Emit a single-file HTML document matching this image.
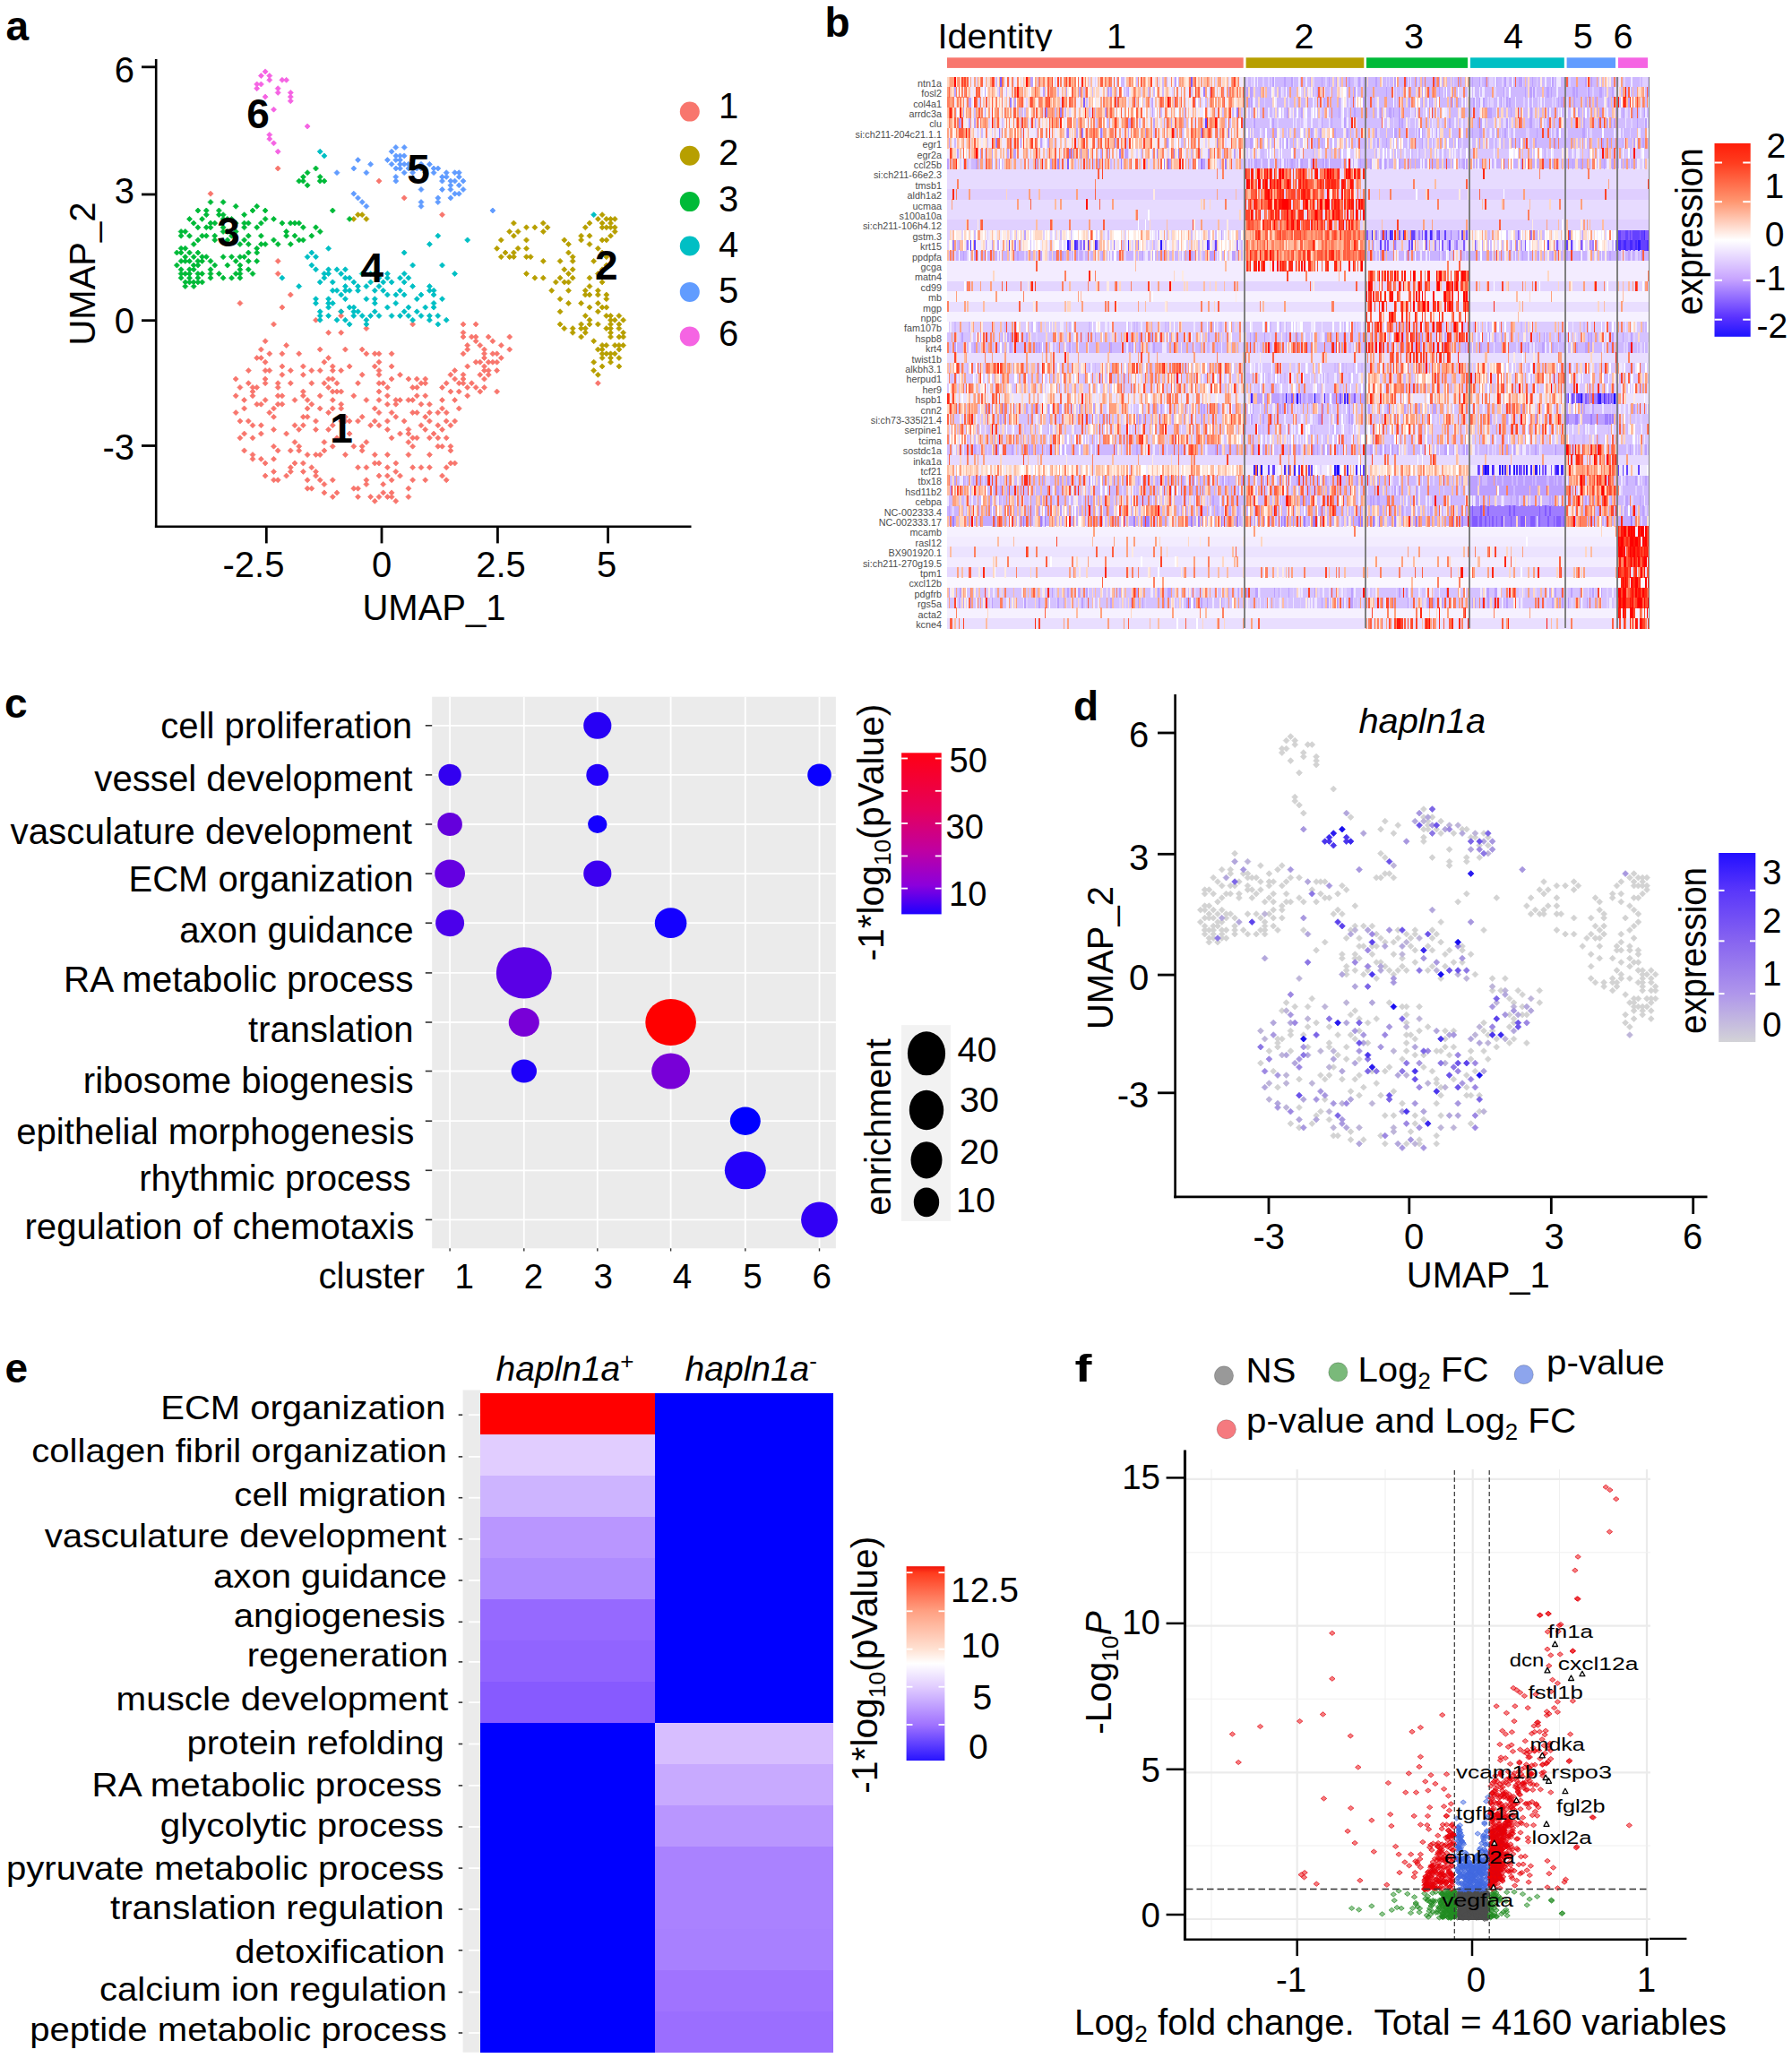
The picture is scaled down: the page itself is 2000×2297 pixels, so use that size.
<!DOCTYPE html>
<html lang="en"><head><meta charset="utf-8"><title>Figure</title>
<style>html,body{margin:0;padding:0;background:#fff}svg{display:block}</style></head>
<body>
<svg width="2000" height="2297" viewBox="0 0 2000 2297" font-family='"Liberation Sans", sans-serif' fill="#000">
<text x="6.5" y="44.6" font-size="46" font-weight="bold">a</text>
<text x="920.5" y="40.5" font-size="46" font-weight="bold">b</text>
<text x="5.0" y="801.3" font-size="46" font-weight="bold">c</text>
<text x="1198.0" y="804.0" font-size="46" font-weight="bold">d</text>
<text x="5.5" y="1542.5" font-size="46" font-weight="bold">e</text>
<text x="1199.5" y="1542.2" font-size="42" font-weight="bold" textLength="19.0" lengthAdjust="spacingAndGlyphs">f</text>
<line x1="174.2" y1="66.0" x2="174.2" y2="589.0" stroke="#000" stroke-width="2.6"/>
<line x1="172.9" y1="587.7" x2="771.5" y2="587.7" stroke="#000" stroke-width="2.6"/>
<line x1="158.0" y1="74.8" x2="174.0" y2="74.8" stroke="#000" stroke-width="2.8"/>
<line x1="158.0" y1="217.0" x2="174.0" y2="217.0" stroke="#000" stroke-width="2.8"/>
<line x1="158.0" y1="357.7" x2="174.0" y2="357.7" stroke="#000" stroke-width="2.8"/>
<line x1="158.0" y1="497.5" x2="174.0" y2="497.5" stroke="#000" stroke-width="2.8"/>
<line x1="297.3" y1="587.7" x2="297.3" y2="606.4" stroke="#000" stroke-width="2.8"/>
<line x1="426.0" y1="587.7" x2="426.0" y2="606.4" stroke="#000" stroke-width="2.8"/>
<line x1="555.4" y1="587.7" x2="555.4" y2="606.4" stroke="#000" stroke-width="2.8"/>
<line x1="678.6" y1="587.7" x2="678.6" y2="606.4" stroke="#000" stroke-width="2.8"/>
<text x="150.0" y="91.5" font-size="40" text-anchor="end">6</text>
<text x="150.0" y="227.2" font-size="40" text-anchor="end">3</text>
<text x="150.0" y="372.2" font-size="40" text-anchor="end">0</text>
<text x="150.0" y="513.0" font-size="40" text-anchor="end">-3</text>
<text x="283.0" y="643.9" font-size="40" text-anchor="middle">-2.5</text>
<text x="426.0" y="643.9" font-size="40" text-anchor="middle">0</text>
<text x="559.0" y="643.9" font-size="40" text-anchor="middle">2.5</text>
<text x="677.0" y="643.9" font-size="40" text-anchor="middle">5</text>
<text x="484.5" y="692.0" font-size="40" text-anchor="middle">UMAP_1</text>
<text x="106.0" y="305.5" font-size="40" text-anchor="middle" transform="rotate(-90 106.0 305.5)">UMAP_2</text>
<path d="M307.2,188.0l3.0,-3.0 3.0,3.0 -3.0,3.0zM232.0,216.2l3.0,-3.0 3.0,3.0 -3.0,3.0zM420.0,202.1l3.0,-3.0 3.0,3.0 -3.0,3.0zM448.2,220.9l3.0,-3.0 3.0,3.0 -3.0,3.0zM307.2,291.4l3.0,-3.0 3.0,3.0 -3.0,3.0zM307.2,305.5l3.0,-3.0 3.0,3.0 -3.0,3.0zM321.3,329.0l3.0,-3.0 3.0,3.0 -3.0,3.0zM264.9,338.4l3.0,-3.0 3.0,3.0 -3.0,3.0zM311.9,343.1l3.0,-3.0 3.0,3.0 -3.0,3.0zM377.7,352.5l3.0,-3.0 3.0,3.0 -3.0,3.0zM490.5,239.7l3.0,-3.0 3.0,3.0 -3.0,3.0zM457.6,361.9l3.0,-3.0 3.0,3.0 -3.0,3.0zM565.7,376.0l3.0,-3.0 3.0,3.0 -3.0,3.0zM565.7,390.1l3.0,-3.0 3.0,3.0 -3.0,3.0zM664.4,427.7l3.0,-3.0 3.0,3.0 -3.0,3.0zM302.5,361.9l3.0,-3.0 3.0,3.0 -3.0,3.0zM349.5,357.2l3.0,-3.0 3.0,3.0 -3.0,3.0zM363.6,371.3l3.0,-3.0 3.0,3.0 -3.0,3.0zM377.7,371.3l3.0,-3.0 3.0,3.0 -3.0,3.0zM405.9,366.6l3.0,-3.0 3.0,3.0 -3.0,3.0zM377.7,347.8l3.0,-3.0 3.0,3.0 -3.0,3.0zM321.3,526.4l3.0,-3.0 3.0,3.0 -3.0,3.0zM424.7,427.7l3.0,-3.0 3.0,3.0 -3.0,3.0zM335.4,418.3l3.0,-3.0 3.0,3.0 -3.0,3.0zM344.8,427.7l3.0,-3.0 3.0,3.0 -3.0,3.0zM499.9,517.0l3.0,-3.0 3.0,3.0 -3.0,3.0zM471.7,535.8l3.0,-3.0 3.0,3.0 -3.0,3.0zM335.4,465.3l3.0,-3.0 3.0,3.0 -3.0,3.0zM387.1,408.9l3.0,-3.0 3.0,3.0 -3.0,3.0zM518.7,385.4l3.0,-3.0 3.0,3.0 -3.0,3.0zM457.6,432.4l3.0,-3.0 3.0,3.0 -3.0,3.0zM532.8,418.3l3.0,-3.0 3.0,3.0 -3.0,3.0zM288.4,399.5l3.0,-3.0 3.0,3.0 -3.0,3.0zM457.6,498.2l3.0,-3.0 3.0,3.0 -3.0,3.0zM344.8,413.6l3.0,-3.0 3.0,3.0 -3.0,3.0zM269.6,484.1l3.0,-3.0 3.0,3.0 -3.0,3.0zM363.6,399.5l3.0,-3.0 3.0,3.0 -3.0,3.0zM391.8,545.2l3.0,-3.0 3.0,3.0 -3.0,3.0zM330.7,394.8l3.0,-3.0 3.0,3.0 -3.0,3.0zM452.9,493.5l3.0,-3.0 3.0,3.0 -3.0,3.0zM415.3,394.8l3.0,-3.0 3.0,3.0 -3.0,3.0zM528.1,380.7l3.0,-3.0 3.0,3.0 -3.0,3.0zM311.9,408.9l3.0,-3.0 3.0,3.0 -3.0,3.0zM415.3,455.9l3.0,-3.0 3.0,3.0 -3.0,3.0zM429.4,507.6l3.0,-3.0 3.0,3.0 -3.0,3.0zM260.2,423.0l3.0,-3.0 3.0,3.0 -3.0,3.0zM302.5,479.4l3.0,-3.0 3.0,3.0 -3.0,3.0zM349.5,531.1l3.0,-3.0 3.0,3.0 -3.0,3.0zM467.0,521.7l3.0,-3.0 3.0,3.0 -3.0,3.0zM382.4,390.1l3.0,-3.0 3.0,3.0 -3.0,3.0zM462.3,423.0l3.0,-3.0 3.0,3.0 -3.0,3.0zM297.8,394.8l3.0,-3.0 3.0,3.0 -3.0,3.0zM377.7,470.0l3.0,-3.0 3.0,3.0 -3.0,3.0zM429.4,441.8l3.0,-3.0 3.0,3.0 -3.0,3.0zM358.9,549.9l3.0,-3.0 3.0,3.0 -3.0,3.0zM495.2,470.0l3.0,-3.0 3.0,3.0 -3.0,3.0zM499.9,474.7l3.0,-3.0 3.0,3.0 -3.0,3.0zM293.1,413.6l3.0,-3.0 3.0,3.0 -3.0,3.0zM354.2,441.8l3.0,-3.0 3.0,3.0 -3.0,3.0zM476.4,521.7l3.0,-3.0 3.0,3.0 -3.0,3.0zM354.2,390.1l3.0,-3.0 3.0,3.0 -3.0,3.0zM490.5,498.2l3.0,-3.0 3.0,3.0 -3.0,3.0zM373.0,427.7l3.0,-3.0 3.0,3.0 -3.0,3.0zM302.5,526.4l3.0,-3.0 3.0,3.0 -3.0,3.0zM396.5,521.7l3.0,-3.0 3.0,3.0 -3.0,3.0zM363.6,423.0l3.0,-3.0 3.0,3.0 -3.0,3.0zM415.3,507.6l3.0,-3.0 3.0,3.0 -3.0,3.0zM528.1,432.4l3.0,-3.0 3.0,3.0 -3.0,3.0zM471.7,441.8l3.0,-3.0 3.0,3.0 -3.0,3.0zM429.4,432.4l3.0,-3.0 3.0,3.0 -3.0,3.0zM340.1,535.8l3.0,-3.0 3.0,3.0 -3.0,3.0zM504.6,423.0l3.0,-3.0 3.0,3.0 -3.0,3.0zM283.7,399.5l3.0,-3.0 3.0,3.0 -3.0,3.0zM429.4,470.0l3.0,-3.0 3.0,3.0 -3.0,3.0zM382.4,470.0l3.0,-3.0 3.0,3.0 -3.0,3.0zM288.4,390.1l3.0,-3.0 3.0,3.0 -3.0,3.0zM462.3,488.8l3.0,-3.0 3.0,3.0 -3.0,3.0zM420.0,517.0l3.0,-3.0 3.0,3.0 -3.0,3.0zM302.5,465.3l3.0,-3.0 3.0,3.0 -3.0,3.0zM377.7,455.9l3.0,-3.0 3.0,3.0 -3.0,3.0zM499.9,498.2l3.0,-3.0 3.0,3.0 -3.0,3.0zM349.5,507.6l3.0,-3.0 3.0,3.0 -3.0,3.0zM405.9,521.7l3.0,-3.0 3.0,3.0 -3.0,3.0zM368.3,535.8l3.0,-3.0 3.0,3.0 -3.0,3.0zM467.0,451.2l3.0,-3.0 3.0,3.0 -3.0,3.0zM429.4,521.7l3.0,-3.0 3.0,3.0 -3.0,3.0zM420.0,554.6l3.0,-3.0 3.0,3.0 -3.0,3.0zM476.4,460.6l3.0,-3.0 3.0,3.0 -3.0,3.0zM518.7,390.1l3.0,-3.0 3.0,3.0 -3.0,3.0zM358.9,502.9l3.0,-3.0 3.0,3.0 -3.0,3.0zM509.3,437.1l3.0,-3.0 3.0,3.0 -3.0,3.0zM279.0,474.7l3.0,-3.0 3.0,3.0 -3.0,3.0zM354.2,413.6l3.0,-3.0 3.0,3.0 -3.0,3.0zM429.4,451.2l3.0,-3.0 3.0,3.0 -3.0,3.0zM349.5,479.4l3.0,-3.0 3.0,3.0 -3.0,3.0zM293.1,427.7l3.0,-3.0 3.0,3.0 -3.0,3.0zM293.1,446.5l3.0,-3.0 3.0,3.0 -3.0,3.0zM551.6,404.2l3.0,-3.0 3.0,3.0 -3.0,3.0zM420.0,418.3l3.0,-3.0 3.0,3.0 -3.0,3.0zM467.0,474.7l3.0,-3.0 3.0,3.0 -3.0,3.0zM443.5,418.3l3.0,-3.0 3.0,3.0 -3.0,3.0zM485.8,498.2l3.0,-3.0 3.0,3.0 -3.0,3.0zM401.2,418.3l3.0,-3.0 3.0,3.0 -3.0,3.0zM269.6,455.9l3.0,-3.0 3.0,3.0 -3.0,3.0zM405.9,394.8l3.0,-3.0 3.0,3.0 -3.0,3.0zM340.1,507.6l3.0,-3.0 3.0,3.0 -3.0,3.0zM363.6,479.4l3.0,-3.0 3.0,3.0 -3.0,3.0zM293.1,531.1l3.0,-3.0 3.0,3.0 -3.0,3.0zM358.9,540.5l3.0,-3.0 3.0,3.0 -3.0,3.0zM438.8,526.4l3.0,-3.0 3.0,3.0 -3.0,3.0zM274.3,470.0l3.0,-3.0 3.0,3.0 -3.0,3.0zM546.9,380.7l3.0,-3.0 3.0,3.0 -3.0,3.0zM551.6,413.6l3.0,-3.0 3.0,3.0 -3.0,3.0zM434.1,549.9l3.0,-3.0 3.0,3.0 -3.0,3.0zM335.4,526.4l3.0,-3.0 3.0,3.0 -3.0,3.0zM260.2,441.8l3.0,-3.0 3.0,3.0 -3.0,3.0zM368.3,474.7l3.0,-3.0 3.0,3.0 -3.0,3.0zM330.7,502.9l3.0,-3.0 3.0,3.0 -3.0,3.0zM542.2,376.0l3.0,-3.0 3.0,3.0 -3.0,3.0zM471.7,427.7l3.0,-3.0 3.0,3.0 -3.0,3.0zM420.0,413.6l3.0,-3.0 3.0,3.0 -3.0,3.0zM415.3,559.3l3.0,-3.0 3.0,3.0 -3.0,3.0zM518.7,441.8l3.0,-3.0 3.0,3.0 -3.0,3.0zM429.4,531.1l3.0,-3.0 3.0,3.0 -3.0,3.0zM316.6,531.1l3.0,-3.0 3.0,3.0 -3.0,3.0zM264.9,470.0l3.0,-3.0 3.0,3.0 -3.0,3.0zM311.9,441.8l3.0,-3.0 3.0,3.0 -3.0,3.0zM438.8,446.5l3.0,-3.0 3.0,3.0 -3.0,3.0zM490.5,479.4l3.0,-3.0 3.0,3.0 -3.0,3.0zM438.8,559.3l3.0,-3.0 3.0,3.0 -3.0,3.0zM326.0,446.5l3.0,-3.0 3.0,3.0 -3.0,3.0zM354.2,455.9l3.0,-3.0 3.0,3.0 -3.0,3.0zM307.2,441.8l3.0,-3.0 3.0,3.0 -3.0,3.0zM471.7,423.0l3.0,-3.0 3.0,3.0 -3.0,3.0zM288.4,484.1l3.0,-3.0 3.0,3.0 -3.0,3.0zM396.5,545.2l3.0,-3.0 3.0,3.0 -3.0,3.0zM288.4,512.3l3.0,-3.0 3.0,3.0 -3.0,3.0zM462.3,432.4l3.0,-3.0 3.0,3.0 -3.0,3.0zM490.5,455.9l3.0,-3.0 3.0,3.0 -3.0,3.0zM401.2,498.2l3.0,-3.0 3.0,3.0 -3.0,3.0zM443.5,446.5l3.0,-3.0 3.0,3.0 -3.0,3.0zM311.9,451.2l3.0,-3.0 3.0,3.0 -3.0,3.0zM424.7,540.5l3.0,-3.0 3.0,3.0 -3.0,3.0zM358.9,404.2l3.0,-3.0 3.0,3.0 -3.0,3.0zM452.9,507.6l3.0,-3.0 3.0,3.0 -3.0,3.0zM330.7,498.2l3.0,-3.0 3.0,3.0 -3.0,3.0zM457.6,535.8l3.0,-3.0 3.0,3.0 -3.0,3.0zM321.3,427.7l3.0,-3.0 3.0,3.0 -3.0,3.0zM485.8,488.8l3.0,-3.0 3.0,3.0 -3.0,3.0zM269.6,446.5l3.0,-3.0 3.0,3.0 -3.0,3.0zM448.2,470.0l3.0,-3.0 3.0,3.0 -3.0,3.0zM335.4,517.0l3.0,-3.0 3.0,3.0 -3.0,3.0zM354.2,535.8l3.0,-3.0 3.0,3.0 -3.0,3.0zM499.9,437.1l3.0,-3.0 3.0,3.0 -3.0,3.0zM420.0,446.5l3.0,-3.0 3.0,3.0 -3.0,3.0zM452.9,423.0l3.0,-3.0 3.0,3.0 -3.0,3.0zM340.1,545.2l3.0,-3.0 3.0,3.0 -3.0,3.0zM363.6,432.4l3.0,-3.0 3.0,3.0 -3.0,3.0zM504.6,517.0l3.0,-3.0 3.0,3.0 -3.0,3.0zM415.3,408.9l3.0,-3.0 3.0,3.0 -3.0,3.0zM495.2,521.7l3.0,-3.0 3.0,3.0 -3.0,3.0zM358.9,427.7l3.0,-3.0 3.0,3.0 -3.0,3.0zM471.7,465.3l3.0,-3.0 3.0,3.0 -3.0,3.0zM495.2,427.7l3.0,-3.0 3.0,3.0 -3.0,3.0zM382.4,507.6l3.0,-3.0 3.0,3.0 -3.0,3.0zM485.8,474.7l3.0,-3.0 3.0,3.0 -3.0,3.0zM269.6,502.9l3.0,-3.0 3.0,3.0 -3.0,3.0zM481.1,484.1l3.0,-3.0 3.0,3.0 -3.0,3.0zM321.3,502.9l3.0,-3.0 3.0,3.0 -3.0,3.0zM326.0,474.7l3.0,-3.0 3.0,3.0 -3.0,3.0zM377.7,413.6l3.0,-3.0 3.0,3.0 -3.0,3.0zM302.5,535.8l3.0,-3.0 3.0,3.0 -3.0,3.0zM452.9,545.2l3.0,-3.0 3.0,3.0 -3.0,3.0zM349.5,470.0l3.0,-3.0 3.0,3.0 -3.0,3.0zM405.9,540.5l3.0,-3.0 3.0,3.0 -3.0,3.0zM434.1,488.8l3.0,-3.0 3.0,3.0 -3.0,3.0zM438.8,517.0l3.0,-3.0 3.0,3.0 -3.0,3.0zM293.1,380.7l3.0,-3.0 3.0,3.0 -3.0,3.0zM326.0,493.5l3.0,-3.0 3.0,3.0 -3.0,3.0zM335.4,437.1l3.0,-3.0 3.0,3.0 -3.0,3.0zM335.4,408.9l3.0,-3.0 3.0,3.0 -3.0,3.0zM368.3,423.0l3.0,-3.0 3.0,3.0 -3.0,3.0zM485.8,460.6l3.0,-3.0 3.0,3.0 -3.0,3.0zM532.8,385.4l3.0,-3.0 3.0,3.0 -3.0,3.0zM410.6,474.7l3.0,-3.0 3.0,3.0 -3.0,3.0zM293.1,423.0l3.0,-3.0 3.0,3.0 -3.0,3.0zM452.9,484.1l3.0,-3.0 3.0,3.0 -3.0,3.0zM279.0,512.3l3.0,-3.0 3.0,3.0 -3.0,3.0zM307.2,427.7l3.0,-3.0 3.0,3.0 -3.0,3.0zM373.0,549.9l3.0,-3.0 3.0,3.0 -3.0,3.0zM335.4,474.7l3.0,-3.0 3.0,3.0 -3.0,3.0zM297.8,413.6l3.0,-3.0 3.0,3.0 -3.0,3.0zM420.0,531.1l3.0,-3.0 3.0,3.0 -3.0,3.0zM420.0,394.8l3.0,-3.0 3.0,3.0 -3.0,3.0zM279.0,432.4l3.0,-3.0 3.0,3.0 -3.0,3.0zM438.8,465.3l3.0,-3.0 3.0,3.0 -3.0,3.0zM429.4,479.4l3.0,-3.0 3.0,3.0 -3.0,3.0zM330.7,479.4l3.0,-3.0 3.0,3.0 -3.0,3.0zM420.0,427.7l3.0,-3.0 3.0,3.0 -3.0,3.0zM387.1,470.0l3.0,-3.0 3.0,3.0 -3.0,3.0zM476.4,488.8l3.0,-3.0 3.0,3.0 -3.0,3.0zM326.0,517.0l3.0,-3.0 3.0,3.0 -3.0,3.0zM405.9,446.5l3.0,-3.0 3.0,3.0 -3.0,3.0zM476.4,507.6l3.0,-3.0 3.0,3.0 -3.0,3.0zM504.6,413.6l3.0,-3.0 3.0,3.0 -3.0,3.0zM462.3,460.6l3.0,-3.0 3.0,3.0 -3.0,3.0zM401.2,465.3l3.0,-3.0 3.0,3.0 -3.0,3.0zM307.2,451.2l3.0,-3.0 3.0,3.0 -3.0,3.0zM363.6,460.6l3.0,-3.0 3.0,3.0 -3.0,3.0zM420.0,437.1l3.0,-3.0 3.0,3.0 -3.0,3.0zM429.4,554.6l3.0,-3.0 3.0,3.0 -3.0,3.0zM354.2,507.6l3.0,-3.0 3.0,3.0 -3.0,3.0zM377.7,437.1l3.0,-3.0 3.0,3.0 -3.0,3.0zM434.1,554.6l3.0,-3.0 3.0,3.0 -3.0,3.0zM452.9,479.4l3.0,-3.0 3.0,3.0 -3.0,3.0zM514.0,427.7l3.0,-3.0 3.0,3.0 -3.0,3.0zM420.0,474.7l3.0,-3.0 3.0,3.0 -3.0,3.0zM279.0,507.6l3.0,-3.0 3.0,3.0 -3.0,3.0zM373.0,488.8l3.0,-3.0 3.0,3.0 -3.0,3.0zM344.8,545.2l3.0,-3.0 3.0,3.0 -3.0,3.0zM368.3,413.6l3.0,-3.0 3.0,3.0 -3.0,3.0zM532.8,404.2l3.0,-3.0 3.0,3.0 -3.0,3.0zM340.1,455.9l3.0,-3.0 3.0,3.0 -3.0,3.0zM321.3,521.7l3.0,-3.0 3.0,3.0 -3.0,3.0zM279.0,441.8l3.0,-3.0 3.0,3.0 -3.0,3.0zM499.9,502.9l3.0,-3.0 3.0,3.0 -3.0,3.0zM509.3,455.9l3.0,-3.0 3.0,3.0 -3.0,3.0zM307.2,535.8l3.0,-3.0 3.0,3.0 -3.0,3.0zM434.1,535.8l3.0,-3.0 3.0,3.0 -3.0,3.0zM302.5,455.9l3.0,-3.0 3.0,3.0 -3.0,3.0zM443.5,531.1l3.0,-3.0 3.0,3.0 -3.0,3.0zM297.8,460.6l3.0,-3.0 3.0,3.0 -3.0,3.0zM438.8,451.2l3.0,-3.0 3.0,3.0 -3.0,3.0zM401.2,390.1l3.0,-3.0 3.0,3.0 -3.0,3.0zM476.4,470.0l3.0,-3.0 3.0,3.0 -3.0,3.0zM349.5,526.4l3.0,-3.0 3.0,3.0 -3.0,3.0zM377.7,451.2l3.0,-3.0 3.0,3.0 -3.0,3.0zM537.5,390.1l3.0,-3.0 3.0,3.0 -3.0,3.0zM288.4,451.2l3.0,-3.0 3.0,3.0 -3.0,3.0zM415.3,517.0l3.0,-3.0 3.0,3.0 -3.0,3.0zM311.9,418.3l3.0,-3.0 3.0,3.0 -3.0,3.0zM490.5,446.5l3.0,-3.0 3.0,3.0 -3.0,3.0zM542.2,404.2l3.0,-3.0 3.0,3.0 -3.0,3.0zM528.1,404.2l3.0,-3.0 3.0,3.0 -3.0,3.0zM279.0,437.1l3.0,-3.0 3.0,3.0 -3.0,3.0zM415.3,470.0l3.0,-3.0 3.0,3.0 -3.0,3.0zM288.4,474.7l3.0,-3.0 3.0,3.0 -3.0,3.0zM396.5,427.7l3.0,-3.0 3.0,3.0 -3.0,3.0zM274.3,413.6l3.0,-3.0 3.0,3.0 -3.0,3.0zM452.9,554.6l3.0,-3.0 3.0,3.0 -3.0,3.0zM293.1,517.0l3.0,-3.0 3.0,3.0 -3.0,3.0zM293.1,404.2l3.0,-3.0 3.0,3.0 -3.0,3.0zM443.5,484.1l3.0,-3.0 3.0,3.0 -3.0,3.0zM504.6,470.0l3.0,-3.0 3.0,3.0 -3.0,3.0zM368.3,554.6l3.0,-3.0 3.0,3.0 -3.0,3.0zM434.1,408.9l3.0,-3.0 3.0,3.0 -3.0,3.0zM368.3,446.5l3.0,-3.0 3.0,3.0 -3.0,3.0zM434.1,423.0l3.0,-3.0 3.0,3.0 -3.0,3.0zM401.2,502.9l3.0,-3.0 3.0,3.0 -3.0,3.0zM260.2,460.6l3.0,-3.0 3.0,3.0 -3.0,3.0zM420.0,404.2l3.0,-3.0 3.0,3.0 -3.0,3.0zM495.2,460.6l3.0,-3.0 3.0,3.0 -3.0,3.0zM368.3,408.9l3.0,-3.0 3.0,3.0 -3.0,3.0zM279.0,488.8l3.0,-3.0 3.0,3.0 -3.0,3.0zM467.0,427.7l3.0,-3.0 3.0,3.0 -3.0,3.0zM391.8,498.2l3.0,-3.0 3.0,3.0 -3.0,3.0zM307.2,432.4l3.0,-3.0 3.0,3.0 -3.0,3.0zM321.3,413.6l3.0,-3.0 3.0,3.0 -3.0,3.0zM264.9,488.8l3.0,-3.0 3.0,3.0 -3.0,3.0zM344.8,451.2l3.0,-3.0 3.0,3.0 -3.0,3.0zM316.6,484.1l3.0,-3.0 3.0,3.0 -3.0,3.0zM471.7,479.4l3.0,-3.0 3.0,3.0 -3.0,3.0zM457.6,460.6l3.0,-3.0 3.0,3.0 -3.0,3.0zM307.2,502.9l3.0,-3.0 3.0,3.0 -3.0,3.0zM457.6,521.7l3.0,-3.0 3.0,3.0 -3.0,3.0zM283.7,451.2l3.0,-3.0 3.0,3.0 -3.0,3.0zM509.3,427.7l3.0,-3.0 3.0,3.0 -3.0,3.0zM434.1,394.8l3.0,-3.0 3.0,3.0 -3.0,3.0zM457.6,488.8l3.0,-3.0 3.0,3.0 -3.0,3.0zM424.7,549.9l3.0,-3.0 3.0,3.0 -3.0,3.0zM358.9,493.5l3.0,-3.0 3.0,3.0 -3.0,3.0zM476.4,451.2l3.0,-3.0 3.0,3.0 -3.0,3.0zM340.1,446.5l3.0,-3.0 3.0,3.0 -3.0,3.0zM405.9,535.8l3.0,-3.0 3.0,3.0 -3.0,3.0zM405.9,493.5l3.0,-3.0 3.0,3.0 -3.0,3.0zM434.1,460.6l3.0,-3.0 3.0,3.0 -3.0,3.0zM264.9,432.4l3.0,-3.0 3.0,3.0 -3.0,3.0zM344.8,521.7l3.0,-3.0 3.0,3.0 -3.0,3.0zM490.5,531.1l3.0,-3.0 3.0,3.0 -3.0,3.0zM335.4,441.8l3.0,-3.0 3.0,3.0 -3.0,3.0zM528.1,376.0l3.0,-3.0 3.0,3.0 -3.0,3.0zM368.3,498.2l3.0,-3.0 3.0,3.0 -3.0,3.0zM420.0,460.6l3.0,-3.0 3.0,3.0 -3.0,3.0zM410.6,554.6l3.0,-3.0 3.0,3.0 -3.0,3.0zM490.5,432.4l3.0,-3.0 3.0,3.0 -3.0,3.0zM523.4,376.0l3.0,-3.0 3.0,3.0 -3.0,3.0zM495.2,488.8l3.0,-3.0 3.0,3.0 -3.0,3.0zM368.3,455.9l3.0,-3.0 3.0,3.0 -3.0,3.0zM556.3,399.5l3.0,-3.0 3.0,3.0 -3.0,3.0zM302.5,512.3l3.0,-3.0 3.0,3.0 -3.0,3.0zM499.9,418.3l3.0,-3.0 3.0,3.0 -3.0,3.0zM274.3,427.7l3.0,-3.0 3.0,3.0 -3.0,3.0zM368.3,437.1l3.0,-3.0 3.0,3.0 -3.0,3.0zM452.9,446.5l3.0,-3.0 3.0,3.0 -3.0,3.0zM396.5,554.6l3.0,-3.0 3.0,3.0 -3.0,3.0zM340.1,465.3l3.0,-3.0 3.0,3.0 -3.0,3.0zM504.6,446.5l3.0,-3.0 3.0,3.0 -3.0,3.0zM391.8,441.8l3.0,-3.0 3.0,3.0 -3.0,3.0zM382.4,465.3l3.0,-3.0 3.0,3.0 -3.0,3.0zM316.6,385.4l3.0,-3.0 3.0,3.0 -3.0,3.0zM542.2,418.3l3.0,-3.0 3.0,3.0 -3.0,3.0zM462.3,441.8l3.0,-3.0 3.0,3.0 -3.0,3.0zM396.5,470.0l3.0,-3.0 3.0,3.0 -3.0,3.0zM311.9,394.8l3.0,-3.0 3.0,3.0 -3.0,3.0zM302.5,498.2l3.0,-3.0 3.0,3.0 -3.0,3.0zM387.1,484.1l3.0,-3.0 3.0,3.0 -3.0,3.0zM457.6,446.5l3.0,-3.0 3.0,3.0 -3.0,3.0zM283.7,432.4l3.0,-3.0 3.0,3.0 -3.0,3.0zM551.6,437.1l3.0,-3.0 3.0,3.0 -3.0,3.0zM495.2,535.8l3.0,-3.0 3.0,3.0 -3.0,3.0zM373.0,437.1l3.0,-3.0 3.0,3.0 -3.0,3.0zM514.0,371.3l3.0,-3.0 3.0,3.0 -3.0,3.0zM537.5,399.5l3.0,-3.0 3.0,3.0 -3.0,3.0zM532.8,437.1l3.0,-3.0 3.0,3.0 -3.0,3.0zM518.7,408.9l3.0,-3.0 3.0,3.0 -3.0,3.0zM518.7,432.4l3.0,-3.0 3.0,3.0 -3.0,3.0zM514.0,418.3l3.0,-3.0 3.0,3.0 -3.0,3.0zM514.0,376.0l3.0,-3.0 3.0,3.0 -3.0,3.0zM551.6,394.8l3.0,-3.0 3.0,3.0 -3.0,3.0zM528.1,361.9l3.0,-3.0 3.0,3.0 -3.0,3.0zM546.9,394.8l3.0,-3.0 3.0,3.0 -3.0,3.0zM514.0,361.9l3.0,-3.0 3.0,3.0 -3.0,3.0zM537.5,413.6l3.0,-3.0 3.0,3.0 -3.0,3.0zM546.9,404.2l3.0,-3.0 3.0,3.0 -3.0,3.0zM514.0,394.8l3.0,-3.0 3.0,3.0 -3.0,3.0zM514.0,423.0l3.0,-3.0 3.0,3.0 -3.0,3.0zM537.5,423.0l3.0,-3.0 3.0,3.0 -3.0,3.0zM556.3,385.4l3.0,-3.0 3.0,3.0 -3.0,3.0zM537.5,394.8l3.0,-3.0 3.0,3.0 -3.0,3.0zM542.2,413.6l3.0,-3.0 3.0,3.0 -3.0,3.0zM537.5,432.4l3.0,-3.0 3.0,3.0 -3.0,3.0zM523.4,427.7l3.0,-3.0 3.0,3.0 -3.0,3.0zM537.5,408.9l3.0,-3.0 3.0,3.0 -3.0,3.0z" fill="#F8766D" stroke="#F8766D" stroke-width="0.8" stroke-linejoin="round"/>
<path d="M396.5,239.7l3.0,-3.0 3.0,3.0 -3.0,3.0zM391.8,244.4l3.0,-3.0 3.0,3.0 -3.0,3.0zM405.9,244.4l3.0,-3.0 3.0,3.0 -3.0,3.0zM401.2,239.7l3.0,-3.0 3.0,3.0 -3.0,3.0zM664.4,305.5l3.0,-3.0 3.0,3.0 -3.0,3.0zM692.6,371.3l3.0,-3.0 3.0,3.0 -3.0,3.0zM593.9,253.8l3.0,-3.0 3.0,3.0 -3.0,3.0zM655.0,310.2l3.0,-3.0 3.0,3.0 -3.0,3.0zM678.5,376.0l3.0,-3.0 3.0,3.0 -3.0,3.0zM612.7,324.3l3.0,-3.0 3.0,3.0 -3.0,3.0zM669.1,314.9l3.0,-3.0 3.0,3.0 -3.0,3.0zM645.6,376.0l3.0,-3.0 3.0,3.0 -3.0,3.0zM603.3,249.1l3.0,-3.0 3.0,3.0 -3.0,3.0zM645.6,338.4l3.0,-3.0 3.0,3.0 -3.0,3.0zM659.7,380.7l3.0,-3.0 3.0,3.0 -3.0,3.0zM561.0,282.0l3.0,-3.0 3.0,3.0 -3.0,3.0zM655.0,343.1l3.0,-3.0 3.0,3.0 -3.0,3.0zM650.3,329.0l3.0,-3.0 3.0,3.0 -3.0,3.0zM673.8,267.9l3.0,-3.0 3.0,3.0 -3.0,3.0zM584.5,286.7l3.0,-3.0 3.0,3.0 -3.0,3.0zM589.2,286.7l3.0,-3.0 3.0,3.0 -3.0,3.0zM673.8,343.1l3.0,-3.0 3.0,3.0 -3.0,3.0zM617.4,314.9l3.0,-3.0 3.0,3.0 -3.0,3.0zM673.8,385.4l3.0,-3.0 3.0,3.0 -3.0,3.0zM673.8,286.7l3.0,-3.0 3.0,3.0 -3.0,3.0zM570.4,249.1l3.0,-3.0 3.0,3.0 -3.0,3.0zM622.1,310.2l3.0,-3.0 3.0,3.0 -3.0,3.0zM631.5,305.5l3.0,-3.0 3.0,3.0 -3.0,3.0zM664.4,277.3l3.0,-3.0 3.0,3.0 -3.0,3.0zM626.8,300.8l3.0,-3.0 3.0,3.0 -3.0,3.0zM664.4,347.8l3.0,-3.0 3.0,3.0 -3.0,3.0zM673.8,253.8l3.0,-3.0 3.0,3.0 -3.0,3.0zM631.5,272.6l3.0,-3.0 3.0,3.0 -3.0,3.0zM664.4,329.0l3.0,-3.0 3.0,3.0 -3.0,3.0zM645.6,361.9l3.0,-3.0 3.0,3.0 -3.0,3.0zM584.5,277.3l3.0,-3.0 3.0,3.0 -3.0,3.0zM669.1,267.9l3.0,-3.0 3.0,3.0 -3.0,3.0zM659.7,413.6l3.0,-3.0 3.0,3.0 -3.0,3.0zM645.6,267.9l3.0,-3.0 3.0,3.0 -3.0,3.0zM626.8,267.9l3.0,-3.0 3.0,3.0 -3.0,3.0zM664.4,418.3l3.0,-3.0 3.0,3.0 -3.0,3.0zM655.0,319.6l3.0,-3.0 3.0,3.0 -3.0,3.0zM645.6,263.2l3.0,-3.0 3.0,3.0 -3.0,3.0zM584.5,305.5l3.0,-3.0 3.0,3.0 -3.0,3.0zM655.0,329.0l3.0,-3.0 3.0,3.0 -3.0,3.0zM683.2,258.5l3.0,-3.0 3.0,3.0 -3.0,3.0zM631.5,338.4l3.0,-3.0 3.0,3.0 -3.0,3.0zM556.3,267.9l3.0,-3.0 3.0,3.0 -3.0,3.0zM669.1,282.0l3.0,-3.0 3.0,3.0 -3.0,3.0zM683.2,244.4l3.0,-3.0 3.0,3.0 -3.0,3.0zM631.5,324.3l3.0,-3.0 3.0,3.0 -3.0,3.0zM593.9,310.2l3.0,-3.0 3.0,3.0 -3.0,3.0zM673.8,329.0l3.0,-3.0 3.0,3.0 -3.0,3.0zM565.7,258.5l3.0,-3.0 3.0,3.0 -3.0,3.0zM678.5,263.2l3.0,-3.0 3.0,3.0 -3.0,3.0zM570.4,263.2l3.0,-3.0 3.0,3.0 -3.0,3.0zM626.8,366.6l3.0,-3.0 3.0,3.0 -3.0,3.0zM565.7,286.7l3.0,-3.0 3.0,3.0 -3.0,3.0zM622.1,291.4l3.0,-3.0 3.0,3.0 -3.0,3.0zM631.5,282.0l3.0,-3.0 3.0,3.0 -3.0,3.0zM650.3,253.8l3.0,-3.0 3.0,3.0 -3.0,3.0zM636.2,366.6l3.0,-3.0 3.0,3.0 -3.0,3.0zM664.4,324.3l3.0,-3.0 3.0,3.0 -3.0,3.0zM603.3,258.5l3.0,-3.0 3.0,3.0 -3.0,3.0zM570.4,282.0l3.0,-3.0 3.0,3.0 -3.0,3.0zM692.6,385.4l3.0,-3.0 3.0,3.0 -3.0,3.0zM659.7,404.2l3.0,-3.0 3.0,3.0 -3.0,3.0zM655.0,357.2l3.0,-3.0 3.0,3.0 -3.0,3.0zM687.9,361.9l3.0,-3.0 3.0,3.0 -3.0,3.0zM655.0,263.2l3.0,-3.0 3.0,3.0 -3.0,3.0zM669.1,408.9l3.0,-3.0 3.0,3.0 -3.0,3.0zM669.1,385.4l3.0,-3.0 3.0,3.0 -3.0,3.0zM673.8,296.1l3.0,-3.0 3.0,3.0 -3.0,3.0zM575.1,277.3l3.0,-3.0 3.0,3.0 -3.0,3.0zM645.6,366.6l3.0,-3.0 3.0,3.0 -3.0,3.0zM664.4,361.9l3.0,-3.0 3.0,3.0 -3.0,3.0zM687.9,390.1l3.0,-3.0 3.0,3.0 -3.0,3.0zM636.2,291.4l3.0,-3.0 3.0,3.0 -3.0,3.0zM673.8,333.7l3.0,-3.0 3.0,3.0 -3.0,3.0zM678.5,361.9l3.0,-3.0 3.0,3.0 -3.0,3.0zM636.2,310.2l3.0,-3.0 3.0,3.0 -3.0,3.0zM622.1,361.9l3.0,-3.0 3.0,3.0 -3.0,3.0zM678.5,371.3l3.0,-3.0 3.0,3.0 -3.0,3.0zM655.0,249.1l3.0,-3.0 3.0,3.0 -3.0,3.0zM687.9,399.5l3.0,-3.0 3.0,3.0 -3.0,3.0zM659.7,291.4l3.0,-3.0 3.0,3.0 -3.0,3.0zM626.8,314.9l3.0,-3.0 3.0,3.0 -3.0,3.0zM650.3,366.6l3.0,-3.0 3.0,3.0 -3.0,3.0zM584.5,267.9l3.0,-3.0 3.0,3.0 -3.0,3.0zM655.0,272.6l3.0,-3.0 3.0,3.0 -3.0,3.0zM556.3,286.7l3.0,-3.0 3.0,3.0 -3.0,3.0zM603.3,310.2l3.0,-3.0 3.0,3.0 -3.0,3.0zM636.2,286.7l3.0,-3.0 3.0,3.0 -3.0,3.0zM669.1,343.1l3.0,-3.0 3.0,3.0 -3.0,3.0zM655.0,361.9l3.0,-3.0 3.0,3.0 -3.0,3.0zM687.9,376.0l3.0,-3.0 3.0,3.0 -3.0,3.0zM622.1,333.7l3.0,-3.0 3.0,3.0 -3.0,3.0zM664.4,390.1l3.0,-3.0 3.0,3.0 -3.0,3.0zM678.5,404.2l3.0,-3.0 3.0,3.0 -3.0,3.0zM650.3,352.5l3.0,-3.0 3.0,3.0 -3.0,3.0zM584.5,253.8l3.0,-3.0 3.0,3.0 -3.0,3.0zM575.1,258.5l3.0,-3.0 3.0,3.0 -3.0,3.0zM669.1,300.8l3.0,-3.0 3.0,3.0 -3.0,3.0zM636.2,300.8l3.0,-3.0 3.0,3.0 -3.0,3.0zM664.4,338.4l3.0,-3.0 3.0,3.0 -3.0,3.0zM608.0,253.8l3.0,-3.0 3.0,3.0 -3.0,3.0zM636.2,371.3l3.0,-3.0 3.0,3.0 -3.0,3.0zM631.5,314.9l3.0,-3.0 3.0,3.0 -3.0,3.0zM622.1,347.8l3.0,-3.0 3.0,3.0 -3.0,3.0zM650.3,324.3l3.0,-3.0 3.0,3.0 -3.0,3.0zM603.3,291.4l3.0,-3.0 3.0,3.0 -3.0,3.0zM570.4,286.7l3.0,-3.0 3.0,3.0 -3.0,3.0zM692.6,376.0l3.0,-3.0 3.0,3.0 -3.0,3.0zM687.9,408.9l3.0,-3.0 3.0,3.0 -3.0,3.0zM650.3,371.3l3.0,-3.0 3.0,3.0 -3.0,3.0zM551.6,277.3l3.0,-3.0 3.0,3.0 -3.0,3.0zM673.8,366.6l3.0,-3.0 3.0,3.0 -3.0,3.0zM692.6,357.2l3.0,-3.0 3.0,3.0 -3.0,3.0zM673.8,352.5l3.0,-3.0 3.0,3.0 -3.0,3.0zM678.5,366.6l3.0,-3.0 3.0,3.0 -3.0,3.0zM683.2,357.2l3.0,-3.0 3.0,3.0 -3.0,3.0zM678.5,352.5l3.0,-3.0 3.0,3.0 -3.0,3.0zM687.9,366.6l3.0,-3.0 3.0,3.0 -3.0,3.0zM687.9,352.5l3.0,-3.0 3.0,3.0 -3.0,3.0zM678.5,357.2l3.0,-3.0 3.0,3.0 -3.0,3.0zM683.2,385.4l3.0,-3.0 3.0,3.0 -3.0,3.0zM678.5,394.8l3.0,-3.0 3.0,3.0 -3.0,3.0zM673.8,394.8l3.0,-3.0 3.0,3.0 -3.0,3.0zM678.5,399.5l3.0,-3.0 3.0,3.0 -3.0,3.0zM683.2,394.8l3.0,-3.0 3.0,3.0 -3.0,3.0zM669.1,399.5l3.0,-3.0 3.0,3.0 -3.0,3.0zM669.1,390.1l3.0,-3.0 3.0,3.0 -3.0,3.0zM687.9,385.4l3.0,-3.0 3.0,3.0 -3.0,3.0zM669.1,394.8l3.0,-3.0 3.0,3.0 -3.0,3.0zM669.1,249.1l3.0,-3.0 3.0,3.0 -3.0,3.0zM669.1,239.7l3.0,-3.0 3.0,3.0 -3.0,3.0zM669.1,253.8l3.0,-3.0 3.0,3.0 -3.0,3.0zM683.2,253.8l3.0,-3.0 3.0,3.0 -3.0,3.0zM673.8,244.4l3.0,-3.0 3.0,3.0 -3.0,3.0zM678.5,249.1l3.0,-3.0 3.0,3.0 -3.0,3.0zM678.5,244.4l3.0,-3.0 3.0,3.0 -3.0,3.0zM678.5,253.8l3.0,-3.0 3.0,3.0 -3.0,3.0zM664.4,244.4l3.0,-3.0 3.0,3.0 -3.0,3.0z" fill="#B79F00" stroke="#B79F00" stroke-width="0.8" stroke-linejoin="round"/>
<path d="M349.5,188.0l3.0,-3.0 3.0,3.0 -3.0,3.0zM340.1,192.7l3.0,-3.0 3.0,3.0 -3.0,3.0zM335.4,197.4l3.0,-3.0 3.0,3.0 -3.0,3.0zM330.7,202.1l3.0,-3.0 3.0,3.0 -3.0,3.0zM335.4,202.1l3.0,-3.0 3.0,3.0 -3.0,3.0zM354.2,197.4l3.0,-3.0 3.0,3.0 -3.0,3.0zM358.9,202.1l3.0,-3.0 3.0,3.0 -3.0,3.0zM340.1,206.8l3.0,-3.0 3.0,3.0 -3.0,3.0zM354.2,202.1l3.0,-3.0 3.0,3.0 -3.0,3.0zM368.3,235.0l3.0,-3.0 3.0,3.0 -3.0,3.0zM387.1,244.4l3.0,-3.0 3.0,3.0 -3.0,3.0zM194.4,282.0l3.0,-3.0 3.0,3.0 -3.0,3.0zM246.1,244.4l3.0,-3.0 3.0,3.0 -3.0,3.0zM274.3,300.8l3.0,-3.0 3.0,3.0 -3.0,3.0zM241.4,239.7l3.0,-3.0 3.0,3.0 -3.0,3.0zM241.4,235.0l3.0,-3.0 3.0,3.0 -3.0,3.0zM208.5,263.2l3.0,-3.0 3.0,3.0 -3.0,3.0zM246.1,225.6l3.0,-3.0 3.0,3.0 -3.0,3.0zM260.2,230.3l3.0,-3.0 3.0,3.0 -3.0,3.0zM246.1,258.5l3.0,-3.0 3.0,3.0 -3.0,3.0zM293.1,235.0l3.0,-3.0 3.0,3.0 -3.0,3.0zM213.2,319.6l3.0,-3.0 3.0,3.0 -3.0,3.0zM199.1,258.5l3.0,-3.0 3.0,3.0 -3.0,3.0zM269.6,239.7l3.0,-3.0 3.0,3.0 -3.0,3.0zM288.4,249.1l3.0,-3.0 3.0,3.0 -3.0,3.0zM279.0,235.0l3.0,-3.0 3.0,3.0 -3.0,3.0zM213.2,249.1l3.0,-3.0 3.0,3.0 -3.0,3.0zM246.1,253.8l3.0,-3.0 3.0,3.0 -3.0,3.0zM208.5,314.9l3.0,-3.0 3.0,3.0 -3.0,3.0zM264.9,310.2l3.0,-3.0 3.0,3.0 -3.0,3.0zM213.2,300.8l3.0,-3.0 3.0,3.0 -3.0,3.0zM203.8,277.3l3.0,-3.0 3.0,3.0 -3.0,3.0zM260.2,258.5l3.0,-3.0 3.0,3.0 -3.0,3.0zM283.7,277.3l3.0,-3.0 3.0,3.0 -3.0,3.0zM255.5,310.2l3.0,-3.0 3.0,3.0 -3.0,3.0zM274.3,249.1l3.0,-3.0 3.0,3.0 -3.0,3.0zM232.0,300.8l3.0,-3.0 3.0,3.0 -3.0,3.0zM255.5,286.7l3.0,-3.0 3.0,3.0 -3.0,3.0zM255.5,263.2l3.0,-3.0 3.0,3.0 -3.0,3.0zM246.1,310.2l3.0,-3.0 3.0,3.0 -3.0,3.0zM208.5,244.4l3.0,-3.0 3.0,3.0 -3.0,3.0zM217.9,282.0l3.0,-3.0 3.0,3.0 -3.0,3.0zM255.5,244.4l3.0,-3.0 3.0,3.0 -3.0,3.0zM217.9,235.0l3.0,-3.0 3.0,3.0 -3.0,3.0zM203.8,286.7l3.0,-3.0 3.0,3.0 -3.0,3.0zM236.7,249.1l3.0,-3.0 3.0,3.0 -3.0,3.0zM250.8,258.5l3.0,-3.0 3.0,3.0 -3.0,3.0zM217.9,310.2l3.0,-3.0 3.0,3.0 -3.0,3.0zM199.1,277.3l3.0,-3.0 3.0,3.0 -3.0,3.0zM199.1,300.8l3.0,-3.0 3.0,3.0 -3.0,3.0zM246.1,286.7l3.0,-3.0 3.0,3.0 -3.0,3.0zM227.3,253.8l3.0,-3.0 3.0,3.0 -3.0,3.0zM199.1,310.2l3.0,-3.0 3.0,3.0 -3.0,3.0zM274.3,291.4l3.0,-3.0 3.0,3.0 -3.0,3.0zM269.6,267.9l3.0,-3.0 3.0,3.0 -3.0,3.0zM264.9,305.5l3.0,-3.0 3.0,3.0 -3.0,3.0zM269.6,249.1l3.0,-3.0 3.0,3.0 -3.0,3.0zM250.8,267.9l3.0,-3.0 3.0,3.0 -3.0,3.0zM274.3,272.6l3.0,-3.0 3.0,3.0 -3.0,3.0zM222.6,286.7l3.0,-3.0 3.0,3.0 -3.0,3.0zM293.1,244.4l3.0,-3.0 3.0,3.0 -3.0,3.0zM222.6,244.4l3.0,-3.0 3.0,3.0 -3.0,3.0zM269.6,253.8l3.0,-3.0 3.0,3.0 -3.0,3.0zM283.7,253.8l3.0,-3.0 3.0,3.0 -3.0,3.0zM260.2,291.4l3.0,-3.0 3.0,3.0 -3.0,3.0zM241.4,305.5l3.0,-3.0 3.0,3.0 -3.0,3.0zM236.7,296.1l3.0,-3.0 3.0,3.0 -3.0,3.0zM203.8,314.9l3.0,-3.0 3.0,3.0 -3.0,3.0zM227.3,235.0l3.0,-3.0 3.0,3.0 -3.0,3.0zM264.9,286.7l3.0,-3.0 3.0,3.0 -3.0,3.0zM264.9,296.1l3.0,-3.0 3.0,3.0 -3.0,3.0zM199.1,282.0l3.0,-3.0 3.0,3.0 -3.0,3.0zM232.0,305.5l3.0,-3.0 3.0,3.0 -3.0,3.0zM279.0,305.5l3.0,-3.0 3.0,3.0 -3.0,3.0zM260.2,305.5l3.0,-3.0 3.0,3.0 -3.0,3.0zM260.2,249.1l3.0,-3.0 3.0,3.0 -3.0,3.0zM227.3,263.2l3.0,-3.0 3.0,3.0 -3.0,3.0zM222.6,291.4l3.0,-3.0 3.0,3.0 -3.0,3.0zM232.0,253.8l3.0,-3.0 3.0,3.0 -3.0,3.0zM293.1,272.6l3.0,-3.0 3.0,3.0 -3.0,3.0zM283.7,282.0l3.0,-3.0 3.0,3.0 -3.0,3.0zM199.1,263.2l3.0,-3.0 3.0,3.0 -3.0,3.0zM232.0,291.4l3.0,-3.0 3.0,3.0 -3.0,3.0zM250.8,244.4l3.0,-3.0 3.0,3.0 -3.0,3.0zM283.7,230.3l3.0,-3.0 3.0,3.0 -3.0,3.0zM213.2,272.6l3.0,-3.0 3.0,3.0 -3.0,3.0zM264.9,272.6l3.0,-3.0 3.0,3.0 -3.0,3.0zM264.9,300.8l3.0,-3.0 3.0,3.0 -3.0,3.0zM236.7,263.2l3.0,-3.0 3.0,3.0 -3.0,3.0zM288.4,272.6l3.0,-3.0 3.0,3.0 -3.0,3.0zM232.0,310.2l3.0,-3.0 3.0,3.0 -3.0,3.0zM217.9,267.9l3.0,-3.0 3.0,3.0 -3.0,3.0zM250.8,296.1l3.0,-3.0 3.0,3.0 -3.0,3.0zM269.6,286.7l3.0,-3.0 3.0,3.0 -3.0,3.0zM208.5,305.5l3.0,-3.0 3.0,3.0 -3.0,3.0zM274.3,282.0l3.0,-3.0 3.0,3.0 -3.0,3.0zM217.9,253.8l3.0,-3.0 3.0,3.0 -3.0,3.0zM246.1,239.7l3.0,-3.0 3.0,3.0 -3.0,3.0zM227.3,239.7l3.0,-3.0 3.0,3.0 -3.0,3.0zM203.8,258.5l3.0,-3.0 3.0,3.0 -3.0,3.0zM213.2,286.7l3.0,-3.0 3.0,3.0 -3.0,3.0zM232.0,225.6l3.0,-3.0 3.0,3.0 -3.0,3.0zM208.5,282.0l3.0,-3.0 3.0,3.0 -3.0,3.0zM288.4,263.2l3.0,-3.0 3.0,3.0 -3.0,3.0zM283.7,291.4l3.0,-3.0 3.0,3.0 -3.0,3.0zM227.3,286.7l3.0,-3.0 3.0,3.0 -3.0,3.0zM236.7,267.9l3.0,-3.0 3.0,3.0 -3.0,3.0zM274.3,263.2l3.0,-3.0 3.0,3.0 -3.0,3.0zM222.6,263.2l3.0,-3.0 3.0,3.0 -3.0,3.0zM232.0,249.1l3.0,-3.0 3.0,3.0 -3.0,3.0zM217.9,296.1l3.0,-3.0 3.0,3.0 -3.0,3.0zM354.2,258.5l3.0,-3.0 3.0,3.0 -3.0,3.0zM307.2,272.6l3.0,-3.0 3.0,3.0 -3.0,3.0zM321.3,249.1l3.0,-3.0 3.0,3.0 -3.0,3.0zM302.5,267.9l3.0,-3.0 3.0,3.0 -3.0,3.0zM344.8,263.2l3.0,-3.0 3.0,3.0 -3.0,3.0zM326.0,263.2l3.0,-3.0 3.0,3.0 -3.0,3.0zM316.6,263.2l3.0,-3.0 3.0,3.0 -3.0,3.0zM326.0,249.1l3.0,-3.0 3.0,3.0 -3.0,3.0zM349.5,253.8l3.0,-3.0 3.0,3.0 -3.0,3.0zM311.9,249.1l3.0,-3.0 3.0,3.0 -3.0,3.0zM316.6,258.5l3.0,-3.0 3.0,3.0 -3.0,3.0zM335.4,253.8l3.0,-3.0 3.0,3.0 -3.0,3.0zM302.5,244.4l3.0,-3.0 3.0,3.0 -3.0,3.0zM335.4,267.9l3.0,-3.0 3.0,3.0 -3.0,3.0zM330.7,267.9l3.0,-3.0 3.0,3.0 -3.0,3.0zM321.3,272.6l3.0,-3.0 3.0,3.0 -3.0,3.0zM330.7,249.1l3.0,-3.0 3.0,3.0 -3.0,3.0zM208.5,291.4l3.0,-3.0 3.0,3.0 -3.0,3.0zM208.5,300.8l3.0,-3.0 3.0,3.0 -3.0,3.0zM217.9,305.5l3.0,-3.0 3.0,3.0 -3.0,3.0zM213.2,314.9l3.0,-3.0 3.0,3.0 -3.0,3.0zM203.8,305.5l3.0,-3.0 3.0,3.0 -3.0,3.0zM222.6,305.5l3.0,-3.0 3.0,3.0 -3.0,3.0zM194.4,296.1l3.0,-3.0 3.0,3.0 -3.0,3.0zM217.9,314.9l3.0,-3.0 3.0,3.0 -3.0,3.0zM213.2,296.1l3.0,-3.0 3.0,3.0 -3.0,3.0zM222.6,314.9l3.0,-3.0 3.0,3.0 -3.0,3.0zM199.1,291.4l3.0,-3.0 3.0,3.0 -3.0,3.0zM217.9,291.4l3.0,-3.0 3.0,3.0 -3.0,3.0zM203.8,319.6l3.0,-3.0 3.0,3.0 -3.0,3.0zM208.5,310.2l3.0,-3.0 3.0,3.0 -3.0,3.0zM203.8,291.4l3.0,-3.0 3.0,3.0 -3.0,3.0zM199.1,305.5l3.0,-3.0 3.0,3.0 -3.0,3.0z" fill="#00BA38" stroke="#00BA38" stroke-width="0.8" stroke-linejoin="round"/>
<path d="M354.2,169.2l3.0,-3.0 3.0,3.0 -3.0,3.0zM358.9,173.9l3.0,-3.0 3.0,3.0 -3.0,3.0zM485.8,263.2l3.0,-3.0 3.0,3.0 -3.0,3.0zM476.4,272.6l3.0,-3.0 3.0,3.0 -3.0,3.0zM518.7,267.9l3.0,-3.0 3.0,3.0 -3.0,3.0zM448.2,282.0l3.0,-3.0 3.0,3.0 -3.0,3.0zM457.6,296.1l3.0,-3.0 3.0,3.0 -3.0,3.0zM490.5,296.1l3.0,-3.0 3.0,3.0 -3.0,3.0zM504.6,305.5l3.0,-3.0 3.0,3.0 -3.0,3.0zM476.4,319.6l3.0,-3.0 3.0,3.0 -3.0,3.0zM490.5,333.7l3.0,-3.0 3.0,3.0 -3.0,3.0zM659.7,239.7l3.0,-3.0 3.0,3.0 -3.0,3.0zM311.9,310.2l3.0,-3.0 3.0,3.0 -3.0,3.0zM330.7,319.6l3.0,-3.0 3.0,3.0 -3.0,3.0zM391.8,347.8l3.0,-3.0 3.0,3.0 -3.0,3.0zM429.4,343.1l3.0,-3.0 3.0,3.0 -3.0,3.0zM363.6,333.7l3.0,-3.0 3.0,3.0 -3.0,3.0zM434.1,314.9l3.0,-3.0 3.0,3.0 -3.0,3.0zM462.3,347.8l3.0,-3.0 3.0,3.0 -3.0,3.0zM344.8,296.1l3.0,-3.0 3.0,3.0 -3.0,3.0zM368.3,338.4l3.0,-3.0 3.0,3.0 -3.0,3.0zM391.8,314.9l3.0,-3.0 3.0,3.0 -3.0,3.0zM349.5,338.4l3.0,-3.0 3.0,3.0 -3.0,3.0zM354.2,314.9l3.0,-3.0 3.0,3.0 -3.0,3.0zM476.4,357.2l3.0,-3.0 3.0,3.0 -3.0,3.0zM363.6,343.1l3.0,-3.0 3.0,3.0 -3.0,3.0zM471.7,343.1l3.0,-3.0 3.0,3.0 -3.0,3.0zM396.5,324.3l3.0,-3.0 3.0,3.0 -3.0,3.0zM396.5,347.8l3.0,-3.0 3.0,3.0 -3.0,3.0zM429.4,329.0l3.0,-3.0 3.0,3.0 -3.0,3.0zM485.8,361.9l3.0,-3.0 3.0,3.0 -3.0,3.0zM420.0,319.6l3.0,-3.0 3.0,3.0 -3.0,3.0zM363.6,300.8l3.0,-3.0 3.0,3.0 -3.0,3.0zM476.4,352.5l3.0,-3.0 3.0,3.0 -3.0,3.0zM382.4,333.7l3.0,-3.0 3.0,3.0 -3.0,3.0zM420.0,310.2l3.0,-3.0 3.0,3.0 -3.0,3.0zM448.2,347.8l3.0,-3.0 3.0,3.0 -3.0,3.0zM387.1,310.2l3.0,-3.0 3.0,3.0 -3.0,3.0zM429.4,305.5l3.0,-3.0 3.0,3.0 -3.0,3.0zM495.2,357.2l3.0,-3.0 3.0,3.0 -3.0,3.0zM448.2,329.0l3.0,-3.0 3.0,3.0 -3.0,3.0zM387.1,324.3l3.0,-3.0 3.0,3.0 -3.0,3.0zM391.8,352.5l3.0,-3.0 3.0,3.0 -3.0,3.0zM340.1,286.7l3.0,-3.0 3.0,3.0 -3.0,3.0zM448.2,314.9l3.0,-3.0 3.0,3.0 -3.0,3.0zM349.5,333.7l3.0,-3.0 3.0,3.0 -3.0,3.0zM405.9,319.6l3.0,-3.0 3.0,3.0 -3.0,3.0zM354.2,352.5l3.0,-3.0 3.0,3.0 -3.0,3.0zM415.3,324.3l3.0,-3.0 3.0,3.0 -3.0,3.0zM373.0,324.3l3.0,-3.0 3.0,3.0 -3.0,3.0zM410.6,352.5l3.0,-3.0 3.0,3.0 -3.0,3.0zM377.7,305.5l3.0,-3.0 3.0,3.0 -3.0,3.0zM373.0,300.8l3.0,-3.0 3.0,3.0 -3.0,3.0zM452.9,310.2l3.0,-3.0 3.0,3.0 -3.0,3.0zM481.1,329.0l3.0,-3.0 3.0,3.0 -3.0,3.0zM481.1,324.3l3.0,-3.0 3.0,3.0 -3.0,3.0zM485.8,352.5l3.0,-3.0 3.0,3.0 -3.0,3.0zM391.8,343.1l3.0,-3.0 3.0,3.0 -3.0,3.0zM358.9,305.5l3.0,-3.0 3.0,3.0 -3.0,3.0zM354.2,357.2l3.0,-3.0 3.0,3.0 -3.0,3.0zM368.3,314.9l3.0,-3.0 3.0,3.0 -3.0,3.0zM476.4,324.3l3.0,-3.0 3.0,3.0 -3.0,3.0zM354.2,347.8l3.0,-3.0 3.0,3.0 -3.0,3.0zM368.3,324.3l3.0,-3.0 3.0,3.0 -3.0,3.0zM420.0,352.5l3.0,-3.0 3.0,3.0 -3.0,3.0zM448.2,305.5l3.0,-3.0 3.0,3.0 -3.0,3.0zM349.5,300.8l3.0,-3.0 3.0,3.0 -3.0,3.0zM373.0,357.2l3.0,-3.0 3.0,3.0 -3.0,3.0zM363.6,305.5l3.0,-3.0 3.0,3.0 -3.0,3.0zM401.2,305.5l3.0,-3.0 3.0,3.0 -3.0,3.0zM344.8,282.0l3.0,-3.0 3.0,3.0 -3.0,3.0zM382.4,319.6l3.0,-3.0 3.0,3.0 -3.0,3.0zM382.4,324.3l3.0,-3.0 3.0,3.0 -3.0,3.0zM481.1,343.1l3.0,-3.0 3.0,3.0 -3.0,3.0zM438.8,329.0l3.0,-3.0 3.0,3.0 -3.0,3.0zM467.0,352.5l3.0,-3.0 3.0,3.0 -3.0,3.0zM387.1,343.1l3.0,-3.0 3.0,3.0 -3.0,3.0zM457.6,319.6l3.0,-3.0 3.0,3.0 -3.0,3.0zM429.4,310.2l3.0,-3.0 3.0,3.0 -3.0,3.0zM415.3,305.5l3.0,-3.0 3.0,3.0 -3.0,3.0zM410.6,314.9l3.0,-3.0 3.0,3.0 -3.0,3.0zM363.6,277.3l3.0,-3.0 3.0,3.0 -3.0,3.0zM349.5,286.7l3.0,-3.0 3.0,3.0 -3.0,3.0zM434.1,352.5l3.0,-3.0 3.0,3.0 -3.0,3.0zM443.5,310.2l3.0,-3.0 3.0,3.0 -3.0,3.0zM438.8,338.4l3.0,-3.0 3.0,3.0 -3.0,3.0zM424.7,324.3l3.0,-3.0 3.0,3.0 -3.0,3.0zM452.9,343.1l3.0,-3.0 3.0,3.0 -3.0,3.0zM415.3,333.7l3.0,-3.0 3.0,3.0 -3.0,3.0zM457.6,357.2l3.0,-3.0 3.0,3.0 -3.0,3.0zM401.2,352.5l3.0,-3.0 3.0,3.0 -3.0,3.0zM405.9,357.2l3.0,-3.0 3.0,3.0 -3.0,3.0zM382.4,310.2l3.0,-3.0 3.0,3.0 -3.0,3.0zM462.3,333.7l3.0,-3.0 3.0,3.0 -3.0,3.0zM363.6,352.5l3.0,-3.0 3.0,3.0 -3.0,3.0zM382.4,300.8l3.0,-3.0 3.0,3.0 -3.0,3.0zM363.6,338.4l3.0,-3.0 3.0,3.0 -3.0,3.0zM452.9,352.5l3.0,-3.0 3.0,3.0 -3.0,3.0zM377.7,347.8l3.0,-3.0 3.0,3.0 -3.0,3.0zM358.9,310.2l3.0,-3.0 3.0,3.0 -3.0,3.0zM396.5,319.6l3.0,-3.0 3.0,3.0 -3.0,3.0zM481.1,338.4l3.0,-3.0 3.0,3.0 -3.0,3.0zM405.9,361.9l3.0,-3.0 3.0,3.0 -3.0,3.0zM443.5,324.3l3.0,-3.0 3.0,3.0 -3.0,3.0zM387.1,361.9l3.0,-3.0 3.0,3.0 -3.0,3.0zM377.7,329.0l3.0,-3.0 3.0,3.0 -3.0,3.0zM382.4,357.2l3.0,-3.0 3.0,3.0 -3.0,3.0zM415.3,338.4l3.0,-3.0 3.0,3.0 -3.0,3.0zM424.7,314.9l3.0,-3.0 3.0,3.0 -3.0,3.0zM415.3,347.8l3.0,-3.0 3.0,3.0 -3.0,3.0zM443.5,352.5l3.0,-3.0 3.0,3.0 -3.0,3.0zM467.0,329.0l3.0,-3.0 3.0,3.0 -3.0,3.0zM410.6,305.5l3.0,-3.0 3.0,3.0 -3.0,3.0zM405.9,333.7l3.0,-3.0 3.0,3.0 -3.0,3.0z" fill="#00BFC4" stroke="#00BFC4" stroke-width="0.8" stroke-linejoin="round"/>
<path d="M396.5,178.6l3.0,-3.0 3.0,3.0 -3.0,3.0zM410.6,183.3l3.0,-3.0 3.0,3.0 -3.0,3.0zM391.8,188.0l3.0,-3.0 3.0,3.0 -3.0,3.0zM405.9,192.7l3.0,-3.0 3.0,3.0 -3.0,3.0zM373.0,192.7l3.0,-3.0 3.0,3.0 -3.0,3.0zM438.8,202.1l3.0,-3.0 3.0,3.0 -3.0,3.0zM467.0,211.5l3.0,-3.0 3.0,3.0 -3.0,3.0zM391.8,216.2l3.0,-3.0 3.0,3.0 -3.0,3.0zM396.5,220.9l3.0,-3.0 3.0,3.0 -3.0,3.0zM401.2,225.6l3.0,-3.0 3.0,3.0 -3.0,3.0zM405.9,230.3l3.0,-3.0 3.0,3.0 -3.0,3.0zM467.0,230.3l3.0,-3.0 3.0,3.0 -3.0,3.0zM438.8,197.4l3.0,-3.0 3.0,3.0 -3.0,3.0zM467.0,225.6l3.0,-3.0 3.0,3.0 -3.0,3.0zM485.8,225.6l3.0,-3.0 3.0,3.0 -3.0,3.0zM485.8,220.9l3.0,-3.0 3.0,3.0 -3.0,3.0zM546.9,235.0l3.0,-3.0 3.0,3.0 -3.0,3.0zM476.4,183.3l3.0,-3.0 3.0,3.0 -3.0,3.0zM434.1,169.2l3.0,-3.0 3.0,3.0 -3.0,3.0zM438.8,178.6l3.0,-3.0 3.0,3.0 -3.0,3.0zM438.8,173.9l3.0,-3.0 3.0,3.0 -3.0,3.0zM485.8,188.0l3.0,-3.0 3.0,3.0 -3.0,3.0zM429.4,178.6l3.0,-3.0 3.0,3.0 -3.0,3.0zM467.0,183.3l3.0,-3.0 3.0,3.0 -3.0,3.0zM499.9,202.1l3.0,-3.0 3.0,3.0 -3.0,3.0zM495.2,197.4l3.0,-3.0 3.0,3.0 -3.0,3.0zM490.5,197.4l3.0,-3.0 3.0,3.0 -3.0,3.0zM481.1,188.0l3.0,-3.0 3.0,3.0 -3.0,3.0zM504.6,216.2l3.0,-3.0 3.0,3.0 -3.0,3.0zM499.9,211.5l3.0,-3.0 3.0,3.0 -3.0,3.0zM452.9,188.0l3.0,-3.0 3.0,3.0 -3.0,3.0zM443.5,178.6l3.0,-3.0 3.0,3.0 -3.0,3.0zM448.2,192.7l3.0,-3.0 3.0,3.0 -3.0,3.0zM514.0,202.1l3.0,-3.0 3.0,3.0 -3.0,3.0zM509.3,206.8l3.0,-3.0 3.0,3.0 -3.0,3.0zM462.3,188.0l3.0,-3.0 3.0,3.0 -3.0,3.0zM443.5,173.9l3.0,-3.0 3.0,3.0 -3.0,3.0zM434.1,183.3l3.0,-3.0 3.0,3.0 -3.0,3.0zM457.6,178.6l3.0,-3.0 3.0,3.0 -3.0,3.0zM504.6,202.1l3.0,-3.0 3.0,3.0 -3.0,3.0zM504.6,192.7l3.0,-3.0 3.0,3.0 -3.0,3.0zM495.2,192.7l3.0,-3.0 3.0,3.0 -3.0,3.0zM438.8,164.5l3.0,-3.0 3.0,3.0 -3.0,3.0zM448.2,183.3l3.0,-3.0 3.0,3.0 -3.0,3.0zM457.6,192.7l3.0,-3.0 3.0,3.0 -3.0,3.0zM438.8,188.0l3.0,-3.0 3.0,3.0 -3.0,3.0zM443.5,183.3l3.0,-3.0 3.0,3.0 -3.0,3.0zM481.1,192.7l3.0,-3.0 3.0,3.0 -3.0,3.0zM499.9,220.9l3.0,-3.0 3.0,3.0 -3.0,3.0zM448.2,173.9l3.0,-3.0 3.0,3.0 -3.0,3.0zM448.2,164.5l3.0,-3.0 3.0,3.0 -3.0,3.0zM490.5,211.5l3.0,-3.0 3.0,3.0 -3.0,3.0zM490.5,202.1l3.0,-3.0 3.0,3.0 -3.0,3.0zM471.7,192.7l3.0,-3.0 3.0,3.0 -3.0,3.0zM514.0,211.5l3.0,-3.0 3.0,3.0 -3.0,3.0zM509.3,192.7l3.0,-3.0 3.0,3.0 -3.0,3.0zM509.3,216.2l3.0,-3.0 3.0,3.0 -3.0,3.0zM499.9,206.8l3.0,-3.0 3.0,3.0 -3.0,3.0zM452.9,183.3l3.0,-3.0 3.0,3.0 -3.0,3.0zM509.3,197.4l3.0,-3.0 3.0,3.0 -3.0,3.0zM443.5,188.0l3.0,-3.0 3.0,3.0 -3.0,3.0zM467.0,188.0l3.0,-3.0 3.0,3.0 -3.0,3.0z" fill="#619CFF" stroke="#619CFF" stroke-width="0.8" stroke-linejoin="round"/>
<path d="M293.1,79.9l3.0,-3.0 3.0,3.0 -3.0,3.0zM288.4,84.6l3.0,-3.0 3.0,3.0 -3.0,3.0zM297.8,84.6l3.0,-3.0 3.0,3.0 -3.0,3.0zM297.8,89.3l3.0,-3.0 3.0,3.0 -3.0,3.0zM283.7,94.0l3.0,-3.0 3.0,3.0 -3.0,3.0zM288.4,94.0l3.0,-3.0 3.0,3.0 -3.0,3.0zM283.7,98.7l3.0,-3.0 3.0,3.0 -3.0,3.0zM311.9,89.3l3.0,-3.0 3.0,3.0 -3.0,3.0zM316.6,89.3l3.0,-3.0 3.0,3.0 -3.0,3.0zM307.2,98.7l3.0,-3.0 3.0,3.0 -3.0,3.0zM307.2,103.4l3.0,-3.0 3.0,3.0 -3.0,3.0zM321.3,103.4l3.0,-3.0 3.0,3.0 -3.0,3.0zM321.3,108.1l3.0,-3.0 3.0,3.0 -3.0,3.0zM293.1,108.1l3.0,-3.0 3.0,3.0 -3.0,3.0zM321.3,112.8l3.0,-3.0 3.0,3.0 -3.0,3.0zM302.5,122.2l3.0,-3.0 3.0,3.0 -3.0,3.0zM340.1,141.0l3.0,-3.0 3.0,3.0 -3.0,3.0zM297.8,150.4l3.0,-3.0 3.0,3.0 -3.0,3.0zM297.8,155.1l3.0,-3.0 3.0,3.0 -3.0,3.0zM302.5,159.8l3.0,-3.0 3.0,3.0 -3.0,3.0zM307.2,169.2l3.0,-3.0 3.0,3.0 -3.0,3.0z" fill="#F564E3" stroke="#F564E3" stroke-width="0.8" stroke-linejoin="round"/>
<text x="288.0" y="143.0" font-size="46" text-anchor="middle" font-weight="bold">6</text>
<text x="467.0" y="204.7" font-size="46" text-anchor="middle" font-weight="bold">5</text>
<text x="255.0" y="275.0" font-size="46" text-anchor="middle" font-weight="bold">3</text>
<text x="415.3" y="314.8" font-size="46" text-anchor="middle" font-weight="bold">4</text>
<text x="676.8" y="311.5" font-size="46" text-anchor="middle" font-weight="bold">2</text>
<text x="381.0" y="494.0" font-size="46" text-anchor="middle" font-weight="bold">1</text>
<circle cx="769.8" cy="124.6" r="11" fill="#F8766D"/>
<text x="802.0" y="132.4" font-size="40">1</text>
<circle cx="769.8" cy="173.8" r="11" fill="#B79F00"/>
<text x="802.0" y="184.2" font-size="40">2</text>
<circle cx="769.8" cy="225.1" r="11" fill="#00BA38"/>
<text x="802.0" y="236.4" font-size="40">3</text>
<circle cx="769.8" cy="274.5" r="11" fill="#00BFC4"/>
<text x="802.0" y="286.9" font-size="40">4</text>
<circle cx="769.8" cy="325.9" r="11" fill="#619CFF"/>
<text x="802.0" y="338.2" font-size="40">5</text>
<circle cx="769.8" cy="375.4" r="11" fill="#F564E3"/>
<text x="802.0" y="386.3" font-size="40">6</text>
<text x="1046.5" y="53.8" font-size="39" textLength="128.0" lengthAdjust="spacingAndGlyphs">Identity</text>
<text x="1246.0" y="54.2" font-size="39.5" text-anchor="middle">1</text>
<text x="1455.6" y="54.2" font-size="39.5" text-anchor="middle">2</text>
<text x="1578.0" y="54.2" font-size="39.5" text-anchor="middle">3</text>
<text x="1689.0" y="54.2" font-size="39.5" text-anchor="middle">4</text>
<text x="1766.8" y="54.2" font-size="39.5" text-anchor="middle">5</text>
<text x="1811.6" y="54.2" font-size="39.5" text-anchor="middle">6</text>
<rect x="1040.0" y="57.2" width="140.0" height="6.5" fill="#fff"/>
<rect x="1057.0" y="64.3" width="330.7" height="11.6" fill="#F8766D"/>
<rect x="1390.6" y="64.3" width="131.7" height="11.6" fill="#B79F00"/>
<rect x="1525.0" y="64.3" width="113.0" height="11.6" fill="#00BA38"/>
<rect x="1641.0" y="64.3" width="104.8" height="11.6" fill="#00BFC4"/>
<rect x="1748.6" y="64.3" width="54.4" height="11.6" fill="#619CFF"/>
<rect x="1806.0" y="64.3" width="33.0" height="11.6" fill="#F564E3"/>
<g font-size="10.8" text-anchor="end" fill="#4d4d4d"><text x="1051" y="96.8">ntn1a</text><text x="1051" y="108.2">fosl2</text><text x="1051" y="119.6">col4a1</text><text x="1051" y="131.0">arrdc3a</text><text x="1051" y="142.4">clu</text><text x="1051" y="153.8">si:ch211-204c21.1.1</text><text x="1051" y="165.2">egr1</text><text x="1051" y="176.6">egr2a</text><text x="1051" y="188.0">ccl25b</text><text x="1051" y="199.4">si:ch211-66e2.3</text><text x="1051" y="210.8">tmsb1</text><text x="1051" y="222.2">aldh1a2</text><text x="1051" y="233.6">ucmaa</text><text x="1051" y="245.0">s100a10a</text><text x="1051" y="256.4">si:ch211-106h4.12</text><text x="1051" y="267.8">gstm.3</text><text x="1051" y="279.2">krt15</text><text x="1051" y="290.6">ppdpfa</text><text x="1051" y="302.0">gcga</text><text x="1051" y="313.4">matn4</text><text x="1051" y="324.8">cd99</text><text x="1051" y="336.2">mb</text><text x="1051" y="347.6">mgp</text><text x="1051" y="359.0">nppc</text><text x="1051" y="370.4">fam107b</text><text x="1051" y="381.8">hspb8</text><text x="1051" y="393.2">krt4</text><text x="1051" y="404.6">twist1b</text><text x="1051" y="416.0">alkbh3.1</text><text x="1051" y="427.4">herpud1</text><text x="1051" y="438.8">her9</text><text x="1051" y="450.2">hspb1</text><text x="1051" y="461.6">cnn2</text><text x="1051" y="473.0">si:ch73-335l21.4</text><text x="1051" y="484.4">serpine1</text><text x="1051" y="495.8">tcima</text><text x="1051" y="507.2">sostdc1a</text><text x="1051" y="518.6">inka1a</text><text x="1051" y="530.0">tcf21</text><text x="1051" y="541.4">tbx18</text><text x="1051" y="552.8">hsd11b2</text><text x="1051" y="564.2">cebpa</text><text x="1051" y="575.6">NC-002333.4</text><text x="1051" y="587.0">NC-002333.17</text><text x="1051" y="598.4">mcamb</text><text x="1051" y="609.8">rasl12</text><text x="1051" y="621.2">BX901920.1</text><text x="1051" y="632.6">si:ch211-270g19.5</text><text x="1051" y="644.0">tpm1</text><text x="1051" y="655.4">cxcl12b</text><text x="1051" y="666.8">pdgfrb</text><text x="1051" y="678.2">rgs5a</text><text x="1051" y="689.6">acta2</text><text x="1051" y="701.0">kcne4</text></g>
<g shape-rendering="crispEdges">
<rect x="1057.0" y="85.8" width="783.4" height="11.7" fill="#ceb8ff"/><rect x="1057.0" y="97.2" width="783.4" height="11.7" fill="#ceb8ff"/><rect x="1057.0" y="108.6" width="783.4" height="11.7" fill="#ceb8ff"/><rect x="1057.0" y="120.0" width="783.4" height="11.7" fill="#ceb8ff"/><rect x="1057.0" y="131.4" width="783.4" height="11.7" fill="#d2bdff"/><rect x="1057.0" y="142.8" width="783.4" height="11.7" fill="#ceb8ff"/><rect x="1057.0" y="154.2" width="783.4" height="11.7" fill="#ceb8ff"/><rect x="1057.0" y="165.6" width="783.4" height="11.7" fill="#d9c6ff"/><rect x="1057.0" y="177.0" width="783.4" height="11.7" fill="#c7aeff"/><rect x="1057.0" y="188.4" width="783.4" height="11.7" fill="#e7dbff"/><rect x="1057.0" y="199.8" width="783.4" height="11.7" fill="#e7dbff"/><rect x="1057.0" y="211.2" width="783.4" height="11.7" fill="#dfceff"/><rect x="1057.0" y="222.6" width="783.4" height="11.7" fill="#e7dbff"/><rect x="1057.0" y="234.0" width="783.4" height="11.7" fill="#e7dbff"/><rect x="1057.0" y="245.4" width="783.4" height="11.7" fill="#e0d0ff"/><rect x="1057.0" y="256.8" width="783.4" height="11.7" fill="#ece3ff"/><rect x="1057.0" y="268.2" width="783.4" height="11.7" fill="#ece3ff"/><rect x="1057.0" y="279.6" width="783.4" height="11.7" fill="#cab3ff"/><rect x="1057.0" y="291.0" width="783.4" height="11.7" fill="#f3ecff"/><rect x="1057.0" y="302.4" width="783.4" height="11.7" fill="#f3ecff"/><rect x="1057.0" y="313.8" width="783.4" height="11.7" fill="#e3d5ff"/><rect x="1057.0" y="325.2" width="783.4" height="11.7" fill="#f6f1ff"/><rect x="1057.0" y="336.6" width="783.4" height="11.7" fill="#e9deff"/><rect x="1057.0" y="348.0" width="783.4" height="11.7" fill="#f6f1ff"/><rect x="1057.0" y="359.4" width="783.4" height="11.7" fill="#dccbff"/><rect x="1057.0" y="370.8" width="783.4" height="11.7" fill="#d5c2ff"/><rect x="1057.0" y="382.2" width="783.4" height="11.7" fill="#ceb8ff"/><rect x="1057.0" y="393.6" width="783.4" height="11.7" fill="#e9deff"/><rect x="1057.0" y="405.0" width="783.4" height="11.7" fill="#d9c6ff"/><rect x="1057.0" y="416.4" width="783.4" height="11.7" fill="#d9c6ff"/><rect x="1057.0" y="427.8" width="783.4" height="11.7" fill="#d9c6ff"/><rect x="1057.0" y="439.2" width="783.4" height="11.7" fill="#ece3ff"/><rect x="1057.0" y="450.6" width="783.4" height="11.7" fill="#d5c2ff"/><rect x="1057.0" y="462.0" width="783.4" height="11.7" fill="#d5c2ff"/><rect x="1057.0" y="473.4" width="783.4" height="11.7" fill="#d9c6ff"/><rect x="1057.0" y="484.8" width="783.4" height="11.7" fill="#d9c6ff"/><rect x="1057.0" y="496.2" width="783.4" height="11.7" fill="#ceb8ff"/><rect x="1057.0" y="507.6" width="783.4" height="11.7" fill="#e6d9ff"/><rect x="1057.0" y="519.0" width="783.4" height="11.7" fill="#f3ecff"/><rect x="1057.0" y="530.4" width="783.4" height="11.7" fill="#ceb8ff"/><rect x="1057.0" y="541.8" width="783.4" height="11.7" fill="#ceb8ff"/><rect x="1057.0" y="553.2" width="783.4" height="11.7" fill="#ceb8ff"/><rect x="1057.0" y="564.6" width="783.4" height="11.7" fill="#cab3ff"/><rect x="1057.0" y="576.0" width="783.4" height="11.7" fill="#c3aaff"/><rect x="1057.0" y="587.4" width="783.4" height="11.7" fill="#f6f1ff"/><rect x="1057.0" y="598.8" width="783.4" height="11.7" fill="#f3ecff"/><rect x="1057.0" y="610.2" width="783.4" height="11.7" fill="#ece3ff"/><rect x="1057.0" y="621.6" width="783.4" height="11.7" fill="#f3ecff"/><rect x="1057.0" y="633.0" width="783.4" height="11.7" fill="#e6d9ff"/><rect x="1057.0" y="644.4" width="783.4" height="11.7" fill="#faf7ff"/><rect x="1057.0" y="655.8" width="783.4" height="11.7" fill="#d5c2ff"/><rect x="1057.0" y="667.2" width="783.4" height="11.7" fill="#d5c2ff"/><rect x="1057.0" y="678.6" width="783.4" height="11.7" fill="#f6f1ff"/><rect x="1057.0" y="690.0" width="783.4" height="11.7" fill="#e9deff"/>
<path d="M1466.6,444.9h1.6M1801,444.9h1.6M1407.4,524.7h1.6M1437.8,524.7h1.6M1492.2,524.7h1.6M1657,524.7h1.6M1717.8,524.7h1.6" stroke="#140aff" stroke-width="11.7" fill="none"/>
<path d="M1530.6,262.5h1.6M1191.4,273.9h1.6M1295.4,273.9h1.6M1828.2,273.9h3.2M1434.6,444.9h1.6M1447.4,444.9h1.6M1764.2,444.9h1.6M1785,444.9h1.6M1402.6,524.7h1.6M1489,524.7h1.6M1493.8,524.7h1.6M1660.2,524.7h1.6M1673,524.7h1.6M1676.2,524.7h1.6M1689,524.7h1.6M1703.4,524.7h1.6M1713,524.7h3.2M1737,524.7h1.6" stroke="#2d19ff" stroke-width="11.7" fill="none"/>
<path d="M1551.4,262.5h1.6M1565.8,262.5h1.6M1596.2,262.5h1.6M1834.6,262.5h1.6M1082.6,273.9h1.6M1199.4,273.9h1.6M1213.8,273.9h1.6M1221.8,273.9h1.6M1258.6,273.9h1.6M1346.6,273.9h1.6M1804.2,273.9h4.8M1812.2,273.9h3.2M1818.6,273.9h3.2M1825,273.9h1.6M1837.8,273.9h1.6M1396.2,444.9h1.6M1477.8,444.9h1.6M1500.2,444.9h1.6M1503.4,444.9h1.6M1522.6,444.9h1.6M1754.6,444.9h1.6M1783.4,444.9h1.6M1789.8,444.9h1.6M1399.4,524.7h1.6M1433,524.7h1.6M1444.2,524.7h1.6M1503.4,524.7h1.6M1513,524.7h1.6M1658.6,524.7h1.6M1665,524.7h1.6M1679.4,524.7h1.6M1684.2,524.7h1.6M1692.2,524.7h1.6M1708.2,524.7h1.6M1738.6,524.7h1.6M1741.8,524.7h3.2" stroke="#4628ff" stroke-width="11.7" fill="none"/>
<path d="M1345,137.1h1.6M1546.6,262.5h1.6M1553,262.5h1.6M1575.4,262.5h3.2M1589.8,262.5h3.2M1605.8,262.5h1.6M1612.2,262.5h1.6M1631.4,262.5h1.6M1805.8,262.5h3.2M1813.8,262.5h3.2M1818.6,262.5h1.6M1821.8,262.5h8M1831.4,262.5h3.2M1087.4,273.9h1.6M1125.8,273.9h1.6M1201,273.9h1.6M1205.8,273.9h1.6M1223.4,273.9h1.6M1348.2,273.9h1.6M1356.2,273.9h1.6M1540.2,273.9h1.6M1575.4,273.9h1.6M1617,273.9h1.6M1727.4,273.9h1.6M1748.2,273.9h1.6M1753,273.9h1.6M1802.6,273.9h1.6M1809,273.9h3.2M1815.4,273.9h3.2M1821.8,273.9h3.2M1826.6,273.9h1.6M1831.4,273.9h6.4M1839.4,273.9h1.6M1749.8,444.9h1.6M1761,444.9h1.6M1794.6,444.9h1.6M1415.4,524.7h1.6M1420.2,524.7h3.2M1449,524.7h1.6M1460.2,524.7h1.6M1463.4,524.7h1.6M1517.8,524.7h1.6M1521,524.7h1.6M1649,524.7h1.6M1655.4,524.7h1.6M1695.4,524.7h1.6M1700.2,524.7h1.6M1724.2,524.7h1.6M1735.4,524.7h1.6M1805.8,524.7h1.6M1810.6,524.7h1.6M1815.4,524.7h1.6M1828.2,524.7h1.6" stroke="#6441ff" stroke-width="11.7" fill="none"/>
<path d="M1116.2,91.5h1.6M1329,91.5h1.6M1209,114.3h1.6M1370.6,148.5h1.6M1191.4,182.7h1.6M1524.2,262.5h3.2M1541.8,262.5h1.6M1561,262.5h1.6M1586.6,262.5h1.6M1597.8,262.5h1.6M1604.2,262.5h1.6M1636.2,262.5h1.6M1693.8,262.5h1.6M1751.4,262.5h1.6M1804.2,262.5h1.6M1809,262.5h4.8M1817,262.5h1.6M1820.2,262.5h1.6M1829.8,262.5h1.6M1836.2,262.5h4.8M1193,273.9h1.6M1209,273.9h1.6M1545,273.9h1.6M1548.2,273.9h1.6M1572.2,273.9h1.6M1591.4,273.9h1.6M1609,273.9h1.6M1633,273.9h1.6M1645.8,273.9h1.6M1701.8,273.9h1.6M1737,273.9h1.6M1764.2,273.9h1.6M1441,444.9h1.6M1450.6,444.9h1.6M1495.4,444.9h1.6M1511.4,444.9h1.6M1759.4,444.9h1.6M1762.6,444.9h1.6M1769,444.9h1.6M1791.4,444.9h1.6M1797.8,444.9h1.6M1490.6,524.7h1.6M1522.6,524.7h1.6M1650.6,524.7h1.6M1666.6,524.7h1.6M1697,524.7h1.6M1721,524.7h1.6M1730.6,524.7h1.6M1642.6,570.3h1.6M1652.2,570.3h1.6M1660.2,570.3h1.6M1684.2,570.3h1.6M1689,570.3h1.6M1717.8,570.3h1.6M1724.2,570.3h1.6M1729,570.3h1.6M1639.4,581.7h1.6M1642.6,581.7h6.4M1650.6,581.7h3.2M1657,581.7h1.6M1661.8,581.7h1.6M1665,581.7h1.6M1669.8,581.7h1.6M1674.6,581.7h3.2M1685.8,581.7h1.6M1697,581.7h4.8M1708.2,581.7h4.8M1717.8,581.7h1.6M1727.4,581.7h1.6M1733.8,581.7h1.6M1737,581.7h4.8M1745,581.7h1.6" stroke="#825aff" stroke-width="11.7" fill="none"/>
<path d="M1343.4,102.9h1.6M1127.4,114.3h1.6M1167.4,125.7h1.6M1183.4,125.7h1.6M1380.2,125.7h1.6M1069.8,137.1h1.6M1114.6,148.5h1.6M1191.4,148.5h1.6M1207.4,148.5h1.6M1228.2,148.5h1.6M1340.2,148.5h1.6M1111.4,159.9h1.6M1138.6,159.9h1.6M1301.8,159.9h1.6M1357.8,159.9h1.6M1193,171.3h1.6M1205.8,171.3h1.6M1213.8,171.3h1.6M1249,171.3h1.6M1290.6,171.3h1.6M1309.8,171.3h1.6M1314.6,171.3h1.6M1180.2,182.7h1.6M1250.6,182.7h1.6M1298.6,182.7h1.6M1303.4,182.7h1.6M1340.2,182.7h1.6M1367.4,182.7h1.6M1535.4,262.5h1.6M1545,262.5h1.6M1578.6,262.5h1.6M1583.4,262.5h1.6M1602.6,262.5h1.6M1618.6,262.5h1.6M1626.6,262.5h1.6M1708.2,262.5h1.6M1063.4,273.9h1.6M1079.4,273.9h1.6M1132.2,273.9h1.6M1242.6,273.9h1.6M1269.8,273.9h1.6M1380.2,273.9h1.6M1556.2,273.9h1.6M1601,273.9h1.6M1605.8,273.9h1.6M1625,273.9h1.6M1685.8,273.9h1.6M1692.2,273.9h1.6M1773.8,273.9h1.6M1777,273.9h1.6M1746.6,444.9h3.2M1753,444.9h1.6M1756.2,444.9h1.6M1765.8,444.9h1.6M1770.6,444.9h3.2M1775.4,444.9h1.6M1778.6,444.9h4.8M1786.6,444.9h3.2M1793,444.9h1.6M1796.2,444.9h1.6M1799.4,444.9h1.6M1802.6,444.9h1.6M1748.2,467.7h3.2M1757.8,467.7h3.2M1775.4,467.7h1.6M1791.4,467.7h3.2M1796.2,467.7h1.6M1799.4,467.7h1.6M1639.4,570.3h3.2M1644.2,570.3h8M1653.8,570.3h1.6M1657,570.3h3.2M1661.8,570.3h22.4M1685.8,570.3h3.2M1690.6,570.3h27.2M1719.4,570.3h4.8M1725.8,570.3h3.2M1730.6,570.3h16M1063.4,581.7h1.6M1109.8,581.7h1.6M1141.8,581.7h1.6M1161,581.7h1.6M1165.8,581.7h1.6M1265,581.7h1.6M1276.2,581.7h1.6M1279.4,581.7h3.2M1329,581.7h1.6M1337,581.7h1.6M1362.6,581.7h1.6M1380.2,581.7h1.6M1429.8,581.7h1.6M1433,581.7h1.6M1455.4,581.7h1.6M1465,581.7h3.2M1516.2,581.7h1.6M1519.4,581.7h1.6M1532.2,581.7h1.6M1538.6,581.7h1.6M1556.2,581.7h1.6M1580.2,581.7h1.6M1621.8,581.7h1.6M1631.4,581.7h1.6M1641,581.7h1.6M1649,581.7h1.6M1653.8,581.7h3.2M1658.6,581.7h3.2M1663.4,581.7h1.6M1666.6,581.7h3.2M1671.4,581.7h3.2M1679.4,581.7h6.4M1687.4,581.7h4.8M1693.8,581.7h3.2M1703.4,581.7h4.8M1713,581.7h1.6M1716.2,581.7h1.6M1719.4,581.7h8M1729,581.7h4.8M1735.4,581.7h1.6M1741.8,581.7h3.2M1820.2,581.7h1.6" stroke="#9f7dff" stroke-width="11.7" fill="none"/>
<path d="M1149.8,91.5h3.2M1311.4,91.5h1.6M1420.2,91.5h1.6M1433,91.5h1.6M1441,91.5h1.6M1461.8,91.5h1.6M1474.6,91.5h1.6M1482.6,91.5h1.6M1490.6,91.5h1.6M1505,91.5h1.6M1516.2,91.5h1.6M1535.4,91.5h1.6M1556.2,91.5h1.6M1569,91.5h1.6M1580.2,91.5h1.6M1586.6,91.5h1.6M1601,91.5h1.6M1605.8,91.5h1.6M1628.2,91.5h1.6M1642.6,91.5h1.6M1650.6,91.5h1.6M1657,91.5h1.6M1669.8,91.5h1.6M1679.4,91.5h1.6M1685.8,91.5h1.6M1695.4,91.5h3.2M1709.8,91.5h1.6M1732.2,91.5h1.6M1746.6,91.5h1.6M1769,91.5h1.6M1775.4,91.5h1.6M1065,102.9h1.6M1098.6,102.9h1.6M1114.6,102.9h1.6M1164.2,102.9h1.6M1189.8,102.9h1.6M1204.2,102.9h1.6M1236.2,102.9h1.6M1239.4,102.9h1.6M1258.6,102.9h1.6M1349.8,102.9h1.6M1370.6,102.9h1.6M1391.4,102.9h1.6M1394.6,102.9h3.2M1405.8,102.9h1.6M1426.6,102.9h1.6M1469.8,102.9h1.6M1511.4,102.9h1.6M1546.6,102.9h1.6M1586.6,102.9h1.6M1594.6,102.9h1.6M1605.8,102.9h1.6M1621.8,102.9h1.6M1677.8,102.9h1.6M1701.8,102.9h1.6M1706.6,102.9h3.2M1711.4,102.9h1.6M1725.8,102.9h3.2M1730.6,102.9h1.6M1754.6,102.9h3.2M1759.4,102.9h1.6M1772.2,102.9h1.6M1785,102.9h3.2M1799.4,102.9h1.6M1839.4,102.9h1.6M1081,114.3h3.2M1132.2,114.3h1.6M1285.8,114.3h1.6M1393,114.3h1.6M1396.2,114.3h1.6M1477.8,114.3h1.6M1493.8,114.3h1.6M1521,114.3h1.6M1572.2,114.3h1.6M1586.6,114.3h1.6M1594.6,114.3h1.6M1597.8,114.3h1.6M1620.2,114.3h1.6M1626.6,114.3h1.6M1639.4,114.3h1.6M1644.2,114.3h1.6M1650.6,114.3h1.6M1655.4,114.3h1.6M1674.6,114.3h1.6M1681,114.3h1.6M1684.2,114.3h1.6M1706.6,114.3h1.6M1738.6,114.3h1.6M1741.8,114.3h3.2M1756.2,114.3h1.6M1769,114.3h1.6M1780.2,114.3h1.6M1794.6,114.3h1.6M1817,114.3h1.6M1074.6,125.7h1.6M1098.6,125.7h1.6M1233,125.7h1.6M1285.8,125.7h1.6M1436.2,125.7h1.6M1452.2,125.7h1.6M1493.8,125.7h1.6M1511.4,125.7h1.6M1533.8,125.7h1.6M1540.2,125.7h1.6M1549.8,125.7h3.2M1554.6,125.7h1.6M1561,125.7h1.6M1578.6,125.7h1.6M1639.4,125.7h1.6M1660.2,125.7h4.8M1685.8,125.7h1.6M1708.2,125.7h1.6M1727.4,125.7h1.6M1761,125.7h1.6M1781.8,125.7h1.6M1785,125.7h3.2M1802.6,125.7h1.6M1810.6,125.7h1.6M1821.8,125.7h1.6M1834.6,125.7h1.6M1071.4,137.1h1.6M1081,137.1h1.6M1087.4,137.1h1.6M1154.6,137.1h1.6M1258.6,137.1h3.2M1287.4,137.1h1.6M1306.6,137.1h1.6M1386.6,137.1h1.6M1399.4,137.1h1.6M1420.2,137.1h1.6M1474.6,137.1h1.6M1485.8,137.1h1.6M1500.2,137.1h1.6M1561,137.1h1.6M1564.2,137.1h1.6M1617,137.1h1.6M1649,137.1h1.6M1652.2,137.1h1.6M1681,137.1h1.6M1706.6,137.1h3.2M1717.8,137.1h1.6M1727.4,137.1h1.6M1738.6,137.1h1.6M1767.4,137.1h1.6M1783.4,137.1h1.6M1793,137.1h1.6M1797.8,137.1h1.6M1801,137.1h1.6M1826.6,137.1h1.6M1836.2,137.1h1.6M1189.8,148.5h1.6M1201,148.5h1.6M1258.6,148.5h1.6M1277.8,148.5h1.6M1421.8,148.5h3.2M1437.8,148.5h1.6M1463.4,148.5h1.6M1473,148.5h1.6M1489,148.5h1.6M1503.4,148.5h1.6M1535.4,148.5h1.6M1556.2,148.5h3.2M1583.4,148.5h1.6M1586.6,148.5h1.6M1602.6,148.5h1.6M1637.8,148.5h1.6M1642.6,148.5h1.6M1650.6,148.5h3.2M1669.8,148.5h1.6M1679.4,148.5h1.6M1714.6,148.5h1.6M1737,148.5h1.6M1765.8,148.5h3.2M1058.6,159.9h1.6M1161,159.9h1.6M1169,159.9h1.6M1244.2,159.9h1.6M1389.8,159.9h1.6M1394.6,159.9h3.2M1436.2,159.9h1.6M1466.6,159.9h1.6M1469.8,159.9h1.6M1474.6,159.9h1.6M1537,159.9h1.6M1546.6,159.9h1.6M1586.6,159.9h1.6M1626.6,159.9h1.6M1639.4,159.9h1.6M1687.4,159.9h1.6M1695.4,159.9h1.6M1701.8,159.9h1.6M1713,159.9h1.6M1735.4,159.9h1.6M1754.6,159.9h1.6M1788.2,159.9h1.6M1796.2,159.9h1.6M1810.6,159.9h1.6M1823.4,159.9h1.6M1833,159.9h1.6M1068.2,171.3h1.6M1093.8,171.3h1.6M1106.6,171.3h1.6M1124.2,171.3h1.6M1130.6,171.3h3.2M1196.2,171.3h1.6M1228.2,171.3h1.6M1255.4,171.3h3.2M1338.6,171.3h1.6M1348.2,171.3h1.6M1377,171.3h1.6M1057,182.7h1.6M1089,182.7h1.6M1106.6,182.7h1.6M1114.6,182.7h1.6M1156.2,182.7h1.6M1172.2,182.7h1.6M1225,182.7h1.6M1305,182.7h1.6M1341.8,182.7h3.2M1401,182.7h1.6M1441,182.7h1.6M1452.2,182.7h1.6M1463.4,182.7h1.6M1476.2,182.7h1.6M1479.4,182.7h1.6M1501.8,182.7h1.6M1517.8,182.7h1.6M1529,182.7h1.6M1540.2,182.7h1.6M1545,182.7h1.6M1561,182.7h1.6M1633,182.7h1.6M1636.2,182.7h1.6M1697,182.7h1.6M1754.6,182.7h1.6M1764.2,182.7h1.6M1773.8,182.7h1.6M1789.8,182.7h1.6M1799.4,182.7h1.6M1143.4,262.5h1.6M1301.8,262.5h1.6M1362.6,262.5h1.6M1695.4,262.5h1.6M1714.6,262.5h1.6M1765.8,262.5h1.6M1069.8,273.9h1.6M1106.6,273.9h1.6M1113,273.9h1.6M1266.6,273.9h1.6M1524.2,273.9h1.6M1532.2,273.9h1.6M1615.4,273.9h1.6M1623.4,273.9h1.6M1653.8,273.9h1.6M1697,273.9h1.6M1765.8,273.9h1.6M1775.4,273.9h1.6M1781.8,273.9h1.6M1074.6,285.3h1.6M1087.4,285.3h1.6M1135.4,285.3h1.6M1161,285.3h1.6M1185,285.3h1.6M1201,285.3h1.6M1205.8,285.3h1.6M1229.8,285.3h1.6M1274.6,285.3h1.6M1285.8,285.3h1.6M1329,285.3h1.6M1349.8,285.3h4.8M1375.4,285.3h3.2M1525.8,285.3h1.6M1540.2,285.3h1.6M1581.8,285.3h1.6M1605.8,285.3h1.6M1610.6,285.3h1.6M1663.4,285.3h1.6M1698.6,285.3h1.6M1706.6,285.3h1.6M1716.2,285.3h1.6M1732.2,285.3h1.6M1748.2,285.3h1.6M1762.6,285.3h1.6M1796.2,285.3h1.6M1805.8,285.3h1.6M1817,285.3h1.6M1821.8,285.3h1.6M1831.4,285.3h1.6M1073,376.5h1.6M1093.8,376.5h1.6M1117.8,376.5h1.6M1124.2,376.5h1.6M1127.4,376.5h1.6M1145,376.5h1.6M1221.8,376.5h1.6M1271.4,376.5h1.6M1284.2,376.5h1.6M1293.8,376.5h1.6M1305,376.5h1.6M1348.2,376.5h1.6M1394.6,376.5h1.6M1399.4,376.5h1.6M1410.6,376.5h1.6M1434.6,376.5h1.6M1447.4,376.5h1.6M1479.4,376.5h1.6M1485.8,376.5h1.6M1498.6,376.5h1.6M1517.8,376.5h1.6M1565.8,376.5h1.6M1581.8,376.5h1.6M1585,376.5h1.6M1612.2,376.5h1.6M1661.8,376.5h1.6M1668.2,376.5h1.6M1676.2,376.5h1.6M1714.6,376.5h1.6M1722.6,376.5h1.6M1725.8,376.5h1.6M1740.2,376.5h1.6M1772.2,376.5h1.6M1775.4,376.5h1.6M1781.8,376.5h1.6M1799.4,376.5h1.6M1810.6,376.5h1.6M1820.2,376.5h1.6M1065,387.9h1.6M1087.4,387.9h1.6M1127.4,387.9h1.6M1156.2,387.9h1.6M1159.4,387.9h1.6M1193,387.9h1.6M1239.4,387.9h1.6M1260.2,387.9h1.6M1263.4,387.9h1.6M1271.4,387.9h1.6M1287.4,387.9h1.6M1338.6,387.9h1.6M1357.8,387.9h1.6M1417,387.9h1.6M1434.6,387.9h1.6M1458.6,387.9h1.6M1461.8,387.9h1.6M1489,387.9h1.6M1498.6,387.9h1.6M1585,387.9h1.6M1610.6,387.9h1.6M1626.6,387.9h1.6M1634.6,387.9h1.6M1652.2,387.9h1.6M1701.8,387.9h1.6M1705,387.9h1.6M1721,387.9h3.2M1732.2,387.9h1.6M1745,387.9h1.6M1759.4,387.9h1.6M1769,387.9h3.2M1775.4,387.9h1.6M1797.8,387.9h1.6M1817,387.9h3.2M1397.8,444.9h1.6M1402.6,444.9h6.4M1410.6,444.9h3.2M1418.6,444.9h9.6M1431.4,444.9h1.6M1436.2,444.9h4.8M1445.8,444.9h1.6M1449,444.9h1.6M1453.8,444.9h3.2M1460.2,444.9h4.8M1468.2,444.9h4.8M1481,444.9h1.6M1487.4,444.9h3.2M1492.2,444.9h3.2M1497,444.9h1.6M1508.2,444.9h3.2M1519.4,444.9h3.2M1767.4,444.9h1.6M1098.6,456.3h1.6M1101.8,456.3h1.6M1114.6,456.3h1.6M1119.4,456.3h1.6M1145,456.3h1.6M1153,456.3h1.6M1157.8,456.3h1.6M1169,456.3h1.6M1181.8,456.3h3.2M1204.2,456.3h1.6M1220.2,456.3h1.6M1285.8,456.3h1.6M1290.6,456.3h1.6M1295.4,456.3h1.6M1340.2,456.3h1.6M1343.4,456.3h1.6M1359.4,456.3h1.6M1397.8,456.3h1.6M1412.2,456.3h1.6M1426.6,456.3h3.2M1431.4,456.3h1.6M1436.2,456.3h1.6M1476.2,456.3h1.6M1505,456.3h1.6M1527.4,456.3h1.6M1548.2,456.3h1.6M1567.4,456.3h1.6M1583.4,456.3h1.6M1599.4,456.3h3.2M1697,456.3h1.6M1748.2,456.3h1.6M1764.2,456.3h1.6M1767.4,456.3h1.6M1777,456.3h1.6M1823.4,456.3h1.6M1116.2,467.7h1.6M1119.4,467.7h1.6M1149.8,467.7h1.6M1170.6,467.7h1.6M1181.8,467.7h1.6M1210.6,467.7h1.6M1215.4,467.7h1.6M1226.6,467.7h1.6M1229.8,467.7h1.6M1268.2,467.7h1.6M1271.4,467.7h1.6M1276.2,467.7h1.6M1285.8,467.7h1.6M1308.2,467.7h1.6M1340.2,467.7h1.6M1396.2,467.7h1.6M1409,467.7h1.6M1418.6,467.7h1.6M1471.4,467.7h3.2M1490.6,467.7h1.6M1505,467.7h1.6M1508.2,467.7h1.6M1663.4,467.7h1.6M1681,467.7h1.6M1713,467.7h1.6M1746.6,467.7h1.6M1751.4,467.7h6.4M1761,467.7h1.6M1765.8,467.7h9.6M1777,467.7h4.8M1783.4,467.7h8M1794.6,467.7h1.6M1797.8,467.7h1.6M1802.6,467.7h1.6M1087.4,501.9h1.6M1109.8,501.9h1.6M1113,501.9h1.6M1129,501.9h1.6M1141.8,501.9h1.6M1148.2,501.9h1.6M1151.4,501.9h1.6M1157.8,501.9h1.6M1170.6,501.9h1.6M1181.8,501.9h1.6M1186.6,501.9h1.6M1205.8,501.9h1.6M1245.8,501.9h1.6M1268.2,501.9h1.6M1317.8,501.9h1.6M1356.2,501.9h1.6M1361,501.9h1.6M1370.6,501.9h1.6M1378.6,501.9h1.6M1399.4,501.9h1.6M1409,501.9h1.6M1439.4,501.9h1.6M1445.8,501.9h1.6M1449,501.9h1.6M1465,501.9h1.6M1469.8,501.9h1.6M1476.2,501.9h1.6M1481,501.9h1.6M1492.2,501.9h1.6M1529,501.9h3.2M1540.2,501.9h1.6M1545,501.9h1.6M1549.8,501.9h1.6M1553,501.9h1.6M1559.4,501.9h1.6M1612.2,501.9h3.2M1621.8,501.9h1.6M1633,501.9h1.6M1636.2,501.9h1.6M1658.6,501.9h1.6M1679.4,501.9h1.6M1682.6,501.9h1.6M1689,501.9h1.6M1713,501.9h1.6M1735.4,501.9h1.6M1818.6,501.9h1.6M1836.2,501.9h1.6M1065,536.1h1.6M1074.6,536.1h1.6M1085.8,536.1h1.6M1092.2,536.1h1.6M1164.2,536.1h1.6M1183.4,536.1h1.6M1191.4,536.1h1.6M1215.4,536.1h1.6M1231.4,536.1h1.6M1269.8,536.1h1.6M1290.6,536.1h1.6M1300.2,536.1h1.6M1319.4,536.1h1.6M1338.6,536.1h1.6M1364.2,536.1h1.6M1370.6,536.1h1.6M1385,536.1h1.6M1409,536.1h1.6M1429.8,536.1h1.6M1447.4,536.1h1.6M1471.4,536.1h1.6M1479.4,536.1h1.6M1513,536.1h3.2M1537,536.1h1.6M1631.4,536.1h1.6M1637.8,536.1h1.6M1641,536.1h8M1652.2,536.1h1.6M1660.2,536.1h6.4M1668.2,536.1h1.6M1671.4,536.1h4.8M1677.8,536.1h9.6M1689,536.1h3.2M1693.8,536.1h6.4M1701.8,536.1h8M1711.4,536.1h1.6M1714.6,536.1h11.2M1729,536.1h4.8M1735.4,536.1h1.6M1738.6,536.1h4.8M1745,536.1h1.6M1815.4,536.1h1.6M1825,536.1h1.6M1836.2,536.1h1.6M1060.2,547.5h1.6M1082.6,547.5h1.6M1109.8,547.5h1.6M1116.2,547.5h1.6M1124.2,547.5h1.6M1178.6,547.5h3.2M1330.6,547.5h1.6M1333.8,547.5h1.6M1381.8,547.5h1.6M1460.2,547.5h1.6M1474.6,547.5h1.6M1481,547.5h1.6M1556.2,547.5h1.6M1561,547.5h1.6M1580.2,547.5h1.6M1639.4,547.5h9.6M1650.6,547.5h19.2M1673,547.5h8M1682.6,547.5h6.4M1690.6,547.5h16M1708.2,547.5h8M1719.4,547.5h6.4M1729,547.5h17.6M1804.2,547.5h1.6M1105,558.9h1.6M1114.6,558.9h1.6M1161,558.9h1.6M1217,558.9h1.6M1226.6,558.9h1.6M1261.8,558.9h1.6M1322.6,558.9h1.6M1353,558.9h1.6M1450.6,558.9h3.2M1457,558.9h1.6M1460.2,558.9h1.6M1529,558.9h1.6M1532.2,558.9h1.6M1537,558.9h3.2M1546.6,558.9h1.6M1580.2,558.9h1.6M1618.6,558.9h1.6M1647.4,558.9h3.2M1660.2,558.9h1.6M1685.8,558.9h1.6M1692.2,558.9h3.2M1717.8,558.9h1.6M1729,558.9h1.6M1732.2,558.9h1.6M1769,558.9h1.6M1778.6,558.9h1.6M1797.8,558.9h1.6M1813.8,558.9h3.2M1829.8,558.9h1.6M1058.6,570.3h1.6M1125.8,570.3h1.6M1159.4,570.3h1.6M1165.8,570.3h1.6M1183.4,570.3h1.6M1205.8,570.3h1.6M1226.6,570.3h1.6M1317.8,570.3h1.6M1357.8,570.3h1.6M1372.2,570.3h1.6M1380.2,570.3h3.2M1405.8,570.3h1.6M1473,570.3h1.6M1490.6,570.3h1.6M1524.2,570.3h1.6M1540.2,570.3h1.6M1564.2,570.3h1.6M1596.2,570.3h3.2M1629.8,570.3h1.6M1636.2,570.3h1.6M1783.4,570.3h1.6M1813.8,570.3h1.6M1818.6,570.3h1.6M1833,570.3h1.6M1058.6,661.5h1.6M1071.4,661.5h1.6M1173.8,661.5h1.6M1191.4,661.5h1.6M1202.6,661.5h3.2M1212.2,661.5h1.6M1249,661.5h1.6M1268.2,661.5h1.6M1292.2,661.5h1.6M1303.4,661.5h3.2M1370.6,661.5h1.6M1381.8,661.5h1.6M1391.4,661.5h1.6M1401,661.5h3.2M1421.8,661.5h1.6M1426.6,661.5h1.6M1437.8,661.5h1.6M1466.6,661.5h1.6M1508.2,661.5h1.6M1561,661.5h1.6M1569,661.5h1.6M1613.8,661.5h1.6M1658.6,661.5h3.2M1668.2,661.5h3.2M1729,661.5h1.6M1735.4,661.5h1.6M1741.8,661.5h1.6M1753,661.5h1.6M1762.6,661.5h1.6M1773.8,661.5h1.6M1777,661.5h1.6M1786.6,661.5h1.6M1069.8,672.9h1.6M1074.6,672.9h1.6M1082.6,672.9h1.6M1106.6,672.9h1.6M1143.4,672.9h1.6M1159.4,672.9h1.6M1180.2,672.9h1.6M1186.6,672.9h1.6M1207.4,672.9h1.6M1239.4,672.9h1.6M1261.8,672.9h1.6M1269.8,672.9h1.6M1274.6,672.9h1.6M1298.6,672.9h1.6M1324.2,672.9h1.6M1327.4,672.9h1.6M1332.2,672.9h1.6M1340.2,672.9h1.6M1346.6,672.9h1.6M1362.6,672.9h1.6M1474.6,672.9h1.6M1481,672.9h1.6M1492.2,672.9h1.6M1498.6,672.9h1.6M1506.6,672.9h3.2M1554.6,672.9h1.6M1570.6,672.9h1.6M1593,672.9h1.6M1599.4,672.9h1.6M1609,672.9h1.6M1642.6,672.9h1.6M1645.8,672.9h1.6M1653.8,672.9h1.6M1660.2,672.9h1.6M1666.6,672.9h1.6M1677.8,672.9h1.6M1681,672.9h1.6M1732.2,672.9h1.6M1738.6,672.9h1.6M1743.4,672.9h1.6M1749.8,672.9h1.6M1762.6,672.9h1.6M1770.6,672.9h1.6M1781.8,672.9h1.6" stroke="#bca0ff" stroke-width="11.7" fill="none"/>
<path d="M1111.4,91.5h1.6M1157.8,91.5h1.6M1245.8,91.5h1.6M1250.6,91.5h4.8M1268.2,91.5h1.6M1297,91.5h1.6M1301.8,91.5h1.6M1314.6,91.5h1.6M1122.6,102.9h1.6M1180.2,102.9h1.6M1209,102.9h1.6M1218.6,102.9h1.6M1245.8,102.9h1.6M1253.8,102.9h1.6M1257,102.9h1.6M1281,102.9h1.6M1287.4,102.9h1.6M1297,102.9h1.6M1329,102.9h1.6M1092.2,114.3h1.6M1212.2,114.3h1.6M1245.8,114.3h1.6M1266.6,114.3h1.6M1284.2,114.3h1.6M1309.8,114.3h1.6M1333.8,114.3h1.6M1345,114.3h1.6M1087.4,125.7h1.6M1137,125.7h1.6M1140.2,125.7h1.6M1143.4,125.7h1.6M1177,125.7h1.6M1188.2,125.7h1.6M1215.4,125.7h1.6M1221.8,125.7h1.6M1295.4,125.7h1.6M1321,125.7h1.6M1364.2,125.7h1.6M1375.4,125.7h1.6M1385,125.7h1.6M1109.8,137.1h1.6M1117.8,137.1h1.6M1138.6,137.1h1.6M1146.6,137.1h1.6M1149.8,137.1h1.6M1201,137.1h1.6M1223.4,137.1h1.6M1234.6,137.1h3.2M1271.4,137.1h1.6M1321,137.1h3.2M1367.4,137.1h1.6M1372.2,137.1h1.6M1090.6,148.5h1.6M1095.4,148.5h1.6M1229.8,148.5h1.6M1287.4,148.5h1.6M1311.4,148.5h1.6M1319.4,148.5h1.6M1065,159.9h1.6M1101.8,159.9h1.6M1257,159.9h1.6M1303.4,159.9h1.6M1317.8,159.9h3.2M1322.6,159.9h1.6M1098.6,171.3h1.6M1236.2,171.3h1.6M1273,171.3h1.6M1285.8,171.3h1.6M1329,171.3h1.6M1364.2,171.3h1.6M1407.4,171.3h3.2M1465,171.3h1.6M1484.2,171.3h1.6M1495.4,171.3h1.6M1517.8,171.3h1.6M1535.4,171.3h1.6M1556.2,171.3h1.6M1575.4,171.3h1.6M1583.4,171.3h1.6M1602.6,171.3h1.6M1607.4,171.3h1.6M1612.2,171.3h1.6M1626.6,171.3h1.6M1708.2,171.3h1.6M1722.6,171.3h3.2M1751.4,171.3h1.6M1757.8,171.3h1.6M1772.2,171.3h1.6M1789.8,171.3h1.6M1799.4,171.3h1.6M1804.2,171.3h1.6M1818.6,171.3h1.6M1074.6,182.7h1.6M1079.4,182.7h1.6M1084.2,182.7h4.8M1092.2,182.7h1.6M1117.8,182.7h1.6M1199.4,182.7h1.6M1213.8,182.7h1.6M1220.2,182.7h1.6M1239.4,182.7h1.6M1279.4,182.7h1.6M1327.4,182.7h1.6M1337,182.7h1.6M1361,182.7h1.6M1385,182.7h1.6M1087.4,262.5h1.6M1133.8,262.5h1.6M1183.4,262.5h1.6M1194.6,262.5h1.6M1236.2,262.5h1.6M1292.2,262.5h1.6M1329,262.5h1.6M1348.2,262.5h1.6M1356.2,262.5h1.6M1381.8,262.5h3.2M1527.4,262.5h3.2M1537,262.5h1.6M1540.2,262.5h1.6M1548.2,262.5h3.2M1557.8,262.5h1.6M1562.6,262.5h3.2M1570.6,262.5h3.2M1580.2,262.5h3.2M1585,262.5h1.6M1594.6,262.5h1.6M1599.4,262.5h1.6M1607.4,262.5h4.8M1613.8,262.5h4.8M1620.2,262.5h6.4M1628.2,262.5h1.6M1634.6,262.5h1.6M1660.2,262.5h3.2M1681,262.5h1.6M1690.6,262.5h3.2M1713,262.5h1.6M1717.8,262.5h1.6M1721,262.5h3.2M1068.2,273.9h1.6M1077.8,273.9h1.6M1100.2,273.9h1.6M1122.6,273.9h1.6M1138.6,273.9h1.6M1149.8,273.9h1.6M1202.6,273.9h3.2M1225,273.9h1.6M1252.2,273.9h1.6M1287.4,273.9h1.6M1300.2,273.9h1.6M1314.6,273.9h1.6M1337,273.9h1.6M1341.8,273.9h1.6M1354.6,273.9h1.6M1385,273.9h1.6M1557.8,273.9h1.6M1647.4,273.9h1.6M1660.2,273.9h1.6M1663.4,273.9h1.6M1676.2,273.9h1.6M1706.6,273.9h1.6M1738.6,273.9h1.6M1743.4,273.9h3.2M1754.6,273.9h1.6M1799.4,273.9h1.6M1065,365.1h1.6M1081,365.1h1.6M1121,365.1h1.6M1151.4,365.1h1.6M1157.8,365.1h3.2M1193,365.1h1.6M1215.4,365.1h1.6M1258.6,365.1h1.6M1265,365.1h1.6M1268.2,365.1h1.6M1285.8,365.1h1.6M1300.2,365.1h1.6M1303.4,365.1h1.6M1341.8,365.1h1.6M1348.2,365.1h1.6M1353,365.1h1.6M1361,365.1h3.2M1375.4,365.1h1.6M1417,365.1h1.6M1428.2,365.1h1.6M1434.6,365.1h1.6M1500.2,365.1h1.6M1511.4,365.1h1.6M1514.6,365.1h1.6M1559.4,365.1h1.6M1562.6,365.1h1.6M1567.4,365.1h1.6M1609,365.1h1.6M1620.2,365.1h1.6M1633,365.1h1.6M1644.2,365.1h1.6M1660.2,365.1h1.6M1697,365.1h1.6M1703.4,365.1h1.6M1767.4,365.1h1.6M1796.2,365.1h1.6M1833,365.1h1.6M1836.2,365.1h1.6M1058.6,410.7h1.6M1079.4,410.7h1.6M1146.6,410.7h1.6M1193,410.7h1.6M1215.4,410.7h1.6M1221.8,410.7h1.6M1239.4,410.7h1.6M1274.6,410.7h1.6M1281,410.7h1.6M1285.8,410.7h1.6M1321,410.7h1.6M1330.6,410.7h1.6M1354.6,410.7h1.6M1421.8,410.7h1.6M1468.2,410.7h1.6M1489,410.7h1.6M1492.2,410.7h1.6M1497,410.7h3.2M1501.8,410.7h1.6M1509.8,410.7h1.6M1514.6,410.7h1.6M1519.4,410.7h1.6M1522.6,410.7h1.6M1575.4,410.7h1.6M1589.8,410.7h1.6M1705,410.7h1.6M1749.8,410.7h1.6M1780.2,410.7h1.6M1818.6,410.7h1.6M1061.8,422.1h1.6M1066.6,422.1h1.6M1101.8,422.1h1.6M1146.6,422.1h1.6M1159.4,422.1h1.6M1172.2,422.1h1.6M1209,422.1h1.6M1228.2,422.1h1.6M1241,422.1h1.6M1244.2,422.1h1.6M1255.4,422.1h1.6M1281,422.1h1.6M1345,422.1h1.6M1391.4,422.1h3.2M1409,422.1h1.6M1415.4,422.1h1.6M1421.8,422.1h1.6M1428.2,422.1h1.6M1433,422.1h1.6M1476.2,422.1h1.6M1481,422.1h1.6M1492.2,422.1h1.6M1505,422.1h1.6M1565.8,422.1h3.2M1575.4,422.1h1.6M1618.6,422.1h1.6M1708.2,422.1h1.6M1789.8,422.1h4.8M1802.6,422.1h1.6M1807.4,422.1h1.6M1818.6,422.1h1.6M1132.2,433.5h1.6M1162.6,433.5h1.6M1194.6,433.5h1.6M1404.2,433.5h1.6M1417,433.5h1.6M1423.4,433.5h1.6M1452.2,433.5h3.2M1469.8,433.5h1.6M1473,433.5h1.6M1495.4,433.5h1.6M1521,433.5h3.2M1567.4,433.5h1.6M1575.4,433.5h1.6M1578.6,433.5h1.6M1617,433.5h1.6M1661.8,433.5h1.6M1665,433.5h1.6M1714.6,433.5h1.6M1753,433.5h1.6M1796.2,433.5h1.6M1804.2,433.5h1.6M1831.4,433.5h1.6M1388.2,444.9h3.2M1394.6,444.9h1.6M1428.2,444.9h3.2M1433,444.9h1.6M1444.2,444.9h1.6M1452.2,444.9h1.6M1457,444.9h3.2M1465,444.9h1.6M1473,444.9h1.6M1479.4,444.9h1.6M1482.6,444.9h1.6M1485.8,444.9h1.6M1501.8,444.9h1.6M1506.6,444.9h1.6M1513,444.9h4.8M1069.8,479.1h1.6M1101.8,479.1h3.2M1143.4,479.1h1.6M1169,479.1h1.6M1172.2,479.1h1.6M1199.4,479.1h1.6M1388.2,479.1h3.2M1404.2,479.1h3.2M1409,479.1h1.6M1413.8,479.1h1.6M1417,479.1h1.6M1429.8,479.1h1.6M1445.8,479.1h1.6M1463.4,479.1h1.6M1466.6,479.1h1.6M1487.4,479.1h1.6M1490.6,479.1h3.2M1505,479.1h1.6M1522.6,479.1h1.6M1529,479.1h1.6M1548.2,479.1h1.6M1586.6,479.1h1.6M1645.8,479.1h1.6M1665,479.1h1.6M1668.2,479.1h1.6M1729,479.1h1.6M1741.8,479.1h1.6M1767.4,479.1h1.6M1794.6,479.1h1.6M1804.2,479.1h1.6M1815.4,479.1h1.6M1829.8,479.1h1.6M1058.6,490.5h1.6M1079.4,490.5h1.6M1087.4,490.5h1.6M1108.2,490.5h1.6M1113,490.5h1.6M1173.8,490.5h1.6M1188.2,490.5h1.6M1217,490.5h1.6M1220.2,490.5h1.6M1281,490.5h1.6M1309.8,490.5h1.6M1345,490.5h1.6M1396.2,490.5h1.6M1410.6,490.5h1.6M1460.2,490.5h1.6M1468.2,490.5h1.6M1479.4,490.5h1.6M1490.6,490.5h1.6M1501.8,490.5h1.6M1530.6,490.5h1.6M1553,490.5h1.6M1572.2,490.5h3.2M1593,490.5h1.6M1602.6,490.5h1.6M1605.8,490.5h1.6M1652.2,490.5h1.6M1663.4,490.5h1.6M1717.8,490.5h1.6M1756.2,490.5h1.6M1765.8,490.5h3.2M1783.4,490.5h1.6M1789.8,490.5h1.6M1639.4,536.1h1.6M1649,536.1h1.6M1653.8,536.1h6.4M1669.8,536.1h1.6M1676.2,536.1h1.6M1687.4,536.1h1.6M1692.2,536.1h1.6M1700.2,536.1h1.6M1709.8,536.1h1.6M1713,536.1h1.6M1725.8,536.1h3.2M1733.8,536.1h1.6M1737,536.1h1.6M1743.4,536.1h1.6M1689,547.5h1.6M1069.8,581.7h1.6M1106.6,581.7h1.6M1111.4,581.7h1.6M1137,581.7h1.6M1233,581.7h1.6M1249,581.7h1.6M1289,581.7h1.6M1354.6,581.7h1.6M1367.4,581.7h1.6M1385,581.7h1.6M1449,581.7h1.6M1457,581.7h3.2M1469.8,581.7h1.6M1493.8,581.7h1.6M1497,581.7h1.6M1548.2,581.7h1.6M1780.2,581.7h1.6M1791.4,581.7h1.6" stroke="#ceb8ff" stroke-width="11.7" fill="none"/>
<path d="M1089,91.5h1.6M1125.8,91.5h1.6M1130.6,91.5h1.6M1177,91.5h1.6M1215.4,91.5h1.6M1221.8,91.5h1.6M1292.2,91.5h1.6M1309.8,91.5h1.6M1356.2,91.5h1.6M1370.6,91.5h1.6M1388.2,91.5h1.6M1391.4,91.5h1.6M1396.2,91.5h1.6M1409,91.5h1.6M1415.4,91.5h1.6M1418.6,91.5h1.6M1442.6,91.5h1.6M1465,91.5h1.6M1479.4,91.5h1.6M1511.4,91.5h3.2M1519.4,91.5h1.6M1546.6,91.5h1.6M1549.8,91.5h1.6M1621.8,91.5h1.6M1639.4,91.5h1.6M1652.2,91.5h1.6M1661.8,91.5h4.8M1676.2,91.5h1.6M1681,91.5h3.2M1698.6,91.5h1.6M1714.6,91.5h1.6M1733.8,91.5h1.6M1751.4,91.5h1.6M1789.8,91.5h1.6M1794.6,91.5h1.6M1805.8,91.5h1.6M1812.2,91.5h1.6M1829.8,91.5h1.6M1833,91.5h6.4M1113,102.9h1.6M1237.8,102.9h1.6M1255.4,102.9h1.6M1273,102.9h1.6M1308.2,102.9h1.6M1365.8,102.9h1.6M1410.6,102.9h1.6M1421.8,102.9h1.6M1431.4,102.9h1.6M1452.2,102.9h1.6M1461.8,102.9h1.6M1466.6,102.9h1.6M1474.6,102.9h1.6M1484.2,102.9h1.6M1557.8,102.9h1.6M1562.6,102.9h1.6M1570.6,102.9h1.6M1628.2,102.9h4.8M1666.6,102.9h3.2M1679.4,102.9h1.6M1709.8,102.9h1.6M1713,102.9h1.6M1770.6,102.9h1.6M1777,102.9h1.6M1789.8,102.9h1.6M1801,102.9h1.6M1145,114.3h1.6M1183.4,114.3h1.6M1258.6,114.3h1.6M1276.2,114.3h1.6M1322.6,114.3h1.6M1337,114.3h1.6M1340.2,114.3h1.6M1348.2,114.3h1.6M1410.6,114.3h1.6M1445.8,114.3h1.6M1468.2,114.3h1.6M1505,114.3h1.6M1524.2,114.3h1.6M1535.4,114.3h1.6M1557.8,114.3h1.6M1573.8,114.3h1.6M1578.6,114.3h1.6M1599.4,114.3h1.6M1636.2,114.3h1.6M1660.2,114.3h1.6M1663.4,114.3h3.2M1676.2,114.3h1.6M1679.4,114.3h1.6M1700.2,114.3h1.6M1716.2,114.3h1.6M1732.2,114.3h1.6M1735.4,114.3h1.6M1748.2,114.3h1.6M1765.8,114.3h1.6M1831.4,114.3h1.6M1066.6,125.7h1.6M1164.2,125.7h1.6M1193,125.7h1.6M1217,125.7h1.6M1284.2,125.7h1.6M1287.4,125.7h1.6M1356.2,125.7h1.6M1420.2,125.7h1.6M1441,125.7h1.6M1473,125.7h1.6M1503.4,125.7h1.6M1543.4,125.7h1.6M1575.4,125.7h3.2M1588.2,125.7h1.6M1605.8,125.7h1.6M1615.4,125.7h1.6M1629.8,125.7h1.6M1637.8,125.7h1.6M1642.6,125.7h1.6M1650.6,125.7h1.6M1711.4,125.7h1.6M1740.2,125.7h1.6M1791.4,125.7h1.6M1805.8,125.7h1.6M1815.4,125.7h1.6M1831.4,125.7h1.6M1103.4,137.1h1.6M1119.4,137.1h1.6M1156.2,137.1h1.6M1181.8,137.1h1.6M1221.8,137.1h1.6M1297,137.1h1.6M1300.2,137.1h1.6M1325.8,137.1h1.6M1332.2,137.1h1.6M1343.4,137.1h1.6M1397.8,137.1h1.6M1425,137.1h1.6M1450.6,137.1h1.6M1453.8,137.1h1.6M1471.4,137.1h3.2M1513,137.1h1.6M1554.6,137.1h1.6M1572.2,137.1h1.6M1581.8,137.1h1.6M1599.4,137.1h3.2M1607.4,137.1h1.6M1629.8,137.1h1.6M1634.6,137.1h3.2M1679.4,137.1h1.6M1685.8,137.1h1.6M1693.8,137.1h1.6M1713,137.1h1.6M1716.2,137.1h1.6M1724.2,137.1h1.6M1804.2,137.1h1.6M1820.2,137.1h1.6M1834.6,137.1h1.6M1106.6,148.5h1.6M1116.2,148.5h1.6M1140.2,148.5h1.6M1156.2,148.5h1.6M1252.2,148.5h1.6M1359.4,148.5h1.6M1389.8,148.5h1.6M1407.4,148.5h1.6M1428.2,148.5h3.2M1436.2,148.5h1.6M1441,148.5h1.6M1469.8,148.5h1.6M1511.4,148.5h1.6M1517.8,148.5h1.6M1522.6,148.5h1.6M1529,148.5h1.6M1537,148.5h3.2M1578.6,148.5h1.6M1591.4,148.5h1.6M1601,148.5h1.6M1639.4,148.5h1.6M1657,148.5h1.6M1661.8,148.5h1.6M1674.6,148.5h1.6M1684.2,148.5h1.6M1703.4,148.5h3.2M1733.8,148.5h3.2M1748.2,148.5h1.6M1773.8,148.5h3.2M1805.8,148.5h1.6M1818.6,148.5h1.6M1129,159.9h1.6M1162.6,159.9h1.6M1175.4,159.9h1.6M1178.6,159.9h1.6M1189.8,159.9h1.6M1201,159.9h1.6M1223.4,159.9h1.6M1345,159.9h1.6M1367.4,159.9h1.6M1449,159.9h1.6M1482.6,159.9h1.6M1513,159.9h1.6M1535.4,159.9h1.6M1540.2,159.9h1.6M1581.8,159.9h1.6M1588.2,159.9h3.2M1601,159.9h1.6M1631.4,159.9h1.6M1657,159.9h1.6M1671.4,159.9h1.6M1705,159.9h1.6M1709.8,159.9h1.6M1764.2,159.9h1.6M1781.8,159.9h1.6M1812.2,159.9h1.6M1146.6,171.3h1.6M1167.4,171.3h1.6M1225,171.3h1.6M1258.6,171.3h1.6M1268.2,171.3h1.6M1303.4,171.3h1.6M1322.6,171.3h1.6M1325.8,171.3h1.6M1380.2,171.3h1.6M1058.6,182.7h1.6M1061.8,182.7h1.6M1071.4,182.7h1.6M1081,182.7h3.2M1097,182.7h3.2M1109.8,182.7h1.6M1113,182.7h1.6M1119.4,182.7h1.6M1129,182.7h1.6M1133.8,182.7h4.8M1140.2,182.7h3.2M1148.2,182.7h4.8M1159.4,182.7h1.6M1164.2,182.7h1.6M1178.6,182.7h1.6M1183.4,182.7h1.6M1186.6,182.7h3.2M1201,182.7h1.6M1204.2,182.7h1.6M1207.4,182.7h1.6M1210.6,182.7h1.6M1217,182.7h1.6M1231.4,182.7h1.6M1241,182.7h1.6M1244.2,182.7h3.2M1249,182.7h1.6M1252.2,182.7h1.6M1258.6,182.7h1.6M1269.8,182.7h1.6M1273,182.7h1.6M1282.6,182.7h4.8M1290.6,182.7h1.6M1324.2,182.7h1.6M1329,182.7h1.6M1338.6,182.7h1.6M1345,182.7h3.2M1357.8,182.7h3.2M1375.4,182.7h3.2M1386.6,182.7h1.6M1391.4,182.7h1.6M1394.6,182.7h1.6M1407.4,182.7h1.6M1421.8,182.7h1.6M1426.6,182.7h1.6M1434.6,182.7h1.6M1437.8,182.7h1.6M1445.8,182.7h1.6M1461.8,182.7h1.6M1477.8,182.7h1.6M1497,182.7h1.6M1514.6,182.7h1.6M1548.2,182.7h1.6M1557.8,182.7h1.6M1569,182.7h1.6M1626.6,182.7h1.6M1629.8,182.7h1.6M1658.6,182.7h3.2M1666.6,182.7h1.6M1740.2,182.7h1.6M1775.4,182.7h1.6M1818.6,182.7h1.6M1829.8,182.7h3.2M1837.8,182.7h1.6M1057,262.5h3.2M1073,262.5h1.6M1101.8,262.5h1.6M1127.4,262.5h1.6M1149.8,262.5h1.6M1164.2,262.5h1.6M1172.2,262.5h1.6M1177,262.5h1.6M1213.8,262.5h1.6M1223.4,262.5h1.6M1226.6,262.5h1.6M1231.4,262.5h1.6M1255.4,262.5h1.6M1289,262.5h1.6M1306.6,262.5h1.6M1349.8,262.5h1.6M1364.2,262.5h1.6M1588.2,262.5h1.6M1593,262.5h1.6M1601,262.5h1.6M1637.8,262.5h1.6M1663.4,262.5h1.6M1666.6,262.5h1.6M1764.2,262.5h1.6M1791.4,262.5h1.6M1057,273.9h1.6M1066.6,273.9h1.6M1135.4,273.9h1.6M1170.6,273.9h1.6M1173.8,273.9h1.6M1181.8,273.9h3.2M1186.6,273.9h1.6M1207.4,273.9h1.6M1234.6,273.9h1.6M1239.4,273.9h1.6M1255.4,273.9h1.6M1263.4,273.9h1.6M1279.4,273.9h1.6M1282.6,273.9h3.2M1289,273.9h3.2M1297,273.9h1.6M1313,273.9h1.6M1324.2,273.9h1.6M1327.4,273.9h1.6M1353,273.9h1.6M1383.4,273.9h1.6M1525.8,273.9h1.6M1529,273.9h1.6M1535.4,273.9h4.8M1541.8,273.9h3.2M1546.6,273.9h1.6M1549.8,273.9h4.8M1559.4,273.9h4.8M1565.8,273.9h6.4M1573.8,273.9h1.6M1580.2,273.9h1.6M1583.4,273.9h4.8M1593,273.9h1.6M1596.2,273.9h3.2M1602.6,273.9h3.2M1610.6,273.9h4.8M1618.6,273.9h4.8M1626.6,273.9h6.4M1634.6,273.9h1.6M1671.4,273.9h1.6M1684.2,273.9h1.6M1700.2,273.9h1.6M1716.2,273.9h1.6M1725.8,273.9h1.6M1735.4,273.9h1.6M1740.2,273.9h1.6M1769,273.9h3.2M1794.6,273.9h1.6M1065,285.3h1.6M1079.4,285.3h1.6M1143.4,285.3h1.6M1169,285.3h1.6M1194.6,285.3h1.6M1202.6,285.3h1.6M1209,285.3h1.6M1215.4,285.3h1.6M1226.6,285.3h1.6M1253.8,285.3h3.2M1276.2,285.3h1.6M1316.2,285.3h1.6M1340.2,285.3h1.6M1359.4,285.3h1.6M1369,285.3h1.6M1535.4,285.3h1.6M1573.8,285.3h1.6M1607.4,285.3h1.6M1628.2,285.3h1.6M1634.6,285.3h1.6M1665,285.3h1.6M1687.4,285.3h1.6M1695.4,285.3h1.6M1711.4,285.3h1.6M1724.2,285.3h3.2M1770.6,285.3h1.6M1809,285.3h1.6M1812.2,285.3h1.6M1820.2,285.3h1.6M1825,285.3h3.2M1829.8,285.3h1.6M1068.2,376.5h3.2M1098.6,376.5h1.6M1111.4,376.5h3.2M1156.2,376.5h1.6M1186.6,376.5h1.6M1204.2,376.5h1.6M1209,376.5h1.6M1220.2,376.5h1.6M1239.4,376.5h1.6M1274.6,376.5h1.6M1332.2,376.5h1.6M1346.6,376.5h1.6M1365.8,376.5h1.6M1370.6,376.5h1.6M1417,376.5h1.6M1441,376.5h1.6M1473,376.5h1.6M1505,376.5h1.6M1562.6,376.5h1.6M1589.8,376.5h1.6M1620.2,376.5h1.6M1626.6,376.5h1.6M1673,376.5h1.6M1689,376.5h1.6M1705,376.5h1.6M1709.8,376.5h1.6M1724.2,376.5h1.6M1735.4,376.5h1.6M1756.2,376.5h1.6M1759.4,376.5h1.6M1791.4,376.5h1.6M1801,376.5h3.2M1817,376.5h1.6M1823.4,376.5h1.6M1839.4,376.5h1.6M1061.8,387.9h1.6M1093.8,387.9h1.6M1177,387.9h1.6M1194.6,387.9h1.6M1250.6,387.9h1.6M1277.8,387.9h1.6M1282.6,387.9h3.2M1332.2,387.9h1.6M1345,387.9h1.6M1349.8,387.9h3.2M1383.4,387.9h3.2M1401,387.9h1.6M1404.2,387.9h1.6M1420.2,387.9h1.6M1433,387.9h1.6M1503.4,387.9h1.6M1508.2,387.9h1.6M1545,387.9h1.6M1601,387.9h1.6M1692.2,387.9h1.6M1708.2,387.9h1.6M1714.6,387.9h1.6M1738.6,387.9h1.6M1791.4,387.9h1.6M1812.2,387.9h1.6M1815.4,387.9h1.6M1826.6,387.9h1.6M1829.8,387.9h3.2M1476.2,444.9h1.6M1138.6,456.3h1.6M1148.2,456.3h1.6M1249,456.3h1.6M1258.6,456.3h1.6M1266.6,456.3h1.6M1284.2,456.3h1.6M1298.6,456.3h1.6M1303.4,456.3h1.6M1362.6,456.3h1.6M1369,456.3h1.6M1415.4,456.3h1.6M1442.6,456.3h1.6M1449,456.3h1.6M1461.8,456.3h1.6M1477.8,456.3h1.6M1490.6,456.3h1.6M1497,456.3h1.6M1506.6,456.3h1.6M1517.8,456.3h1.6M1533.8,456.3h1.6M1572.2,456.3h1.6M1604.2,456.3h1.6M1620.2,456.3h1.6M1647.4,456.3h1.6M1653.8,456.3h1.6M1713,456.3h1.6M1722.6,456.3h1.6M1773.8,456.3h3.2M1797.8,456.3h1.6M1809,456.3h3.2M1813.8,456.3h1.6M1831.4,456.3h3.2M1077.8,467.7h1.6M1092.2,467.7h1.6M1109.8,467.7h1.6M1153,467.7h3.2M1175.4,467.7h1.6M1186.6,467.7h1.6M1209,467.7h1.6M1242.6,467.7h1.6M1252.2,467.7h1.6M1349.8,467.7h1.6M1357.8,467.7h1.6M1404.2,467.7h1.6M1420.2,467.7h1.6M1450.6,467.7h1.6M1453.8,467.7h1.6M1466.6,467.7h1.6M1500.2,467.7h1.6M1601,467.7h3.2M1609,467.7h1.6M1623.4,467.7h3.2M1665,467.7h1.6M1668.2,467.7h1.6M1732.2,467.7h1.6M1809,467.7h1.6M1817,467.7h1.6M1825,467.7h1.6M1829.8,467.7h3.2M1073,501.9h1.6M1090.6,501.9h1.6M1093.8,501.9h1.6M1101.8,501.9h1.6M1117.8,501.9h1.6M1132.2,501.9h1.6M1137,501.9h1.6M1165.8,501.9h1.6M1249,501.9h1.6M1252.2,501.9h1.6M1261.8,501.9h1.6M1285.8,501.9h1.6M1346.6,501.9h1.6M1393,501.9h1.6M1405.8,501.9h1.6M1426.6,501.9h1.6M1452.2,501.9h1.6M1473,501.9h1.6M1485.8,501.9h1.6M1493.8,501.9h1.6M1519.4,501.9h1.6M1565.8,501.9h1.6M1569,501.9h1.6M1597.8,501.9h1.6M1629.8,501.9h1.6M1649,501.9h1.6M1660.2,501.9h1.6M1665,501.9h1.6M1668.2,501.9h1.6M1677.8,501.9h1.6M1695.4,501.9h1.6M1719.4,501.9h1.6M1733.8,501.9h1.6M1764.2,501.9h1.6M1773.8,501.9h1.6M1789.8,501.9h1.6M1815.4,501.9h1.6M1826.6,501.9h1.6M1833,501.9h1.6M1837.8,501.9h1.6M1204.2,524.7h1.6M1220.2,524.7h1.6M1260.2,524.7h1.6M1436.2,524.7h1.6M1473,524.7h1.6M1527.4,524.7h1.6M1722.6,524.7h1.6M1061.8,536.1h1.6M1077.8,536.1h1.6M1097,536.1h1.6M1113,536.1h3.2M1117.8,536.1h1.6M1137,536.1h1.6M1157.8,536.1h1.6M1167.4,536.1h4.8M1201,536.1h1.6M1212.2,536.1h1.6M1298.6,536.1h1.6M1316.2,536.1h1.6M1322.6,536.1h1.6M1325.8,536.1h1.6M1359.4,536.1h1.6M1482.6,536.1h1.6M1553,536.1h1.6M1569,536.1h1.6M1580.2,536.1h1.6M1599.4,536.1h1.6M1609,536.1h1.6M1623.4,536.1h1.6M1812.2,536.1h1.6M1831.4,536.1h1.6M1090.6,547.5h1.6M1173.8,547.5h1.6M1186.6,547.5h1.6M1207.4,547.5h1.6M1212.2,547.5h1.6M1218.6,547.5h1.6M1229.8,547.5h1.6M1252.2,547.5h1.6M1266.6,547.5h1.6M1274.6,547.5h1.6M1316.2,547.5h1.6M1378.6,547.5h1.6M1413.8,547.5h1.6M1439.4,547.5h1.6M1455.4,547.5h1.6M1551.4,547.5h1.6M1554.6,547.5h1.6M1559.4,547.5h1.6M1575.4,547.5h3.2M1610.6,547.5h1.6M1628.2,547.5h1.6M1634.6,547.5h1.6M1756.2,547.5h1.6M1809,547.5h1.6M1825,547.5h1.6M1833,547.5h1.6M1076.2,558.9h1.6M1081,558.9h1.6M1089,558.9h1.6M1106.6,558.9h1.6M1111.4,558.9h1.6M1117.8,558.9h1.6M1148.2,558.9h1.6M1177,558.9h1.6M1207.4,558.9h1.6M1247.4,558.9h1.6M1255.4,558.9h1.6M1301.8,558.9h1.6M1319.4,558.9h1.6M1324.2,558.9h1.6M1329,558.9h1.6M1345,558.9h1.6M1348.2,558.9h1.6M1389.8,558.9h1.6M1429.8,558.9h1.6M1473,558.9h1.6M1482.6,558.9h1.6M1493.8,558.9h1.6M1596.2,558.9h1.6M1613.8,558.9h1.6M1645.8,558.9h1.6M1669.8,558.9h1.6M1674.6,558.9h1.6M1677.8,558.9h1.6M1695.4,558.9h1.6M1714.6,558.9h1.6M1745,558.9h1.6M1748.2,558.9h1.6M1770.6,558.9h1.6M1812.2,558.9h1.6M1820.2,558.9h3.2M1061.8,570.3h3.2M1076.2,570.3h1.6M1093.8,570.3h1.6M1117.8,570.3h1.6M1141.8,570.3h1.6M1225,570.3h1.6M1245.8,570.3h1.6M1269.8,570.3h1.6M1300.2,570.3h1.6M1316.2,570.3h1.6M1327.4,570.3h1.6M1351.4,570.3h1.6M1361,570.3h1.6M1373.8,570.3h1.6M1385,570.3h1.6M1452.2,570.3h1.6M1500.2,570.3h1.6M1506.6,570.3h1.6M1567.4,570.3h1.6M1591.4,570.3h1.6M1594.6,570.3h1.6M1599.4,570.3h1.6M1612.2,570.3h1.6M1623.4,570.3h1.6M1762.6,570.3h1.6M1786.6,570.3h1.6M1826.6,570.3h1.6M1836.2,570.3h1.6M1839.4,570.3h1.6M1090.6,581.7h1.6M1124.2,581.7h1.6M1153,581.7h1.6M1164.2,581.7h1.6M1186.6,581.7h1.6M1212.2,581.7h1.6M1234.6,581.7h1.6M1258.6,581.7h1.6M1271.4,581.7h1.6M1285.8,581.7h1.6M1303.4,581.7h1.6M1309.8,581.7h1.6M1313,581.7h1.6M1381.8,581.7h1.6M1425,581.7h1.6M1428.2,581.7h1.6M1495.4,581.7h1.6M1501.8,581.7h1.6M1537,581.7h1.6M1557.8,581.7h1.6M1581.8,581.7h1.6M1607.4,581.7h1.6M1629.8,581.7h1.6M1789.8,581.7h1.6M1821.8,581.7h1.6M1831.4,581.7h1.6M1090.6,661.5h1.6M1101.8,661.5h1.6M1109.8,661.5h1.6M1116.2,661.5h1.6M1161,661.5h1.6M1177,661.5h1.6M1197.8,661.5h1.6M1261.8,661.5h1.6M1314.6,661.5h1.6M1322.6,661.5h1.6M1332.2,661.5h3.2M1348.2,661.5h1.6M1351.4,661.5h3.2M1383.4,661.5h1.6M1405.8,661.5h1.6M1428.2,661.5h1.6M1442.6,661.5h1.6M1450.6,661.5h1.6M1471.4,661.5h1.6M1495.4,661.5h1.6M1500.2,661.5h3.2M1519.4,661.5h1.6M1530.6,661.5h3.2M1557.8,661.5h1.6M1585,661.5h1.6M1599.4,661.5h1.6M1682.6,661.5h1.6M1695.4,661.5h3.2M1700.2,661.5h1.6M1713,661.5h1.6M1748.2,661.5h1.6M1772.2,661.5h1.6M1778.6,661.5h1.6M1793,661.5h1.6M1057,672.9h1.6M1068.2,672.9h1.6M1077.8,672.9h1.6M1105,672.9h1.6M1145,672.9h1.6M1178.6,672.9h1.6M1189.8,672.9h1.6M1199.4,672.9h1.6M1204.2,672.9h1.6M1210.6,672.9h1.6M1249,672.9h1.6M1255.4,672.9h1.6M1277.8,672.9h1.6M1313,672.9h1.6M1367.4,672.9h1.6M1393,672.9h1.6M1402.6,672.9h1.6M1410.6,672.9h1.6M1421.8,672.9h1.6M1426.6,672.9h1.6M1429.8,672.9h1.6M1436.2,672.9h1.6M1450.6,672.9h1.6M1509.8,672.9h1.6M1514.6,672.9h1.6M1519.4,672.9h1.6M1522.6,672.9h1.6M1572.2,672.9h1.6M1578.6,672.9h1.6M1588.2,672.9h1.6M1615.4,672.9h1.6M1629.8,672.9h1.6M1633,672.9h1.6M1698.6,672.9h1.6M1724.2,672.9h1.6M1748.2,672.9h1.6M1753,672.9h3.2M1765.8,672.9h1.6M1786.6,672.9h1.6M1793,672.9h1.6M1801,672.9h3.2" stroke="#e0d0ff" stroke-width="11.7" fill="none"/>
<path d="M1081,91.5h1.6M1084.2,91.5h3.2M1097,91.5h3.2M1101.8,91.5h1.6M1109.8,91.5h1.6M1121,91.5h3.2M1132.2,91.5h3.2M1140.2,91.5h1.6M1181.8,91.5h1.6M1185,91.5h1.6M1204.2,91.5h3.2M1218.6,91.5h3.2M1223.4,91.5h1.6M1241,91.5h1.6M1244.2,91.5h1.6M1255.4,91.5h1.6M1287.4,91.5h1.6M1303.4,91.5h3.2M1338.6,91.5h1.6M1341.8,91.5h1.6M1349.8,91.5h1.6M1353,91.5h1.6M1362.6,91.5h1.6M1372.2,91.5h1.6M1383.4,91.5h3.2M1399.4,91.5h1.6M1402.6,91.5h1.6M1421.8,91.5h1.6M1449,91.5h1.6M1457,91.5h1.6M1493.8,91.5h1.6M1570.6,91.5h1.6M1573.8,91.5h1.6M1581.8,91.5h1.6M1668.2,91.5h1.6M1687.4,91.5h1.6M1724.2,91.5h1.6M1730.6,91.5h1.6M1737,91.5h4.8M1807.4,91.5h1.6M1820.2,91.5h1.6M1074.6,102.9h1.6M1082.6,102.9h3.2M1087.4,102.9h1.6M1095.4,102.9h1.6M1119.4,102.9h3.2M1125.8,102.9h3.2M1130.6,102.9h1.6M1141.8,102.9h1.6M1148.2,102.9h1.6M1161,102.9h3.2M1167.4,102.9h1.6M1178.6,102.9h1.6M1183.4,102.9h1.6M1186.6,102.9h1.6M1221.8,102.9h1.6M1226.6,102.9h3.2M1233,102.9h1.6M1247.4,102.9h1.6M1260.2,102.9h1.6M1284.2,102.9h1.6M1305,102.9h3.2M1311.4,102.9h1.6M1314.6,102.9h3.2M1319.4,102.9h1.6M1322.6,102.9h4.8M1332.2,102.9h1.6M1340.2,102.9h3.2M1346.6,102.9h3.2M1356.2,102.9h1.6M1359.4,102.9h1.6M1367.4,102.9h1.6M1429.8,102.9h1.6M1449,102.9h1.6M1460.2,102.9h1.6M1477.8,102.9h1.6M1495.4,102.9h1.6M1501.8,102.9h1.6M1513,102.9h1.6M1522.6,102.9h1.6M1554.6,102.9h1.6M1569,102.9h1.6M1610.6,102.9h1.6M1641,102.9h1.6M1644.2,102.9h1.6M1650.6,102.9h1.6M1653.8,102.9h3.2M1737,102.9h1.6M1746.6,102.9h1.6M1802.6,102.9h1.6M1805.8,102.9h1.6M1818.6,102.9h1.6M1834.6,102.9h1.6M1065,114.3h1.6M1076.2,114.3h1.6M1084.2,114.3h1.6M1090.6,114.3h1.6M1095.4,114.3h1.6M1098.6,114.3h1.6M1101.8,114.3h1.6M1119.4,114.3h1.6M1124.2,114.3h1.6M1129,114.3h1.6M1143.4,114.3h1.6M1157.8,114.3h1.6M1201,114.3h4.8M1213.8,114.3h1.6M1221.8,114.3h1.6M1226.6,114.3h1.6M1229.8,114.3h1.6M1257,114.3h1.6M1261.8,114.3h1.6M1271.4,114.3h1.6M1282.6,114.3h1.6M1287.4,114.3h1.6M1290.6,114.3h1.6M1298.6,114.3h1.6M1314.6,114.3h1.6M1319.4,114.3h1.6M1324.2,114.3h1.6M1327.4,114.3h1.6M1341.8,114.3h3.2M1357.8,114.3h1.6M1367.4,114.3h1.6M1378.6,114.3h1.6M1397.8,114.3h3.2M1423.4,114.3h1.6M1437.8,114.3h1.6M1465,114.3h1.6M1474.6,114.3h1.6M1497,114.3h1.6M1501.8,114.3h1.6M1593,114.3h1.6M1631.4,114.3h1.6M1645.8,114.3h1.6M1652.2,114.3h3.2M1671.4,114.3h1.6M1690.6,114.3h1.6M1705,114.3h1.6M1709.8,114.3h1.6M1719.4,114.3h1.6M1722.6,114.3h1.6M1789.8,114.3h1.6M1823.4,114.3h1.6M1839.4,114.3h1.6M1084.2,125.7h1.6M1097,125.7h1.6M1105,125.7h1.6M1114.6,125.7h1.6M1119.4,125.7h1.6M1129,125.7h1.6M1141.8,125.7h1.6M1149.8,125.7h1.6M1154.6,125.7h1.6M1186.6,125.7h1.6M1194.6,125.7h1.6M1201,125.7h1.6M1205.8,125.7h1.6M1244.2,125.7h1.6M1252.2,125.7h3.2M1276.2,125.7h1.6M1281,125.7h1.6M1292.2,125.7h1.6M1297,125.7h3.2M1305,125.7h1.6M1311.4,125.7h1.6M1314.6,125.7h1.6M1317.8,125.7h1.6M1324.2,125.7h1.6M1329,125.7h1.6M1335.4,125.7h1.6M1338.6,125.7h4.8M1348.2,125.7h3.2M1357.8,125.7h1.6M1377,125.7h3.2M1386.6,125.7h1.6M1391.4,125.7h1.6M1394.6,125.7h1.6M1404.2,125.7h1.6M1415.4,125.7h1.6M1431.4,125.7h1.6M1439.4,125.7h1.6M1455.4,125.7h1.6M1463.4,125.7h1.6M1481,125.7h1.6M1497,125.7h1.6M1522.6,125.7h1.6M1537,125.7h1.6M1562.6,125.7h1.6M1573.8,125.7h1.6M1596.2,125.7h1.6M1602.6,125.7h1.6M1609,125.7h1.6M1612.2,125.7h3.2M1628.2,125.7h1.6M1669.8,125.7h1.6M1729,125.7h1.6M1738.6,125.7h1.6M1748.2,125.7h1.6M1753,125.7h3.2M1773.8,125.7h1.6M1793,125.7h1.6M1804.2,125.7h1.6M1807.4,125.7h1.6M1813.8,125.7h1.6M1818.6,125.7h1.6M1829.8,125.7h1.6M1836.2,125.7h1.6M1074.6,137.1h1.6M1077.8,137.1h3.2M1084.2,137.1h1.6M1092.2,137.1h1.6M1105,137.1h1.6M1116.2,137.1h1.6M1127.4,137.1h1.6M1132.2,137.1h1.6M1161,137.1h1.6M1165.8,137.1h1.6M1169,137.1h1.6M1188.2,137.1h3.2M1212.2,137.1h1.6M1215.4,137.1h1.6M1239.4,137.1h1.6M1249,137.1h1.6M1266.6,137.1h1.6M1273,137.1h1.6M1277.8,137.1h1.6M1281,137.1h3.2M1285.8,137.1h1.6M1292.2,137.1h3.2M1309.8,137.1h1.6M1335.4,137.1h1.6M1359.4,137.1h1.6M1369,137.1h1.6M1373.8,137.1h1.6M1378.6,137.1h1.6M1381.8,137.1h1.6M1417,137.1h1.6M1442.6,137.1h1.6M1445.8,137.1h1.6M1455.4,137.1h3.2M1463.4,137.1h1.6M1482.6,137.1h1.6M1497,137.1h3.2M1503.4,137.1h1.6M1509.8,137.1h1.6M1543.4,137.1h1.6M1548.2,137.1h1.6M1578.6,137.1h1.6M1597.8,137.1h1.6M1613.8,137.1h1.6M1623.4,137.1h1.6M1631.4,137.1h1.6M1653.8,137.1h3.2M1666.6,137.1h1.6M1671.4,137.1h1.6M1677.8,137.1h1.6M1682.6,137.1h1.6M1721,137.1h1.6M1794.6,137.1h1.6M1813.8,137.1h1.6M1837.8,137.1h1.6M1058.6,148.5h1.6M1082.6,148.5h1.6M1087.4,148.5h3.2M1092.2,148.5h1.6M1097,148.5h3.2M1101.8,148.5h3.2M1108.2,148.5h1.6M1111.4,148.5h3.2M1119.4,148.5h1.6M1124.2,148.5h1.6M1143.4,148.5h1.6M1148.2,148.5h8M1164.2,148.5h3.2M1169,148.5h1.6M1172.2,148.5h1.6M1177,148.5h3.2M1188.2,148.5h1.6M1194.6,148.5h1.6M1197.8,148.5h1.6M1202.6,148.5h1.6M1209,148.5h1.6M1234.6,148.5h1.6M1242.6,148.5h1.6M1247.4,148.5h1.6M1250.6,148.5h1.6M1253.8,148.5h1.6M1260.2,148.5h1.6M1271.4,148.5h1.6M1285.8,148.5h1.6M1290.6,148.5h1.6M1295.4,148.5h1.6M1300.2,148.5h1.6M1314.6,148.5h1.6M1321,148.5h1.6M1353,148.5h3.2M1367.4,148.5h1.6M1372.2,148.5h1.6M1375.4,148.5h1.6M1378.6,148.5h1.6M1385,148.5h1.6M1405.8,148.5h1.6M1453.8,148.5h1.6M1479.4,148.5h1.6M1498.6,148.5h1.6M1524.2,148.5h1.6M1581.8,148.5h1.6M1596.2,148.5h1.6M1599.4,148.5h1.6M1604.2,148.5h1.6M1663.4,148.5h1.6M1668.2,148.5h1.6M1682.6,148.5h1.6M1689,148.5h1.6M1730.6,148.5h1.6M1770.6,148.5h1.6M1801,148.5h1.6M1804.2,148.5h1.6M1807.4,148.5h1.6M1810.6,148.5h1.6M1828.2,148.5h3.2M1837.8,148.5h3.2M1061.8,159.9h3.2M1066.6,159.9h1.6M1076.2,159.9h1.6M1082.6,159.9h1.6M1095.4,159.9h1.6M1103.4,159.9h3.2M1117.8,159.9h4.8M1137,159.9h1.6M1157.8,159.9h1.6M1164.2,159.9h1.6M1167.4,159.9h1.6M1180.2,159.9h3.2M1185,159.9h3.2M1193,159.9h3.2M1197.8,159.9h1.6M1210.6,159.9h1.6M1215.4,159.9h1.6M1221.8,159.9h1.6M1229.8,159.9h1.6M1249,159.9h1.6M1274.6,159.9h1.6M1289,159.9h1.6M1293.8,159.9h4.8M1309.8,159.9h3.2M1316.2,159.9h1.6M1327.4,159.9h1.6M1335.4,159.9h1.6M1338.6,159.9h4.8M1346.6,159.9h1.6M1349.8,159.9h6.4M1369,159.9h4.8M1380.2,159.9h1.6M1423.4,159.9h1.6M1426.6,159.9h1.6M1429.8,159.9h1.6M1457,159.9h1.6M1461.8,159.9h1.6M1493.8,159.9h1.6M1498.6,159.9h1.6M1503.4,159.9h1.6M1506.6,159.9h1.6M1530.6,159.9h1.6M1553,159.9h1.6M1597.8,159.9h1.6M1641,159.9h1.6M1660.2,159.9h1.6M1666.6,159.9h1.6M1057,171.3h3.2M1066.6,171.3h1.6M1069.8,171.3h1.6M1073,171.3h1.6M1079.4,171.3h1.6M1082.6,171.3h1.6M1092.2,171.3h1.6M1097,171.3h1.6M1101.8,171.3h1.6M1113,171.3h3.2M1117.8,171.3h1.6M1121,171.3h1.6M1125.8,171.3h1.6M1137,171.3h4.8M1148.2,171.3h1.6M1151.4,171.3h1.6M1157.8,171.3h1.6M1161,171.3h3.2M1165.8,171.3h1.6M1178.6,171.3h3.2M1185,171.3h1.6M1202.6,171.3h1.6M1220.2,171.3h1.6M1226.6,171.3h1.6M1231.4,171.3h1.6M1239.4,171.3h1.6M1242.6,171.3h3.2M1247.4,171.3h1.6M1260.2,171.3h1.6M1265,171.3h3.2M1271.4,171.3h1.6M1276.2,171.3h1.6M1284.2,171.3h1.6M1289,171.3h1.6M1298.6,171.3h3.2M1313,171.3h1.6M1321,171.3h1.6M1332.2,171.3h1.6M1341.8,171.3h6.4M1356.2,171.3h1.6M1362.6,171.3h1.6M1370.6,171.3h1.6M1375.4,171.3h1.6M1381.8,171.3h1.6M1389.8,171.3h1.6M1393,171.3h1.6M1404.2,171.3h1.6M1420.2,171.3h1.6M1450.6,171.3h3.2M1473,171.3h1.6M1511.4,171.3h1.6M1537,171.3h1.6M1567.4,171.3h1.6M1581.8,171.3h1.6M1604.2,171.3h1.6M1609,171.3h1.6M1620.2,171.3h1.6M1623.4,171.3h1.6M1689,171.3h1.6M1714.6,171.3h1.6M1725.8,171.3h1.6M1732.2,171.3h1.6M1746.6,171.3h1.6M1759.4,171.3h3.2M1783.4,171.3h1.6M1831.4,171.3h1.6M1073,182.7h1.6M1108.2,182.7h1.6M1145,182.7h1.6M1263.4,182.7h1.6M1293.8,182.7h1.6M1317.8,182.7h1.6M1321,182.7h1.6M1370.6,182.7h1.6M1388.2,182.7h1.6M1397.8,182.7h1.6M1415.4,182.7h1.6M1429.8,182.7h3.2M1449,182.7h1.6M1460.2,182.7h1.6M1482.6,182.7h1.6M1503.4,182.7h1.6M1508.2,182.7h1.6M1511.4,182.7h3.2M1532.2,182.7h3.2M1541.8,182.7h3.2M1585,182.7h1.6M1588.2,182.7h1.6M1621.8,182.7h1.6M1634.6,182.7h1.6M1642.6,182.7h1.6M1649,182.7h1.6M1663.4,182.7h1.6M1668.2,182.7h1.6M1695.4,182.7h1.6M1746.6,182.7h1.6M1783.4,182.7h1.6M1793,182.7h3.2M1807.4,182.7h1.6M1826.6,182.7h3.2M1833,182.7h1.6M1839.4,182.7h1.6M1061.8,262.5h1.6M1082.6,262.5h1.6M1100.2,262.5h1.6M1103.4,262.5h1.6M1111.4,262.5h1.6M1116.2,262.5h1.6M1122.6,262.5h1.6M1129,262.5h1.6M1140.2,262.5h1.6M1173.8,262.5h1.6M1180.2,262.5h1.6M1189.8,262.5h1.6M1196.2,262.5h1.6M1233,262.5h3.2M1237.8,262.5h1.6M1252.2,262.5h1.6M1284.2,262.5h1.6M1287.4,262.5h1.6M1297,262.5h1.6M1300.2,262.5h1.6M1305,262.5h1.6M1332.2,262.5h1.6M1337,262.5h1.6M1340.2,262.5h1.6M1354.6,262.5h1.6M1361,262.5h1.6M1367.4,262.5h1.6M1372.2,262.5h1.6M1538.6,262.5h1.6M1644.2,262.5h1.6M1655.4,262.5h1.6M1674.6,262.5h1.6M1682.6,262.5h3.2M1700.2,262.5h1.6M1732.2,262.5h1.6M1738.6,262.5h3.2M1743.4,262.5h1.6M1746.6,262.5h1.6M1770.6,262.5h1.6M1777,262.5h1.6M1781.8,262.5h1.6M1786.6,262.5h1.6M1799.4,262.5h1.6M1802.6,262.5h1.6M1081,273.9h1.6M1089,273.9h6.4M1098.6,273.9h1.6M1103.4,273.9h3.2M1111.4,273.9h1.6M1116.2,273.9h3.2M1133.8,273.9h1.6M1153,273.9h1.6M1161,273.9h1.6M1169,273.9h1.6M1188.2,273.9h1.6M1217,273.9h1.6M1244.2,273.9h1.6M1247.4,273.9h1.6M1257,273.9h1.6M1261.8,273.9h1.6M1281,273.9h1.6M1293.8,273.9h1.6M1305,273.9h3.2M1330.6,273.9h1.6M1345,273.9h1.6M1349.8,273.9h1.6M1370.6,273.9h1.6M1377,273.9h1.6M1636.2,273.9h1.6M1641,273.9h1.6M1668.2,273.9h1.6M1682.6,273.9h1.6M1687.4,273.9h3.2M1693.8,273.9h1.6M1698.6,273.9h1.6M1741.8,273.9h1.6M1756.2,273.9h3.2M1793,273.9h1.6M1796.2,273.9h3.2M1092.2,285.3h1.6M1100.2,285.3h1.6M1113,285.3h1.6M1116.2,285.3h1.6M1162.6,285.3h1.6M1197.8,285.3h1.6M1223.4,285.3h1.6M1236.2,285.3h1.6M1239.4,285.3h1.6M1265,285.3h1.6M1277.8,285.3h3.2M1309.8,285.3h1.6M1319.4,285.3h1.6M1357.8,285.3h1.6M1372.2,285.3h3.2M1556.2,285.3h1.6M1559.4,285.3h1.6M1567.4,285.3h1.6M1585,285.3h1.6M1591.4,285.3h1.6M1594.6,285.3h1.6M1615.4,285.3h1.6M1623.4,285.3h1.6M1626.6,285.3h1.6M1639.4,285.3h1.6M1679.4,285.3h1.6M1690.6,285.3h1.6M1705,285.3h1.6M1717.8,285.3h1.6M1764.2,285.3h1.6M1772.2,285.3h1.6M1780.2,285.3h1.6M1786.6,285.3h1.6M1060.2,365.1h1.6M1082.6,365.1h1.6M1183.4,365.1h3.2M1233,365.1h3.2M1237.8,365.1h3.2M1261.8,365.1h1.6M1273,365.1h1.6M1314.6,365.1h1.6M1332.2,365.1h1.6M1357.8,365.1h1.6M1365.8,365.1h1.6M1370.6,365.1h1.6M1385,365.1h1.6M1396.2,365.1h1.6M1426.6,365.1h1.6M1433,365.1h1.6M1447.4,365.1h3.2M1463.4,365.1h3.2M1474.6,365.1h1.6M1498.6,365.1h1.6M1519.4,365.1h1.6M1529,365.1h1.6M1628.2,365.1h1.6M1650.6,365.1h1.6M1708.2,365.1h1.6M1754.6,365.1h1.6M1791.4,365.1h1.6M1802.6,365.1h1.6M1813.8,365.1h1.6M1820.2,365.1h1.6M1825,365.1h1.6M1084.2,376.5h1.6M1089,376.5h1.6M1137,376.5h1.6M1149.8,376.5h1.6M1197.8,376.5h1.6M1245.8,376.5h1.6M1279.4,376.5h1.6M1300.2,376.5h1.6M1303.4,376.5h1.6M1329,376.5h1.6M1340.2,376.5h1.6M1385,376.5h3.2M1455.4,376.5h1.6M1461.8,376.5h1.6M1465,376.5h1.6M1474.6,376.5h3.2M1522.6,376.5h1.6M1572.2,376.5h1.6M1604.2,376.5h1.6M1634.6,376.5h1.6M1647.4,376.5h1.6M1660.2,376.5h1.6M1663.4,376.5h1.6M1681,376.5h3.2M1751.4,376.5h1.6M1789.8,376.5h1.6M1793,376.5h1.6M1066.6,387.9h1.6M1081,387.9h3.2M1124.2,387.9h1.6M1172.2,387.9h3.2M1188.2,387.9h1.6M1202.6,387.9h1.6M1213.8,387.9h1.6M1257,387.9h1.6M1265,387.9h1.6M1297,387.9h4.8M1362.6,387.9h1.6M1439.4,387.9h1.6M1465,387.9h1.6M1511.4,387.9h1.6M1525.8,387.9h1.6M1537,387.9h1.6M1556.2,387.9h1.6M1586.6,387.9h1.6M1666.6,387.9h1.6M1681,387.9h1.6M1706.6,387.9h1.6M1711.4,387.9h1.6M1724.2,387.9h1.6M1729,387.9h1.6M1748.2,387.9h1.6M1788.2,387.9h1.6M1834.6,387.9h1.6M1839.4,387.9h1.6M1061.8,410.7h1.6M1161,410.7h1.6M1173.8,410.7h1.6M1217,410.7h1.6M1249,410.7h1.6M1276.2,410.7h1.6M1396.2,410.7h1.6M1399.4,410.7h1.6M1404.2,410.7h1.6M1407.4,410.7h1.6M1429.8,410.7h1.6M1445.8,410.7h1.6M1450.6,410.7h1.6M1458.6,410.7h1.6M1540.2,410.7h1.6M1658.6,410.7h1.6M1661.8,410.7h1.6M1698.6,410.7h1.6M1701.8,410.7h1.6M1746.6,410.7h1.6M1775.4,410.7h1.6M1807.4,410.7h3.2M1825,410.7h1.6M1839.4,410.7h1.6M1057,422.1h1.6M1068.2,422.1h1.6M1087.4,422.1h1.6M1090.6,422.1h1.6M1098.6,422.1h3.2M1145,422.1h1.6M1169,422.1h1.6M1196.2,422.1h1.6M1263.4,422.1h1.6M1268.2,422.1h1.6M1271.4,422.1h1.6M1316.2,422.1h1.6M1369,422.1h1.6M1373.8,422.1h1.6M1405.8,422.1h1.6M1418.6,422.1h1.6M1437.8,422.1h1.6M1441,422.1h3.2M1461.8,422.1h1.6M1471.4,422.1h1.6M1477.8,422.1h1.6M1489,422.1h3.2M1516.2,422.1h3.2M1580.2,422.1h1.6M1596.2,422.1h1.6M1682.6,422.1h1.6M1693.8,422.1h1.6M1705,422.1h1.6M1709.8,422.1h1.6M1724.2,422.1h1.6M1727.4,422.1h1.6M1730.6,422.1h1.6M1761,422.1h1.6M1815.4,422.1h1.6M1821.8,422.1h1.6M1087.4,433.5h1.6M1100.2,433.5h1.6M1103.4,433.5h1.6M1109.8,433.5h1.6M1167.4,433.5h3.2M1185,433.5h1.6M1226.6,433.5h1.6M1268.2,433.5h1.6M1273,433.5h3.2M1289,433.5h1.6M1348.2,433.5h1.6M1383.4,433.5h1.6M1397.8,433.5h1.6M1428.2,433.5h1.6M1465,433.5h1.6M1476.2,433.5h3.2M1514.6,433.5h1.6M1530.6,433.5h1.6M1543.4,433.5h1.6M1629.8,433.5h1.6M1713,433.5h1.6M1761,433.5h1.6M1802.6,433.5h1.6M1809,433.5h1.6M1820.2,433.5h1.6M1839.4,433.5h1.6M1391.4,444.9h1.6M1108.2,456.3h1.6M1129,456.3h1.6M1164.2,456.3h1.6M1185,456.3h1.6M1225,456.3h1.6M1234.6,456.3h3.2M1260.2,456.3h1.6M1263.4,456.3h1.6M1370.6,456.3h1.6M1396.2,456.3h1.6M1405.8,456.3h1.6M1420.2,456.3h1.6M1434.6,456.3h1.6M1445.8,456.3h1.6M1485.8,456.3h1.6M1511.4,456.3h1.6M1524.2,456.3h1.6M1535.4,456.3h1.6M1543.4,456.3h1.6M1556.2,456.3h1.6M1612.2,456.3h1.6M1617,456.3h1.6M1641,456.3h1.6M1655.4,456.3h1.6M1709.8,456.3h1.6M1732.2,456.3h1.6M1741.8,456.3h1.6M1749.8,456.3h1.6M1759.4,456.3h1.6M1788.2,456.3h1.6M1807.4,456.3h1.6M1812.2,456.3h1.6M1817,456.3h1.6M1058.6,467.7h1.6M1074.6,467.7h1.6M1089,467.7h1.6M1105,467.7h1.6M1122.6,467.7h1.6M1156.2,467.7h1.6M1162.6,467.7h1.6M1220.2,467.7h1.6M1255.4,467.7h1.6M1332.2,467.7h1.6M1394.6,467.7h1.6M1433,467.7h1.6M1452.2,467.7h1.6M1461.8,467.7h3.2M1482.6,467.7h1.6M1487.4,467.7h1.6M1511.4,467.7h1.6M1525.8,467.7h1.6M1578.6,467.7h1.6M1618.6,467.7h1.6M1637.8,467.7h1.6M1650.6,467.7h1.6M1684.2,467.7h1.6M1705,467.7h1.6M1762.6,467.7h1.6M1060.2,479.1h1.6M1129,479.1h1.6M1197.8,479.1h1.6M1236.2,479.1h1.6M1261.8,479.1h1.6M1273,479.1h1.6M1317.8,479.1h1.6M1329,479.1h1.6M1377,479.1h1.6M1425,479.1h1.6M1441,479.1h1.6M1444.2,479.1h1.6M1450.6,479.1h1.6M1458.6,479.1h1.6M1482.6,479.1h1.6M1497,479.1h1.6M1513,479.1h3.2M1524.2,479.1h3.2M1575.4,479.1h1.6M1580.2,479.1h1.6M1621.8,479.1h1.6M1634.6,479.1h1.6M1657,479.1h1.6M1727.4,479.1h1.6M1738.6,479.1h1.6M1749.8,479.1h1.6M1769,479.1h1.6M1772.2,479.1h1.6M1799.4,479.1h1.6M1817,479.1h1.6M1831.4,479.1h1.6M1084.2,490.5h1.6M1169,490.5h1.6M1221.8,490.5h1.6M1225,490.5h1.6M1290.6,490.5h1.6M1322.6,490.5h1.6M1330.6,490.5h1.6M1364.2,490.5h1.6M1412.2,490.5h1.6M1434.6,490.5h1.6M1437.8,490.5h1.6M1447.4,490.5h1.6M1450.6,490.5h1.6M1453.8,490.5h1.6M1465,490.5h1.6M1508.2,490.5h1.6M1565.8,490.5h1.6M1613.8,490.5h1.6M1660.2,490.5h1.6M1668.2,490.5h1.6M1709.8,490.5h3.2M1735.4,490.5h1.6M1746.6,490.5h1.6M1797.8,490.5h1.6M1804.2,490.5h1.6M1807.4,490.5h1.6M1826.6,490.5h1.6M1834.6,490.5h1.6M1063.4,501.9h3.2M1074.6,501.9h1.6M1114.6,501.9h3.2M1217,501.9h1.6M1221.8,501.9h1.6M1258.6,501.9h1.6M1276.2,501.9h1.6M1279.4,501.9h1.6M1287.4,501.9h1.6M1301.8,501.9h1.6M1324.2,501.9h1.6M1345,501.9h1.6M1407.4,501.9h1.6M1441,501.9h1.6M1461.8,501.9h1.6M1487.4,501.9h1.6M1500.2,501.9h1.6M1532.2,501.9h1.6M1543.4,501.9h1.6M1551.4,501.9h1.6M1564.2,501.9h1.6M1585,501.9h1.6M1591.4,501.9h3.2M1605.8,501.9h1.6M1623.4,501.9h1.6M1634.6,501.9h1.6M1642.6,501.9h3.2M1687.4,501.9h1.6M1698.6,501.9h4.8M1706.6,501.9h1.6M1717.8,501.9h1.6M1791.4,501.9h1.6M1823.4,501.9h1.6M1065,524.7h1.6M1092.2,524.7h3.2M1106.6,524.7h1.6M1121,524.7h1.6M1129,524.7h1.6M1151.4,524.7h1.6M1170.6,524.7h1.6M1215.4,524.7h1.6M1266.6,524.7h1.6M1279.4,524.7h1.6M1316.2,524.7h1.6M1356.2,524.7h1.6M1388.2,524.7h11.2M1404.2,524.7h1.6M1409,524.7h6.4M1417,524.7h3.2M1423.4,524.7h3.2M1428.2,524.7h1.6M1431.4,524.7h1.6M1441,524.7h1.6M1445.8,524.7h1.6M1450.6,524.7h1.6M1455.4,524.7h1.6M1458.6,524.7h1.6M1465,524.7h3.2M1469.8,524.7h3.2M1474.6,524.7h6.4M1482.6,524.7h1.6M1485.8,524.7h1.6M1495.4,524.7h1.6M1498.6,524.7h1.6M1501.8,524.7h1.6M1508.2,524.7h1.6M1511.4,524.7h1.6M1514.6,524.7h1.6M1538.6,524.7h1.6M1554.6,524.7h1.6M1561,524.7h1.6M1580.2,524.7h1.6M1607.4,524.7h1.6M1641,524.7h8M1652.2,524.7h1.6M1661.8,524.7h3.2M1668.2,524.7h4.8M1677.8,524.7h1.6M1682.6,524.7h1.6M1685.8,524.7h3.2M1690.6,524.7h1.6M1693.8,524.7h1.6M1698.6,524.7h1.6M1705,524.7h3.2M1709.8,524.7h1.6M1716.2,524.7h1.6M1719.4,524.7h1.6M1725.8,524.7h4.8M1732.2,524.7h3.2M1740.2,524.7h1.6M1745,524.7h1.6M1804.2,524.7h1.6M1807.4,524.7h3.2M1812.2,524.7h3.2M1817,524.7h3.2M1821.8,524.7h6.4M1829.8,524.7h8M1839.4,524.7h1.6M1071.4,536.1h3.2M1082.6,536.1h1.6M1129,536.1h1.6M1213.8,536.1h1.6M1220.2,536.1h1.6M1250.6,536.1h1.6M1273,536.1h1.6M1351.4,536.1h1.6M1365.8,536.1h1.6M1380.2,536.1h1.6M1389.8,536.1h1.6M1401,536.1h1.6M1410.6,536.1h1.6M1421.8,536.1h3.2M1433,536.1h1.6M1439.4,536.1h1.6M1551.4,536.1h1.6M1561,536.1h1.6M1581.8,536.1h1.6M1586.6,536.1h1.6M1594.6,536.1h1.6M1748.2,536.1h1.6M1809,536.1h1.6M1828.2,536.1h1.6M1066.6,547.5h1.6M1081,547.5h1.6M1106.6,547.5h1.6M1148.2,547.5h1.6M1175.4,547.5h1.6M1258.6,547.5h3.2M1263.4,547.5h1.6M1357.8,547.5h1.6M1383.4,547.5h1.6M1386.6,547.5h1.6M1389.8,547.5h1.6M1402.6,547.5h1.6M1525.8,547.5h1.6M1557.8,547.5h1.6M1583.4,547.5h1.6M1636.2,547.5h1.6M1761,547.5h1.6M1807.4,547.5h1.6M1057,558.9h1.6M1084.2,558.9h1.6M1113,558.9h1.6M1133.8,558.9h1.6M1141.8,558.9h1.6M1193,558.9h1.6M1199.4,558.9h1.6M1221.8,558.9h1.6M1260.2,558.9h1.6M1266.6,558.9h1.6M1285.8,558.9h1.6M1298.6,558.9h1.6M1330.6,558.9h1.6M1333.8,558.9h1.6M1341.8,558.9h1.6M1361,558.9h1.6M1367.4,558.9h1.6M1388.2,558.9h1.6M1426.6,558.9h1.6M1466.6,558.9h1.6M1474.6,558.9h1.6M1516.2,558.9h1.6M1569,558.9h1.6M1591.4,558.9h1.6M1594.6,558.9h1.6M1617,558.9h1.6M1634.6,558.9h1.6M1641,558.9h1.6M1644.2,558.9h1.6M1650.6,558.9h1.6M1676.2,558.9h1.6M1706.6,558.9h1.6M1740.2,558.9h1.6M1834.6,558.9h1.6M1087.4,570.3h1.6M1154.6,570.3h1.6M1161,570.3h1.6M1173.8,570.3h1.6M1185,570.3h1.6M1196.2,570.3h1.6M1260.2,570.3h1.6M1308.2,570.3h1.6M1321,570.3h1.6M1365.8,570.3h1.6M1428.2,570.3h1.6M1548.2,570.3h1.6M1580.2,570.3h1.6M1610.6,570.3h1.6M1633,570.3h1.6M1751.4,570.3h1.6M1805.8,570.3h1.6M1060.2,661.5h1.6M1108.2,661.5h1.6M1140.2,661.5h1.6M1162.6,661.5h1.6M1201,661.5h1.6M1213.8,661.5h1.6M1229.8,661.5h1.6M1239.4,661.5h1.6M1284.2,661.5h3.2M1316.2,661.5h1.6M1324.2,661.5h1.6M1357.8,661.5h1.6M1362.6,661.5h1.6M1378.6,661.5h1.6M1404.2,661.5h1.6M1449,661.5h1.6M1452.2,661.5h1.6M1476.2,661.5h1.6M1482.6,661.5h1.6M1497,661.5h1.6M1511.4,661.5h1.6M1527.4,661.5h1.6M1535.4,661.5h1.6M1572.2,661.5h1.6M1583.4,661.5h1.6M1591.4,661.5h1.6M1594.6,661.5h3.2M1605.8,661.5h1.6M1652.2,661.5h1.6M1657,661.5h1.6M1671.4,661.5h3.2M1685.8,661.5h1.6M1727.4,661.5h1.6M1746.6,661.5h1.6M1799.4,661.5h1.6M1066.6,672.9h1.6M1079.4,672.9h1.6M1089,672.9h1.6M1122.6,672.9h3.2M1141.8,672.9h1.6M1194.6,672.9h1.6M1220.2,672.9h1.6M1225,672.9h1.6M1309.8,672.9h1.6M1319.4,672.9h1.6M1330.6,672.9h1.6M1353,672.9h1.6M1391.4,672.9h1.6M1405.8,672.9h1.6M1415.4,672.9h1.6M1428.2,672.9h1.6M1442.6,672.9h1.6M1460.2,672.9h1.6M1463.4,672.9h1.6M1466.6,672.9h3.2M1482.6,672.9h1.6M1485.8,672.9h1.6M1493.8,672.9h1.6M1500.2,672.9h1.6M1545,672.9h1.6M1620.2,672.9h1.6M1676.2,672.9h1.6M1692.2,672.9h3.2M1697,672.9h1.6M1764.2,672.9h1.6M1796.2,672.9h3.2" stroke="#f0e8ff" stroke-width="11.7" fill="none"/>
<path d="M1153,91.5h1.6M1201,91.5h1.6M1249,91.5h1.6M1265,91.5h1.6M1285.8,91.5h1.6M1313,91.5h1.6M1541.8,91.5h1.6M1557.8,91.5h1.6M1097,102.9h1.6M1100.2,102.9h1.6M1149.8,102.9h1.6M1193,102.9h3.2M1252.2,102.9h1.6M1289,102.9h1.6M1418.6,102.9h1.6M1434.6,102.9h1.6M1450.6,102.9h1.6M1498.6,102.9h3.2M1588.2,102.9h1.6M1613.8,102.9h1.6M1618.6,102.9h1.6M1626.6,102.9h1.6M1637.8,102.9h1.6M1684.2,102.9h1.6M1085.8,114.3h1.6M1109.8,114.3h1.6M1133.8,114.3h1.6M1220.2,114.3h1.6M1273,114.3h1.6M1335.4,114.3h1.6M1354.6,114.3h1.6M1421.8,114.3h1.6M1498.6,114.3h1.6M1513,114.3h1.6M1516.2,114.3h1.6M1519.4,114.3h1.6M1554.6,114.3h1.6M1562.6,114.3h1.6M1580.2,114.3h1.6M1583.4,114.3h1.6M1604.2,114.3h1.6M1634.6,114.3h1.6M1809,114.3h1.6M1068.2,125.7h3.2M1148.2,125.7h1.6M1247.4,125.7h1.6M1257,125.7h1.6M1265,125.7h3.2M1274.6,125.7h1.6M1277.8,125.7h1.6M1289,125.7h1.6M1313,125.7h1.6M1343.4,125.7h1.6M1426.6,125.7h3.2M1447.4,125.7h1.6M1457,125.7h1.6M1465,125.7h1.6M1468.2,125.7h1.6M1498.6,125.7h1.6M1591.4,125.7h1.6M1610.6,125.7h1.6M1698.6,125.7h1.6M1741.8,125.7h1.6M1769,125.7h1.6M1185,137.1h1.6M1210.6,137.1h1.6M1229.8,137.1h1.6M1233,137.1h1.6M1327.4,137.1h1.6M1383.4,137.1h1.6M1063.4,148.5h1.6M1130.6,148.5h1.6M1133.8,148.5h1.6M1226.6,148.5h1.6M1322.6,148.5h1.6M1391.4,148.5h1.6M1412.2,148.5h1.6M1426.6,148.5h1.6M1452.2,148.5h1.6M1466.6,148.5h1.6M1484.2,148.5h1.6M1554.6,148.5h1.6M1585,148.5h1.6M1618.6,148.5h1.6M1631.4,148.5h1.6M1740.2,148.5h1.6M1788.2,148.5h1.6M1165.8,159.9h1.6M1261.8,159.9h1.6M1265,159.9h1.6M1285.8,159.9h1.6M1305,159.9h1.6M1313,159.9h1.6M1324.2,159.9h1.6M1399.4,159.9h1.6M1412.2,159.9h1.6M1433,159.9h1.6M1437.8,159.9h1.6M1453.8,159.9h1.6M1479.4,159.9h1.6M1487.4,159.9h1.6M1556.2,159.9h1.6M1561,159.9h1.6M1564.2,159.9h1.6M1570.6,159.9h1.6M1610.6,159.9h1.6M1615.4,159.9h1.6M1625,159.9h1.6M1697,159.9h1.6M1076.2,171.3h1.6M1221.8,171.3h1.6M1397.8,171.3h1.6M1413.8,171.3h1.6M1417,171.3h1.6M1426.6,171.3h1.6M1429.8,171.3h1.6M1441,171.3h1.6M1497,171.3h1.6M1503.4,171.3h3.2M1514.6,171.3h1.6M1522.6,171.3h1.6M1543.4,171.3h1.6M1546.6,171.3h1.6M1551.4,171.3h1.6M1557.8,171.3h1.6M1573.8,171.3h1.6M1629.8,171.3h1.6M1636.2,171.3h1.6M1666.6,171.3h1.6M1684.2,171.3h4.8M1690.6,171.3h3.2M1713,171.3h1.6M1717.8,171.3h3.2M1730.6,171.3h1.6M1754.6,171.3h1.6M1775.4,171.3h1.6M1810.6,171.3h1.6M1817,171.3h1.6M1833,171.3h1.6M1116.2,182.7h1.6M1169,182.7h1.6M1297,182.7h1.6M1335.4,182.7h1.6M1559.4,182.7h1.6M1623.4,182.7h1.6M1676.2,182.7h1.6M1684.2,182.7h1.6M1687.4,182.7h1.6M1703.4,182.7h1.6M1580.2,216.9h1.6M1677.8,216.9h1.6M1281,239.7h1.6M1269.8,251.1h1.6M1277.8,251.1h1.6M1407.4,251.1h1.6M1418.6,251.1h1.6M1743.4,251.1h1.6M1065,262.5h1.6M1074.6,262.5h1.6M1079.4,262.5h1.6M1084.2,262.5h1.6M1089,262.5h1.6M1097,262.5h1.6M1109.8,262.5h1.6M1117.8,262.5h1.6M1130.6,262.5h1.6M1137,262.5h1.6M1148.2,262.5h1.6M1151.4,262.5h1.6M1165.8,262.5h1.6M1169,262.5h1.6M1175.4,262.5h1.6M1191.4,262.5h1.6M1197.8,262.5h4.8M1204.2,262.5h3.2M1215.4,262.5h1.6M1220.2,262.5h3.2M1225,262.5h1.6M1242.6,262.5h8M1257,262.5h1.6M1260.2,262.5h4.8M1268.2,262.5h1.6M1271.4,262.5h1.6M1282.6,262.5h1.6M1285.8,262.5h1.6M1290.6,262.5h1.6M1293.8,262.5h1.6M1313,262.5h1.6M1316.2,262.5h1.6M1322.6,262.5h1.6M1335.4,262.5h1.6M1338.6,262.5h1.6M1351.4,262.5h1.6M1357.8,262.5h1.6M1365.8,262.5h1.6M1373.8,262.5h1.6M1377,262.5h1.6M1385,262.5h1.6M1554.6,262.5h1.6M1649,262.5h1.6M1673,262.5h1.6M1676.2,262.5h4.8M1687.4,262.5h1.6M1697,262.5h1.6M1705,262.5h1.6M1724.2,262.5h1.6M1727.4,262.5h1.6M1733.8,262.5h1.6M1745,262.5h1.6M1756.2,262.5h1.6M1759.4,262.5h3.2M1773.8,262.5h1.6M1780.2,262.5h1.6M1783.4,262.5h3.2M1788.2,262.5h1.6M1793,262.5h3.2M1797.8,262.5h1.6M1801,262.5h1.6M1060.2,273.9h1.6M1074.6,273.9h1.6M1084.2,273.9h1.6M1101.8,273.9h1.6M1109.8,273.9h1.6M1114.6,273.9h1.6M1146.6,273.9h3.2M1151.4,273.9h1.6M1154.6,273.9h1.6M1157.8,273.9h3.2M1177,273.9h4.8M1185,273.9h1.6M1189.8,273.9h1.6M1218.6,273.9h1.6M1233,273.9h1.6M1237.8,273.9h1.6M1249,273.9h1.6M1273,273.9h1.6M1303.4,273.9h1.6M1316.2,273.9h1.6M1321,273.9h3.2M1361,273.9h1.6M1364.2,273.9h3.2M1369,273.9h1.6M1373.8,273.9h1.6M1381.8,273.9h1.6M1386.6,273.9h1.6M1533.8,273.9h1.6M1588.2,273.9h1.6M1607.4,273.9h1.6M1652.2,273.9h1.6M1657,273.9h1.6M1661.8,273.9h1.6M1665,273.9h1.6M1673,273.9h1.6M1679.4,273.9h1.6M1703.4,273.9h3.2M1708.2,273.9h1.6M1721,273.9h1.6M1724.2,273.9h1.6M1746.6,273.9h1.6M1759.4,273.9h1.6M1767.4,273.9h1.6M1778.6,273.9h1.6M1785,273.9h3.2M1801,273.9h1.6M1069.8,285.3h1.6M1081,285.3h1.6M1242.6,285.3h3.2M1287.4,285.3h1.6M1361,285.3h1.6M1367.4,285.3h1.6M1578.6,285.3h1.6M1613.8,285.3h1.6M1652.2,285.3h1.6M1076.2,319.5h1.6M1666.6,319.5h1.6M1717.8,319.5h1.6M1793,319.5h1.6M1833,319.5h1.6M1285.8,330.9h1.6M1245.8,342.3h1.6M1057,365.1h1.6M1135.4,365.1h1.6M1145,365.1h1.6M1153,365.1h3.2M1170.6,365.1h1.6M1196.2,365.1h1.6M1218.6,365.1h1.6M1223.4,365.1h1.6M1226.6,365.1h1.6M1257,365.1h1.6M1309.8,365.1h1.6M1346.6,365.1h1.6M1354.6,365.1h1.6M1372.2,365.1h1.6M1394.6,365.1h1.6M1409,365.1h1.6M1415.4,365.1h1.6M1425,365.1h1.6M1441,365.1h1.6M1444.2,365.1h1.6M1450.6,365.1h3.2M1466.6,365.1h1.6M1487.4,365.1h1.6M1495.4,365.1h1.6M1501.8,365.1h3.2M1506.6,365.1h1.6M1524.2,365.1h1.6M1545,365.1h1.6M1573.8,365.1h1.6M1586.6,365.1h1.6M1629.8,365.1h1.6M1658.6,365.1h1.6M1665,365.1h1.6M1671.4,365.1h1.6M1679.4,365.1h1.6M1748.2,365.1h1.6M1773.8,365.1h1.6M1786.6,365.1h1.6M1799.4,365.1h1.6M1821.8,365.1h1.6M1837.8,365.1h3.2M1178.6,376.5h1.6M1229.8,376.5h1.6M1322.6,376.5h1.6M1373.8,376.5h1.6M1388.2,376.5h1.6M1546.6,376.5h1.6M1553,376.5h1.6M1652.2,376.5h1.6M1116.2,387.9h1.6M1162.6,387.9h1.6M1492.2,387.9h1.6M1698.6,399.3h1.6M1065,410.7h1.6M1082.6,410.7h1.6M1089,410.7h1.6M1114.6,410.7h1.6M1165.8,410.7h1.6M1180.2,410.7h1.6M1197.8,410.7h1.6M1255.4,410.7h1.6M1266.6,410.7h1.6M1277.8,410.7h1.6M1327.4,410.7h1.6M1332.2,410.7h1.6M1345,410.7h1.6M1375.4,410.7h1.6M1394.6,410.7h1.6M1418.6,410.7h1.6M1457,410.7h1.6M1466.6,410.7h1.6M1473,410.7h1.6M1495.4,410.7h1.6M1513,410.7h1.6M1541.8,410.7h1.6M1569,410.7h1.6M1578.6,410.7h1.6M1602.6,410.7h1.6M1650.6,410.7h1.6M1676.2,410.7h1.6M1681,410.7h1.6M1687.4,410.7h1.6M1708.2,410.7h1.6M1738.6,410.7h1.6M1754.6,410.7h1.6M1770.6,410.7h1.6M1796.2,410.7h1.6M1812.2,410.7h1.6M1826.6,410.7h3.2M1836.2,410.7h1.6M1085.8,422.1h1.6M1095.4,422.1h1.6M1105,422.1h1.6M1114.6,422.1h1.6M1132.2,422.1h3.2M1164.2,422.1h1.6M1185,422.1h1.6M1199.4,422.1h1.6M1213.8,422.1h3.2M1341.8,422.1h1.6M1356.2,422.1h1.6M1407.4,422.1h1.6M1410.6,422.1h1.6M1423.4,422.1h1.6M1426.6,422.1h1.6M1453.8,422.1h1.6M1474.6,422.1h1.6M1508.2,422.1h1.6M1525.8,422.1h1.6M1583.4,422.1h3.2M1591.4,422.1h1.6M1653.8,422.1h1.6M1661.8,422.1h1.6M1673,422.1h1.6M1706.6,422.1h1.6M1722.6,422.1h1.6M1751.4,422.1h1.6M1762.6,422.1h1.6M1765.8,422.1h1.6M1775.4,422.1h1.6M1788.2,422.1h1.6M1794.6,422.1h1.6M1820.2,422.1h1.6M1058.6,433.5h1.6M1097,433.5h1.6M1125.8,433.5h1.6M1170.6,433.5h1.6M1177,433.5h1.6M1217,433.5h1.6M1225,433.5h1.6M1241,433.5h1.6M1244.2,433.5h1.6M1295.4,433.5h1.6M1308.2,433.5h1.6M1332.2,433.5h1.6M1346.6,433.5h1.6M1353,433.5h1.6M1359.4,433.5h1.6M1405.8,433.5h1.6M1429.8,433.5h1.6M1437.8,433.5h1.6M1442.6,433.5h3.2M1468.2,433.5h1.6M1506.6,433.5h1.6M1519.4,433.5h1.6M1524.2,433.5h3.2M1535.4,433.5h1.6M1570.6,433.5h1.6M1613.8,433.5h1.6M1652.2,433.5h1.6M1660.2,433.5h1.6M1682.6,433.5h1.6M1722.6,433.5h1.6M1793,433.5h1.6M1817,433.5h1.6M1823.4,433.5h1.6M1073,444.9h1.6M1164.2,444.9h1.6M1197.8,444.9h1.6M1281,444.9h3.2M1357.8,444.9h1.6M1484.2,444.9h1.6M1567.4,444.9h1.6M1593,444.9h1.6M1679.4,444.9h1.6M1751.4,444.9h1.6M1834.6,444.9h1.6M1093.8,456.3h1.6M1165.8,456.3h1.6M1172.2,456.3h1.6M1218.6,456.3h1.6M1271.4,456.3h1.6M1300.2,456.3h1.6M1373.8,456.3h1.6M1393,456.3h1.6M1501.8,456.3h1.6M1588.2,456.3h1.6M1621.8,456.3h1.6M1705,456.3h1.6M1724.2,456.3h1.6M1756.2,456.3h1.6M1266.6,467.7h1.6M1313,467.7h1.6M1370.6,467.7h1.6M1497,467.7h1.6M1596.2,467.7h1.6M1703.4,467.7h1.6M1812.2,467.7h1.6M1063.4,479.1h1.6M1079.4,479.1h1.6M1084.2,479.1h1.6M1093.8,479.1h1.6M1122.6,479.1h1.6M1130.6,479.1h1.6M1161,479.1h1.6M1170.6,479.1h1.6M1217,479.1h3.2M1233,479.1h1.6M1258.6,479.1h1.6M1287.4,479.1h1.6M1298.6,479.1h1.6M1348.2,479.1h1.6M1351.4,479.1h1.6M1367.4,479.1h1.6M1402.6,479.1h1.6M1434.6,479.1h1.6M1449,479.1h1.6M1457,479.1h1.6M1460.2,479.1h1.6M1489,479.1h1.6M1498.6,479.1h1.6M1509.8,479.1h1.6M1527.4,479.1h1.6M1537,479.1h1.6M1551.4,479.1h1.6M1554.6,479.1h1.6M1569,479.1h3.2M1591.4,479.1h1.6M1639.4,479.1h1.6M1703.4,479.1h1.6M1725.8,479.1h1.6M1733.8,479.1h1.6M1754.6,479.1h1.6M1780.2,479.1h1.6M1818.6,479.1h1.6M1823.4,479.1h1.6M1060.2,490.5h1.6M1063.4,490.5h1.6M1066.6,490.5h1.6M1071.4,490.5h1.6M1074.6,490.5h1.6M1178.6,490.5h1.6M1183.4,490.5h1.6M1191.4,490.5h1.6M1199.4,490.5h1.6M1207.4,490.5h1.6M1210.6,490.5h1.6M1239.4,490.5h1.6M1289,490.5h1.6M1341.8,490.5h1.6M1362.6,490.5h1.6M1380.2,490.5h1.6M1383.4,490.5h1.6M1389.8,490.5h1.6M1407.4,490.5h1.6M1417,490.5h1.6M1441,490.5h1.6M1457,490.5h1.6M1474.6,490.5h1.6M1487.4,490.5h1.6M1492.2,490.5h1.6M1519.4,490.5h3.2M1525.8,490.5h3.2M1556.2,490.5h1.6M1591.4,490.5h1.6M1610.6,490.5h1.6M1636.2,490.5h1.6M1682.6,490.5h1.6M1703.4,490.5h3.2M1730.6,490.5h1.6M1749.8,490.5h1.6M1791.4,490.5h1.6M1821.8,490.5h3.2M1829.8,490.5h1.6M1178.6,501.9h1.6M1183.4,501.9h1.6M1188.2,501.9h1.6M1204.2,501.9h1.6M1420.2,501.9h1.6M1479.4,501.9h1.6M1615.4,501.9h1.6M1516.2,513.3h1.6M1581.8,513.3h1.6M1586.6,513.3h1.6M1068.2,524.7h1.6M1103.4,524.7h1.6M1117.8,524.7h1.6M1138.6,524.7h4.8M1148.2,524.7h1.6M1153,524.7h1.6M1156.2,524.7h1.6M1162.6,524.7h1.6M1169,524.7h1.6M1180.2,524.7h1.6M1183.4,524.7h1.6M1189.8,524.7h1.6M1193,524.7h1.6M1197.8,524.7h1.6M1209,524.7h1.6M1213.8,524.7h1.6M1233,524.7h1.6M1258.6,524.7h1.6M1273,524.7h6.4M1282.6,524.7h1.6M1295.4,524.7h1.6M1317.8,524.7h1.6M1321,524.7h1.6M1340.2,524.7h1.6M1348.2,524.7h1.6M1354.6,524.7h1.6M1357.8,524.7h1.6M1373.8,524.7h1.6M1377,524.7h1.6M1386.6,524.7h1.6M1426.6,524.7h1.6M1447.4,524.7h1.6M1468.2,524.7h1.6M1481,524.7h1.6M1487.4,524.7h1.6M1497,524.7h1.6M1516.2,524.7h1.6M1519.4,524.7h1.6M1546.6,524.7h1.6M1553,524.7h1.6M1575.4,524.7h1.6M1589.8,524.7h1.6M1618.6,524.7h1.6M1625,524.7h3.2M1837.8,524.7h1.6M1217,536.1h1.6M1228.2,536.1h1.6M1258.6,536.1h1.6M1333.8,536.1h1.6M1100.2,547.5h1.6M1228.2,547.5h1.6M1233,547.5h1.6M1308.2,547.5h1.6M1313,547.5h1.6M1433,547.5h1.6M1509.8,547.5h1.6M1671.4,547.5h1.6M1095.4,558.9h1.6M1495.4,558.9h1.6M1106.6,570.3h1.6M1113,570.3h1.6M1122.6,570.3h1.6M1164.2,570.3h1.6M1188.2,570.3h1.6M1199.4,570.3h1.6M1247.4,570.3h1.6M1277.8,570.3h1.6M1349.8,570.3h1.6M1393,570.3h1.6M1410.6,570.3h1.6M1439.4,570.3h1.6M1455.4,570.3h1.6M1469.8,570.3h1.6M1817,570.3h1.6M1127.4,581.7h1.6M1191.4,581.7h1.6M1204.2,581.7h3.2M1252.2,581.7h1.6M1343.4,581.7h1.6M1353,581.7h1.6M1412.2,581.7h1.6M1471.4,581.7h1.6M1714.6,581.7h1.6M1785,581.7h1.6M1839.4,581.7h1.6M1703.4,604.5h1.6M1172.2,627.3h1.6M1273,627.3h1.6M1311.4,627.3h1.6M1109.8,638.7h1.6M1292.2,638.7h1.6M1410.6,638.7h1.6M1641,638.7h1.6M1697,638.7h1.6M1077.8,661.5h1.6M1634.6,661.5h1.6M1765.8,661.5h1.6M1785,661.5h1.6M1170.6,672.9h1.6M1329,672.9h1.6M1375.4,672.9h1.6M1313,695.7h1.6M1335.4,695.7h1.6" stroke="#ffffff" stroke-width="11.7" fill="none"/>
<path d="M1066.6,91.5h1.6M1113,91.5h1.6M1127.4,91.5h1.6M1137,91.5h1.6M1175.4,91.5h1.6M1178.6,91.5h1.6M1212.2,91.5h1.6M1271.4,91.5h1.6M1279.4,91.5h1.6M1295.4,91.5h1.6M1308.2,91.5h1.6M1322.6,91.5h3.2M1335.4,91.5h1.6M1367.4,91.5h1.6M1386.6,91.5h1.6M1554.6,91.5h1.6M1607.4,91.5h1.6M1636.2,91.5h1.6M1719.4,91.5h1.6M1770.6,91.5h1.6M1785,91.5h1.6M1793,91.5h1.6M1796.2,91.5h1.6M1061.8,102.9h1.6M1068.2,102.9h1.6M1071.4,102.9h1.6M1085.8,102.9h1.6M1093.8,102.9h1.6M1111.4,102.9h1.6M1124.2,102.9h1.6M1146.6,102.9h1.6M1181.8,102.9h1.6M1191.4,102.9h1.6M1213.8,102.9h3.2M1229.8,102.9h1.6M1261.8,102.9h1.6M1293.8,102.9h3.2M1298.6,102.9h1.6M1378.6,102.9h1.6M1381.8,102.9h1.6M1420.2,102.9h1.6M1463.4,102.9h1.6M1497,102.9h1.6M1829.8,102.9h1.6M1105,114.3h1.6M1113,114.3h1.6M1116.2,114.3h1.6M1146.6,114.3h1.6M1156.2,114.3h1.6M1173.8,114.3h1.6M1178.6,114.3h1.6M1191.4,114.3h1.6M1223.4,114.3h3.2M1241,114.3h1.6M1306.6,114.3h1.6M1329,114.3h1.6M1362.6,114.3h1.6M1369,114.3h1.6M1377,114.3h1.6M1500.2,114.3h1.6M1537,114.3h1.6M1621.8,114.3h1.6M1791.4,114.3h1.6M1820.2,114.3h1.6M1076.2,125.7h1.6M1100.2,125.7h3.2M1108.2,125.7h1.6M1116.2,125.7h1.6M1125.8,125.7h1.6M1189.8,125.7h1.6M1196.2,125.7h1.6M1202.6,125.7h1.6M1207.4,125.7h1.6M1249,125.7h1.6M1260.2,125.7h1.6M1303.4,125.7h1.6M1327.4,125.7h1.6M1337,125.7h1.6M1361,125.7h1.6M1373.8,125.7h1.6M1401,125.7h1.6M1442.6,125.7h1.6M1545,125.7h1.6M1580.2,125.7h1.6M1652.2,125.7h1.6M1705,125.7h1.6M1725.8,125.7h1.6M1759.4,125.7h1.6M1076.2,137.1h1.6M1085.8,137.1h1.6M1121,137.1h1.6M1124.2,137.1h1.6M1129,137.1h1.6M1148.2,137.1h1.6M1164.2,137.1h1.6M1196.2,137.1h1.6M1218.6,137.1h1.6M1269.8,137.1h1.6M1549.8,137.1h1.6M1569,137.1h1.6M1583.4,137.1h1.6M1743.4,137.1h1.6M1065,148.5h1.6M1105,148.5h1.6M1145,148.5h1.6M1159.4,148.5h1.6M1180.2,148.5h1.6M1245.8,148.5h1.6M1327.4,148.5h1.6M1381.8,148.5h3.2M1394.6,148.5h1.6M1397.8,148.5h1.6M1425,148.5h1.6M1450.6,148.5h1.6M1485.8,148.5h1.6M1500.2,148.5h1.6M1071.4,159.9h1.6M1092.2,159.9h3.2M1097,159.9h3.2M1140.2,159.9h1.6M1143.4,159.9h1.6M1146.6,159.9h1.6M1153,159.9h1.6M1159.4,159.9h1.6M1191.4,159.9h1.6M1217,159.9h1.6M1231.4,159.9h1.6M1253.8,159.9h1.6M1269.8,159.9h1.6M1287.4,159.9h1.6M1343.4,159.9h1.6M1365.8,159.9h1.6M1410.6,159.9h1.6M1417,159.9h1.6M1425,159.9h1.6M1447.4,159.9h1.6M1455.4,159.9h1.6M1492.2,159.9h1.6M1647.4,159.9h1.6M1673,159.9h1.6M1684.2,159.9h1.6M1769,159.9h1.6M1825,159.9h1.6M1108.2,171.3h1.6M1133.8,171.3h1.6M1215.4,171.3h1.6M1253.8,171.3h1.6M1269.8,171.3h1.6M1282.6,171.3h1.6M1305,171.3h1.6M1319.4,171.3h1.6M1385,171.3h1.6M1402.6,171.3h1.6M1538.6,171.3h1.6M1589.8,171.3h1.6M1601,171.3h1.6M1617,171.3h1.6M1709.8,171.3h1.6M1743.4,171.3h1.6M1748.2,171.3h1.6M1068.2,182.7h3.2M1193,182.7h1.6M1265,182.7h1.6M1274.6,182.7h1.6M1300.2,182.7h1.6M1353,182.7h1.6M1356.2,182.7h1.6M1365.8,182.7h1.6M1530.6,182.7h1.6M1535.4,182.7h1.6M1593,182.7h1.6M1645.8,182.7h1.6M1713,182.7h1.6M1730.6,182.7h1.6M1780.2,182.7h1.6M1287.4,216.9h1.6M1388.2,216.9h1.6M1402.6,216.9h1.6M1484.2,216.9h3.2M1498.6,216.9h1.6M1511.4,216.9h1.6M1628.2,216.9h1.6M1637.8,216.9h1.6M1450.6,228.3h1.6M1090.6,251.1h1.6M1332.2,251.1h1.6M1369,251.1h1.6M1709.8,251.1h1.6M1764.2,251.1h1.6M1066.6,262.5h6.4M1077.8,262.5h1.6M1085.8,262.5h1.6M1093.8,262.5h3.2M1105,262.5h1.6M1108.2,262.5h1.6M1119.4,262.5h3.2M1125.8,262.5h1.6M1135.4,262.5h1.6M1145,262.5h1.6M1153,262.5h1.6M1162.6,262.5h1.6M1167.4,262.5h1.6M1170.6,262.5h1.6M1181.8,262.5h1.6M1185,262.5h1.6M1188.2,262.5h1.6M1193,262.5h1.6M1207.4,262.5h1.6M1210.6,262.5h1.6M1241,262.5h1.6M1265,262.5h3.2M1269.8,262.5h1.6M1276.2,262.5h3.2M1295.4,262.5h1.6M1311.4,262.5h1.6M1319.4,262.5h3.2M1324.2,262.5h1.6M1330.6,262.5h1.6M1341.8,262.5h1.6M1346.6,262.5h1.6M1359.4,262.5h1.6M1369,262.5h1.6M1375.4,262.5h1.6M1415.4,262.5h1.6M1629.8,262.5h1.6M1639.4,262.5h3.2M1647.4,262.5h1.6M1650.6,262.5h3.2M1685.8,262.5h1.6M1703.4,262.5h1.6M1716.2,262.5h1.6M1725.8,262.5h1.6M1735.4,262.5h3.2M1754.6,262.5h1.6M1757.8,262.5h1.6M1772.2,262.5h1.6M1058.6,273.9h1.6M1061.8,273.9h1.6M1076.2,273.9h1.6M1095.4,273.9h1.6M1121,273.9h1.6M1127.4,273.9h1.6M1130.6,273.9h1.6M1140.2,273.9h1.6M1143.4,273.9h3.2M1156.2,273.9h1.6M1164.2,273.9h3.2M1175.4,273.9h1.6M1197.8,273.9h1.6M1210.6,273.9h3.2M1229.8,273.9h1.6M1241,273.9h1.6M1245.8,273.9h1.6M1265,273.9h1.6M1271.4,273.9h1.6M1276.2,273.9h3.2M1292.2,273.9h1.6M1298.6,273.9h1.6M1301.8,273.9h1.6M1309.8,273.9h3.2M1319.4,273.9h1.6M1333.8,273.9h1.6M1338.6,273.9h3.2M1343.4,273.9h1.6M1351.4,273.9h1.6M1359.4,273.9h1.6M1367.4,273.9h1.6M1375.4,273.9h1.6M1468.2,273.9h3.2M1516.2,273.9h1.6M1577,273.9h1.6M1637.8,273.9h1.6M1644.2,273.9h1.6M1649,273.9h3.2M1669.8,273.9h1.6M1711.4,273.9h3.2M1717.8,273.9h3.2M1730.6,273.9h3.2M1751.4,273.9h1.6M1761,273.9h1.6M1772.2,273.9h1.6M1783.4,273.9h1.6M1788.2,273.9h1.6M1791.4,273.9h1.6M1085.8,285.3h1.6M1127.4,285.3h1.6M1164.2,285.3h1.6M1284.2,285.3h1.6M1335.4,285.3h1.6M1386.6,285.3h1.6M1538.6,285.3h1.6M1727.4,285.3h1.6M1773.8,285.3h1.6M1791.4,285.3h1.6M1217,308.1h1.6M1319.4,308.1h1.6M1146.6,319.5h1.6M1234.6,319.5h3.2M1282.6,319.5h1.6M1465,319.5h1.6M1540.2,319.5h1.6M1753,319.5h1.6M1378.6,330.9h1.6M1153,342.3h1.6M1300.2,342.3h1.6M1565.8,353.7h1.6M1095.4,365.1h1.6M1173.8,365.1h1.6M1225,365.1h1.6M1293.8,365.1h1.6M1305,365.1h1.6M1092.2,376.5h1.6M1095.4,376.5h1.6M1119.4,376.5h1.6M1122.6,376.5h1.6M1199.4,376.5h1.6M1292.2,376.5h1.6M1309.8,376.5h1.6M1372.2,376.5h1.6M1429.8,376.5h1.6M1610.6,376.5h1.6M1700.2,376.5h3.2M1746.6,376.5h1.6M1757.8,376.5h1.6M1765.8,376.5h1.6M1317.8,387.9h1.6M1436.2,387.9h1.6M1607.4,387.9h1.6M1642.6,387.9h1.6M1746.6,387.9h1.6M1753,387.9h1.6M1405.8,399.3h1.6M1618.6,399.3h1.6M1689,399.3h1.6M1711.4,399.3h1.6M1081,410.7h1.6M1132.2,410.7h1.6M1167.4,410.7h1.6M1205.8,410.7h3.2M1231.4,410.7h1.6M1236.2,410.7h1.6M1340.2,410.7h1.6M1364.2,410.7h1.6M1556.2,410.7h1.6M1567.4,410.7h1.6M1647.4,410.7h1.6M1665,410.7h1.6M1668.2,410.7h1.6M1674.6,410.7h1.6M1690.6,410.7h1.6M1071.4,422.1h1.6M1181.8,422.1h1.6M1231.4,422.1h1.6M1236.2,422.1h1.6M1265,422.1h1.6M1301.8,422.1h1.6M1305,422.1h1.6M1337,422.1h1.6M1364.2,422.1h1.6M1386.6,422.1h1.6M1538.6,422.1h1.6M1593,422.1h3.2M1657,422.1h1.6M1669.8,422.1h1.6M1676.2,422.1h1.6M1685.8,422.1h1.6M1695.4,422.1h1.6M1801,422.1h1.6M1804.2,422.1h3.2M1834.6,422.1h1.6M1060.2,433.5h1.6M1079.4,433.5h1.6M1093.8,433.5h3.2M1127.4,433.5h1.6M1135.4,433.5h1.6M1149.8,433.5h1.6M1157.8,433.5h1.6M1164.2,433.5h1.6M1175.4,433.5h1.6M1233,433.5h1.6M1325.8,433.5h1.6M1345,433.5h1.6M1372.2,433.5h1.6M1375.4,433.5h1.6M1466.6,433.5h1.6M1529,433.5h1.6M1541.8,433.5h1.6M1553,433.5h1.6M1601,433.5h1.6M1626.6,433.5h1.6M1684.2,433.5h1.6M1769,433.5h1.6M1079.4,444.9h1.6M1129,444.9h1.6M1165.8,444.9h1.6M1186.6,444.9h1.6M1196.2,444.9h1.6M1221.8,444.9h1.6M1260.2,444.9h1.6M1343.4,444.9h1.6M1348.2,444.9h1.6M1356.2,444.9h1.6M1409,444.9h1.6M1417,444.9h1.6M1575.4,444.9h1.6M1681,444.9h1.6M1697,444.9h1.6M1701.8,444.9h1.6M1714.6,444.9h1.6M1737,444.9h1.6M1757.8,444.9h1.6M1823.4,444.9h1.6M1074.6,456.3h1.6M1125.8,456.3h1.6M1199.4,456.3h1.6M1202.6,456.3h1.6M1223.4,456.3h1.6M1273,456.3h1.6M1293.8,456.3h1.6M1316.2,456.3h1.6M1325.8,456.3h1.6M1332.2,456.3h1.6M1367.4,456.3h1.6M1421.8,456.3h1.6M1469.8,456.3h1.6M1541.8,456.3h1.6M1561,456.3h1.6M1594.6,456.3h1.6M1645.8,456.3h1.6M1674.6,456.3h1.6M1708.2,456.3h1.6M1711.4,456.3h1.6M1837.8,456.3h1.6M1071.4,467.7h1.6M1129,467.7h1.6M1194.6,467.7h1.6M1205.8,467.7h1.6M1263.4,467.7h1.6M1303.4,467.7h1.6M1324.2,467.7h1.6M1365.8,467.7h1.6M1385,467.7h1.6M1553,467.7h1.6M1561,467.7h1.6M1567.4,467.7h1.6M1572.2,467.7h1.6M1658.6,467.7h1.6M1669.8,467.7h1.6M1719.4,467.7h1.6M1733.8,467.7h1.6M1098.6,479.1h1.6M1175.4,479.1h1.6M1196.2,479.1h1.6M1242.6,479.1h1.6M1338.6,479.1h1.6M1385,479.1h1.6M1540.2,479.1h1.6M1565.8,479.1h1.6M1642.6,479.1h1.6M1714.6,479.1h1.6M1745,479.1h1.6M1068.2,490.5h1.6M1077.8,490.5h1.6M1089,490.5h1.6M1186.6,490.5h1.6M1213.8,490.5h1.6M1276.2,490.5h1.6M1313,490.5h1.6M1369,490.5h1.6M1373.8,490.5h3.2M1429.8,490.5h1.6M1529,490.5h1.6M1559.4,490.5h1.6M1580.2,490.5h1.6M1641,490.5h1.6M1658.6,490.5h1.6M1661.8,490.5h1.6M1777,490.5h1.6M1106.6,501.9h1.6M1247.4,501.9h1.6M1561,501.9h1.6M1601,501.9h1.6M1692.2,501.9h3.2M1802.6,501.9h1.6M1189.8,513.3h1.6M1285.8,513.3h1.6M1073,524.7h1.6M1076.2,524.7h1.6M1085.8,524.7h1.6M1097,524.7h3.2M1101.8,524.7h1.6M1108.2,524.7h1.6M1111.4,524.7h1.6M1114.6,524.7h1.6M1119.4,524.7h1.6M1124.2,524.7h1.6M1137,524.7h1.6M1143.4,524.7h1.6M1149.8,524.7h1.6M1161,524.7h1.6M1165.8,524.7h3.2M1175.4,524.7h1.6M1194.6,524.7h1.6M1199.4,524.7h1.6M1207.4,524.7h1.6M1210.6,524.7h1.6M1221.8,524.7h1.6M1241,524.7h1.6M1244.2,524.7h1.6M1249,524.7h1.6M1255.4,524.7h1.6M1265,524.7h1.6M1269.8,524.7h1.6M1281,524.7h1.6M1284.2,524.7h1.6M1287.4,524.7h3.2M1292.2,524.7h3.2M1298.6,524.7h1.6M1305,524.7h1.6M1309.8,524.7h1.6M1313,524.7h1.6M1322.6,524.7h6.4M1333.8,524.7h1.6M1338.6,524.7h1.6M1343.4,524.7h3.2M1349.8,524.7h1.6M1362.6,524.7h1.6M1369,524.7h1.6M1372.2,524.7h1.6M1378.6,524.7h1.6M1381.8,524.7h1.6M1505,524.7h1.6M1525.8,524.7h1.6M1532.2,524.7h1.6M1537,524.7h1.6M1540.2,524.7h1.6M1543.4,524.7h3.2M1565.8,524.7h1.6M1573.8,524.7h1.6M1578.6,524.7h1.6M1586.6,524.7h1.6M1599.4,524.7h1.6M1605.8,524.7h1.6M1610.6,524.7h1.6M1615.4,524.7h1.6M1620.2,524.7h1.6M1634.6,524.7h1.6M1674.6,524.7h1.6M1701.8,524.7h1.6M1756.2,524.7h1.6M1783.4,524.7h1.6M1135.4,536.1h1.6M1324.2,536.1h1.6M1473,536.1h1.6M1535.4,536.1h1.6M1063.4,547.5h1.6M1085.8,547.5h1.6M1196.2,547.5h1.6M1209,547.5h1.6M1234.6,547.5h1.6M1295.4,547.5h1.6M1388.2,547.5h1.6M1399.4,547.5h1.6M1415.4,547.5h1.6M1447.4,547.5h1.6M1516.2,547.5h1.6M1570.6,547.5h1.6M1769,547.5h1.6M1197.8,558.9h1.6M1201,558.9h1.6M1263.4,558.9h1.6M1292.2,558.9h1.6M1308.2,558.9h1.6M1401,558.9h3.2M1468.2,558.9h1.6M1508.2,558.9h1.6M1562.6,558.9h1.6M1578.6,558.9h1.6M1583.4,558.9h1.6M1719.4,558.9h1.6M1794.6,558.9h1.6M1181.8,570.3h1.6M1223.4,570.3h1.6M1229.8,570.3h1.6M1242.6,570.3h1.6M1265,570.3h1.6M1333.8,570.3h1.6M1378.6,570.3h1.6M1397.8,570.3h1.6M1412.2,570.3h1.6M1445.8,570.3h1.6M1525.8,570.3h1.6M1535.4,570.3h1.6M1575.4,570.3h1.6M1607.4,570.3h1.6M1613.8,570.3h1.6M1756.2,570.3h1.6M1804.2,570.3h1.6M1810.6,570.3h1.6M1085.8,581.7h1.6M1135.4,581.7h1.6M1199.4,581.7h1.6M1202.6,581.7h1.6M1231.4,581.7h1.6M1250.6,581.7h1.6M1305,581.7h3.2M1335.4,581.7h1.6M1348.2,581.7h1.6M1357.8,581.7h1.6M1386.6,581.7h1.6M1397.8,581.7h1.6M1401,581.7h1.6M1461.8,581.7h1.6M1479.4,581.7h1.6M1489,581.7h1.6M1505,581.7h1.6M1535.4,581.7h1.6M1559.4,581.7h1.6M1677.8,581.7h1.6M1338.6,604.5h1.6M1386.6,604.5h1.6M1263.4,615.9h1.6M1663.4,615.9h1.6M1313,627.3h1.6M1533.8,627.3h1.6M1690.6,627.3h1.6M1092.2,638.7h1.6M1121,638.7h1.6M1204.2,638.7h1.6M1281,638.7h1.6M1317.8,638.7h1.6M1425,638.7h1.6M1431.4,638.7h1.6M1061.8,661.5h3.2M1087.4,661.5h1.6M1103.4,661.5h1.6M1164.2,661.5h1.6M1234.6,661.5h1.6M1252.2,661.5h1.6M1327.4,661.5h1.6M1628.2,661.5h1.6M1698.6,661.5h1.6M1732.2,661.5h1.6M1076.2,672.9h1.6M1097,672.9h1.6M1129,672.9h1.6M1306.6,672.9h1.6M1361,672.9h1.6M1457,672.9h1.6M1490.6,672.9h1.6M1530.6,672.9h1.6M1589.8,672.9h1.6M1607.4,672.9h1.6M1689,672.9h1.6" stroke="#ffebe1" stroke-width="11.7" fill="none"/>
<path d="M1057,91.5h1.6M1071.4,91.5h1.6M1092.2,91.5h1.6M1103.4,91.5h1.6M1138.6,91.5h1.6M1143.4,91.5h1.6M1165.8,91.5h3.2M1209,91.5h1.6M1226.6,91.5h1.6M1231.4,91.5h1.6M1234.6,91.5h1.6M1266.6,91.5h1.6M1274.6,91.5h1.6M1289,91.5h1.6M1293.8,91.5h1.6M1321,91.5h1.6M1325.8,91.5h1.6M1357.8,91.5h1.6M1364.2,91.5h3.2M1378.6,91.5h1.6M1463.4,91.5h1.6M1487.4,91.5h1.6M1492.2,91.5h1.6M1525.8,91.5h1.6M1612.2,91.5h1.6M1618.6,91.5h1.6M1705,91.5h1.6M1063.4,102.9h1.6M1079.4,102.9h1.6M1101.8,102.9h1.6M1105,102.9h1.6M1109.8,102.9h1.6M1145,102.9h1.6M1201,102.9h1.6M1217,102.9h1.6M1220.2,102.9h1.6M1223.4,102.9h3.2M1241,102.9h1.6M1263.4,102.9h1.6M1268.2,102.9h1.6M1277.8,102.9h3.2M1285.8,102.9h1.6M1300.2,102.9h1.6M1303.4,102.9h1.6M1330.6,102.9h1.6M1338.6,102.9h1.6M1361,102.9h1.6M1385,102.9h1.6M1393,102.9h1.6M1399.4,102.9h1.6M1425,102.9h1.6M1455.4,102.9h1.6M1458.6,102.9h1.6M1492.2,102.9h1.6M1580.2,102.9h1.6M1585,102.9h1.6M1705,102.9h1.6M1793,102.9h1.6M1804.2,102.9h1.6M1807.4,102.9h1.6M1828.2,102.9h1.6M1066.6,114.3h1.6M1069.8,114.3h1.6M1073,114.3h1.6M1077.8,114.3h1.6M1108.2,114.3h1.6M1121,114.3h1.6M1141.8,114.3h1.6M1154.6,114.3h1.6M1164.2,114.3h1.6M1197.8,114.3h1.6M1207.4,114.3h1.6M1210.6,114.3h1.6M1217,114.3h1.6M1260.2,114.3h1.6M1277.8,114.3h1.6M1292.2,114.3h1.6M1325.8,114.3h1.6M1380.2,114.3h1.6M1383.4,114.3h3.2M1404.2,114.3h1.6M1420.2,114.3h1.6M1433,114.3h1.6M1450.6,114.3h1.6M1457,114.3h1.6M1517.8,114.3h1.6M1569,114.3h1.6M1588.2,114.3h1.6M1601,114.3h1.6M1637.8,114.3h1.6M1063.4,125.7h1.6M1085.8,125.7h1.6M1133.8,125.7h1.6M1157.8,125.7h3.2M1191.4,125.7h1.6M1197.8,125.7h1.6M1209,125.7h1.6M1229.8,125.7h3.2M1271.4,125.7h1.6M1282.6,125.7h1.6M1308.2,125.7h1.6M1332.2,125.7h1.6M1351.4,125.7h1.6M1362.6,125.7h1.6M1369,125.7h1.6M1423.4,125.7h1.6M1453.8,125.7h1.6M1626.6,125.7h1.6M1674.6,125.7h3.2M1681,125.7h1.6M1690.6,125.7h3.2M1716.2,125.7h1.6M1765.8,125.7h1.6M1780.2,125.7h1.6M1789.8,125.7h1.6M1801,125.7h1.6M1057,137.1h1.6M1063.4,137.1h1.6M1066.6,137.1h1.6M1114.6,137.1h1.6M1153,137.1h1.6M1157.8,137.1h1.6M1162.6,137.1h1.6M1167.4,137.1h1.6M1186.6,137.1h1.6M1250.6,137.1h1.6M1279.4,137.1h1.6M1289,137.1h1.6M1295.4,137.1h1.6M1308.2,137.1h1.6M1330.6,137.1h1.6M1341.8,137.1h1.6M1594.6,137.1h1.6M1626.6,137.1h1.6M1658.6,137.1h1.6M1673,137.1h1.6M1687.4,137.1h1.6M1730.6,137.1h1.6M1765.8,137.1h1.6M1781.8,137.1h1.6M1084.2,148.5h1.6M1093.8,148.5h1.6M1137,148.5h1.6M1175.4,148.5h1.6M1181.8,148.5h1.6M1193,148.5h1.6M1196.2,148.5h1.6M1213.8,148.5h1.6M1236.2,148.5h1.6M1257,148.5h1.6M1263.4,148.5h1.6M1282.6,148.5h1.6M1293.8,148.5h1.6M1303.4,148.5h3.2M1439.4,148.5h1.6M1457,148.5h1.6M1468.2,148.5h1.6M1474.6,148.5h4.8M1481,148.5h1.6M1521,148.5h1.6M1530.6,148.5h1.6M1546.6,148.5h1.6M1570.6,148.5h1.6M1607.4,148.5h3.2M1629.8,148.5h1.6M1069.8,159.9h1.6M1077.8,159.9h1.6M1085.8,159.9h1.6M1089,159.9h1.6M1100.2,159.9h1.6M1109.8,159.9h1.6M1116.2,159.9h1.6M1122.6,159.9h1.6M1204.2,159.9h1.6M1213.8,159.9h1.6M1234.6,159.9h1.6M1237.8,159.9h1.6M1258.6,159.9h1.6M1290.6,159.9h1.6M1348.2,159.9h1.6M1356.2,159.9h1.6M1362.6,159.9h1.6M1386.6,159.9h1.6M1401,159.9h1.6M1413.8,159.9h1.6M1497,159.9h1.6M1525.8,159.9h1.6M1529,159.9h1.6M1538.6,159.9h1.6M1551.4,159.9h1.6M1593,159.9h1.6M1602.6,159.9h1.6M1621.8,159.9h1.6M1655.4,159.9h1.6M1677.8,159.9h1.6M1759.4,159.9h1.6M1821.8,159.9h1.6M1063.4,171.3h3.2M1077.8,171.3h1.6M1173.8,171.3h3.2M1183.4,171.3h1.6M1233,171.3h1.6M1261.8,171.3h3.2M1293.8,171.3h1.6M1301.8,171.3h1.6M1311.4,171.3h1.6M1327.4,171.3h1.6M1333.8,171.3h1.6M1340.2,171.3h1.6M1353,171.3h1.6M1373.8,171.3h1.6M1378.6,171.3h1.6M1386.6,171.3h1.6M1466.6,171.3h1.6M1471.4,171.3h1.6M1513,171.3h1.6M1533.8,171.3h1.6M1554.6,171.3h1.6M1645.8,171.3h1.6M1773.8,171.3h1.6M1170.6,182.7h1.6M1189.8,182.7h1.6M1197.8,182.7h1.6M1221.8,182.7h1.6M1234.6,182.7h1.6M1237.8,182.7h1.6M1281,182.7h1.6M1289,182.7h1.6M1308.2,182.7h1.6M1351.4,182.7h1.6M1369,182.7h1.6M1381.8,182.7h1.6M1554.6,182.7h1.6M1609,182.7h1.6M1618.6,182.7h1.6M1637.8,182.7h1.6M1693.8,182.7h1.6M1700.2,182.7h1.6M1757.8,182.7h3.2M1796.2,182.7h1.6M1509.8,194.1h1.6M1466.6,205.5h1.6M1122.6,216.9h1.6M1506.6,216.9h1.6M1591.4,216.9h1.6M1340.2,228.3h1.6M1349.8,228.3h1.6M1420.2,228.3h1.6M1729,228.3h1.6M1383.4,239.7h1.6M1077.8,251.1h1.6M1282.6,251.1h1.6M1521,251.1h1.6M1060.2,262.5h1.6M1076.2,262.5h1.6M1081,262.5h1.6M1098.6,262.5h1.6M1113,262.5h1.6M1124.2,262.5h1.6M1132.2,262.5h1.6M1141.8,262.5h1.6M1146.6,262.5h1.6M1154.6,262.5h8M1178.6,262.5h1.6M1186.6,262.5h1.6M1202.6,262.5h1.6M1209,262.5h1.6M1212.2,262.5h1.6M1229.8,262.5h1.6M1239.4,262.5h1.6M1250.6,262.5h1.6M1253.8,262.5h1.6M1258.6,262.5h1.6M1274.6,262.5h1.6M1303.4,262.5h1.6M1308.2,262.5h3.2M1314.6,262.5h1.6M1327.4,262.5h1.6M1333.8,262.5h1.6M1345,262.5h1.6M1386.6,262.5h1.6M1420.2,262.5h1.6M1442.6,262.5h1.6M1493.8,262.5h1.6M1532.2,262.5h1.6M1645.8,262.5h1.6M1658.6,262.5h1.6M1668.2,262.5h3.2M1689,262.5h1.6M1698.6,262.5h1.6M1709.8,262.5h1.6M1719.4,262.5h1.6M1729,262.5h1.6M1748.2,262.5h1.6M1762.6,262.5h1.6M1767.4,262.5h3.2M1778.6,262.5h1.6M1789.8,262.5h1.6M1097,273.9h1.6M1124.2,273.9h1.6M1141.8,273.9h1.6M1162.6,273.9h1.6M1167.4,273.9h1.6M1194.6,273.9h3.2M1220.2,273.9h1.6M1236.2,273.9h1.6M1260.2,273.9h1.6M1285.8,273.9h1.6M1308.2,273.9h1.6M1325.8,273.9h1.6M1332.2,273.9h1.6M1335.4,273.9h1.6M1362.6,273.9h1.6M1372.2,273.9h1.6M1378.6,273.9h1.6M1394.6,273.9h1.6M1433,273.9h1.6M1436.2,273.9h1.6M1449,273.9h1.6M1453.8,273.9h1.6M1506.6,273.9h1.6M1599.4,273.9h1.6M1639.4,273.9h1.6M1642.6,273.9h1.6M1655.4,273.9h1.6M1674.6,273.9h1.6M1677.8,273.9h1.6M1695.4,273.9h1.6M1709.8,273.9h1.6M1714.6,273.9h1.6M1729,273.9h1.6M1749.8,273.9h1.6M1762.6,273.9h1.6M1789.8,273.9h1.6M1146.6,285.3h1.6M1154.6,285.3h1.6M1157.8,285.3h1.6M1165.8,285.3h3.2M1173.8,285.3h1.6M1233,285.3h1.6M1269.8,285.3h1.6M1303.4,285.3h1.6M1314.6,285.3h1.6M1338.6,285.3h1.6M1348.2,285.3h1.6M1362.6,285.3h1.6M1378.6,285.3h1.6M1383.4,285.3h1.6M1463.4,285.3h1.6M1618.6,285.3h1.6M1625,285.3h1.6M1671.4,285.3h1.6M1681,285.3h1.6M1733.8,285.3h1.6M1740.2,285.3h1.6M1778.6,285.3h1.6M1417,296.7h1.6M1108.2,308.1h1.6M1309.8,308.1h1.6M1727.4,308.1h1.6M1223.4,319.5h1.6M1249,319.5h1.6M1306.6,319.5h1.6M1321,319.5h1.6M1324.2,319.5h1.6M1349.8,319.5h1.6M1356.2,319.5h1.6M1569,319.5h1.6M1681,319.5h1.6M1738.6,319.5h1.6M1706.6,330.9h1.6M1191.4,342.3h3.2M1301.8,342.3h1.6M1354.6,342.3h1.6M1695.4,342.3h1.6M1783.4,342.3h1.6M1084.2,365.1h1.6M1137,365.1h1.6M1165.8,365.1h1.6M1177,365.1h1.6M1317.8,365.1h1.6M1378.6,365.1h1.6M1647.4,365.1h1.6M1701.8,365.1h1.6M1705,365.1h1.6M1823.4,365.1h1.6M1082.6,376.5h1.6M1167.4,376.5h1.6M1191.4,376.5h1.6M1241,376.5h1.6M1308.2,376.5h1.6M1337,376.5h1.6M1362.6,376.5h1.6M1389.8,376.5h1.6M1641,376.5h1.6M1665,376.5h1.6M1785,376.5h1.6M1828.2,376.5h1.6M1077.8,387.9h1.6M1109.8,387.9h1.6M1130.6,387.9h1.6M1276.2,387.9h1.6M1370.6,387.9h3.2M1453.8,387.9h1.6M1573.8,387.9h1.6M1621.8,387.9h1.6M1777,387.9h1.6M1543.4,399.3h1.6M1775.4,399.3h1.6M1095.4,410.7h1.6M1137,410.7h1.6M1148.2,410.7h1.6M1181.8,410.7h1.6M1199.4,410.7h3.2M1209,410.7h1.6M1228.2,410.7h1.6M1253.8,410.7h1.6M1261.8,410.7h1.6M1337,410.7h1.6M1439.4,410.7h1.6M1546.6,410.7h1.6M1618.6,410.7h1.6M1642.6,410.7h1.6M1652.2,410.7h1.6M1657,410.7h1.6M1663.4,410.7h1.6M1677.8,410.7h1.6M1682.6,410.7h1.6M1735.4,410.7h1.6M1762.6,410.7h3.2M1777,410.7h1.6M1111.4,422.1h3.2M1178.6,422.1h1.6M1191.4,422.1h1.6M1194.6,422.1h1.6M1201,422.1h1.6M1223.4,422.1h1.6M1273,422.1h1.6M1308.2,422.1h1.6M1338.6,422.1h1.6M1354.6,422.1h1.6M1380.2,422.1h1.6M1519.4,422.1h1.6M1529,422.1h1.6M1537,422.1h1.6M1553,422.1h1.6M1564.2,422.1h1.6M1569,422.1h1.6M1629.8,422.1h1.6M1652.2,422.1h1.6M1684.2,422.1h1.6M1831.4,422.1h1.6M1071.4,433.5h1.6M1124.2,433.5h1.6M1137,433.5h1.6M1141.8,433.5h1.6M1145,433.5h1.6M1159.4,433.5h1.6M1173.8,433.5h1.6M1196.2,433.5h3.2M1204.2,433.5h1.6M1207.4,433.5h1.6M1234.6,433.5h1.6M1245.8,433.5h1.6M1271.4,433.5h1.6M1285.8,433.5h1.6M1319.4,433.5h1.6M1327.4,433.5h1.6M1341.8,433.5h1.6M1381.8,433.5h1.6M1385,433.5h1.6M1410.6,433.5h1.6M1537,433.5h3.2M1586.6,433.5h1.6M1610.6,433.5h1.6M1625,433.5h1.6M1637.8,433.5h1.6M1642.6,433.5h1.6M1655.4,433.5h1.6M1669.8,433.5h1.6M1673,433.5h1.6M1685.8,433.5h1.6M1697,433.5h1.6M1717.8,433.5h1.6M1724.2,433.5h1.6M1727.4,433.5h3.2M1733.8,433.5h1.6M1813.8,433.5h1.6M1065,444.9h1.6M1097,444.9h1.6M1101.8,444.9h1.6M1109.8,444.9h1.6M1117.8,444.9h1.6M1125.8,444.9h1.6M1140.2,444.9h1.6M1169,444.9h3.2M1173.8,444.9h1.6M1204.2,444.9h1.6M1217,444.9h1.6M1226.6,444.9h1.6M1249,444.9h1.6M1271.4,444.9h1.6M1285.8,444.9h1.6M1292.2,444.9h3.2M1345,444.9h1.6M1349.8,444.9h1.6M1380.2,444.9h1.6M1393,444.9h1.6M1474.6,444.9h1.6M1498.6,444.9h1.6M1527.4,444.9h1.6M1535.4,444.9h3.2M1545,444.9h1.6M1554.6,444.9h1.6M1607.4,444.9h3.2M1625,444.9h1.6M1642.6,444.9h1.6M1666.6,444.9h1.6M1669.8,444.9h1.6M1682.6,444.9h1.6M1695.4,444.9h1.6M1698.6,444.9h1.6M1724.2,444.9h1.6M1740.2,444.9h1.6M1812.2,444.9h3.2M1057,456.3h1.6M1073,456.3h1.6M1082.6,456.3h1.6M1095.4,456.3h3.2M1113,456.3h1.6M1135.4,456.3h1.6M1140.2,456.3h1.6M1161,456.3h1.6M1167.4,456.3h1.6M1197.8,456.3h1.6M1229.8,456.3h1.6M1245.8,456.3h3.2M1250.6,456.3h1.6M1253.8,456.3h1.6M1279.4,456.3h1.6M1329,456.3h1.6M1532.2,456.3h1.6M1553,456.3h1.6M1559.4,456.3h1.6M1562.6,456.3h1.6M1575.4,456.3h1.6M1591.4,456.3h1.6M1633,456.3h1.6M1677.8,456.3h1.6M1690.6,456.3h1.6M1719.4,456.3h1.6M1738.6,456.3h1.6M1743.4,456.3h3.2M1751.4,456.3h1.6M1762.6,456.3h1.6M1093.8,467.7h1.6M1097,467.7h1.6M1103.4,467.7h1.6M1117.8,467.7h1.6M1135.4,467.7h1.6M1157.8,467.7h1.6M1188.2,467.7h4.8M1199.4,467.7h1.6M1225,467.7h1.6M1249,467.7h1.6M1253.8,467.7h1.6M1274.6,467.7h1.6M1287.4,467.7h1.6M1290.6,467.7h1.6M1309.8,467.7h3.2M1314.6,467.7h1.6M1325.8,467.7h1.6M1338.6,467.7h1.6M1369,467.7h1.6M1380.2,467.7h1.6M1444.2,467.7h1.6M1538.6,467.7h1.6M1605.8,467.7h1.6M1612.2,467.7h1.6M1621.8,467.7h1.6M1693.8,467.7h1.6M1698.6,467.7h1.6M1716.2,467.7h1.6M1722.6,467.7h1.6M1764.2,467.7h1.6M1087.4,479.1h1.6M1114.6,479.1h1.6M1117.8,479.1h3.2M1141.8,479.1h1.6M1151.4,479.1h1.6M1159.4,479.1h1.6M1180.2,479.1h1.6M1215.4,479.1h1.6M1244.2,479.1h3.2M1284.2,479.1h1.6M1301.8,479.1h1.6M1324.2,479.1h3.2M1383.4,479.1h1.6M1516.2,479.1h1.6M1535.4,479.1h1.6M1567.4,479.1h1.6M1594.6,479.1h3.2M1625,479.1h1.6M1644.2,479.1h1.6M1658.6,479.1h1.6M1661.8,479.1h1.6M1693.8,479.1h1.6M1716.2,479.1h1.6M1722.6,479.1h1.6M1761,479.1h1.6M1085.8,490.5h1.6M1098.6,490.5h1.6M1111.4,490.5h1.6M1129,490.5h1.6M1143.4,490.5h1.6M1185,490.5h1.6M1277.8,490.5h1.6M1282.6,490.5h1.6M1316.2,490.5h1.6M1325.8,490.5h1.6M1357.8,490.5h1.6M1381.8,490.5h1.6M1388.2,490.5h1.6M1420.2,490.5h1.6M1433,490.5h1.6M1458.6,490.5h1.6M1481,490.5h1.6M1516.2,490.5h1.6M1578.6,490.5h1.6M1589.8,490.5h1.6M1637.8,490.5h1.6M1657,490.5h1.6M1685.8,490.5h1.6M1695.4,490.5h1.6M1719.4,490.5h1.6M1737,490.5h1.6M1812.2,490.5h1.6M1068.2,501.9h1.6M1293.8,501.9h1.6M1341.8,501.9h1.6M1364.2,501.9h1.6M1453.8,501.9h1.6M1567.4,501.9h1.6M1596.2,501.9h1.6M1625,501.9h1.6M1641,501.9h1.6M1071.4,513.3h1.6M1116.2,513.3h1.6M1306.6,513.3h1.6M1453.8,513.3h1.6M1626.6,513.3h1.6M1777,513.3h1.6M1058.6,524.7h4.8M1069.8,524.7h1.6M1074.6,524.7h1.6M1079.4,524.7h3.2M1084.2,524.7h1.6M1087.4,524.7h1.6M1095.4,524.7h1.6M1100.2,524.7h1.6M1122.6,524.7h1.6M1125.8,524.7h3.2M1130.6,524.7h1.6M1133.8,524.7h3.2M1146.6,524.7h1.6M1157.8,524.7h1.6M1177,524.7h1.6M1185,524.7h3.2M1191.4,524.7h1.6M1202.6,524.7h1.6M1217,524.7h1.6M1228.2,524.7h1.6M1231.4,524.7h1.6M1237.8,524.7h3.2M1242.6,524.7h1.6M1245.8,524.7h1.6M1252.2,524.7h1.6M1300.2,524.7h3.2M1308.2,524.7h1.6M1311.4,524.7h1.6M1319.4,524.7h1.6M1341.8,524.7h1.6M1346.6,524.7h1.6M1361,524.7h1.6M1364.2,524.7h3.2M1370.6,524.7h1.6M1375.4,524.7h1.6M1484.2,524.7h1.6M1524.2,524.7h1.6M1530.6,524.7h1.6M1533.8,524.7h3.2M1541.8,524.7h1.6M1551.4,524.7h1.6M1557.8,524.7h3.2M1567.4,524.7h1.6M1570.6,524.7h1.6M1591.4,524.7h3.2M1596.2,524.7h1.6M1604.2,524.7h1.6M1612.2,524.7h3.2M1617,524.7h1.6M1623.4,524.7h1.6M1631.4,524.7h1.6M1748.2,524.7h1.6M1757.8,524.7h1.6M1773.8,524.7h1.6M1785,524.7h1.6M1063.4,536.1h1.6M1130.6,536.1h1.6M1223.4,536.1h1.6M1234.6,536.1h1.6M1237.8,536.1h3.2M1263.4,536.1h3.2M1282.6,536.1h1.6M1287.4,536.1h1.6M1506.6,536.1h1.6M1516.2,536.1h1.6M1529,536.1h1.6M1618.6,536.1h1.6M1626.6,536.1h1.6M1629.8,536.1h1.6M1633,536.1h4.8M1754.6,536.1h1.6M1761,536.1h1.6M1069.8,547.5h1.6M1084.2,547.5h1.6M1097,547.5h1.6M1154.6,547.5h1.6M1191.4,547.5h1.6M1217,547.5h1.6M1271.4,547.5h1.6M1293.8,547.5h1.6M1345,547.5h3.2M1429.8,547.5h1.6M1484.2,547.5h1.6M1508.2,547.5h1.6M1543.4,547.5h1.6M1578.6,547.5h1.6M1649,547.5h1.6M1717.8,547.5h1.6M1780.2,547.5h1.6M1791.4,547.5h1.6M1071.4,558.9h1.6M1108.2,558.9h1.6M1127.4,558.9h1.6M1138.6,558.9h1.6M1157.8,558.9h1.6M1162.6,558.9h1.6M1228.2,558.9h1.6M1242.6,558.9h1.6M1252.2,558.9h1.6M1258.6,558.9h1.6M1295.4,558.9h1.6M1300.2,558.9h1.6M1327.4,558.9h1.6M1343.4,558.9h1.6M1420.2,558.9h1.6M1442.6,558.9h1.6M1461.8,558.9h1.6M1497,558.9h1.6M1506.6,558.9h1.6M1565.8,558.9h1.6M1637.8,558.9h1.6M1658.6,558.9h1.6M1668.2,558.9h1.6M1703.4,558.9h1.6M1764.2,558.9h1.6M1071.4,570.3h1.6M1079.4,570.3h1.6M1089,570.3h1.6M1116.2,570.3h1.6M1129,570.3h1.6M1140.2,570.3h1.6M1175.4,570.3h1.6M1189.8,570.3h1.6M1202.6,570.3h1.6M1244.2,570.3h1.6M1258.6,570.3h1.6M1268.2,570.3h1.6M1273,570.3h3.2M1282.6,570.3h1.6M1305,570.3h3.2M1325.8,570.3h1.6M1413.8,570.3h1.6M1436.2,570.3h1.6M1447.4,570.3h3.2M1479.4,570.3h1.6M1503.4,570.3h1.6M1511.4,570.3h1.6M1521,570.3h1.6M1530.6,570.3h1.6M1533.8,570.3h1.6M1557.8,570.3h1.6M1562.6,570.3h1.6M1585,570.3h1.6M1625,570.3h1.6M1749.8,570.3h1.6M1753,570.3h1.6M1761,570.3h1.6M1777,570.3h1.6M1807.4,570.3h1.6M1071.4,581.7h4.8M1154.6,581.7h3.2M1180.2,581.7h1.6M1183.4,581.7h1.6M1207.4,581.7h1.6M1282.6,581.7h1.6M1292.2,581.7h1.6M1321,581.7h1.6M1349.8,581.7h1.6M1361,581.7h1.6M1421.8,581.7h1.6M1434.6,581.7h1.6M1452.2,581.7h1.6M1500.2,581.7h1.6M1506.6,581.7h1.6M1521,581.7h1.6M1545,581.7h3.2M1554.6,581.7h1.6M1561,581.7h3.2M1567.4,581.7h1.6M1575.4,581.7h1.6M1623.4,581.7h1.6M1692.2,581.7h1.6M1701.8,581.7h1.6M1746.6,581.7h1.6M1826.6,581.7h1.6M1837.8,581.7h1.6M1786.6,593.1h1.6M1293.8,604.5h1.6M1325.8,604.5h1.6M1407.4,604.5h1.6M1301.8,615.9h1.6M1639.4,615.9h1.6M1681,615.9h1.6M1769,615.9h1.6M1108.2,627.3h1.6M1201,627.3h1.6M1364.2,627.3h1.6M1617,627.3h1.6M1108.2,638.7h1.6M1149.8,638.7h1.6M1212.2,638.7h1.6M1258.6,638.7h1.6M1282.6,638.7h1.6M1386.6,638.7h1.6M1626.6,638.7h1.6M1684.2,638.7h1.6M1737,638.7h1.6M1764.2,638.7h1.6M1073,661.5h1.6M1117.8,661.5h1.6M1185,661.5h1.6M1205.8,661.5h1.6M1218.6,661.5h1.6M1228.2,661.5h1.6M1271.4,661.5h3.2M1289,661.5h1.6M1311.4,661.5h1.6M1341.8,661.5h3.2M1367.4,661.5h1.6M1447.4,661.5h1.6M1468.2,661.5h1.6M1492.2,661.5h1.6M1655.4,661.5h1.6M1711.4,661.5h1.6M1073,672.9h1.6M1132.2,672.9h1.6M1154.6,672.9h1.6M1202.6,672.9h1.6M1252.2,672.9h1.6M1258.6,672.9h1.6M1308.2,672.9h1.6M1316.2,672.9h1.6M1378.6,672.9h1.6M1529,672.9h1.6M1581.8,672.9h1.6M1585,672.9h1.6M1644.2,672.9h1.6M1663.4,672.9h1.6M1735.4,672.9h1.6M1101.8,684.3h1.6M1261.8,684.3h1.6M1602.6,684.3h1.6M1341.8,695.7h1.6M1365.8,695.7h1.6M1535.4,695.7h1.6M1823.4,695.7h1.6" stroke="#ffd7c3" stroke-width="11.7" fill="none"/>
<path d="M1058.6,91.5h1.6M1100.2,91.5h1.6M1141.8,91.5h1.6M1156.2,91.5h1.6M1161,91.5h3.2M1191.4,91.5h1.6M1194.6,91.5h1.6M1197.8,91.5h1.6M1213.8,91.5h1.6M1217,91.5h1.6M1225,91.5h1.6M1257,91.5h3.2M1261.8,91.5h1.6M1277.8,91.5h1.6M1281,91.5h3.2M1298.6,91.5h1.6M1317.8,91.5h1.6M1330.6,91.5h1.6M1337,91.5h1.6M1343.4,91.5h3.2M1351.4,91.5h1.6M1354.6,91.5h1.6M1369,91.5h1.6M1380.2,91.5h1.6M1497,91.5h1.6M1540.2,91.5h1.6M1585,91.5h1.6M1613.8,91.5h1.6M1634.6,91.5h1.6M1701.8,91.5h1.6M1773.8,91.5h1.6M1788.2,91.5h1.6M1791.4,91.5h1.6M1060.2,102.9h1.6M1081,102.9h1.6M1103.4,102.9h1.6M1108.2,102.9h1.6M1116.2,102.9h1.6M1138.6,102.9h1.6M1143.4,102.9h1.6M1151.4,102.9h3.2M1159.4,102.9h1.6M1165.8,102.9h1.6M1170.6,102.9h1.6M1185,102.9h1.6M1188.2,102.9h1.6M1197.8,102.9h1.6M1207.4,102.9h1.6M1231.4,102.9h1.6M1234.6,102.9h1.6M1242.6,102.9h1.6M1269.8,102.9h3.2M1274.6,102.9h1.6M1290.6,102.9h1.6M1357.8,102.9h1.6M1373.8,102.9h1.6M1377,102.9h1.6M1407.4,102.9h1.6M1412.2,102.9h1.6M1447.4,102.9h1.6M1473,102.9h1.6M1493.8,102.9h1.6M1509.8,102.9h1.6M1565.8,102.9h1.6M1591.4,102.9h1.6M1721,102.9h1.6M1821.8,102.9h1.6M1831.4,102.9h1.6M1097,114.3h1.6M1103.4,114.3h1.6M1114.6,114.3h1.6M1122.6,114.3h1.6M1130.6,114.3h1.6M1148.2,114.3h1.6M1172.2,114.3h1.6M1177,114.3h1.6M1180.2,114.3h3.2M1215.4,114.3h1.6M1218.6,114.3h1.6M1233,114.3h1.6M1236.2,114.3h3.2M1249,114.3h3.2M1253.8,114.3h1.6M1268.2,114.3h1.6M1274.6,114.3h1.6M1289,114.3h1.6M1300.2,114.3h3.2M1308.2,114.3h1.6M1316.2,114.3h1.6M1346.6,114.3h1.6M1361,114.3h1.6M1375.4,114.3h1.6M1381.8,114.3h1.6M1388.2,114.3h1.6M1444.2,114.3h1.6M1492.2,114.3h1.6M1514.6,114.3h1.6M1581.8,114.3h1.6M1615.4,114.3h1.6M1754.6,114.3h1.6M1770.6,114.3h1.6M1777,114.3h1.6M1797.8,114.3h1.6M1815.4,114.3h1.6M1829.8,114.3h1.6M1057,125.7h1.6M1073,125.7h1.6M1079.4,125.7h1.6M1090.6,125.7h1.6M1093.8,125.7h1.6M1122.6,125.7h1.6M1138.6,125.7h1.6M1145,125.7h3.2M1151.4,125.7h1.6M1180.2,125.7h1.6M1204.2,125.7h1.6M1212.2,125.7h3.2M1223.4,125.7h1.6M1236.2,125.7h1.6M1242.6,125.7h1.6M1269.8,125.7h1.6M1279.4,125.7h1.6M1290.6,125.7h1.6M1319.4,125.7h1.6M1325.8,125.7h1.6M1333.8,125.7h1.6M1346.6,125.7h1.6M1383.4,125.7h1.6M1437.8,125.7h1.6M1471.4,125.7h1.6M1477.8,125.7h1.6M1532.2,125.7h1.6M1617,125.7h1.6M1655.4,125.7h1.6M1713,125.7h1.6M1721,125.7h1.6M1778.6,125.7h1.6M1783.4,125.7h1.6M1799.4,125.7h1.6M1061.8,137.1h1.6M1089,137.1h1.6M1095.4,137.1h1.6M1101.8,137.1h1.6M1111.4,137.1h1.6M1137,137.1h1.6M1141.8,137.1h1.6M1172.2,137.1h1.6M1199.4,137.1h1.6M1202.6,137.1h1.6M1207.4,137.1h3.2M1241,137.1h1.6M1247.4,137.1h1.6M1253.8,137.1h1.6M1290.6,137.1h1.6M1305,137.1h1.6M1313,137.1h3.2M1324.2,137.1h1.6M1348.2,137.1h1.6M1361,137.1h1.6M1375.4,137.1h3.2M1604.2,137.1h1.6M1637.8,137.1h1.6M1641,137.1h1.6M1668.2,137.1h1.6M1692.2,137.1h1.6M1700.2,137.1h1.6M1741.8,137.1h1.6M1753,137.1h1.6M1761,137.1h3.2M1773.8,137.1h1.6M1068.2,148.5h1.6M1085.8,148.5h1.6M1109.8,148.5h1.6M1122.6,148.5h1.6M1125.8,148.5h1.6M1129,148.5h1.6M1185,148.5h3.2M1199.4,148.5h1.6M1204.2,148.5h1.6M1210.6,148.5h1.6M1225,148.5h1.6M1276.2,148.5h1.6M1297,148.5h1.6M1324.2,148.5h3.2M1335.4,148.5h1.6M1338.6,148.5h1.6M1345,148.5h1.6M1362.6,148.5h1.6M1365.8,148.5h1.6M1369,148.5h1.6M1377,148.5h1.6M1386.6,148.5h1.6M1431.4,148.5h1.6M1482.6,148.5h1.6M1506.6,148.5h1.6M1532.2,148.5h1.6M1593,148.5h3.2M1617,148.5h1.6M1826.6,148.5h1.6M1057,159.9h1.6M1060.2,159.9h1.6M1068.2,159.9h1.6M1073,159.9h1.6M1079.4,159.9h1.6M1084.2,159.9h1.6M1130.6,159.9h1.6M1133.8,159.9h1.6M1145,159.9h1.6M1148.2,159.9h1.6M1172.2,159.9h3.2M1183.4,159.9h1.6M1188.2,159.9h1.6M1196.2,159.9h1.6M1202.6,159.9h1.6M1205.8,159.9h1.6M1226.6,159.9h1.6M1239.4,159.9h3.2M1252.2,159.9h1.6M1263.4,159.9h1.6M1266.6,159.9h3.2M1271.4,159.9h3.2M1277.8,159.9h4.8M1298.6,159.9h1.6M1306.6,159.9h3.2M1321,159.9h1.6M1330.6,159.9h1.6M1361,159.9h1.6M1375.4,159.9h3.2M1442.6,159.9h1.6M1495.4,159.9h1.6M1501.8,159.9h1.6M1557.8,159.9h1.6M1562.6,159.9h1.6M1573.8,159.9h1.6M1577,159.9h1.6M1604.2,159.9h1.6M1612.2,159.9h1.6M1685.8,159.9h1.6M1711.4,159.9h1.6M1756.2,159.9h1.6M1762.6,159.9h1.6M1775.4,159.9h1.6M1783.4,159.9h1.6M1815.4,159.9h1.6M1071.4,171.3h1.6M1084.2,171.3h3.2M1103.4,171.3h3.2M1109.8,171.3h3.2M1116.2,171.3h1.6M1119.4,171.3h1.6M1122.6,171.3h1.6M1129,171.3h1.6M1143.4,171.3h1.6M1149.8,171.3h1.6M1153,171.3h3.2M1164.2,171.3h1.6M1169,171.3h1.6M1172.2,171.3h1.6M1188.2,171.3h1.6M1199.4,171.3h1.6M1204.2,171.3h1.6M1207.4,171.3h4.8M1217,171.3h1.6M1245.8,171.3h1.6M1277.8,171.3h3.2M1292.2,171.3h1.6M1295.4,171.3h1.6M1324.2,171.3h1.6M1351.4,171.3h1.6M1361,171.3h1.6M1372.2,171.3h1.6M1485.8,171.3h1.6M1490.6,171.3h1.6M1516.2,171.3h1.6M1562.6,171.3h1.6M1596.2,171.3h1.6M1639.4,171.3h1.6M1647.4,171.3h1.6M1671.4,171.3h1.6M1698.6,171.3h1.6M1765.8,171.3h1.6M1777,171.3h1.6M1796.2,171.3h1.6M1101.8,182.7h1.6M1121,182.7h1.6M1127.4,182.7h1.6M1130.6,182.7h1.6M1138.6,182.7h1.6M1153,182.7h1.6M1194.6,182.7h1.6M1202.6,182.7h1.6M1228.2,182.7h1.6M1247.4,182.7h1.6M1257,182.7h1.6M1271.4,182.7h1.6M1309.8,182.7h6.4M1354.6,182.7h1.6M1362.6,182.7h1.6M1372.2,182.7h1.6M1378.6,182.7h3.2M1537,182.7h1.6M1556.2,182.7h1.6M1573.8,182.7h1.6M1578.6,182.7h1.6M1602.6,182.7h3.2M1655.4,182.7h1.6M1674.6,182.7h1.6M1706.6,182.7h1.6M1738.6,182.7h1.6M1743.4,182.7h1.6M1772.2,182.7h1.6M1785,182.7h1.6M1804.2,182.7h1.6M1810.6,182.7h1.6M1836.2,182.7h1.6M1409,194.1h1.6M1460.2,194.1h1.6M1394.6,205.5h1.6M1601,205.5h1.6M1159.4,216.9h1.6M1378.6,216.9h1.6M1393,216.9h3.2M1420.2,216.9h1.6M1463.4,216.9h1.6M1471.4,216.9h1.6M1490.6,216.9h1.6M1517.8,216.9h1.6M1522.6,216.9h1.6M1538.6,216.9h1.6M1177,228.3h1.6M1343.4,228.3h1.6M1405.8,228.3h1.6M1460.2,228.3h1.6M1653.8,228.3h1.6M1676.2,228.3h1.6M1706.6,228.3h1.6M1266.6,239.7h1.6M1421.8,239.7h1.6M1156.2,251.1h1.6M1301.8,251.1h1.6M1359.4,251.1h1.6M1389.8,251.1h1.6M1541.8,251.1h1.6M1738.6,251.1h1.6M1748.2,251.1h1.6M1773.8,251.1h1.6M1788.2,251.1h1.6M1063.4,262.5h1.6M1106.6,262.5h1.6M1114.6,262.5h1.6M1138.6,262.5h1.6M1228.2,262.5h1.6M1279.4,262.5h3.2M1317.8,262.5h1.6M1343.4,262.5h1.6M1353,262.5h1.6M1370.6,262.5h1.6M1378.6,262.5h3.2M1391.4,262.5h3.2M1396.2,262.5h1.6M1399.4,262.5h1.6M1407.4,262.5h1.6M1421.8,262.5h1.6M1476.2,262.5h1.6M1484.2,262.5h1.6M1533.8,262.5h1.6M1569,262.5h1.6M1642.6,262.5h1.6M1657,262.5h1.6M1671.4,262.5h1.6M1701.8,262.5h1.6M1730.6,262.5h1.6M1741.8,262.5h1.6M1753,262.5h1.6M1071.4,273.9h3.2M1085.8,273.9h1.6M1108.2,273.9h1.6M1226.6,273.9h3.2M1231.4,273.9h1.6M1253.8,273.9h1.6M1268.2,273.9h1.6M1274.6,273.9h1.6M1317.8,273.9h1.6M1329,273.9h1.6M1357.8,273.9h1.6M1388.2,273.9h1.6M1401,273.9h1.6M1412.2,273.9h1.6M1415.4,273.9h3.2M1421.8,273.9h1.6M1439.4,273.9h4.8M1447.4,273.9h1.6M1471.4,273.9h3.2M1492.2,273.9h1.6M1497,273.9h1.6M1564.2,273.9h1.6M1581.8,273.9h1.6M1589.8,273.9h1.6M1658.6,273.9h1.6M1666.6,273.9h1.6M1057,285.3h1.6M1124.2,285.3h1.6M1129,285.3h1.6M1153,285.3h1.6M1189.8,285.3h1.6M1220.2,285.3h1.6M1225,285.3h1.6M1250.6,285.3h1.6M1266.6,285.3h1.6M1290.6,285.3h1.6M1308.2,285.3h1.6M1345,285.3h1.6M1370.6,285.3h1.6M1389.8,285.3h1.6M1404.2,285.3h1.6M1423.4,285.3h1.6M1426.6,285.3h1.6M1431.4,285.3h1.6M1444.2,285.3h1.6M1457,285.3h1.6M1497,285.3h1.6M1514.6,285.3h1.6M1524.2,285.3h1.6M1546.6,285.3h1.6M1557.8,285.3h1.6M1693.8,285.3h1.6M1713,285.3h1.6M1719.4,285.3h1.6M1745,285.3h1.6M1783.4,285.3h1.6M1266.6,296.7h1.6M1367.4,296.7h1.6M1447.4,296.7h1.6M1493.8,308.1h1.6M1193,319.5h1.6M1343.4,319.5h1.6M1365.8,319.5h1.6M1533.8,319.5h1.6M1567.4,319.5h1.6M1607.4,319.5h1.6M1650.6,319.5h1.6M1658.6,319.5h1.6M1682.6,319.5h1.6M1701.8,319.5h1.6M1751.4,319.5h1.6M1805.8,319.5h1.6M1810.6,319.5h1.6M1817,319.5h1.6M1205.8,330.9h1.6M1692.2,330.9h1.6M1810.6,330.9h1.6M1079.4,342.3h1.6M1097,342.3h1.6M1188.2,342.3h1.6M1277.8,342.3h1.6M1388.2,342.3h1.6M1409,342.3h1.6M1567.4,342.3h1.6M1607.4,342.3h1.6M1789.8,342.3h1.6M1543.4,353.7h1.6M1599.4,353.7h1.6M1693.8,353.7h1.6M1108.2,365.1h1.6M1116.2,365.1h1.6M1146.6,365.1h1.6M1161,365.1h1.6M1189.8,365.1h1.6M1281,365.1h1.6M1284.2,365.1h1.6M1349.8,365.1h1.6M1538.6,365.1h1.6M1615.4,365.1h1.6M1653.8,365.1h1.6M1689,365.1h1.6M1713,365.1h1.6M1735.4,365.1h1.6M1738.6,365.1h1.6M1762.6,365.1h1.6M1817,365.1h1.6M1831.4,365.1h1.6M1066.6,376.5h1.6M1148.2,376.5h1.6M1181.8,376.5h1.6M1185,376.5h1.6M1228.2,376.5h1.6M1234.6,376.5h1.6M1253.8,376.5h3.2M1265,376.5h1.6M1268.2,376.5h1.6M1290.6,376.5h1.6M1297,376.5h1.6M1341.8,376.5h1.6M1345,376.5h1.6M1482.6,376.5h1.6M1674.6,376.5h1.6M1693.8,376.5h1.6M1729,376.5h1.6M1754.6,376.5h1.6M1767.4,376.5h1.6M1786.6,376.5h1.6M1074.6,387.9h1.6M1095.4,387.9h1.6M1098.6,387.9h1.6M1121,387.9h1.6M1146.6,387.9h1.6M1170.6,387.9h1.6M1186.6,387.9h1.6M1225,387.9h1.6M1273,387.9h1.6M1313,387.9h1.6M1340.2,387.9h1.6M1380.2,387.9h1.6M1389.8,387.9h1.6M1413.8,387.9h1.6M1468.2,387.9h1.6M1517.8,387.9h1.6M1559.4,387.9h1.6M1593,387.9h1.6M1647.4,387.9h1.6M1066.6,399.3h1.6M1076.2,399.3h1.6M1162.6,399.3h1.6M1172.2,399.3h1.6M1191.4,399.3h1.6M1236.2,399.3h1.6M1260.2,399.3h1.6M1386.6,399.3h1.6M1474.6,399.3h1.6M1479.4,399.3h1.6M1596.2,399.3h1.6M1657,399.3h3.2M1057,410.7h1.6M1060.2,410.7h1.6M1063.4,410.7h1.6M1074.6,410.7h1.6M1105,410.7h3.2M1127.4,410.7h1.6M1133.8,410.7h1.6M1151.4,410.7h3.2M1172.2,410.7h1.6M1186.6,410.7h1.6M1202.6,410.7h1.6M1237.8,410.7h1.6M1260.2,410.7h1.6M1273,410.7h1.6M1300.2,410.7h3.2M1329,410.7h1.6M1333.8,410.7h3.2M1351.4,410.7h1.6M1362.6,410.7h1.6M1372.2,410.7h1.6M1378.6,410.7h1.6M1381.8,410.7h1.6M1385,410.7h1.6M1465,410.7h1.6M1471.4,410.7h1.6M1493.8,410.7h1.6M1532.2,410.7h1.6M1565.8,410.7h1.6M1573.8,410.7h1.6M1577,410.7h1.6M1599.4,410.7h3.2M1617,410.7h1.6M1625,410.7h1.6M1629.8,410.7h1.6M1633,410.7h1.6M1666.6,410.7h1.6M1695.4,410.7h1.6M1714.6,410.7h1.6M1727.4,410.7h4.8M1785,410.7h1.6M1073,422.1h1.6M1103.4,422.1h1.6M1121,422.1h3.2M1156.2,422.1h1.6M1180.2,422.1h1.6M1242.6,422.1h1.6M1250.6,422.1h1.6M1261.8,422.1h1.6M1279.4,422.1h1.6M1282.6,422.1h1.6M1293.8,422.1h1.6M1297,422.1h1.6M1327.4,422.1h1.6M1348.2,422.1h3.2M1381.8,422.1h1.6M1402.6,422.1h1.6M1447.4,422.1h1.6M1466.6,422.1h1.6M1495.4,422.1h1.6M1530.6,422.1h3.2M1535.4,422.1h1.6M1543.4,422.1h1.6M1573.8,422.1h1.6M1578.6,422.1h1.6M1586.6,422.1h3.2M1620.2,422.1h1.6M1647.4,422.1h3.2M1655.4,422.1h1.6M1697,422.1h1.6M1713,422.1h1.6M1725.8,422.1h1.6M1753,422.1h1.6M1757.8,422.1h1.6M1799.4,422.1h1.6M1837.8,422.1h1.6M1066.6,433.5h1.6M1069.8,433.5h1.6M1073,433.5h1.6M1085.8,433.5h1.6M1089,433.5h3.2M1105,433.5h1.6M1114.6,433.5h1.6M1121,433.5h1.6M1138.6,433.5h1.6M1151.4,433.5h1.6M1172.2,433.5h1.6M1191.4,433.5h1.6M1205.8,433.5h1.6M1221.8,433.5h1.6M1231.4,433.5h1.6M1237.8,433.5h1.6M1242.6,433.5h1.6M1266.6,433.5h1.6M1277.8,433.5h1.6M1292.2,433.5h3.2M1335.4,433.5h1.6M1338.6,433.5h3.2M1367.4,433.5h1.6M1391.4,433.5h1.6M1441,433.5h1.6M1474.6,433.5h1.6M1492.2,433.5h1.6M1498.6,433.5h1.6M1513,433.5h1.6M1551.4,433.5h1.6M1554.6,433.5h1.6M1593,433.5h3.2M1623.4,433.5h1.6M1663.4,433.5h1.6M1666.6,433.5h1.6M1681,433.5h1.6M1701.8,433.5h1.6M1740.2,433.5h1.6M1788.2,433.5h1.6M1797.8,433.5h1.6M1826.6,433.5h1.6M1061.8,444.9h1.6M1069.8,444.9h1.6M1081,444.9h1.6M1085.8,444.9h1.6M1122.6,444.9h3.2M1153,444.9h1.6M1199.4,444.9h1.6M1202.6,444.9h1.6M1212.2,444.9h1.6M1229.8,444.9h1.6M1233,444.9h1.6M1239.4,444.9h1.6M1245.8,444.9h1.6M1253.8,444.9h1.6M1265,444.9h1.6M1279.4,444.9h1.6M1289,444.9h1.6M1298.6,444.9h1.6M1317.8,444.9h1.6M1330.6,444.9h1.6M1372.2,444.9h1.6M1399.4,444.9h3.2M1524.2,444.9h1.6M1565.8,444.9h1.6M1589.8,444.9h1.6M1601,444.9h1.6M1604.2,444.9h1.6M1621.8,444.9h1.6M1637.8,444.9h1.6M1647.4,444.9h1.6M1687.4,444.9h4.8M1700.2,444.9h1.6M1706.6,444.9h1.6M1725.8,444.9h1.6M1729,444.9h1.6M1735.4,444.9h1.6M1061.8,456.3h3.2M1079.4,456.3h1.6M1085.8,456.3h1.6M1133.8,456.3h1.6M1143.4,456.3h1.6M1177,456.3h3.2M1189.8,456.3h1.6M1207.4,456.3h1.6M1212.2,456.3h1.6M1215.4,456.3h3.2M1221.8,456.3h1.6M1257,456.3h1.6M1306.6,456.3h1.6M1311.4,456.3h1.6M1314.6,456.3h1.6M1317.8,456.3h3.2M1356.2,456.3h1.6M1365.8,456.3h1.6M1383.4,456.3h1.6M1386.6,456.3h1.6M1466.6,456.3h3.2M1513,456.3h1.6M1530.6,456.3h1.6M1537,456.3h1.6M1554.6,456.3h1.6M1564.2,456.3h3.2M1585,456.3h1.6M1589.8,456.3h1.6M1597.8,456.3h1.6M1602.6,456.3h1.6M1615.4,456.3h1.6M1618.6,456.3h1.6M1649,456.3h1.6M1671.4,456.3h3.2M1695.4,456.3h1.6M1703.4,456.3h1.6M1729,456.3h3.2M1765.8,456.3h1.6M1087.4,467.7h1.6M1098.6,467.7h1.6M1132.2,467.7h1.6M1164.2,467.7h3.2M1173.8,467.7h1.6M1241,467.7h1.6M1261.8,467.7h1.6M1269.8,467.7h1.6M1284.2,467.7h1.6M1289,467.7h1.6M1297,467.7h1.6M1305,467.7h1.6M1316.2,467.7h3.2M1348.2,467.7h1.6M1364.2,467.7h1.6M1372.2,467.7h1.6M1378.6,467.7h1.6M1405.8,467.7h1.6M1457,467.7h1.6M1485.8,467.7h1.6M1513,467.7h1.6M1516.2,467.7h3.2M1522.6,467.7h3.2M1527.4,467.7h1.6M1533.8,467.7h1.6M1546.6,467.7h3.2M1583.4,467.7h1.6M1588.2,467.7h1.6M1620.2,467.7h1.6M1634.6,467.7h1.6M1644.2,467.7h3.2M1649,467.7h1.6M1666.6,467.7h1.6M1687.4,467.7h1.6M1700.2,467.7h1.6M1709.8,467.7h3.2M1735.4,467.7h1.6M1741.8,467.7h1.6M1745,467.7h1.6M1801,467.7h1.6M1818.6,467.7h1.6M1057,479.1h1.6M1068.2,479.1h1.6M1074.6,479.1h1.6M1081,479.1h1.6M1085.8,479.1h1.6M1105,479.1h1.6M1109.8,479.1h1.6M1178.6,479.1h1.6M1188.2,479.1h1.6M1213.8,479.1h1.6M1220.2,479.1h1.6M1223.4,479.1h1.6M1249,479.1h1.6M1269.8,479.1h1.6M1356.2,479.1h3.2M1364.2,479.1h1.6M1370.6,479.1h1.6M1378.6,479.1h1.6M1426.6,479.1h1.6M1453.8,479.1h1.6M1573.8,479.1h1.6M1609,479.1h1.6M1626.6,479.1h1.6M1636.2,479.1h1.6M1641,479.1h1.6M1649,479.1h1.6M1655.4,479.1h1.6M1709.8,479.1h1.6M1737,479.1h1.6M1740.2,479.1h1.6M1746.6,479.1h1.6M1812.2,479.1h1.6M1820.2,479.1h3.2M1092.2,490.5h1.6M1095.4,490.5h1.6M1105,490.5h1.6M1124.2,490.5h1.6M1156.2,490.5h1.6M1172.2,490.5h1.6M1194.6,490.5h1.6M1205.8,490.5h1.6M1237.8,490.5h1.6M1241,490.5h1.6M1285.8,490.5h3.2M1298.6,490.5h1.6M1301.8,490.5h1.6M1305,490.5h1.6M1321,490.5h1.6M1329,490.5h1.6M1349.8,490.5h1.6M1361,490.5h1.6M1377,490.5h3.2M1404.2,490.5h1.6M1425,490.5h1.6M1428.2,490.5h1.6M1514.6,490.5h1.6M1543.4,490.5h1.6M1620.2,490.5h1.6M1645.8,490.5h1.6M1687.4,490.5h1.6M1697,490.5h3.2M1713,490.5h1.6M1725.8,490.5h1.6M1748.2,490.5h1.6M1773.8,490.5h1.6M1793,490.5h1.6M1809,490.5h1.6M1097,501.9h1.6M1133.8,501.9h1.6M1153,501.9h1.6M1180.2,501.9h1.6M1209,501.9h3.2M1213.8,501.9h1.6M1250.6,501.9h1.6M1274.6,501.9h1.6M1277.8,501.9h1.6M1282.6,501.9h1.6M1365.8,501.9h1.6M1383.4,501.9h1.6M1396.2,501.9h1.6M1415.4,501.9h1.6M1437.8,501.9h1.6M1458.6,501.9h3.2M1474.6,501.9h1.6M1509.8,501.9h1.6M1516.2,501.9h1.6M1535.4,501.9h1.6M1673,501.9h1.6M1759.4,501.9h1.6M1762.6,501.9h1.6M1769,501.9h3.2M1831.4,501.9h1.6M1146.6,513.3h1.6M1157.8,513.3h1.6M1241,513.3h1.6M1625,513.3h1.6M1657,513.3h1.6M1685.8,513.3h1.6M1748.2,513.3h1.6M1786.6,513.3h1.6M1057,524.7h1.6M1066.6,524.7h1.6M1077.8,524.7h1.6M1082.6,524.7h1.6M1089,524.7h3.2M1105,524.7h1.6M1109.8,524.7h1.6M1116.2,524.7h1.6M1132.2,524.7h1.6M1154.6,524.7h1.6M1159.4,524.7h1.6M1172.2,524.7h1.6M1178.6,524.7h1.6M1196.2,524.7h1.6M1205.8,524.7h1.6M1212.2,524.7h1.6M1223.4,524.7h4.8M1229.8,524.7h1.6M1234.6,524.7h1.6M1247.4,524.7h1.6M1250.6,524.7h1.6M1263.4,524.7h1.6M1268.2,524.7h1.6M1271.4,524.7h1.6M1285.8,524.7h1.6M1290.6,524.7h1.6M1303.4,524.7h1.6M1306.6,524.7h1.6M1330.6,524.7h1.6M1351.4,524.7h3.2M1359.4,524.7h1.6M1367.4,524.7h1.6M1380.2,524.7h1.6M1385,524.7h1.6M1429.8,524.7h1.6M1434.6,524.7h1.6M1442.6,524.7h1.6M1461.8,524.7h1.6M1509.8,524.7h1.6M1529,524.7h1.6M1548.2,524.7h3.2M1569,524.7h1.6M1577,524.7h1.6M1581.8,524.7h3.2M1594.6,524.7h1.6M1597.8,524.7h1.6M1602.6,524.7h1.6M1621.8,524.7h1.6M1633,524.7h1.6M1636.2,524.7h4.8M1681,524.7h1.6M1711.4,524.7h1.6M1749.8,524.7h1.6M1753,524.7h1.6M1769,524.7h1.6M1777,524.7h1.6M1788.2,524.7h1.6M1791.4,524.7h3.2M1797.8,524.7h1.6M1802.6,524.7h1.6M1820.2,524.7h1.6M1121,536.1h1.6M1149.8,536.1h1.6M1165.8,536.1h1.6M1185,536.1h1.6M1189.8,536.1h1.6M1194.6,536.1h1.6M1197.8,536.1h1.6M1205.8,536.1h1.6M1210.6,536.1h1.6M1297,536.1h1.6M1337,536.1h1.6M1354.6,536.1h1.6M1378.6,536.1h1.6M1383.4,536.1h1.6M1415.4,536.1h1.6M1431.4,536.1h1.6M1477.8,536.1h1.6M1501.8,536.1h1.6M1532.2,536.1h1.6M1607.4,536.1h1.6M1613.8,536.1h1.6M1621.8,536.1h1.6M1650.6,536.1h1.6M1757.8,536.1h1.6M1770.6,536.1h3.2M1780.2,536.1h1.6M1802.6,536.1h1.6M1057,547.5h3.2M1077.8,547.5h1.6M1089,547.5h1.6M1093.8,547.5h3.2M1119.4,547.5h1.6M1122.6,547.5h1.6M1149.8,547.5h1.6M1161,547.5h1.6M1188.2,547.5h1.6M1205.8,547.5h1.6M1210.6,547.5h1.6M1257,547.5h1.6M1261.8,547.5h1.6M1290.6,547.5h1.6M1301.8,547.5h3.2M1354.6,547.5h1.6M1369,547.5h1.6M1426.6,547.5h3.2M1442.6,547.5h1.6M1461.8,547.5h1.6M1476.2,547.5h1.6M1479.4,547.5h1.6M1572.2,547.5h1.6M1605.8,547.5h1.6M1620.2,547.5h1.6M1706.6,547.5h1.6M1716.2,547.5h1.6M1727.4,547.5h1.6M1772.2,547.5h1.6M1785,547.5h1.6M1066.6,558.9h3.2M1077.8,558.9h1.6M1100.2,558.9h1.6M1129,558.9h3.2M1156.2,558.9h1.6M1159.4,558.9h1.6M1225,558.9h1.6M1236.2,558.9h3.2M1249,558.9h1.6M1303.4,558.9h1.6M1309.8,558.9h1.6M1340.2,558.9h1.6M1349.8,558.9h1.6M1370.6,558.9h1.6M1396.2,558.9h1.6M1413.8,558.9h3.2M1441,558.9h1.6M1449,558.9h1.6M1505,558.9h1.6M1521,558.9h1.6M1573.8,558.9h1.6M1737,558.9h1.6M1746.6,558.9h1.6M1757.8,558.9h1.6M1775.4,558.9h1.6M1780.2,558.9h1.6M1785,558.9h1.6M1799.4,558.9h1.6M1073,570.3h1.6M1084.2,570.3h1.6M1097,570.3h1.6M1114.6,570.3h1.6M1135.4,570.3h1.6M1138.6,570.3h1.6M1156.2,570.3h1.6M1162.6,570.3h1.6M1177,570.3h1.6M1180.2,570.3h1.6M1186.6,570.3h1.6M1207.4,570.3h1.6M1213.8,570.3h1.6M1252.2,570.3h1.6M1261.8,570.3h1.6M1276.2,570.3h1.6M1293.8,570.3h1.6M1297,570.3h3.2M1319.4,570.3h1.6M1335.4,570.3h1.6M1346.6,570.3h1.6M1354.6,570.3h1.6M1377,570.3h1.6M1386.6,570.3h1.6M1396.2,570.3h1.6M1409,570.3h1.6M1417,570.3h1.6M1429.8,570.3h1.6M1441,570.3h1.6M1458.6,570.3h1.6M1485.8,570.3h1.6M1527.4,570.3h1.6M1532.2,570.3h1.6M1537,570.3h1.6M1543.4,570.3h1.6M1561,570.3h1.6M1588.2,570.3h1.6M1773.8,570.3h1.6M1788.2,570.3h1.6M1793,570.3h1.6M1828.2,570.3h1.6M1057,581.7h1.6M1066.6,581.7h3.2M1077.8,581.7h1.6M1132.2,581.7h1.6M1157.8,581.7h1.6M1172.2,581.7h1.6M1175.4,581.7h1.6M1178.6,581.7h1.6M1188.2,581.7h1.6M1209,581.7h1.6M1236.2,581.7h1.6M1257,581.7h1.6M1266.6,581.7h1.6M1269.8,581.7h1.6M1311.4,581.7h1.6M1330.6,581.7h1.6M1338.6,581.7h1.6M1345,581.7h1.6M1375.4,581.7h1.6M1393,581.7h1.6M1407.4,581.7h1.6M1413.8,581.7h1.6M1439.4,581.7h1.6M1445.8,581.7h1.6M1477.8,581.7h1.6M1482.6,581.7h1.6M1490.6,581.7h1.6M1524.2,581.7h1.6M1530.6,581.7h1.6M1569,581.7h3.2M1591.4,581.7h1.6M1599.4,581.7h1.6M1604.2,581.7h1.6M1609,581.7h1.6M1759.4,581.7h1.6M1781.8,581.7h1.6M1786.6,581.7h1.6M1796.2,581.7h1.6M1801,581.7h1.6M1113,604.5h1.6M1130.6,604.5h1.6M1218.6,604.5h1.6M1060.2,615.9h1.6M1375.4,615.9h1.6M1633,615.9h1.6M1685.8,615.9h1.6M1775.4,615.9h1.6M1111.4,627.3h1.6M1377,627.3h1.6M1577,627.3h1.6M1649,627.3h3.2M1073,638.7h1.6M1199.4,638.7h1.6M1359.4,638.7h1.6M1369,638.7h1.6M1434.6,638.7h1.6M1482.6,638.7h1.6M1500.2,638.7h1.6M1525.8,638.7h1.6M1705,638.7h1.6M1756.2,638.7h1.6M1575.4,650.1h1.6M1057,661.5h1.6M1076.2,661.5h1.6M1092.2,661.5h1.6M1130.6,661.5h1.6M1146.6,661.5h1.6M1154.6,661.5h1.6M1159.4,661.5h1.6M1180.2,661.5h1.6M1221.8,661.5h1.6M1241,661.5h1.6M1250.6,661.5h1.6M1255.4,661.5h1.6M1263.4,661.5h1.6M1295.4,661.5h1.6M1346.6,661.5h1.6M1369,661.5h1.6M1537,661.5h1.6M1597.8,661.5h1.6M1674.6,661.5h1.6M1719.4,661.5h1.6M1730.6,661.5h1.6M1188.2,672.9h1.6M1218.6,672.9h1.6M1226.6,672.9h1.6M1241,672.9h1.6M1271.4,672.9h1.6M1386.6,672.9h1.6M1431.4,672.9h1.6M1479.4,672.9h1.6M1532.2,672.9h1.6M1634.6,672.9h1.6M1757.8,672.9h1.6M1761,672.9h1.6M1783.4,672.9h1.6M1201,684.3h1.6M1345,684.3h1.6M1594.6,684.3h1.6M1065,695.7h1.6M1100.2,695.7h1.6M1282.6,695.7h1.6M1292.2,695.7h1.6M1357.8,695.7h1.6M1540.2,695.7h1.6M1586.6,695.7h1.6M1730.6,695.7h1.6M1737,695.7h1.6M1820.2,695.7h1.6" stroke="#ffbca0" stroke-width="11.7" fill="none"/>
<path d="M1060.2,91.5h4.8M1068.2,91.5h1.6M1077.8,91.5h1.6M1082.6,91.5h1.6M1087.4,91.5h1.6M1090.6,91.5h1.6M1105,91.5h1.6M1114.6,91.5h1.6M1119.4,91.5h1.6M1148.2,91.5h1.6M1154.6,91.5h1.6M1170.6,91.5h3.2M1186.6,91.5h1.6M1196.2,91.5h1.6M1236.2,91.5h1.6M1263.4,91.5h1.6M1300.2,91.5h1.6M1316.2,91.5h1.6M1319.4,91.5h1.6M1340.2,91.5h1.6M1348.2,91.5h1.6M1359.4,91.5h3.2M1373.8,91.5h1.6M1559.4,91.5h1.6M1578.6,91.5h1.6M1602.6,91.5h1.6M1610.6,91.5h1.6M1629.8,91.5h1.6M1637.8,91.5h1.6M1759.4,91.5h1.6M1781.8,91.5h1.6M1809,91.5h1.6M1057,102.9h1.6M1106.6,102.9h1.6M1129,102.9h1.6M1133.8,102.9h1.6M1137,102.9h1.6M1140.2,102.9h1.6M1156.2,102.9h3.2M1175.4,102.9h3.2M1199.4,102.9h1.6M1202.6,102.9h1.6M1210.6,102.9h1.6M1244.2,102.9h1.6M1266.6,102.9h1.6M1276.2,102.9h1.6M1301.8,102.9h1.6M1309.8,102.9h1.6M1317.8,102.9h1.6M1321,102.9h1.6M1335.4,102.9h1.6M1345,102.9h1.6M1354.6,102.9h1.6M1369,102.9h1.6M1383.4,102.9h1.6M1409,102.9h1.6M1439.4,102.9h1.6M1485.8,102.9h1.6M1505,102.9h1.6M1519.4,102.9h1.6M1532.2,102.9h1.6M1573.8,102.9h1.6M1597.8,102.9h1.6M1601,102.9h1.6M1620.2,102.9h1.6M1623.4,102.9h1.6M1665,102.9h1.6M1810.6,102.9h3.2M1826.6,102.9h1.6M1833,102.9h1.6M1060.2,114.3h3.2M1125.8,114.3h1.6M1135.4,114.3h1.6M1153,114.3h1.6M1162.6,114.3h1.6M1165.8,114.3h1.6M1175.4,114.3h1.6M1188.2,114.3h1.6M1205.8,114.3h1.6M1228.2,114.3h1.6M1242.6,114.3h1.6M1252.2,114.3h1.6M1255.4,114.3h1.6M1263.4,114.3h1.6M1279.4,114.3h1.6M1321,114.3h1.6M1338.6,114.3h1.6M1349.8,114.3h1.6M1353,114.3h1.6M1356.2,114.3h1.6M1359.4,114.3h1.6M1370.6,114.3h1.6M1391.4,114.3h1.6M1449,114.3h1.6M1484.2,114.3h1.6M1522.6,114.3h1.6M1545,114.3h3.2M1564.2,114.3h1.6M1577,114.3h1.6M1625,114.3h1.6M1764.2,114.3h1.6M1781.8,114.3h1.6M1802.6,114.3h1.6M1825,114.3h1.6M1828.2,114.3h1.6M1834.6,114.3h1.6M1077.8,125.7h1.6M1081,125.7h1.6M1089,125.7h1.6M1103.4,125.7h1.6M1109.8,125.7h3.2M1117.8,125.7h1.6M1124.2,125.7h1.6M1127.4,125.7h1.6M1135.4,125.7h1.6M1161,125.7h1.6M1169,125.7h4.8M1175.4,125.7h1.6M1178.6,125.7h1.6M1199.4,125.7h1.6M1220.2,125.7h1.6M1225,125.7h4.8M1237.8,125.7h1.6M1241,125.7h1.6M1245.8,125.7h1.6M1255.4,125.7h1.6M1261.8,125.7h3.2M1301.8,125.7h1.6M1306.6,125.7h1.6M1309.8,125.7h1.6M1316.2,125.7h1.6M1330.6,125.7h1.6M1353,125.7h1.6M1365.8,125.7h3.2M1389.8,125.7h1.6M1479.4,125.7h1.6M1506.6,125.7h1.6M1519.4,125.7h1.6M1541.8,125.7h1.6M1564.2,125.7h1.6M1594.6,125.7h1.6M1601,125.7h1.6M1607.4,125.7h1.6M1631.4,125.7h3.2M1653.8,125.7h1.6M1657,125.7h3.2M1671.4,125.7h1.6M1697,125.7h1.6M1775.4,125.7h1.6M1060.2,137.1h1.6M1082.6,137.1h1.6M1097,137.1h1.6M1100.2,137.1h1.6M1108.2,137.1h1.6M1133.8,137.1h1.6M1145,137.1h1.6M1159.4,137.1h1.6M1175.4,137.1h3.2M1180.2,137.1h1.6M1197.8,137.1h1.6M1204.2,137.1h1.6M1217,137.1h1.6M1225,137.1h1.6M1231.4,137.1h1.6M1237.8,137.1h1.6M1242.6,137.1h1.6M1252.2,137.1h1.6M1265,137.1h1.6M1274.6,137.1h1.6M1284.2,137.1h1.6M1298.6,137.1h1.6M1319.4,137.1h1.6M1337,137.1h3.2M1353,137.1h3.2M1362.6,137.1h4.8M1591.4,137.1h1.6M1612.2,137.1h1.6M1642.6,137.1h1.6M1690.6,137.1h1.6M1719.4,137.1h1.6M1733.8,137.1h1.6M1775.4,137.1h1.6M1791.4,137.1h1.6M1796.2,137.1h1.6M1802.6,137.1h1.6M1057,148.5h1.6M1060.2,148.5h1.6M1076.2,148.5h1.6M1079.4,148.5h1.6M1121,148.5h1.6M1127.4,148.5h1.6M1135.4,148.5h1.6M1146.6,148.5h1.6M1183.4,148.5h1.6M1215.4,148.5h1.6M1218.6,148.5h1.6M1221.8,148.5h1.6M1231.4,148.5h3.2M1237.8,148.5h1.6M1249,148.5h1.6M1268.2,148.5h3.2M1273,148.5h3.2M1281,148.5h1.6M1284.2,148.5h1.6M1292.2,148.5h1.6M1306.6,148.5h1.6M1313,148.5h1.6M1316.2,148.5h1.6M1332.2,148.5h1.6M1337,148.5h1.6M1343.4,148.5h1.6M1346.6,148.5h1.6M1351.4,148.5h1.6M1361,148.5h1.6M1373.8,148.5h1.6M1420.2,148.5h1.6M1444.2,148.5h1.6M1460.2,148.5h1.6M1487.4,148.5h1.6M1513,148.5h1.6M1527.4,148.5h1.6M1561,148.5h1.6M1636.2,148.5h1.6M1655.4,148.5h1.6M1671.4,148.5h1.6M1836.2,148.5h1.6M1074.6,159.9h1.6M1090.6,159.9h1.6M1125.8,159.9h1.6M1170.6,159.9h1.6M1177,159.9h1.6M1245.8,159.9h1.6M1282.6,159.9h1.6M1300.2,159.9h1.6M1314.6,159.9h1.6M1325.8,159.9h1.6M1333.8,159.9h1.6M1359.4,159.9h1.6M1378.6,159.9h1.6M1381.8,159.9h1.6M1385,159.9h1.6M1402.6,159.9h1.6M1407.4,159.9h1.6M1471.4,159.9h1.6M1481,159.9h1.6M1508.2,159.9h1.6M1575.4,159.9h1.6M1607.4,159.9h1.6M1650.6,159.9h1.6M1700.2,159.9h1.6M1729,159.9h1.6M1753,159.9h1.6M1765.8,159.9h1.6M1793,159.9h1.6M1797.8,159.9h1.6M1829.8,159.9h1.6M1837.8,159.9h1.6M1081,171.3h1.6M1141.8,171.3h1.6M1145,171.3h1.6M1159.4,171.3h1.6M1212.2,171.3h1.6M1223.4,171.3h1.6M1241,171.3h1.6M1250.6,171.3h1.6M1274.6,171.3h1.6M1281,171.3h1.6M1330.6,171.3h1.6M1335.4,171.3h1.6M1357.8,171.3h1.6M1367.4,171.3h1.6M1399.4,171.3h1.6M1421.8,171.3h1.6M1479.4,171.3h1.6M1489,171.3h1.6M1493.8,171.3h1.6M1695.4,171.3h1.6M1705,171.3h1.6M1716.2,171.3h1.6M1780.2,171.3h1.6M1791.4,171.3h1.6M1807.4,171.3h1.6M1077.8,182.7h1.6M1090.6,182.7h1.6M1093.8,182.7h3.2M1105,182.7h1.6M1111.4,182.7h1.6M1124.2,182.7h1.6M1132.2,182.7h1.6M1161,182.7h1.6M1165.8,182.7h3.2M1175.4,182.7h1.6M1181.8,182.7h1.6M1196.2,182.7h1.6M1205.8,182.7h1.6M1212.2,182.7h1.6M1215.4,182.7h1.6M1233,182.7h1.6M1242.6,182.7h1.6M1253.8,182.7h3.2M1260.2,182.7h1.6M1277.8,182.7h1.6M1287.4,182.7h1.6M1292.2,182.7h1.6M1306.6,182.7h1.6M1322.6,182.7h1.6M1325.8,182.7h1.6M1349.8,182.7h1.6M1383.4,182.7h1.6M1524.2,182.7h1.6M1567.4,182.7h1.6M1625,182.7h1.6M1641,182.7h1.6M1657,182.7h1.6M1682.6,182.7h1.6M1708.2,182.7h1.6M1717.8,182.7h3.2M1735.4,182.7h1.6M1765.8,182.7h1.6M1770.6,182.7h1.6M1801,182.7h1.6M1815.4,182.7h1.6M1823.4,182.7h1.6M1401,194.1h1.6M1405.8,194.1h1.6M1437.8,194.1h1.6M1517.8,194.1h1.6M1399.4,205.5h1.6M1429.8,205.5h3.2M1444.2,205.5h1.6M1468.2,205.5h1.6M1503.4,205.5h1.6M1513,205.5h1.6M1516.2,205.5h3.2M1794.6,205.5h1.6M1081,216.9h1.6M1148.2,216.9h1.6M1201,216.9h1.6M1357.8,216.9h1.6M1391.4,216.9h1.6M1409,216.9h1.6M1423.4,216.9h1.6M1450.6,216.9h1.6M1700.2,216.9h1.6M1061.8,228.3h1.6M1135.4,228.3h1.6M1183.4,228.3h1.6M1241,228.3h1.6M1466.6,228.3h1.6M1476.2,228.3h1.6M1501.8,228.3h1.6M1764.2,228.3h1.6M1394.6,239.7h1.6M1402.6,239.7h1.6M1447.4,239.7h1.6M1461.8,239.7h1.6M1484.2,239.7h3.2M1173.8,251.1h1.6M1215.4,251.1h1.6M1340.2,251.1h1.6M1405.8,251.1h1.6M1431.4,251.1h1.6M1445.8,251.1h1.6M1489,251.1h3.2M1503.4,251.1h1.6M1506.6,251.1h1.6M1511.4,251.1h1.6M1516.2,251.1h1.6M1588.2,251.1h1.6M1597.8,251.1h1.6M1636.2,251.1h1.6M1725.8,251.1h1.6M1767.4,251.1h1.6M1770.6,251.1h1.6M1090.6,262.5h3.2M1218.6,262.5h1.6M1273,262.5h1.6M1298.6,262.5h1.6M1325.8,262.5h1.6M1389.8,262.5h1.6M1394.6,262.5h1.6M1409,262.5h3.2M1418.6,262.5h1.6M1429.8,262.5h1.6M1437.8,262.5h1.6M1458.6,262.5h4.8M1465,262.5h3.2M1469.8,262.5h1.6M1477.8,262.5h1.6M1492.2,262.5h1.6M1497,262.5h3.2M1508.2,262.5h1.6M1513,262.5h1.6M1517.8,262.5h3.2M1559.4,262.5h1.6M1633,262.5h1.6M1653.8,262.5h1.6M1665,262.5h1.6M1775.4,262.5h1.6M1065,273.9h1.6M1119.4,273.9h1.6M1129,273.9h1.6M1137,273.9h1.6M1172.2,273.9h1.6M1215.4,273.9h1.6M1389.8,273.9h1.6M1393,273.9h1.6M1396.2,273.9h1.6M1399.4,273.9h1.6M1404.2,273.9h1.6M1407.4,273.9h1.6M1423.4,273.9h4.8M1429.8,273.9h1.6M1437.8,273.9h1.6M1455.4,273.9h4.8M1477.8,273.9h1.6M1481,273.9h1.6M1484.2,273.9h1.6M1489,273.9h3.2M1493.8,273.9h3.2M1498.6,273.9h1.6M1508.2,273.9h3.2M1521,273.9h1.6M1527.4,273.9h1.6M1530.6,273.9h1.6M1594.6,273.9h1.6M1681,273.9h1.6M1690.6,273.9h1.6M1084.2,285.3h1.6M1108.2,285.3h1.6M1117.8,285.3h1.6M1148.2,285.3h1.6M1191.4,285.3h1.6M1231.4,285.3h1.6M1300.2,285.3h1.6M1322.6,285.3h1.6M1365.8,285.3h1.6M1393,285.3h1.6M1397.8,285.3h1.6M1402.6,285.3h1.6M1409,285.3h1.6M1415.4,285.3h1.6M1421.8,285.3h1.6M1429.8,285.3h1.6M1434.6,285.3h1.6M1439.4,285.3h1.6M1445.8,285.3h3.2M1452.2,285.3h1.6M1465,285.3h1.6M1468.2,285.3h1.6M1481,285.3h1.6M1489,285.3h1.6M1495.4,285.3h1.6M1530.6,285.3h1.6M1658.6,285.3h3.2M1666.6,285.3h1.6M1722.6,285.3h1.6M1735.4,285.3h1.6M1775.4,285.3h1.6M1388.2,296.7h1.6M1465,296.7h1.6M1492.2,296.7h1.6M1533.8,308.1h1.6M1543.4,308.1h1.6M1557.8,308.1h1.6M1609,308.1h1.6M1084.2,319.5h1.6M1093.8,319.5h1.6M1105,319.5h1.6M1292.2,319.5h1.6M1380.2,319.5h1.6M1578.6,319.5h1.6M1633,319.5h1.6M1637.8,319.5h1.6M1767.4,319.5h1.6M1778.6,319.5h1.6M1821.8,319.5h1.6M1836.2,319.5h1.6M1066.6,330.9h1.6M1111.4,330.9h1.6M1202.6,330.9h1.6M1282.6,330.9h1.6M1730.6,330.9h1.6M1076.2,342.3h1.6M1207.4,342.3h1.6M1269.8,342.3h1.6M1348.2,342.3h1.6M1433,342.3h1.6M1525.8,342.3h1.6M1565.8,342.3h1.6M1591.4,342.3h1.6M1605.8,342.3h1.6M1698.6,342.3h1.6M1809,342.3h1.6M1637.8,353.7h1.6M1071.4,365.1h1.6M1085.8,365.1h1.6M1093.8,365.1h1.6M1129,365.1h1.6M1292.2,365.1h1.6M1316.2,365.1h1.6M1373.8,365.1h1.6M1541.8,365.1h1.6M1564.2,365.1h1.6M1618.6,365.1h1.6M1626.6,365.1h1.6M1666.6,365.1h1.6M1687.4,365.1h1.6M1804.2,365.1h3.2M1061.8,376.5h1.6M1108.2,376.5h1.6M1114.6,376.5h1.6M1233,376.5h1.6M1250.6,376.5h1.6M1261.8,376.5h1.6M1277.8,376.5h1.6M1306.6,376.5h1.6M1325.8,376.5h1.6M1335.4,376.5h1.6M1359.4,376.5h1.6M1383.4,376.5h1.6M1401,376.5h1.6M1452.2,376.5h1.6M1468.2,376.5h1.6M1481,376.5h1.6M1492.2,376.5h1.6M1516.2,376.5h1.6M1524.2,376.5h1.6M1529,376.5h1.6M1538.6,376.5h1.6M1543.4,376.5h1.6M1549.8,376.5h1.6M1607.4,376.5h1.6M1623.4,376.5h1.6M1642.6,376.5h1.6M1679.4,376.5h1.6M1687.4,376.5h1.6M1717.8,376.5h1.6M1780.2,376.5h1.6M1089,387.9h1.6M1103.4,387.9h1.6M1201,387.9h1.6M1212.2,387.9h1.6M1223.4,387.9h1.6M1237.8,387.9h1.6M1266.6,387.9h1.6M1279.4,387.9h1.6M1305,387.9h1.6M1324.2,387.9h1.6M1354.6,387.9h1.6M1369,387.9h1.6M1375.4,387.9h3.2M1409,387.9h1.6M1428.2,387.9h1.6M1437.8,387.9h1.6M1441,387.9h1.6M1466.6,387.9h1.6M1497,387.9h1.6M1513,387.9h1.6M1532.2,387.9h1.6M1581.8,387.9h1.6M1589.8,387.9h1.6M1620.2,387.9h1.6M1628.2,387.9h1.6M1676.2,387.9h1.6M1730.6,387.9h1.6M1756.2,387.9h1.6M1772.2,387.9h1.6M1802.6,387.9h1.6M1077.8,399.3h1.6M1106.6,399.3h1.6M1121,399.3h1.6M1145,399.3h1.6M1167.4,399.3h1.6M1202.6,399.3h1.6M1269.8,399.3h1.6M1281,399.3h1.6M1290.6,399.3h1.6M1332.2,399.3h1.6M1393,399.3h1.6M1463.4,399.3h1.6M1529,399.3h1.6M1532.2,399.3h1.6M1682.6,399.3h1.6M1701.8,399.3h1.6M1740.2,399.3h3.2M1786.6,399.3h1.6M1111.4,410.7h1.6M1119.4,410.7h3.2M1124.2,410.7h1.6M1130.6,410.7h1.6M1135.4,410.7h1.6M1141.8,410.7h1.6M1145,410.7h1.6M1191.4,410.7h1.6M1234.6,410.7h1.6M1242.6,410.7h1.6M1247.4,410.7h1.6M1258.6,410.7h1.6M1271.4,410.7h1.6M1279.4,410.7h1.6M1284.2,410.7h1.6M1289,410.7h1.6M1292.2,410.7h1.6M1295.4,410.7h1.6M1319.4,410.7h1.6M1325.8,410.7h1.6M1343.4,410.7h1.6M1353,410.7h1.6M1356.2,410.7h1.6M1423.4,410.7h1.6M1449,410.7h1.6M1530.6,410.7h1.6M1537,410.7h1.6M1548.2,410.7h1.6M1559.4,410.7h1.6M1585,410.7h1.6M1588.2,410.7h1.6M1594.6,410.7h1.6M1604.2,410.7h1.6M1609,410.7h4.8M1615.4,410.7h1.6M1621.8,410.7h1.6M1634.6,410.7h1.6M1637.8,410.7h1.6M1716.2,410.7h3.2M1721,410.7h1.6M1759.4,410.7h1.6M1772.2,410.7h1.6M1793,410.7h1.6M1805.8,410.7h1.6M1076.2,422.1h1.6M1092.2,422.1h1.6M1109.8,422.1h1.6M1117.8,422.1h1.6M1137,422.1h1.6M1151.4,422.1h1.6M1170.6,422.1h1.6M1175.4,422.1h1.6M1193,422.1h1.6M1212.2,422.1h1.6M1247.4,422.1h1.6M1266.6,422.1h1.6M1292.2,422.1h1.6M1298.6,422.1h1.6M1309.8,422.1h1.6M1324.2,422.1h1.6M1329,422.1h1.6M1332.2,422.1h1.6M1372.2,422.1h1.6M1527.4,422.1h1.6M1545,422.1h1.6M1559.4,422.1h1.6M1572.2,422.1h1.6M1581.8,422.1h1.6M1589.8,422.1h1.6M1599.4,422.1h1.6M1605.8,422.1h1.6M1613.8,422.1h1.6M1621.8,422.1h3.2M1631.4,422.1h1.6M1658.6,422.1h1.6M1681,422.1h1.6M1692.2,422.1h1.6M1698.6,422.1h1.6M1701.8,422.1h1.6M1714.6,422.1h1.6M1717.8,422.1h3.2M1729,422.1h1.6M1740.2,422.1h1.6M1777,422.1h3.2M1785,422.1h1.6M1812.2,422.1h1.6M1829.8,422.1h1.6M1836.2,422.1h1.6M1065,433.5h1.6M1106.6,433.5h1.6M1116.2,433.5h1.6M1119.4,433.5h1.6M1143.4,433.5h1.6M1153,433.5h1.6M1161,433.5h1.6M1181.8,433.5h1.6M1188.2,433.5h1.6M1199.4,433.5h1.6M1215.4,433.5h1.6M1220.2,433.5h1.6M1249,433.5h1.6M1269.8,433.5h1.6M1301.8,433.5h1.6M1309.8,433.5h1.6M1313,433.5h1.6M1343.4,433.5h1.6M1356.2,433.5h3.2M1370.6,433.5h1.6M1394.6,433.5h1.6M1449,433.5h1.6M1490.6,433.5h1.6M1533.8,433.5h1.6M1559.4,433.5h3.2M1580.2,433.5h1.6M1585,433.5h1.6M1588.2,433.5h1.6M1612.2,433.5h1.6M1618.6,433.5h1.6M1645.8,433.5h1.6M1650.6,433.5h1.6M1653.8,433.5h1.6M1709.8,433.5h1.6M1735.4,433.5h1.6M1745,433.5h1.6M1770.6,433.5h1.6M1777,433.5h1.6M1812.2,433.5h1.6M1833,433.5h1.6M1087.4,444.9h1.6M1092.2,444.9h1.6M1121,444.9h1.6M1148.2,444.9h1.6M1172.2,444.9h1.6M1175.4,444.9h1.6M1193,444.9h1.6M1210.6,444.9h1.6M1215.4,444.9h1.6M1231.4,444.9h1.6M1237.8,444.9h1.6M1250.6,444.9h1.6M1258.6,444.9h1.6M1273,444.9h1.6M1277.8,444.9h1.6M1287.4,444.9h1.6M1308.2,444.9h1.6M1341.8,444.9h1.6M1367.4,444.9h3.2M1415.4,444.9h1.6M1505,444.9h1.6M1525.8,444.9h1.6M1532.2,444.9h1.6M1543.4,444.9h1.6M1546.6,444.9h3.2M1551.4,444.9h1.6M1570.6,444.9h1.6M1612.2,444.9h1.6M1615.4,444.9h1.6M1634.6,444.9h3.2M1641,444.9h1.6M1649,444.9h1.6M1677.8,444.9h1.6M1692.2,444.9h1.6M1717.8,444.9h3.2M1732.2,444.9h1.6M1773.8,444.9h1.6M1805.8,444.9h3.2M1058.6,456.3h1.6M1065,456.3h1.6M1071.4,456.3h1.6M1076.2,456.3h1.6M1084.2,456.3h1.6M1087.4,456.3h3.2M1111.4,456.3h1.6M1116.2,456.3h1.6M1127.4,456.3h1.6M1151.4,456.3h1.6M1154.6,456.3h1.6M1205.8,456.3h1.6M1239.4,456.3h6.4M1289,456.3h1.6M1333.8,456.3h1.6M1337,456.3h1.6M1357.8,456.3h1.6M1380.2,456.3h3.2M1410.6,456.3h1.6M1413.8,456.3h1.6M1453.8,456.3h1.6M1458.6,456.3h1.6M1465,456.3h1.6M1481,456.3h1.6M1509.8,456.3h1.6M1519.4,456.3h1.6M1570.6,456.3h1.6M1607.4,456.3h3.2M1628.2,456.3h3.2M1661.8,456.3h1.6M1665,456.3h3.2M1682.6,456.3h1.6M1693.8,456.3h1.6M1698.6,456.3h1.6M1716.2,456.3h1.6M1757.8,456.3h1.6M1761,456.3h1.6M1820.2,456.3h3.2M1826.6,456.3h1.6M1060.2,467.7h1.6M1063.4,467.7h1.6M1079.4,467.7h1.6M1082.6,467.7h1.6M1106.6,467.7h1.6M1113,467.7h1.6M1127.4,467.7h1.6M1130.6,467.7h1.6M1161,467.7h1.6M1172.2,467.7h1.6M1193,467.7h1.6M1247.4,467.7h1.6M1260.2,467.7h1.6M1300.2,467.7h3.2M1321,467.7h1.6M1333.8,467.7h1.6M1343.4,467.7h1.6M1356.2,467.7h1.6M1367.4,467.7h1.6M1375.4,467.7h1.6M1386.6,467.7h1.6M1421.8,467.7h1.6M1541.8,467.7h1.6M1551.4,467.7h1.6M1565.8,467.7h1.6M1570.6,467.7h1.6M1573.8,467.7h4.8M1580.2,467.7h1.6M1610.6,467.7h1.6M1631.4,467.7h1.6M1639.4,467.7h1.6M1657,467.7h1.6M1661.8,467.7h1.6M1676.2,467.7h1.6M1679.4,467.7h1.6M1737,467.7h1.6M1810.6,467.7h1.6M1065,479.1h1.6M1071.4,479.1h1.6M1077.8,479.1h1.6M1138.6,479.1h1.6M1149.8,479.1h1.6M1154.6,479.1h1.6M1210.6,479.1h1.6M1274.6,479.1h1.6M1282.6,479.1h1.6M1309.8,479.1h3.2M1314.6,479.1h1.6M1337,479.1h1.6M1343.4,479.1h1.6M1349.8,479.1h1.6M1369,479.1h1.6M1372.2,479.1h4.8M1381.8,479.1h1.6M1423.4,479.1h1.6M1546.6,479.1h1.6M1553,479.1h1.6M1589.8,479.1h1.6M1597.8,479.1h1.6M1612.2,479.1h1.6M1660.2,479.1h1.6M1669.8,479.1h1.6M1676.2,479.1h1.6M1679.4,479.1h1.6M1708.2,479.1h1.6M1717.8,479.1h1.6M1730.6,479.1h1.6M1797.8,479.1h1.6M1061.8,490.5h1.6M1073,490.5h1.6M1082.6,490.5h1.6M1100.2,490.5h1.6M1106.6,490.5h1.6M1109.8,490.5h1.6M1116.2,490.5h1.6M1122.6,490.5h1.6M1135.4,490.5h1.6M1138.6,490.5h1.6M1141.8,490.5h1.6M1146.6,490.5h1.6M1151.4,490.5h3.2M1161,490.5h1.6M1164.2,490.5h3.2M1180.2,490.5h1.6M1218.6,490.5h1.6M1234.6,490.5h1.6M1244.2,490.5h1.6M1250.6,490.5h1.6M1263.4,490.5h1.6M1268.2,490.5h3.2M1279.4,490.5h1.6M1292.2,490.5h1.6M1295.4,490.5h3.2M1306.6,490.5h1.6M1319.4,490.5h1.6M1338.6,490.5h3.2M1343.4,490.5h1.6M1354.6,490.5h3.2M1370.6,490.5h3.2M1386.6,490.5h1.6M1393,490.5h1.6M1442.6,490.5h1.6M1463.4,490.5h1.6M1469.8,490.5h1.6M1532.2,490.5h1.6M1538.6,490.5h3.2M1567.4,490.5h1.6M1597.8,490.5h1.6M1604.2,490.5h1.6M1607.4,490.5h3.2M1631.4,490.5h1.6M1634.6,490.5h1.6M1650.6,490.5h1.6M1653.8,490.5h1.6M1689,490.5h1.6M1693.8,490.5h1.6M1701.8,490.5h1.6M1729,490.5h1.6M1743.4,490.5h1.6M1802.6,490.5h1.6M1082.6,501.9h1.6M1108.2,501.9h1.6M1140.2,501.9h1.6M1177,501.9h1.6M1196.2,501.9h1.6M1212.2,501.9h1.6M1325.8,501.9h1.6M1332.2,501.9h1.6M1335.4,501.9h1.6M1340.2,501.9h1.6M1380.2,501.9h1.6M1385,501.9h1.6M1388.2,501.9h1.6M1501.8,501.9h1.6M1577,501.9h1.6M1681,501.9h1.6M1772.2,501.9h1.6M1777,501.9h3.2M1788.2,501.9h1.6M1793,501.9h1.6M1087.4,513.3h1.6M1090.6,513.3h1.6M1097,513.3h1.6M1161,513.3h1.6M1269.8,513.3h1.6M1329,513.3h1.6M1437.8,513.3h1.6M1517.8,513.3h1.6M1721,513.3h1.6M1757.8,513.3h1.6M1770.6,513.3h1.6M1788.2,513.3h1.6M1815.4,513.3h1.6M1063.4,524.7h1.6M1071.4,524.7h1.6M1145,524.7h1.6M1164.2,524.7h1.6M1173.8,524.7h1.6M1181.8,524.7h1.6M1236.2,524.7h1.6M1253.8,524.7h1.6M1257,524.7h1.6M1297,524.7h1.6M1314.6,524.7h1.6M1332.2,524.7h1.6M1335.4,524.7h3.2M1383.4,524.7h1.6M1405.8,524.7h1.6M1453.8,524.7h1.6M1506.6,524.7h1.6M1562.6,524.7h1.6M1572.2,524.7h1.6M1585,524.7h1.6M1601,524.7h1.6M1609,524.7h1.6M1628.2,524.7h3.2M1653.8,524.7h1.6M1746.6,524.7h1.6M1754.6,524.7h1.6M1759.4,524.7h6.4M1767.4,524.7h1.6M1775.4,524.7h1.6M1780.2,524.7h3.2M1794.6,524.7h1.6M1057,536.1h1.6M1066.6,536.1h1.6M1081,536.1h1.6M1125.8,536.1h1.6M1153,536.1h1.6M1159.4,536.1h1.6M1162.6,536.1h1.6M1177,536.1h1.6M1180.2,536.1h1.6M1229.8,536.1h1.6M1247.4,536.1h1.6M1252.2,536.1h1.6M1261.8,536.1h1.6M1303.4,536.1h1.6M1311.4,536.1h1.6M1343.4,536.1h1.6M1346.6,536.1h1.6M1399.4,536.1h1.6M1418.6,536.1h1.6M1508.2,536.1h1.6M1538.6,536.1h1.6M1545,536.1h1.6M1564.2,536.1h1.6M1593,536.1h1.6M1605.8,536.1h1.6M1615.4,536.1h1.6M1625,536.1h1.6M1666.6,536.1h1.6M1751.4,536.1h3.2M1756.2,536.1h1.6M1775.4,536.1h1.6M1788.2,536.1h1.6M1797.8,536.1h1.6M1065,547.5h1.6M1073,547.5h1.6M1076.2,547.5h1.6M1079.4,547.5h1.6M1092.2,547.5h1.6M1135.4,547.5h1.6M1177,547.5h1.6M1189.8,547.5h1.6M1247.4,547.5h1.6M1277.8,547.5h1.6M1284.2,547.5h1.6M1329,547.5h1.6M1348.2,547.5h3.2M1361,547.5h1.6M1373.8,547.5h1.6M1391.4,547.5h1.6M1394.6,547.5h1.6M1397.8,547.5h1.6M1404.2,547.5h1.6M1418.6,547.5h1.6M1444.2,547.5h1.6M1450.6,547.5h1.6M1469.8,547.5h1.6M1473,547.5h1.6M1492.2,547.5h1.6M1500.2,547.5h1.6M1511.4,547.5h1.6M1522.6,547.5h1.6M1546.6,547.5h1.6M1564.2,547.5h1.6M1633,547.5h1.6M1669.8,547.5h1.6M1746.6,547.5h1.6M1762.6,547.5h1.6M1767.4,547.5h1.6M1775.4,547.5h1.6M1799.4,547.5h1.6M1063.4,558.9h3.2M1090.6,558.9h1.6M1097,558.9h3.2M1103.4,558.9h1.6M1122.6,558.9h1.6M1149.8,558.9h1.6M1164.2,558.9h1.6M1188.2,558.9h1.6M1220.2,558.9h1.6M1234.6,558.9h1.6M1245.8,558.9h1.6M1289,558.9h1.6M1393,558.9h1.6M1423.4,558.9h1.6M1444.2,558.9h1.6M1447.4,558.9h1.6M1455.4,558.9h1.6M1503.4,558.9h1.6M1509.8,558.9h3.2M1519.4,558.9h1.6M1615.4,558.9h1.6M1661.8,558.9h1.6M1754.6,558.9h1.6M1762.6,558.9h1.6M1069.8,570.3h1.6M1081,570.3h1.6M1095.4,570.3h1.6M1100.2,570.3h1.6M1111.4,570.3h1.6M1130.6,570.3h1.6M1146.6,570.3h1.6M1157.8,570.3h1.6M1193,570.3h1.6M1220.2,570.3h1.6M1236.2,570.3h1.6M1266.6,570.3h1.6M1281,570.3h1.6M1287.4,570.3h1.6M1290.6,570.3h1.6M1309.8,570.3h3.2M1330.6,570.3h1.6M1369,570.3h1.6M1375.4,570.3h1.6M1389.8,570.3h1.6M1394.6,570.3h1.6M1407.4,570.3h1.6M1415.4,570.3h1.6M1418.6,570.3h1.6M1461.8,570.3h3.2M1468.2,570.3h1.6M1482.6,570.3h1.6M1497,570.3h1.6M1546.6,570.3h1.6M1577,570.3h1.6M1601,570.3h3.2M1615.4,570.3h1.6M1620.2,570.3h1.6M1634.6,570.3h1.6M1637.8,570.3h1.6M1764.2,570.3h3.2M1772.2,570.3h1.6M1796.2,570.3h1.6M1081,581.7h1.6M1089,581.7h1.6M1095.4,581.7h1.6M1117.8,581.7h1.6M1121,581.7h1.6M1159.4,581.7h1.6M1170.6,581.7h1.6M1215.4,581.7h1.6M1221.8,581.7h1.6M1239.4,581.7h1.6M1273,581.7h1.6M1295.4,581.7h1.6M1300.2,581.7h1.6M1316.2,581.7h3.2M1351.4,581.7h1.6M1356.2,581.7h1.6M1369,581.7h1.6M1373.8,581.7h1.6M1378.6,581.7h1.6M1442.6,581.7h1.6M1463.4,581.7h1.6M1492.2,581.7h1.6M1509.8,581.7h1.6M1517.8,581.7h1.6M1522.6,581.7h1.6M1540.2,581.7h3.2M1553,581.7h1.6M1565.8,581.7h1.6M1578.6,581.7h1.6M1585,581.7h1.6M1597.8,581.7h1.6M1605.8,581.7h1.6M1612.2,581.7h1.6M1748.2,581.7h1.6M1751.4,581.7h1.6M1761,581.7h1.6M1772.2,581.7h1.6M1783.4,581.7h1.6M1794.6,581.7h1.6M1797.8,581.7h1.6M1828.2,581.7h1.6M1220.2,593.1h1.6M1399.4,593.1h1.6M1242.6,604.5h1.6M1257,604.5h1.6M1265,604.5h1.6M1289,604.5h1.6M1348.2,604.5h1.6M1257,615.9h1.6M1295.4,615.9h1.6M1570.6,615.9h1.6M1583.4,615.9h1.6M1698.6,615.9h1.6M1213.8,627.3h1.6M1332.2,627.3h1.6M1380.2,627.3h1.6M1535.4,627.3h1.6M1564.2,627.3h1.6M1604.2,627.3h1.6M1810.6,627.3h1.6M1068.2,638.7h1.6M1156.2,638.7h1.6M1193,638.7h1.6M1321,638.7h1.6M1348.2,638.7h1.6M1420.2,638.7h1.6M1441,638.7h1.6M1521,638.7h1.6M1644.2,638.7h1.6M1660.2,638.7h1.6M1689,638.7h1.6M1711.4,638.7h1.6M1759.4,638.7h1.6M1767.4,638.7h1.6M1802.6,638.7h1.6M1828.2,638.7h1.6M1297,650.1h1.6M1066.6,661.5h1.6M1074.6,661.5h1.6M1084.2,661.5h1.6M1113,661.5h1.6M1143.4,661.5h1.6M1151.4,661.5h1.6M1157.8,661.5h1.6M1186.6,661.5h1.6M1196.2,661.5h1.6M1242.6,661.5h1.6M1276.2,661.5h1.6M1306.6,661.5h1.6M1313,661.5h1.6M1319.4,661.5h1.6M1349.8,661.5h1.6M1364.2,661.5h1.6M1385,661.5h1.6M1575.4,661.5h1.6M1626.6,661.5h1.6M1637.8,661.5h1.6M1687.4,661.5h1.6M1705,661.5h1.6M1058.6,672.9h1.6M1084.2,672.9h1.6M1093.8,672.9h1.6M1125.8,672.9h1.6M1133.8,672.9h1.6M1165.8,672.9h1.6M1196.2,672.9h1.6M1234.6,672.9h1.6M1265,672.9h1.6M1292.2,672.9h1.6M1335.4,672.9h1.6M1370.6,672.9h1.6M1377,672.9h1.6M1381.8,672.9h1.6M1418.6,672.9h1.6M1487.4,672.9h1.6M1517.8,672.9h1.6M1540.2,672.9h1.6M1551.4,672.9h1.6M1583.4,672.9h1.6M1618.6,672.9h1.6M1628.2,672.9h1.6M1636.2,672.9h1.6M1737,672.9h1.6M1740.2,672.9h1.6M1780.2,672.9h1.6M1228.2,684.3h1.6M1308.2,684.3h1.6M1556.2,684.3h1.6M1615.4,684.3h1.6M1706.6,684.3h1.6M1186.6,695.7h1.6M1191.4,695.7h1.6M1236.2,695.7h1.6M1253.8,695.7h1.6M1386.6,695.7h1.6M1396.2,695.7h1.6M1524.2,695.7h1.6M1546.6,695.7h1.6M1596.2,695.7h1.6M1601,695.7h1.6M1639.4,695.7h1.6M1681,695.7h1.6" stroke="#ffa07d" stroke-width="11.7" fill="none"/>
<path d="M1069.8,91.5h1.6M1074.6,91.5h1.6M1093.8,91.5h1.6M1129,91.5h1.6M1135.4,91.5h1.6M1146.6,91.5h1.6M1159.4,91.5h1.6M1164.2,91.5h1.6M1183.4,91.5h1.6M1188.2,91.5h1.6M1199.4,91.5h1.6M1210.6,91.5h1.6M1233,91.5h1.6M1239.4,91.5h1.6M1247.4,91.5h1.6M1260.2,91.5h1.6M1269.8,91.5h1.6M1276.2,91.5h1.6M1290.6,91.5h1.6M1306.6,91.5h1.6M1327.4,91.5h1.6M1332.2,91.5h1.6M1346.6,91.5h1.6M1375.4,91.5h1.6M1381.8,91.5h1.6M1452.2,91.5h1.6M1501.8,91.5h1.6M1589.8,91.5h1.6M1604.2,91.5h1.6M1626.6,91.5h1.6M1658.6,91.5h1.6M1801,91.5h1.6M1066.6,102.9h1.6M1073,102.9h1.6M1076.2,102.9h1.6M1090.6,102.9h1.6M1117.8,102.9h1.6M1172.2,102.9h3.2M1250.6,102.9h1.6M1265,102.9h1.6M1282.6,102.9h1.6M1292.2,102.9h1.6M1313,102.9h1.6M1353,102.9h1.6M1364.2,102.9h1.6M1372.2,102.9h1.6M1375.4,102.9h1.6M1380.2,102.9h1.6M1476.2,102.9h1.6M1567.4,102.9h1.6M1572.2,102.9h1.6M1583.4,102.9h1.6M1599.4,102.9h1.6M1633,102.9h1.6M1057,114.3h3.2M1063.4,114.3h1.6M1068.2,114.3h1.6M1071.4,114.3h1.6M1074.6,114.3h1.6M1079.4,114.3h1.6M1093.8,114.3h1.6M1111.4,114.3h1.6M1117.8,114.3h1.6M1137,114.3h3.2M1159.4,114.3h3.2M1186.6,114.3h1.6M1189.8,114.3h1.6M1194.6,114.3h3.2M1199.4,114.3h1.6M1231.4,114.3h1.6M1234.6,114.3h1.6M1239.4,114.3h1.6M1269.8,114.3h1.6M1281,114.3h1.6M1293.8,114.3h1.6M1297,114.3h1.6M1313,114.3h1.6M1351.4,114.3h1.6M1364.2,114.3h1.6M1372.2,114.3h3.2M1386.6,114.3h1.6M1458.6,114.3h1.6M1469.8,114.3h1.6M1481,114.3h1.6M1561,114.3h1.6M1575.4,114.3h1.6M1605.8,114.3h1.6M1618.6,114.3h1.6M1745,114.3h1.6M1751.4,114.3h1.6M1804.2,114.3h1.6M1833,114.3h1.6M1837.8,114.3h1.6M1065,125.7h1.6M1082.6,125.7h1.6M1095.4,125.7h1.6M1113,125.7h1.6M1121,125.7h1.6M1153,125.7h1.6M1162.6,125.7h1.6M1173.8,125.7h1.6M1185,125.7h1.6M1258.6,125.7h1.6M1293.8,125.7h1.6M1300.2,125.7h1.6M1322.6,125.7h1.6M1354.6,125.7h1.6M1370.6,125.7h1.6M1399.4,125.7h1.6M1409,125.7h1.6M1485.8,125.7h1.6M1524.2,125.7h1.6M1565.8,125.7h1.6M1583.4,125.7h1.6M1724.2,125.7h1.6M1735.4,125.7h1.6M1756.2,125.7h1.6M1788.2,125.7h1.6M1820.2,125.7h1.6M1058.6,137.1h1.6M1068.2,137.1h1.6M1093.8,137.1h1.6M1098.6,137.1h1.6M1122.6,137.1h1.6M1125.8,137.1h1.6M1130.6,137.1h1.6M1143.4,137.1h1.6M1191.4,137.1h3.2M1213.8,137.1h1.6M1220.2,137.1h1.6M1228.2,137.1h1.6M1245.8,137.1h1.6M1255.4,137.1h1.6M1268.2,137.1h1.6M1276.2,137.1h1.6M1303.4,137.1h1.6M1316.2,137.1h3.2M1329,137.1h1.6M1340.2,137.1h1.6M1349.8,137.1h3.2M1380.2,137.1h1.6M1585,137.1h1.6M1650.6,137.1h1.6M1697,137.1h1.6M1757.8,137.1h1.6M1061.8,148.5h1.6M1066.6,148.5h1.6M1074.6,148.5h1.6M1100.2,148.5h1.6M1117.8,148.5h1.6M1132.2,148.5h1.6M1138.6,148.5h1.6M1161,148.5h3.2M1167.4,148.5h1.6M1173.8,148.5h1.6M1217,148.5h1.6M1223.4,148.5h1.6M1239.4,148.5h3.2M1255.4,148.5h1.6M1261.8,148.5h1.6M1265,148.5h3.2M1279.4,148.5h1.6M1298.6,148.5h1.6M1301.8,148.5h1.6M1309.8,148.5h1.6M1317.8,148.5h1.6M1330.6,148.5h1.6M1356.2,148.5h1.6M1380.2,148.5h1.6M1628.2,148.5h1.6M1081,159.9h1.6M1108.2,159.9h1.6M1124.2,159.9h1.6M1156.2,159.9h1.6M1207.4,159.9h1.6M1212.2,159.9h1.6M1218.6,159.9h1.6M1225,159.9h1.6M1233,159.9h1.6M1242.6,159.9h1.6M1250.6,159.9h1.6M1329,159.9h1.6M1332.2,159.9h1.6M1337,159.9h1.6M1364.2,159.9h1.6M1383.4,159.9h1.6M1405.8,159.9h1.6M1421.8,159.9h1.6M1458.6,159.9h1.6M1658.6,159.9h1.6M1690.6,159.9h1.6M1733.8,159.9h1.6M1738.6,159.9h1.6M1773.8,159.9h1.6M1802.6,159.9h1.6M1828.2,159.9h1.6M1836.2,159.9h1.6M1061.8,171.3h1.6M1087.4,171.3h1.6M1090.6,171.3h1.6M1095.4,171.3h1.6M1100.2,171.3h1.6M1135.4,171.3h1.6M1181.8,171.3h1.6M1189.8,171.3h1.6M1197.8,171.3h1.6M1229.8,171.3h1.6M1237.8,171.3h1.6M1252.2,171.3h1.6M1287.4,171.3h1.6M1297,171.3h1.6M1308.2,171.3h1.6M1316.2,171.3h1.6M1349.8,171.3h1.6M1359.4,171.3h1.6M1365.8,171.3h1.6M1369,171.3h1.6M1444.2,171.3h1.6M1453.8,171.3h1.6M1644.2,171.3h1.6M1793,171.3h1.6M1060.2,182.7h1.6M1063.4,182.7h3.2M1103.4,182.7h1.6M1122.6,182.7h1.6M1125.8,182.7h1.6M1143.4,182.7h1.6M1146.6,182.7h1.6M1157.8,182.7h1.6M1173.8,182.7h1.6M1223.4,182.7h1.6M1226.6,182.7h1.6M1236.2,182.7h1.6M1301.8,182.7h1.6M1332.2,182.7h3.2M1364.2,182.7h1.6M1423.4,182.7h1.6M1468.2,182.7h1.6M1500.2,182.7h1.6M1594.6,182.7h1.6M1597.8,182.7h1.6M1653.8,182.7h1.6M1685.8,182.7h1.6M1729,182.7h1.6M1733.8,182.7h1.6M1749.8,182.7h1.6M1777,182.7h3.2M1357.8,194.1h1.6M1364.2,194.1h1.6M1407.4,194.1h1.6M1415.4,194.1h1.6M1423.4,194.1h1.6M1433,194.1h1.6M1436.2,194.1h1.6M1447.4,194.1h1.6M1457,194.1h1.6M1463.4,194.1h1.6M1473,194.1h4.8M1489,194.1h3.2M1500.2,194.1h1.6M1508.2,194.1h1.6M1513,194.1h1.6M1717.8,194.1h1.6M1772.2,194.1h1.6M1068.2,205.5h1.6M1221.8,205.5h1.6M1465,205.5h1.6M1505,205.5h1.6M1577,205.5h1.6M1066.6,216.9h1.6M1404.2,216.9h1.6M1407.4,216.9h1.6M1436.2,216.9h1.6M1461.8,216.9h1.6M1473,216.9h1.6M1476.2,216.9h1.6M1482.6,216.9h1.6M1501.8,216.9h1.6M1521,216.9h1.6M1551.4,216.9h1.6M1367.4,228.3h1.6M1396.2,228.3h1.6M1404.2,228.3h1.6M1409,228.3h1.6M1445.8,228.3h1.6M1449,228.3h1.6M1463.4,228.3h1.6M1471.4,228.3h1.6M1477.8,228.3h1.6M1495.4,228.3h1.6M1604.2,228.3h1.6M1677.8,228.3h1.6M1740.2,228.3h1.6M1268.2,239.7h1.6M1412.2,239.7h1.6M1415.4,239.7h1.6M1437.8,239.7h1.6M1460.2,239.7h1.6M1481,239.7h1.6M1500.2,239.7h1.6M1508.2,239.7h1.6M1705,239.7h1.6M1079.4,251.1h1.6M1093.8,251.1h1.6M1193,251.1h1.6M1388.2,251.1h1.6M1399.4,251.1h3.2M1404.2,251.1h1.6M1425,251.1h1.6M1429.8,251.1h1.6M1433,251.1h1.6M1452.2,251.1h1.6M1465,251.1h1.6M1468.2,251.1h1.6M1471.4,251.1h1.6M1476.2,251.1h1.6M1481,251.1h1.6M1514.6,251.1h1.6M1639.4,251.1h1.6M1388.2,262.5h1.6M1397.8,262.5h1.6M1417,262.5h1.6M1423.4,262.5h1.6M1434.6,262.5h3.2M1439.4,262.5h1.6M1452.2,262.5h3.2M1457,262.5h1.6M1463.4,262.5h1.6M1468.2,262.5h1.6M1471.4,262.5h3.2M1482.6,262.5h1.6M1485.8,262.5h1.6M1501.8,262.5h1.6M1514.6,262.5h1.6M1521,262.5h3.2M1573.8,262.5h1.6M1711.4,262.5h1.6M1796.2,262.5h1.6M1250.6,273.9h1.6M1405.8,273.9h1.6M1409,273.9h1.6M1418.6,273.9h3.2M1428.2,273.9h1.6M1431.4,273.9h1.6M1434.6,273.9h1.6M1444.2,273.9h3.2M1460.2,273.9h4.8M1476.2,273.9h1.6M1482.6,273.9h1.6M1487.4,273.9h1.6M1501.8,273.9h1.6M1514.6,273.9h1.6M1517.8,273.9h3.2M1522.6,273.9h1.6M1554.6,273.9h1.6M1578.6,273.9h1.6M1722.6,273.9h1.6M1733.8,273.9h1.6M1780.2,273.9h1.6M1060.2,285.3h1.6M1063.4,285.3h1.6M1095.4,285.3h1.6M1180.2,285.3h1.6M1183.4,285.3h1.6M1199.4,285.3h1.6M1213.8,285.3h1.6M1221.8,285.3h1.6M1252.2,285.3h1.6M1295.4,285.3h1.6M1333.8,285.3h1.6M1381.8,285.3h1.6M1388.2,285.3h1.6M1407.4,285.3h1.6M1428.2,285.3h1.6M1433,285.3h1.6M1436.2,285.3h1.6M1476.2,285.3h3.2M1492.2,285.3h1.6M1501.8,285.3h1.6M1506.6,285.3h3.2M1511.4,285.3h3.2M1554.6,285.3h1.6M1575.4,285.3h1.6M1647.4,285.3h1.6M1674.6,285.3h1.6M1684.2,285.3h1.6M1709.8,285.3h1.6M1810.6,285.3h1.6M1393,296.7h1.6M1463.4,296.7h1.6M1615.4,296.7h1.6M1188.2,308.1h1.6M1221.8,308.1h1.6M1457,308.1h1.6M1500.2,308.1h1.6M1532.2,308.1h1.6M1537,308.1h1.6M1589.8,308.1h1.6M1604.2,308.1h1.6M1610.6,308.1h1.6M1615.4,308.1h1.6M1629.8,308.1h1.6M1636.2,308.1h1.6M1839.4,308.1h1.6M1079.4,319.5h3.2M1149.8,319.5h1.6M1185,319.5h1.6M1213.8,319.5h1.6M1225,319.5h1.6M1244.2,319.5h1.6M1261.8,319.5h1.6M1377,319.5h1.6M1524.2,319.5h1.6M1538.6,319.5h1.6M1556.2,319.5h1.6M1581.8,319.5h1.6M1593,319.5h1.6M1618.6,319.5h1.6M1626.6,319.5h1.6M1647.4,319.5h1.6M1698.6,319.5h1.6M1709.8,319.5h1.6M1789.8,319.5h1.6M1837.8,319.5h1.6M1141.8,330.9h1.6M1549.8,330.9h1.6M1561,330.9h1.6M1057,342.3h1.6M1156.2,342.3h1.6M1233,342.3h1.6M1236.2,342.3h1.6M1340.2,342.3h1.6M1405.8,342.3h1.6M1485.8,342.3h3.2M1557.8,342.3h1.6M1570.6,342.3h1.6M1585,342.3h1.6M1625,342.3h1.6M1572.2,353.7h1.6M1620.2,353.7h1.6M1629.8,353.7h1.6M1199.4,365.1h1.6M1241,365.1h1.6M1279.4,365.1h1.6M1340.2,365.1h1.6M1351.4,365.1h1.6M1367.4,365.1h1.6M1383.4,365.1h1.6M1548.2,365.1h3.2M1553,365.1h1.6M1565.8,365.1h1.6M1593,365.1h1.6M1597.8,365.1h1.6M1639.4,365.1h1.6M1685.8,365.1h1.6M1743.4,365.1h1.6M1809,365.1h1.6M1818.6,365.1h1.6M1105,376.5h1.6M1175.4,376.5h3.2M1183.4,376.5h1.6M1193,376.5h1.6M1201,376.5h1.6M1217,376.5h1.6M1244.2,376.5h1.6M1282.6,376.5h1.6M1289,376.5h1.6M1301.8,376.5h1.6M1356.2,376.5h1.6M1369,376.5h1.6M1445.8,376.5h1.6M1466.6,376.5h1.6M1484.2,376.5h1.6M1521,376.5h1.6M1533.8,376.5h1.6M1561,376.5h1.6M1569,376.5h1.6M1583.4,376.5h1.6M1586.6,376.5h1.6M1591.4,376.5h1.6M1596.2,376.5h1.6M1738.6,376.5h1.6M1764.2,376.5h1.6M1057,387.9h1.6M1063.4,387.9h1.6M1105,387.9h1.6M1148.2,387.9h3.2M1153,387.9h1.6M1167.4,387.9h1.6M1181.8,387.9h1.6M1311.4,387.9h1.6M1330.6,387.9h1.6M1343.4,387.9h1.6M1353,387.9h1.6M1391.4,387.9h1.6M1399.4,387.9h1.6M1449,387.9h1.6M1455.4,387.9h1.6M1463.4,387.9h1.6M1501.8,387.9h1.6M1529,387.9h1.6M1553,387.9h1.6M1565.8,387.9h1.6M1569,387.9h1.6M1572.2,387.9h1.6M1594.6,387.9h3.2M1617,387.9h1.6M1623.4,387.9h1.6M1660.2,387.9h1.6M1679.4,387.9h1.6M1793,387.9h1.6M1098.6,399.3h1.6M1357.8,399.3h1.6M1525.8,399.3h1.6M1540.2,399.3h1.6M1554.6,399.3h1.6M1572.2,399.3h1.6M1599.4,399.3h1.6M1716.2,399.3h1.6M1738.6,399.3h1.6M1817,399.3h1.6M1066.6,410.7h1.6M1069.8,410.7h1.6M1073,410.7h1.6M1093.8,410.7h1.6M1100.2,410.7h1.6M1103.4,410.7h1.6M1108.2,410.7h1.6M1125.8,410.7h1.6M1138.6,410.7h1.6M1169,410.7h3.2M1185,410.7h1.6M1196.2,410.7h1.6M1229.8,410.7h1.6M1241,410.7h1.6M1244.2,410.7h1.6M1250.6,410.7h1.6M1282.6,410.7h1.6M1290.6,410.7h1.6M1305,410.7h1.6M1308.2,410.7h1.6M1311.4,410.7h1.6M1314.6,410.7h1.6M1341.8,410.7h1.6M1359.4,410.7h1.6M1369,410.7h3.2M1538.6,410.7h1.6M1551.4,410.7h1.6M1562.6,410.7h1.6M1580.2,410.7h1.6M1605.8,410.7h1.6M1639.4,410.7h1.6M1649,410.7h1.6M1653.8,410.7h1.6M1669.8,410.7h1.6M1697,410.7h1.6M1724.2,410.7h1.6M1732.2,410.7h1.6M1741.8,410.7h1.6M1802.6,410.7h1.6M1058.6,422.1h1.6M1119.4,422.1h1.6M1124.2,422.1h1.6M1141.8,422.1h1.6M1157.8,422.1h1.6M1162.6,422.1h1.6M1188.2,422.1h1.6M1210.6,422.1h1.6M1218.6,422.1h1.6M1229.8,422.1h1.6M1258.6,422.1h1.6M1284.2,422.1h3.2M1289,422.1h1.6M1303.4,422.1h1.6M1306.6,422.1h1.6M1317.8,422.1h1.6M1385,422.1h1.6M1397.8,422.1h1.6M1533.8,422.1h1.6M1549.8,422.1h1.6M1561,422.1h1.6M1609,422.1h1.6M1612.2,422.1h1.6M1633,422.1h1.6M1637.8,422.1h1.6M1677.8,422.1h1.6M1741.8,422.1h3.2M1786.6,422.1h1.6M1061.8,433.5h1.6M1074.6,433.5h1.6M1082.6,433.5h3.2M1133.8,433.5h1.6M1154.6,433.5h1.6M1178.6,433.5h1.6M1247.4,433.5h1.6M1253.8,433.5h1.6M1265,433.5h1.6M1284.2,433.5h1.6M1314.6,433.5h1.6M1321,433.5h1.6M1329,433.5h1.6M1354.6,433.5h1.6M1378.6,433.5h1.6M1386.6,433.5h1.6M1409,433.5h1.6M1420.2,433.5h1.6M1455.4,433.5h1.6M1501.8,433.5h1.6M1527.4,433.5h1.6M1540.2,433.5h1.6M1557.8,433.5h1.6M1562.6,433.5h4.8M1569,433.5h1.6M1597.8,433.5h3.2M1605.8,433.5h1.6M1615.4,433.5h1.6M1628.2,433.5h1.6M1631.4,433.5h1.6M1641,433.5h1.6M1690.6,433.5h1.6M1698.6,433.5h1.6M1738.6,433.5h1.6M1789.8,433.5h1.6M1836.2,433.5h1.6M1090.6,444.9h1.6M1098.6,444.9h1.6M1157.8,444.9h1.6M1191.4,444.9h1.6M1295.4,444.9h1.6M1301.8,444.9h3.2M1311.4,444.9h3.2M1325.8,444.9h1.6M1335.4,444.9h3.2M1370.6,444.9h1.6M1378.6,444.9h1.6M1413.8,444.9h1.6M1442.6,444.9h1.6M1517.8,444.9h1.6M1572.2,444.9h1.6M1605.8,444.9h1.6M1623.4,444.9h1.6M1639.4,444.9h1.6M1657,444.9h3.2M1661.8,444.9h1.6M1684.2,444.9h1.6M1709.8,444.9h1.6M1741.8,444.9h1.6M1081,456.3h1.6M1100.2,456.3h1.6M1106.6,456.3h1.6M1121,456.3h3.2M1180.2,456.3h1.6M1188.2,456.3h1.6M1191.4,456.3h1.6M1210.6,456.3h1.6M1228.2,456.3h1.6M1237.8,456.3h1.6M1252.2,456.3h1.6M1255.4,456.3h1.6M1274.6,456.3h1.6M1281,456.3h1.6M1287.4,456.3h1.6M1309.8,456.3h1.6M1322.6,456.3h1.6M1346.6,456.3h1.6M1351.4,456.3h3.2M1364.2,456.3h1.6M1378.6,456.3h1.6M1425,456.3h1.6M1441,456.3h1.6M1492.2,456.3h1.6M1538.6,456.3h1.6M1573.8,456.3h1.6M1578.6,456.3h3.2M1636.2,456.3h1.6M1660.2,456.3h1.6M1687.4,456.3h1.6M1692.2,456.3h1.6M1700.2,456.3h1.6M1725.8,456.3h1.6M1737,456.3h1.6M1121,467.7h1.6M1125.8,467.7h1.6M1146.6,467.7h1.6M1151.4,467.7h1.6M1185,467.7h1.6M1196.2,467.7h1.6M1202.6,467.7h3.2M1218.6,467.7h1.6M1231.4,467.7h1.6M1257,467.7h1.6M1265,467.7h1.6M1277.8,467.7h1.6M1377,467.7h1.6M1381.8,467.7h3.2M1389.8,467.7h1.6M1415.4,467.7h1.6M1442.6,467.7h1.6M1519.4,467.7h1.6M1556.2,467.7h1.6M1559.4,467.7h1.6M1569,467.7h1.6M1586.6,467.7h1.6M1593,467.7h1.6M1615.4,467.7h1.6M1626.6,467.7h1.6M1642.6,467.7h1.6M1652.2,467.7h1.6M1655.4,467.7h1.6M1677.8,467.7h1.6M1701.8,467.7h1.6M1708.2,467.7h1.6M1724.2,467.7h3.2M1730.6,467.7h1.6M1807.4,467.7h1.6M1061.8,479.1h1.6M1090.6,479.1h1.6M1183.4,479.1h1.6M1229.8,479.1h1.6M1234.6,479.1h1.6M1239.4,479.1h1.6M1289,479.1h1.6M1293.8,479.1h3.2M1313,479.1h1.6M1327.4,479.1h1.6M1335.4,479.1h1.6M1353,479.1h1.6M1361,479.1h1.6M1428.2,479.1h1.6M1538.6,479.1h1.6M1557.8,479.1h1.6M1564.2,479.1h1.6M1577,479.1h1.6M1583.4,479.1h3.2M1615.4,479.1h1.6M1623.4,479.1h1.6M1629.8,479.1h1.6M1652.2,479.1h1.6M1690.6,479.1h1.6M1698.6,479.1h3.2M1810.6,479.1h1.6M1837.8,479.1h1.6M1057,490.5h1.6M1065,490.5h1.6M1076.2,490.5h1.6M1093.8,490.5h1.6M1117.8,490.5h1.6M1125.8,490.5h3.2M1133.8,490.5h1.6M1204.2,490.5h1.6M1226.6,490.5h1.6M1231.4,490.5h3.2M1236.2,490.5h1.6M1249,490.5h1.6M1257,490.5h1.6M1293.8,490.5h1.6M1317.8,490.5h1.6M1335.4,490.5h1.6M1346.6,490.5h3.2M1351.4,490.5h3.2M1359.4,490.5h1.6M1394.6,490.5h1.6M1397.8,490.5h1.6M1498.6,490.5h1.6M1509.8,490.5h1.6M1524.2,490.5h1.6M1562.6,490.5h1.6M1575.4,490.5h1.6M1615.4,490.5h1.6M1621.8,490.5h3.2M1629.8,490.5h1.6M1639.4,490.5h1.6M1655.4,490.5h1.6M1665,490.5h1.6M1677.8,490.5h1.6M1708.2,490.5h1.6M1721,490.5h1.6M1741.8,490.5h1.6M1745,490.5h1.6M1781.8,490.5h1.6M1831.4,490.5h1.6M1060.2,501.9h1.6M1095.4,501.9h1.6M1145,501.9h1.6M1154.6,501.9h1.6M1162.6,501.9h1.6M1257,501.9h1.6M1260.2,501.9h1.6M1273,501.9h1.6M1314.6,501.9h1.6M1372.2,501.9h1.6M1389.8,501.9h1.6M1412.2,501.9h1.6M1418.6,501.9h1.6M1429.8,501.9h1.6M1442.6,501.9h3.2M1455.4,501.9h1.6M1484.2,501.9h1.6M1511.4,501.9h1.6M1522.6,501.9h1.6M1676.2,501.9h1.6M1751.4,501.9h1.6M1767.4,501.9h1.6M1786.6,501.9h1.6M1797.8,501.9h1.6M1801,501.9h1.6M1804.2,501.9h1.6M1079.4,513.3h1.6M1218.6,513.3h1.6M1332.2,513.3h1.6M1428.2,513.3h1.6M1444.2,513.3h1.6M1548.2,513.3h1.6M1556.2,513.3h1.6M1596.2,513.3h1.6M1601,513.3h1.6M1762.6,513.3h1.6M1781.8,513.3h1.6M1789.8,513.3h1.6M1796.2,513.3h1.6M1113,524.7h1.6M1188.2,524.7h1.6M1201,524.7h1.6M1218.6,524.7h1.6M1329,524.7h1.6M1439.4,524.7h1.6M1556.2,524.7h1.6M1564.2,524.7h1.6M1588.2,524.7h1.6M1765.8,524.7h1.6M1772.2,524.7h1.6M1778.6,524.7h1.6M1786.6,524.7h1.6M1789.8,524.7h1.6M1801,524.7h1.6M1058.6,536.1h1.6M1093.8,536.1h1.6M1127.4,536.1h1.6M1140.2,536.1h1.6M1204.2,536.1h1.6M1233,536.1h1.6M1242.6,536.1h1.6M1260.2,536.1h1.6M1308.2,536.1h1.6M1314.6,536.1h1.6M1317.8,536.1h1.6M1357.8,536.1h1.6M1381.8,536.1h1.6M1388.2,536.1h1.6M1393,536.1h1.6M1407.4,536.1h1.6M1420.2,536.1h1.6M1428.2,536.1h1.6M1434.6,536.1h1.6M1457,536.1h1.6M1461.8,536.1h1.6M1465,536.1h1.6M1476.2,536.1h1.6M1487.4,536.1h1.6M1505,536.1h1.6M1519.4,536.1h1.6M1570.6,536.1h1.6M1583.4,536.1h1.6M1746.6,536.1h1.6M1759.4,536.1h1.6M1777,536.1h1.6M1786.6,536.1h1.6M1789.8,536.1h1.6M1799.4,536.1h1.6M1138.6,547.5h1.6M1151.4,547.5h1.6M1169,547.5h1.6M1185,547.5h1.6M1273,547.5h1.6M1282.6,547.5h1.6M1322.6,547.5h1.6M1327.4,547.5h1.6M1335.4,547.5h1.6M1338.6,547.5h1.6M1341.8,547.5h1.6M1359.4,547.5h1.6M1367.4,547.5h1.6M1385,547.5h1.6M1425,547.5h1.6M1436.2,547.5h1.6M1471.4,547.5h1.6M1485.8,547.5h3.2M1495.4,547.5h1.6M1501.8,547.5h1.6M1521,547.5h1.6M1533.8,547.5h1.6M1593,547.5h1.6M1625,547.5h1.6M1681,547.5h1.6M1748.2,547.5h3.2M1754.6,547.5h1.6M1773.8,547.5h1.6M1778.6,547.5h1.6M1783.4,547.5h1.6M1794.6,547.5h1.6M1802.6,547.5h1.6M1805.8,547.5h1.6M1109.8,558.9h1.6M1125.8,558.9h1.6M1135.4,558.9h1.6M1172.2,558.9h1.6M1210.6,558.9h1.6M1257,558.9h1.6M1281,558.9h1.6M1337,558.9h1.6M1364.2,558.9h1.6M1373.8,558.9h3.2M1391.4,558.9h1.6M1425,558.9h1.6M1437.8,558.9h1.6M1463.4,558.9h1.6M1487.4,558.9h1.6M1548.2,558.9h1.6M1553,558.9h3.2M1610.6,558.9h1.6M1655.4,558.9h1.6M1700.2,558.9h1.6M1713,558.9h1.6M1735.4,558.9h1.6M1743.4,558.9h1.6M1756.2,558.9h1.6M1765.8,558.9h1.6M1777,558.9h1.6M1781.8,558.9h1.6M1793,558.9h1.6M1801,558.9h1.6M1818.6,558.9h1.6M1103.4,570.3h1.6M1121,570.3h1.6M1124.2,570.3h1.6M1127.4,570.3h1.6M1143.4,570.3h1.6M1169,570.3h1.6M1210.6,570.3h1.6M1228.2,570.3h1.6M1253.8,570.3h3.2M1279.4,570.3h1.6M1284.2,570.3h3.2M1301.8,570.3h3.2M1322.6,570.3h1.6M1329,570.3h1.6M1338.6,570.3h1.6M1404.2,570.3h1.6M1426.6,570.3h1.6M1460.2,570.3h1.6M1484.2,570.3h1.6M1517.8,570.3h1.6M1551.4,570.3h1.6M1556.2,570.3h1.6M1618.6,570.3h1.6M1631.4,570.3h1.6M1754.6,570.3h1.6M1770.6,570.3h1.6M1775.4,570.3h1.6M1778.6,570.3h1.6M1789.8,570.3h3.2M1821.8,570.3h1.6M1060.2,581.7h1.6M1076.2,581.7h1.6M1093.8,581.7h1.6M1113,581.7h1.6M1146.6,581.7h1.6M1149.8,581.7h1.6M1173.8,581.7h1.6M1197.8,581.7h1.6M1217,581.7h1.6M1223.4,581.7h1.6M1226.6,581.7h1.6M1244.2,581.7h1.6M1247.4,581.7h1.6M1284.2,581.7h1.6M1290.6,581.7h1.6M1308.2,581.7h1.6M1314.6,581.7h1.6M1319.4,581.7h1.6M1324.2,581.7h1.6M1341.8,581.7h1.6M1389.8,581.7h3.2M1404.2,581.7h1.6M1409,581.7h1.6M1418.6,581.7h3.2M1436.2,581.7h1.6M1473,581.7h1.6M1484.2,581.7h1.6M1525.8,581.7h1.6M1529,581.7h1.6M1583.4,581.7h1.6M1593,581.7h3.2M1617,581.7h3.2M1749.8,581.7h1.6M1753,581.7h1.6M1764.2,581.7h6.4M1825,581.7h1.6M1511.4,593.1h1.6M1802.6,593.1h1.6M1087.4,615.9h1.6M1146.6,615.9h1.6M1156.2,615.9h1.6M1287.4,615.9h1.6M1637.8,615.9h1.6M1645.8,615.9h1.6M1660.2,615.9h1.6M1124.2,627.3h1.6M1196.2,627.3h1.6M1233,627.3h1.6M1348.2,627.3h1.6M1615.4,627.3h1.6M1805.8,627.3h1.6M1809,627.3h1.6M1821.8,627.3h1.6M1133.8,638.7h1.6M1197.8,638.7h1.6M1263.4,638.7h1.6M1269.8,638.7h1.6M1322.6,638.7h1.6M1332.2,638.7h1.6M1407.4,638.7h1.6M1412.2,638.7h3.2M1437.8,638.7h1.6M1455.4,638.7h1.6M1490.6,638.7h1.6M1540.2,638.7h1.6M1561,638.7h1.6M1833,638.7h1.6M1287.4,650.1h1.6M1604.2,650.1h1.6M1628.2,650.1h1.6M1817,650.1h1.6M1082.6,661.5h1.6M1121,661.5h1.6M1141.8,661.5h1.6M1194.6,661.5h1.6M1199.4,661.5h1.6M1209,661.5h1.6M1245.8,661.5h1.6M1266.6,661.5h1.6M1321,661.5h1.6M1345,661.5h1.6M1356.2,661.5h1.6M1375.4,661.5h1.6M1490.6,661.5h1.6M1633,661.5h1.6M1681,661.5h1.6M1690.6,661.5h1.6M1724.2,661.5h1.6M1764.2,661.5h1.6M1815.4,661.5h1.6M1090.6,672.9h1.6M1116.2,672.9h3.2M1167.4,672.9h1.6M1297,672.9h1.6M1303.4,672.9h1.6M1399.4,672.9h1.6M1413.8,672.9h1.6M1489,672.9h1.6M1524.2,672.9h1.6M1553,672.9h1.6M1556.2,672.9h1.6M1596.2,672.9h1.6M1623.4,672.9h1.6M1631.4,672.9h1.6M1650.6,672.9h1.6M1713,672.9h1.6M1746.6,672.9h1.6M1785,672.9h1.6M1066.6,684.3h1.6M1338.6,684.3h1.6M1364.2,684.3h1.6M1548.2,684.3h1.6M1580.2,684.3h1.6M1666.6,684.3h1.6M1831.4,684.3h1.6M1069.8,695.7h1.6M1359.4,695.7h1.6M1527.4,695.7h1.6M1537,695.7h1.6M1551.4,695.7h1.6M1557.8,695.7h1.6M1599.4,695.7h1.6M1618.6,695.7h1.6M1631.4,695.7h1.6M1753,695.7h1.6M1813.8,695.7h1.6M1836.2,695.7h1.6" stroke="#ff805f" stroke-width="11.7" fill="none"/>
<path d="M1079.4,91.5h1.6M1095.4,91.5h1.6M1117.8,91.5h1.6M1124.2,91.5h1.6M1169,91.5h1.6M1202.6,91.5h1.6M1228.2,91.5h3.2M1237.8,91.5h1.6M1242.6,91.5h1.6M1273,91.5h1.6M1333.8,91.5h1.6M1690.6,91.5h1.6M1748.2,91.5h1.6M1058.6,102.9h1.6M1069.8,102.9h1.6M1077.8,102.9h1.6M1089,102.9h1.6M1092.2,102.9h1.6M1132.2,102.9h1.6M1154.6,102.9h1.6M1169,102.9h1.6M1196.2,102.9h1.6M1205.8,102.9h1.6M1212.2,102.9h1.6M1249,102.9h1.6M1337,102.9h1.6M1362.6,102.9h1.6M1386.6,102.9h1.6M1471.4,102.9h1.6M1553,102.9h1.6M1593,102.9h1.6M1817,102.9h1.6M1837.8,102.9h1.6M1089,114.3h1.6M1100.2,114.3h1.6M1106.6,114.3h1.6M1140.2,114.3h1.6M1151.4,114.3h1.6M1167.4,114.3h3.2M1193,114.3h1.6M1247.4,114.3h1.6M1265,114.3h1.6M1295.4,114.3h1.6M1305,114.3h1.6M1311.4,114.3h1.6M1317.8,114.3h1.6M1332.2,114.3h1.6M1365.8,114.3h1.6M1473,114.3h1.6M1509.8,114.3h1.6M1529,114.3h1.6M1746.6,114.3h1.6M1773.8,114.3h1.6M1810.6,114.3h1.6M1821.8,114.3h1.6M1058.6,125.7h1.6M1061.8,125.7h1.6M1092.2,125.7h1.6M1130.6,125.7h3.2M1156.2,125.7h1.6M1181.8,125.7h1.6M1239.4,125.7h1.6M1250.6,125.7h1.6M1268.2,125.7h1.6M1273,125.7h1.6M1345,125.7h1.6M1359.4,125.7h1.6M1381.8,125.7h1.6M1826.6,125.7h1.6M1065,137.1h1.6M1113,137.1h1.6M1170.6,137.1h1.6M1178.6,137.1h1.6M1226.6,137.1h1.6M1257,137.1h1.6M1263.4,137.1h1.6M1301.8,137.1h1.6M1311.4,137.1h1.6M1333.8,137.1h1.6M1357.8,137.1h1.6M1370.6,137.1h1.6M1511.4,137.1h1.6M1541.8,137.1h1.6M1695.4,137.1h1.6M1729,137.1h1.6M1740.2,137.1h1.6M1777,137.1h1.6M1785,137.1h1.6M1069.8,148.5h4.8M1081,148.5h1.6M1157.8,148.5h1.6M1212.2,148.5h1.6M1220.2,148.5h1.6M1244.2,148.5h1.6M1289,148.5h1.6M1329,148.5h1.6M1333.8,148.5h1.6M1348.2,148.5h1.6M1357.8,148.5h1.6M1364.2,148.5h1.6M1519.4,148.5h1.6M1569,148.5h1.6M1727.4,148.5h1.6M1087.4,159.9h1.6M1113,159.9h3.2M1127.4,159.9h1.6M1135.4,159.9h1.6M1149.8,159.9h1.6M1154.6,159.9h1.6M1220.2,159.9h1.6M1228.2,159.9h1.6M1236.2,159.9h1.6M1247.4,159.9h1.6M1284.2,159.9h1.6M1292.2,159.9h1.6M1373.8,159.9h1.6M1463.4,159.9h1.6M1516.2,159.9h1.6M1578.6,159.9h1.6M1786.6,159.9h1.6M1813.8,159.9h1.6M1074.6,171.3h1.6M1127.4,171.3h1.6M1170.6,171.3h1.6M1177,171.3h1.6M1186.6,171.3h1.6M1191.4,171.3h1.6M1194.6,171.3h1.6M1201,171.3h1.6M1218.6,171.3h1.6M1306.6,171.3h1.6M1317.8,171.3h1.6M1354.6,171.3h1.6M1383.4,171.3h1.6M1801,171.3h1.6M1100.2,182.7h1.6M1177,182.7h1.6M1185,182.7h1.6M1218.6,182.7h1.6M1261.8,182.7h1.6M1266.6,182.7h3.2M1295.4,182.7h1.6M1330.6,182.7h1.6M1348.2,182.7h1.6M1373.8,182.7h1.6M1570.6,182.7h1.6M1661.8,182.7h1.6M1677.8,182.7h1.6M1705,182.7h1.6M1737,182.7h1.6M1225,194.1h1.6M1391.4,194.1h3.2M1429.8,194.1h1.6M1439.4,194.1h1.6M1445.8,194.1h1.6M1452.2,194.1h1.6M1479.4,194.1h1.6M1485.8,194.1h1.6M1401,205.5h1.6M1418.6,205.5h1.6M1423.4,205.5h1.6M1426.6,205.5h1.6M1433,205.5h3.2M1442.6,205.5h1.6M1452.2,205.5h1.6M1460.2,205.5h4.8M1471.4,205.5h1.6M1474.6,205.5h1.6M1490.6,205.5h1.6M1493.8,205.5h1.6M1514.6,205.5h1.6M1636.2,205.5h1.6M1221.8,216.9h1.6M1396.2,216.9h4.8M1417,216.9h1.6M1421.8,216.9h1.6M1434.6,216.9h1.6M1439.4,216.9h1.6M1447.4,216.9h1.6M1468.2,216.9h3.2M1489,216.9h1.6M1503.4,216.9h1.6M1509.8,216.9h1.6M1514.6,216.9h1.6M1527.4,216.9h1.6M1593,216.9h1.6M1650.6,216.9h1.6M1149.8,228.3h1.6M1226.6,228.3h1.6M1393,228.3h1.6M1402.6,228.3h1.6M1410.6,228.3h4.8M1425,228.3h1.6M1444.2,228.3h1.6M1447.4,228.3h1.6M1487.4,228.3h1.6M1497,228.3h1.6M1388.2,239.7h1.6M1404.2,239.7h1.6M1410.6,239.7h1.6M1431.4,239.7h1.6M1434.6,239.7h1.6M1439.4,239.7h1.6M1463.4,239.7h3.2M1471.4,239.7h1.6M1495.4,239.7h3.2M1506.6,239.7h1.6M1517.8,239.7h1.6M1095.4,251.1h1.6M1172.2,251.1h1.6M1231.4,251.1h1.6M1391.4,251.1h1.6M1394.6,251.1h3.2M1402.6,251.1h1.6M1410.6,251.1h3.2M1415.4,251.1h1.6M1420.2,251.1h1.6M1423.4,251.1h1.6M1428.2,251.1h1.6M1434.6,251.1h1.6M1437.8,251.1h3.2M1444.2,251.1h1.6M1455.4,251.1h1.6M1473,251.1h1.6M1509.8,251.1h1.6M1513,251.1h1.6M1673,251.1h1.6M1217,262.5h1.6M1402.6,262.5h1.6M1405.8,262.5h1.6M1412.2,262.5h3.2M1425,262.5h3.2M1431.4,262.5h3.2M1441,262.5h1.6M1444.2,262.5h6.4M1455.4,262.5h1.6M1479.4,262.5h1.6M1487.4,262.5h1.6M1490.6,262.5h1.6M1500.2,262.5h1.6M1503.4,262.5h4.8M1509.8,262.5h3.2M1516.2,262.5h1.6M1706.6,262.5h1.6M1391.4,273.9h1.6M1397.8,273.9h1.6M1402.6,273.9h1.6M1410.6,273.9h1.6M1450.6,273.9h3.2M1466.6,273.9h1.6M1474.6,273.9h1.6M1479.4,273.9h1.6M1485.8,273.9h1.6M1500.2,273.9h1.6M1503.4,273.9h3.2M1513,273.9h1.6M1098.6,285.3h1.6M1105,285.3h1.6M1130.6,285.3h1.6M1159.4,285.3h1.6M1178.6,285.3h1.6M1249,285.3h1.6M1298.6,285.3h1.6M1346.6,285.3h1.6M1354.6,285.3h1.6M1391.4,285.3h1.6M1396.2,285.3h1.6M1399.4,285.3h1.6M1418.6,285.3h1.6M1437.8,285.3h1.6M1441,285.3h1.6M1449,285.3h3.2M1461.8,285.3h1.6M1466.6,285.3h1.6M1469.8,285.3h4.8M1490.6,285.3h1.6M1498.6,285.3h3.2M1503.4,285.3h3.2M1509.8,285.3h1.6M1516.2,285.3h1.6M1519.4,285.3h3.2M1541.8,285.3h3.2M1621.8,285.3h1.6M1738.6,285.3h1.6M1746.6,285.3h1.6M1833,285.3h1.6M1156.2,296.7h1.6M1407.4,296.7h1.6M1429.8,296.7h1.6M1434.6,296.7h1.6M1466.6,296.7h1.6M1474.6,296.7h1.6M1495.4,296.7h1.6M1511.4,296.7h1.6M1514.6,296.7h1.6M1517.8,296.7h1.6M1628.2,296.7h1.6M1527.4,308.1h1.6M1551.4,308.1h3.2M1612.2,308.1h1.6M1623.4,308.1h1.6M1117.8,319.5h1.6M1138.6,319.5h1.6M1245.8,319.5h1.6M1461.8,319.5h1.6M1513,319.5h1.6M1549.8,319.5h3.2M1554.6,319.5h1.6M1562.6,319.5h1.6M1572.2,319.5h1.6M1577,319.5h1.6M1594.6,319.5h1.6M1634.6,319.5h3.2M1660.2,319.5h1.6M1826.6,319.5h1.6M1535.4,330.9h3.2M1572.2,330.9h3.2M1577,330.9h1.6M1613.8,330.9h3.2M1137,342.3h1.6M1359.4,342.3h1.6M1546.6,342.3h1.6M1562.6,342.3h1.6M1573.8,342.3h1.6M1636.2,342.3h1.6M1529,353.7h1.6M1554.6,353.7h3.2M1580.2,353.7h1.6M1596.2,353.7h1.6M1628.2,353.7h1.6M1106.6,365.1h1.6M1412.2,365.1h1.6M1508.2,365.1h1.6M1530.6,365.1h1.6M1533.8,365.1h3.2M1557.8,365.1h1.6M1561,365.1h1.6M1569,365.1h1.6M1577,365.1h1.6M1580.2,365.1h1.6M1589.8,365.1h3.2M1668.2,365.1h1.6M1674.6,365.1h1.6M1709.8,365.1h1.6M1770.6,365.1h1.6M1793,365.1h1.6M1065,376.5h1.6M1097,376.5h1.6M1129,376.5h1.6M1135.4,376.5h1.6M1140.2,376.5h1.6M1263.4,376.5h1.6M1273,376.5h1.6M1281,376.5h1.6M1285.8,376.5h1.6M1313,376.5h1.6M1321,376.5h1.6M1423.4,376.5h1.6M1506.6,376.5h3.2M1535.4,376.5h1.6M1540.2,376.5h3.2M1556.2,376.5h1.6M1570.6,376.5h1.6M1577,376.5h1.6M1605.8,376.5h1.6M1625,376.5h1.6M1629.8,376.5h1.6M1633,376.5h1.6M1685.8,376.5h1.6M1788.2,376.5h1.6M1076.2,387.9h1.6M1097,387.9h1.6M1274.6,387.9h1.6M1412.2,387.9h1.6M1425,387.9h3.2M1431.4,387.9h1.6M1444.2,387.9h1.6M1447.4,387.9h1.6M1477.8,387.9h1.6M1516.2,387.9h1.6M1548.2,387.9h1.6M1564.2,387.9h1.6M1583.4,387.9h1.6M1650.6,387.9h1.6M1682.6,387.9h1.6M1757.8,387.9h1.6M1799.4,387.9h1.6M1175.4,399.3h1.6M1389.8,399.3h1.6M1420.2,399.3h1.6M1476.2,399.3h1.6M1511.4,399.3h1.6M1538.6,399.3h1.6M1551.4,399.3h1.6M1557.8,399.3h3.2M1562.6,399.3h1.6M1569,399.3h1.6M1581.8,399.3h1.6M1597.8,399.3h1.6M1610.6,399.3h1.6M1084.2,410.7h1.6M1101.8,410.7h1.6M1117.8,410.7h1.6M1140.2,410.7h1.6M1164.2,410.7h1.6M1175.4,410.7h1.6M1210.6,410.7h1.6M1245.8,410.7h1.6M1263.4,410.7h3.2M1293.8,410.7h1.6M1309.8,410.7h1.6M1313,410.7h1.6M1322.6,410.7h1.6M1349.8,410.7h1.6M1367.4,410.7h1.6M1383.4,410.7h1.6M1428.2,410.7h1.6M1543.4,410.7h1.6M1557.8,410.7h1.6M1564.2,410.7h1.6M1570.6,410.7h1.6M1583.4,410.7h1.6M1597.8,410.7h1.6M1613.8,410.7h1.6M1620.2,410.7h1.6M1631.4,410.7h1.6M1671.4,410.7h3.2M1733.8,410.7h1.6M1743.4,410.7h1.6M1751.4,410.7h1.6M1786.6,410.7h1.6M1820.2,410.7h1.6M1829.8,410.7h1.6M1065,422.1h1.6M1143.4,422.1h1.6M1186.6,422.1h1.6M1202.6,422.1h1.6M1239.4,422.1h1.6M1253.8,422.1h1.6M1277.8,422.1h1.6M1335.4,422.1h1.6M1346.6,422.1h1.6M1401,422.1h1.6M1562.6,422.1h1.6M1597.8,422.1h1.6M1604.2,422.1h1.6M1636.2,422.1h1.6M1650.6,422.1h1.6M1671.4,422.1h1.6M1674.6,422.1h1.6M1690.6,422.1h1.6M1716.2,422.1h1.6M1721,422.1h1.6M1738.6,422.1h1.6M1817,422.1h1.6M1828.2,422.1h1.6M1063.4,433.5h1.6M1077.8,433.5h1.6M1081,433.5h1.6M1111.4,433.5h3.2M1250.6,433.5h1.6M1261.8,433.5h1.6M1290.6,433.5h1.6M1297,433.5h1.6M1306.6,433.5h1.6M1316.2,433.5h1.6M1333.8,433.5h1.6M1361,433.5h1.6M1418.6,433.5h1.6M1489,433.5h1.6M1532.2,433.5h1.6M1546.6,433.5h3.2M1556.2,433.5h1.6M1581.8,433.5h1.6M1636.2,433.5h1.6M1644.2,433.5h1.6M1671.4,433.5h1.6M1674.6,433.5h3.2M1687.4,433.5h1.6M1703.4,433.5h1.6M1725.8,433.5h1.6M1741.8,433.5h1.6M1773.8,433.5h1.6M1799.4,433.5h1.6M1810.6,433.5h1.6M1825,433.5h1.6M1829.8,433.5h1.6M1058.6,444.9h1.6M1095.4,444.9h1.6M1106.6,444.9h3.2M1111.4,444.9h1.6M1114.6,444.9h1.6M1183.4,444.9h1.6M1252.2,444.9h1.6M1305,444.9h1.6M1324.2,444.9h1.6M1490.6,444.9h1.6M1530.6,444.9h1.6M1553,444.9h1.6M1556.2,444.9h1.6M1562.6,444.9h1.6M1596.2,444.9h3.2M1628.2,444.9h1.6M1653.8,444.9h1.6M1673,444.9h1.6M1066.6,456.3h1.6M1069.8,456.3h1.6M1103.4,456.3h1.6M1117.8,456.3h1.6M1130.6,456.3h1.6M1137,456.3h1.6M1156.2,456.3h1.6M1305,456.3h1.6M1330.6,456.3h1.6M1354.6,456.3h1.6M1372.2,456.3h1.6M1389.8,456.3h1.6M1433,456.3h1.6M1474.6,456.3h1.6M1549.8,456.3h1.6M1644.2,456.3h1.6M1684.2,456.3h1.6M1689,456.3h1.6M1706.6,456.3h1.6M1727.4,456.3h1.6M1834.6,456.3h1.6M1057,467.7h1.6M1076.2,467.7h1.6M1081,467.7h1.6M1101.8,467.7h1.6M1108.2,467.7h1.6M1133.8,467.7h1.6M1177,467.7h1.6M1234.6,467.7h1.6M1237.8,467.7h1.6M1298.6,467.7h1.6M1329,467.7h1.6M1353,467.7h1.6M1425,467.7h1.6M1445.8,467.7h1.6M1492.2,467.7h1.6M1613.8,467.7h1.6M1617,467.7h1.6M1641,467.7h1.6M1660.2,467.7h1.6M1714.6,467.7h1.6M1740.2,467.7h1.6M1781.8,467.7h1.6M1073,479.1h1.6M1082.6,479.1h1.6M1137,479.1h1.6M1181.8,479.1h1.6M1207.4,479.1h1.6M1247.4,479.1h1.6M1297,479.1h1.6M1330.6,479.1h1.6M1345,479.1h1.6M1415.4,479.1h1.6M1532.2,479.1h1.6M1543.4,479.1h1.6M1677.8,479.1h1.6M1685.8,479.1h1.6M1706.6,479.1h1.6M1713,479.1h1.6M1721,479.1h1.6M1732.2,479.1h1.6M1743.4,479.1h1.6M1807.4,479.1h1.6M1839.4,479.1h1.6M1101.8,490.5h1.6M1130.6,490.5h1.6M1175.4,490.5h3.2M1181.8,490.5h1.6M1201,490.5h1.6M1260.2,490.5h1.6M1308.2,490.5h1.6M1311.4,490.5h1.6M1324.2,490.5h1.6M1337,490.5h1.6M1497,490.5h1.6M1537,490.5h1.6M1557.8,490.5h1.6M1583.4,490.5h1.6M1676.2,490.5h1.6M1799.4,490.5h1.6M1071.4,501.9h1.6M1119.4,501.9h3.2M1143.4,501.9h1.6M1297,501.9h1.6M1309.8,501.9h1.6M1321,501.9h1.6M1327.4,501.9h1.6M1330.6,501.9h1.6M1333.8,501.9h1.6M1357.8,501.9h1.6M1397.8,501.9h1.6M1463.4,501.9h1.6M1498.6,501.9h1.6M1508.2,501.9h1.6M1594.6,501.9h1.6M1761,501.9h1.6M1780.2,501.9h1.6M1794.6,501.9h1.6M1799.4,501.9h1.6M1058.6,513.3h1.6M1314.6,513.3h1.6M1545,513.3h1.6M1764.2,513.3h3.2M1773.8,513.3h1.6M1785,513.3h1.6M1794.6,513.3h1.6M1801,513.3h1.6M1261.8,524.7h1.6M1401,524.7h1.6M1457,524.7h1.6M1500.2,524.7h1.6M1770.6,524.7h1.6M1799.4,524.7h1.6M1089,536.1h1.6M1111.4,536.1h1.6M1122.6,536.1h1.6M1148.2,536.1h1.6M1277.8,536.1h1.6M1327.4,536.1h1.6M1348.2,536.1h1.6M1353,536.1h1.6M1469.8,536.1h1.6M1492.2,536.1h1.6M1765.8,536.1h1.6M1783.4,536.1h1.6M1796.2,536.1h1.6M1071.4,547.5h1.6M1098.6,547.5h1.6M1105,547.5h1.6M1111.4,547.5h1.6M1117.8,547.5h1.6M1125.8,547.5h1.6M1199.4,547.5h1.6M1220.2,547.5h1.6M1287.4,547.5h1.6M1298.6,547.5h1.6M1311.4,547.5h1.6M1317.8,547.5h1.6M1321,547.5h1.6M1377,547.5h1.6M1393,547.5h1.6M1407.4,547.5h1.6M1410.6,547.5h1.6M1417,547.5h1.6M1421.8,547.5h3.2M1452.2,547.5h3.2M1489,547.5h1.6M1506.6,547.5h1.6M1725.8,547.5h1.6M1765.8,547.5h1.6M1770.6,547.5h1.6M1781.8,547.5h1.6M1789.8,547.5h1.6M1793,547.5h1.6M1797.8,547.5h1.6M1079.4,558.9h1.6M1140.2,558.9h1.6M1167.4,558.9h1.6M1180.2,558.9h1.6M1213.8,558.9h1.6M1250.6,558.9h1.6M1265,558.9h1.6M1268.2,558.9h1.6M1305,558.9h1.6M1321,558.9h1.6M1335.4,558.9h1.6M1369,558.9h1.6M1380.2,558.9h1.6M1394.6,558.9h1.6M1410.6,558.9h1.6M1439.4,558.9h1.6M1453.8,558.9h1.6M1477.8,558.9h1.6M1485.8,558.9h1.6M1492.2,558.9h1.6M1549.8,558.9h1.6M1577,558.9h1.6M1612.2,558.9h1.6M1636.2,558.9h1.6M1749.8,558.9h3.2M1759.4,558.9h1.6M1773.8,558.9h1.6M1783.4,558.9h1.6M1788.2,558.9h1.6M1090.6,570.3h1.6M1149.8,570.3h1.6M1172.2,570.3h1.6M1234.6,570.3h1.6M1289,570.3h1.6M1402.6,570.3h1.6M1442.6,570.3h1.6M1474.6,570.3h1.6M1489,570.3h1.6M1513,570.3h1.6M1605.8,570.3h1.6M1655.4,570.3h1.6M1748.2,570.3h1.6M1759.4,570.3h1.6M1769,570.3h1.6M1108.2,581.7h1.6M1116.2,581.7h1.6M1125.8,581.7h1.6M1138.6,581.7h1.6M1145,581.7h1.6M1220.2,581.7h1.6M1241,581.7h1.6M1293.8,581.7h1.6M1359.4,581.7h1.6M1370.6,581.7h3.2M1394.6,581.7h1.6M1415.4,581.7h1.6M1450.6,581.7h1.6M1620.2,581.7h1.6M1625,581.7h1.6M1628.2,581.7h1.6M1754.6,581.7h1.6M1762.6,581.7h1.6M1778.6,581.7h1.6M1807.4,593.1h1.6M1815.4,593.1h1.6M1223.4,615.9h1.6M1241,615.9h1.6M1378.6,615.9h1.6M1661.8,615.9h1.6M1815.4,615.9h1.6M1839.4,615.9h1.6M1167.4,627.3h1.6M1685.8,627.3h1.6M1740.2,627.3h1.6M1815.4,627.3h1.6M1826.6,627.3h1.6M1831.4,627.3h1.6M1081,638.7h3.2M1257,638.7h1.6M1493.8,638.7h1.6M1578.6,638.7h1.6M1586.6,638.7h1.6M1618.6,638.7h1.6M1642.6,638.7h1.6M1740.2,638.7h1.6M1761,638.7h1.6M1810.6,638.7h1.6M1817,638.7h1.6M1829.8,638.7h1.6M1837.8,638.7h1.6M1229.8,650.1h1.6M1153,661.5h1.6M1269.8,661.5h1.6M1297,661.5h1.6M1330.6,661.5h1.6M1338.6,661.5h1.6M1389.8,661.5h1.6M1593,661.5h1.6M1743.4,661.5h1.6M1817,661.5h1.6M1837.8,661.5h3.2M1081,672.9h1.6M1213.8,672.9h1.6M1263.4,672.9h1.6M1325.8,672.9h1.6M1337,672.9h1.6M1495.4,672.9h1.6M1505,672.9h1.6M1527.4,672.9h1.6M1577,672.9h1.6M1597.8,672.9h1.6M1612.2,672.9h1.6M1617,672.9h1.6M1621.8,672.9h1.6M1716.2,672.9h1.6M1721,672.9h1.6M1759.4,672.9h1.6M1773.8,672.9h1.6M1823.4,672.9h1.6M1833,672.9h1.6M1837.8,672.9h1.6M1165.8,684.3h1.6M1633,684.3h1.6M1829.8,684.3h1.6M1060.2,695.7h3.2M1258.6,695.7h1.6M1322.6,695.7h1.6M1404.2,695.7h1.6M1529,695.7h1.6M1533.8,695.7h1.6M1541.8,695.7h1.6M1567.4,695.7h1.6M1573.8,695.7h1.6M1589.8,695.7h1.6M1610.6,695.7h1.6M1617,695.7h1.6M1676.2,695.7h1.6M1799.4,695.7h1.6M1804.2,695.7h1.6" stroke="#ff5f41" stroke-width="11.7" fill="none"/>
<path d="M1073,91.5h1.6M1076.2,91.5h1.6M1106.6,91.5h3.2M1173.8,91.5h1.6M1180.2,91.5h1.6M1189.8,91.5h1.6M1193,91.5h1.6M1284.2,91.5h1.6M1377,91.5h1.6M1567.4,91.5h1.6M1599.4,91.5h1.6M1772.2,91.5h1.6M1327.4,102.9h1.6M1333.8,102.9h1.6M1351.4,102.9h1.6M1087.4,114.3h1.6M1170.6,114.3h1.6M1244.2,114.3h1.6M1330.6,114.3h1.6M1801,114.3h1.6M1813.8,114.3h1.6M1818.6,114.3h1.6M1826.6,114.3h1.6M1106.6,125.7h1.6M1165.8,125.7h1.6M1234.6,125.7h1.6M1372.2,125.7h1.6M1597.8,125.7h1.6M1644.2,125.7h1.6M1693.8,125.7h1.6M1073,137.1h1.6M1135.4,137.1h1.6M1140.2,137.1h1.6M1151.4,137.1h1.6M1173.8,137.1h1.6M1194.6,137.1h1.6M1205.8,137.1h1.6M1244.2,137.1h1.6M1261.8,137.1h1.6M1385,137.1h1.6M1789.8,137.1h1.6M1141.8,148.5h1.6M1205.8,148.5h1.6M1721,148.5h1.6M1132.2,159.9h1.6M1141.8,159.9h1.6M1151.4,159.9h1.6M1209,159.9h1.6M1255.4,159.9h1.6M1260.2,159.9h1.6M1276.2,159.9h1.6M1703.4,159.9h1.6M1060.2,171.3h1.6M1156.2,171.3h1.6M1234.6,171.3h1.6M1337,171.3h1.6M1076.2,182.7h1.6M1154.6,182.7h1.6M1209,182.7h1.6M1229.8,182.7h1.6M1319.4,182.7h1.6M1613.8,182.7h1.6M1721,182.7h1.6M1229.8,194.1h1.6M1412.2,194.1h1.6M1418.6,194.1h1.6M1434.6,194.1h1.6M1442.6,194.1h1.6M1449,194.1h1.6M1455.4,194.1h1.6M1466.6,194.1h1.6M1482.6,194.1h1.6M1492.2,194.1h1.6M1506.6,194.1h1.6M1522.6,194.1h1.6M1397.8,205.5h1.6M1410.6,205.5h1.6M1420.2,205.5h1.6M1439.4,205.5h1.6M1455.4,205.5h1.6M1458.6,205.5h1.6M1469.8,205.5h1.6M1476.2,205.5h1.6M1479.4,205.5h1.6M1484.2,205.5h1.6M1492.2,205.5h1.6M1509.8,205.5h1.6M1839.4,205.5h1.6M1389.8,216.9h1.6M1401,216.9h1.6M1410.6,216.9h1.6M1425,216.9h3.2M1429.8,216.9h1.6M1437.8,216.9h1.6M1441,216.9h4.8M1449,216.9h1.6M1457,216.9h1.6M1465,216.9h3.2M1474.6,216.9h1.6M1487.4,216.9h1.6M1492.2,216.9h1.6M1500.2,216.9h1.6M1505,216.9h1.6M1791.4,216.9h1.6M1388.2,228.3h1.6M1407.4,228.3h1.6M1418.6,228.3h1.6M1442.6,228.3h1.6M1455.4,228.3h1.6M1461.8,228.3h1.6M1503.4,228.3h1.6M1506.6,228.3h1.6M1513,228.3h1.6M1517.8,228.3h1.6M1521,228.3h1.6M1657,228.3h1.6M1389.8,239.7h4.8M1397.8,239.7h1.6M1401,239.7h1.6M1417,239.7h1.6M1420.2,239.7h1.6M1425,239.7h1.6M1429.8,239.7h1.6M1433,239.7h1.6M1442.6,239.7h3.2M1473,239.7h1.6M1489,239.7h1.6M1514.6,239.7h1.6M1330.6,251.1h1.6M1393,251.1h1.6M1397.8,251.1h1.6M1413.8,251.1h1.6M1417,251.1h1.6M1453.8,251.1h1.6M1457,251.1h4.8M1466.6,251.1h1.6M1477.8,251.1h1.6M1485.8,251.1h1.6M1495.4,251.1h3.2M1559.4,251.1h1.6M1401,262.5h1.6M1428.2,262.5h1.6M1450.6,262.5h1.6M1474.6,262.5h1.6M1481,262.5h1.6M1489,262.5h1.6M1495.4,262.5h1.6M1543.4,262.5h1.6M1567.4,262.5h1.6M1749.8,262.5h1.6M1413.8,273.9h1.6M1089,285.3h1.6M1401,285.3h1.6M1410.6,285.3h1.6M1413.8,285.3h1.6M1420.2,285.3h1.6M1425,285.3h1.6M1442.6,285.3h1.6M1453.8,285.3h3.2M1474.6,285.3h1.6M1479.4,285.3h1.6M1482.6,285.3h3.2M1517.8,285.3h1.6M1522.6,285.3h1.6M1529,285.3h1.6M1570.6,285.3h1.6M1629.8,285.3h1.6M1669.8,285.3h1.6M1753,285.3h1.6M1433,296.7h1.6M1437.8,296.7h1.6M1449,296.7h1.6M1469.8,296.7h1.6M1479.4,296.7h1.6M1436.2,308.1h1.6M1559.4,308.1h1.6M1564.2,308.1h1.6M1573.8,308.1h1.6M1585,308.1h1.6M1618.6,308.1h1.6M1122.6,319.5h1.6M1154.6,319.5h1.6M1281,319.5h1.6M1548.2,319.5h1.6M1570.6,319.5h1.6M1585,319.5h1.6M1589.8,319.5h3.2M1602.6,319.5h1.6M1623.4,319.5h1.6M1629.8,319.5h3.2M1676.2,319.5h1.6M1713,319.5h1.6M1527.4,330.9h1.6M1540.2,330.9h1.6M1559.4,330.9h1.6M1617,330.9h1.6M1634.6,330.9h1.6M1244.2,342.3h1.6M1527.4,342.3h1.6M1533.8,342.3h1.6M1581.8,342.3h3.2M1586.6,342.3h1.6M1601,342.3h1.6M1615.4,342.3h1.6M1618.6,342.3h1.6M1626.6,342.3h1.6M1633,342.3h1.6M1538.6,353.7h3.2M1551.4,353.7h1.6M1569,353.7h1.6M1586.6,353.7h1.6M1589.8,353.7h1.6M1609,353.7h1.6M1621.8,353.7h1.6M1122.6,365.1h1.6M1132.2,365.1h1.6M1527.4,365.1h1.6M1551.4,365.1h1.6M1602.6,365.1h3.2M1621.8,365.1h1.6M1625,365.1h1.6M1637.8,365.1h1.6M1778.6,365.1h1.6M1090.6,376.5h1.6M1100.2,376.5h1.6M1205.8,376.5h1.6M1213.8,376.5h1.6M1295.4,376.5h1.6M1327.4,376.5h1.6M1439.4,376.5h1.6M1490.6,376.5h1.6M1500.2,376.5h1.6M1530.6,376.5h1.6M1575.4,376.5h1.6M1580.2,376.5h1.6M1617,376.5h3.2M1631.4,376.5h1.6M1653.8,376.5h1.6M1749.8,376.5h1.6M1796.2,376.5h1.6M1111.4,387.9h1.6M1143.4,387.9h1.6M1252.2,387.9h1.6M1309.8,387.9h1.6M1394.6,387.9h1.6M1421.8,387.9h1.6M1442.6,387.9h1.6M1452.2,387.9h1.6M1457,387.9h1.6M1485.8,387.9h1.6M1490.6,387.9h1.6M1543.4,387.9h1.6M1562.6,387.9h1.6M1588.2,387.9h1.6M1609,387.9h1.6M1615.4,387.9h1.6M1637.8,387.9h3.2M1697,387.9h1.6M1065,399.3h1.6M1273,399.3h1.6M1553,399.3h1.6M1577,399.3h1.6M1585,399.3h1.6M1588.2,399.3h1.6M1591.4,399.3h1.6M1602.6,399.3h1.6M1605.8,399.3h1.6M1617,399.3h1.6M1068.2,410.7h1.6M1090.6,410.7h1.6M1116.2,410.7h1.6M1157.8,410.7h1.6M1268.2,410.7h1.6M1297,410.7h1.6M1316.2,410.7h1.6M1361,410.7h1.6M1425,410.7h1.6M1529,410.7h1.6M1554.6,410.7h1.6M1655.4,410.7h1.6M1769,410.7h1.6M1791.4,410.7h1.6M1093.8,422.1h1.6M1237.8,422.1h1.6M1353,422.1h1.6M1361,422.1h1.6M1497,422.1h1.6M1551.4,422.1h1.6M1601,422.1h1.6M1745,422.1h1.6M1756.2,422.1h1.6M1809,422.1h1.6M1098.6,433.5h1.6M1276.2,433.5h1.6M1351.4,433.5h1.6M1377,433.5h1.6M1572.2,433.5h1.6M1577,433.5h1.6M1589.8,433.5h1.6M1604.2,433.5h1.6M1677.8,433.5h1.6M1711.4,433.5h1.6M1756.2,433.5h1.6M1063.4,444.9h1.6M1703.4,444.9h1.6M1708.2,444.9h1.6M1733.8,444.9h1.6M1777,444.9h1.6M1060.2,456.3h1.6M1175.4,456.3h1.6M1194.6,456.3h1.6M1349.8,456.3h1.6M1631.4,456.3h1.6M1681,456.3h1.6M1829.8,456.3h1.6M1207.4,467.7h1.6M1212.2,467.7h1.6M1293.8,467.7h1.6M1373.8,467.7h1.6M1417,467.7h1.6M1529,467.7h1.6M1594.6,467.7h1.6M1633,467.7h1.6M1689,467.7h1.6M1729,467.7h1.6M1111.4,479.1h1.6M1226.6,479.1h1.6M1266.6,479.1h1.6M1276.2,479.1h1.6M1386.6,479.1h1.6M1437.8,479.1h1.6M1559.4,479.1h1.6M1572.2,479.1h1.6M1673,479.1h1.6M1687.4,479.1h1.6M1692.2,479.1h1.6M1724.2,479.1h1.6M1253.8,490.5h1.6M1261.8,490.5h1.6M1271.4,490.5h3.2M1314.6,490.5h1.6M1535.4,490.5h1.6M1585,490.5h1.6M1079.4,501.9h1.6M1084.2,501.9h1.6M1111.4,501.9h1.6M1197.8,501.9h1.6M1225,501.9h1.6M1242.6,501.9h1.6M1329,501.9h1.6M1489,501.9h1.6M1765.8,501.9h1.6M1141.8,513.3h1.6M1369,513.3h1.6M1530.6,513.3h1.6M1599.4,513.3h1.6M1799.4,513.3h1.6M1796.2,524.7h1.6M1101.8,536.1h1.6M1106.6,536.1h1.6M1196.2,536.1h1.6M1209,536.1h1.6M1257,536.1h1.6M1276.2,536.1h1.6M1281,536.1h1.6M1306.6,536.1h1.6M1330.6,536.1h1.6M1386.6,536.1h1.6M1413.8,536.1h1.6M1437.8,536.1h1.6M1449,536.1h1.6M1610.6,536.1h1.6M1762.6,536.1h1.6M1767.4,536.1h1.6M1773.8,536.1h1.6M1778.6,536.1h1.6M1785,536.1h1.6M1068.2,547.5h1.6M1141.8,547.5h1.6M1146.6,547.5h1.6M1193,547.5h1.6M1237.8,547.5h1.6M1245.8,547.5h1.6M1276.2,547.5h1.6M1396.2,547.5h1.6M1431.4,547.5h1.6M1458.6,547.5h1.6M1751.4,547.5h1.6M1757.8,547.5h1.6M1777,547.5h1.6M1796.2,547.5h1.6M1801,547.5h1.6M1233,558.9h1.6M1399.4,558.9h1.6M1412.2,558.9h1.6M1465,558.9h1.6M1476.2,558.9h1.6M1481,558.9h1.6M1484.2,558.9h1.6M1498.6,558.9h1.6M1085.8,570.3h1.6M1249,570.3h1.6M1257,570.3h1.6M1367.4,570.3h1.6M1401,570.3h1.6M1423.4,570.3h1.6M1437.8,570.3h1.6M1522.6,570.3h1.6M1549.8,570.3h1.6M1621.8,570.3h1.6M1785,570.3h1.6M1797.8,570.3h3.2M1114.6,581.7h1.6M1129,581.7h1.6M1189.8,581.7h1.6M1213.8,581.7h1.6M1277.8,581.7h1.6M1287.4,581.7h1.6M1322.6,581.7h1.6M1365.8,581.7h1.6M1426.6,581.7h1.6M1447.4,581.7h1.6M1775.4,581.7h1.6M1793,581.7h1.6M1837.8,593.1h3.2M1178.6,604.5h1.6M1812.2,604.5h3.2M1817,604.5h1.6M1837.8,604.5h3.2M1145,615.9h1.6M1668.2,615.9h1.6M1804.2,615.9h1.6M1829.8,615.9h1.6M1833,615.9h1.6M1295.4,627.3h1.6M1817,627.3h1.6M1829.8,627.3h1.6M1839.4,627.3h1.6M1479.4,638.7h1.6M1741.8,638.7h1.6M1809,638.7h1.6M1823.4,638.7h1.6M1839.4,638.7h1.6M1828.2,650.1h1.6M1098.6,661.5h1.6M1265,661.5h1.6M1393,661.5h1.6M1460.2,661.5h1.6M1485.8,661.5h1.6M1689,661.5h1.6M1783.4,661.5h1.6M1809,661.5h1.6M1818.6,661.5h1.6M1823.4,661.5h1.6M1831.4,661.5h1.6M1065,672.9h1.6M1541.8,672.9h1.6M1546.6,672.9h3.2M1594.6,672.9h1.6M1604.2,672.9h1.6M1690.6,672.9h1.6M1815.4,672.9h3.2M1825,672.9h1.6M1836.2,672.9h1.6M1530.6,684.3h1.6M1804.2,684.3h1.6M1823.4,684.3h1.6M1834.6,684.3h1.6M1074.6,695.7h1.6M1159.4,695.7h1.6M1549.8,695.7h1.6M1556.2,695.7h1.6M1562.6,695.7h3.2M1570.6,695.7h1.6M1575.4,695.7h1.6M1580.2,695.7h1.6M1593,695.7h1.6M1807.4,695.7h1.6M1812.2,695.7h1.6M1833,695.7h3.2M1839.4,695.7h1.6" stroke="#ff442a" stroke-width="11.7" fill="none"/>
<path d="M1207.4,91.5h1.6M1149.8,114.3h1.6M1185,114.3h1.6M1812.2,114.3h1.6M1060.2,125.7h1.6M1071.4,125.7h1.6M1210.6,125.7h1.6M1090.6,137.1h1.6M1183.4,137.1h1.6M1346.6,137.1h1.6M1508.2,137.1h1.6M1746.6,137.1h1.6M1759.4,137.1h1.6M1170.6,148.5h1.6M1341.8,148.5h1.6M1349.8,148.5h1.6M1106.6,159.9h1.6M1199.4,159.9h1.6M1066.6,182.7h1.6M1162.6,182.7h1.6M1465,182.7h1.6M1698.6,182.7h1.6M1396.2,194.1h1.6M1421.8,194.1h1.6M1426.6,194.1h1.6M1450.6,194.1h1.6M1487.4,194.1h1.6M1503.4,194.1h1.6M1514.6,194.1h3.2M1521,194.1h1.6M1655.4,194.1h1.6M1388.2,205.5h1.6M1396.2,205.5h1.6M1409,205.5h1.6M1413.8,205.5h1.6M1445.8,205.5h1.6M1449,205.5h1.6M1457,205.5h1.6M1473,205.5h1.6M1481,205.5h1.6M1487.4,205.5h3.2M1500.2,205.5h1.6M1063.4,216.9h1.6M1428.2,216.9h1.6M1431.4,216.9h1.6M1452.2,216.9h1.6M1458.6,216.9h3.2M1508.2,216.9h1.6M1389.8,228.3h1.6M1394.6,228.3h1.6M1399.4,228.3h3.2M1437.8,228.3h3.2M1453.8,228.3h1.6M1465,228.3h1.6M1469.8,228.3h1.6M1490.6,228.3h3.2M1500.2,228.3h1.6M1423.4,239.7h1.6M1449,239.7h6.4M1466.6,239.7h1.6M1469.8,239.7h1.6M1479.4,239.7h1.6M1482.6,239.7h1.6M1490.6,239.7h3.2M1509.8,239.7h1.6M1409,251.1h1.6M1449,251.1h1.6M1463.4,251.1h1.6M1482.6,251.1h1.6M1501.8,251.1h1.6M1505,251.1h1.6M1508.2,251.1h1.6M1522.6,251.1h1.6M1404.2,262.5h1.6M1556.2,262.5h1.6M1465,273.9h1.6M1511.4,273.9h1.6M1327.4,285.3h1.6M1394.6,285.3h1.6M1412.2,285.3h1.6M1460.2,285.3h1.6M1487.4,285.3h1.6M1493.8,285.3h1.6M1391.4,296.7h1.6M1394.6,296.7h1.6M1399.4,296.7h3.2M1410.6,296.7h1.6M1428.2,296.7h1.6M1431.4,296.7h1.6M1439.4,296.7h3.2M1460.2,296.7h3.2M1481,296.7h1.6M1489,296.7h1.6M1509.8,296.7h1.6M1215.4,308.1h1.6M1529,308.1h3.2M1545,308.1h1.6M1548.2,308.1h1.6M1578.6,308.1h1.6M1625,308.1h1.6M1637.8,308.1h1.6M1151.4,319.5h1.6M1530.6,319.5h1.6M1541.8,319.5h1.6M1613.8,319.5h1.6M1617,319.5h1.6M1780.2,319.5h1.6M1825,319.5h1.6M1529,330.9h1.6M1532.2,330.9h1.6M1545,330.9h1.6M1583.4,330.9h1.6M1589.8,330.9h1.6M1610.6,330.9h1.6M1620.2,330.9h1.6M1538.6,342.3h1.6M1543.4,342.3h1.6M1556.2,342.3h1.6M1564.2,342.3h1.6M1569,342.3h1.6M1599.4,342.3h1.6M1620.2,342.3h1.6M1666.6,342.3h1.6M1524.2,353.7h1.6M1549.8,353.7h1.6M1564.2,353.7h1.6M1605.8,353.7h1.6M1634.6,353.7h1.6M1525.8,365.1h1.6M1537,365.1h1.6M1540.2,365.1h1.6M1572.2,365.1h1.6M1605.8,365.1h3.2M1645.8,365.1h1.6M1132.2,376.5h1.6M1545,376.5h1.6M1593,376.5h1.6M1602.6,376.5h1.6M1615.4,376.5h1.6M1628.2,376.5h1.6M1636.2,376.5h1.6M1708.2,376.5h1.6M1132.2,387.9h1.6M1423.4,387.9h1.6M1487.4,387.9h1.6M1493.8,387.9h1.6M1500.2,387.9h1.6M1527.4,387.9h1.6M1540.2,387.9h1.6M1554.6,387.9h1.6M1570.6,387.9h1.6M1575.4,387.9h1.6M1599.4,387.9h1.6M1612.2,387.9h3.2M1188.2,399.3h1.6M1580.2,399.3h1.6M1607.4,399.3h1.6M1615.4,399.3h1.6M1626.6,399.3h1.6M1802.6,399.3h1.6M1109.8,410.7h1.6M1113,410.7h1.6M1162.6,410.7h1.6M1628.2,410.7h1.6M1711.4,410.7h1.6M1226.6,422.1h1.6M1439.4,422.1h1.6M1452.2,422.1h1.6M1645.8,422.1h1.6M1663.4,422.1h1.6M1733.8,422.1h1.6M1783.4,433.5h1.6M1057,444.9h1.6M1207.4,444.9h1.6M1529,444.9h1.6M1540.2,444.9h1.6M1633,444.9h1.6M1671.4,444.9h1.6M1810.6,444.9h1.6M1162.6,456.3h1.6M1717.8,456.3h1.6M1084.2,467.7h1.6M1474.6,467.7h1.6M1545,467.7h1.6M1257,479.1h1.6M1300.2,479.1h1.6M1401,479.1h1.6M1452.2,479.1h1.6M1274.6,490.5h1.6M1493.8,490.5h1.6M1172.2,501.9h1.6M1281,501.9h1.6M1431.4,501.9h1.6M1521,501.9h1.6M1589.8,501.9h1.6M1746.6,501.9h1.6M1749.8,501.9h1.6M1754.6,501.9h1.6M1775.4,501.9h1.6M1785,501.9h1.6M1749.8,513.3h1.6M1753,513.3h1.6M1759.4,513.3h3.2M1780.2,513.3h1.6M1452.2,524.7h1.6M1751.4,524.7h1.6M1103.4,536.1h1.6M1143.4,536.1h3.2M1295.4,536.1h1.6M1453.8,536.1h1.6M1525.8,536.1h1.6M1549.8,536.1h1.6M1087.4,547.5h1.6M1132.2,547.5h1.6M1170.6,547.5h1.6M1202.6,547.5h1.6M1305,547.5h1.6M1466.6,547.5h1.6M1537,547.5h1.6M1786.6,547.5h1.6M1274.6,558.9h1.6M1434.6,558.9h1.6M1791.4,558.9h1.6M1340.2,570.3h1.6M1487.4,570.3h1.6M1802.6,570.3h1.6M1228.2,581.7h1.6M1468.2,581.7h1.6M1476.2,581.7h1.6M1572.2,581.7h1.6M1809,581.7h1.6M1805.8,593.1h1.6M1810.6,593.1h1.6M1829.8,593.1h1.6M1815.4,604.5h1.6M1828.2,604.5h1.6M1810.6,615.9h1.6M1817,615.9h1.6M1825,615.9h1.6M1831.4,615.9h1.6M1836.2,615.9h1.6M1679.4,627.3h1.6M1804.2,627.3h1.6M1818.6,627.3h1.6M1825,627.3h1.6M1097,638.7h1.6M1233,638.7h1.6M1629.8,638.7h1.6M1665,638.7h1.6M1716.2,638.7h1.6M1807.4,638.7h1.6M1812.2,638.7h1.6M1815.4,638.7h1.6M1825,638.7h1.6M1809,650.1h1.6M1812.2,650.1h1.6M1815.4,650.1h1.6M1821.8,650.1h3.2M1829.8,650.1h1.6M1839.4,650.1h1.6M1169,661.5h1.6M1565.8,661.5h1.6M1615.4,661.5h1.6M1684.2,661.5h1.6M1804.2,661.5h1.6M1820.2,661.5h1.6M1826.6,661.5h1.6M1834.6,661.5h3.2M1100.2,672.9h1.6M1537,672.9h1.6M1655.4,672.9h1.6M1668.2,672.9h1.6M1671.4,672.9h1.6M1805.8,672.9h1.6M1809,672.9h1.6M1820.2,672.9h1.6M1585,684.3h1.6M1634.6,684.3h1.6M1812.2,684.3h3.2M1154.6,695.7h1.6M1591.4,695.7h1.6M1605.8,695.7h1.6M1620.2,695.7h1.6M1628.2,695.7h1.6M1682.6,695.7h1.6M1818.6,695.7h1.6M1826.6,695.7h1.6" stroke="#ff2814" stroke-width="11.7" fill="none"/>
<path d="M1145,91.5h1.6M1135.4,102.9h1.6M1813.8,102.9h1.6M1303.4,114.3h1.6M1805.8,114.3h1.6M1218.6,125.7h1.6M1106.6,137.1h1.6M1356.2,137.1h1.6M1077.8,148.5h1.6M1308.2,148.5h1.6M1788.2,171.3h1.6M1823.4,171.3h1.6M1276.2,182.7h1.6M1316.2,182.7h1.6M1505,182.7h1.6M1388.2,194.1h1.6M1397.8,194.1h1.6M1402.6,194.1h1.6M1410.6,194.1h1.6M1417,194.1h1.6M1468.2,194.1h3.2M1477.8,194.1h1.6M1393,205.5h1.6M1421.8,205.5h1.6M1425,205.5h1.6M1436.2,205.5h1.6M1450.6,205.5h1.6M1453.8,205.5h1.6M1482.6,205.5h1.6M1485.8,205.5h1.6M1497,205.5h3.2M1508.2,205.5h1.6M1412.2,216.9h3.2M1418.6,216.9h1.6M1453.8,216.9h3.2M1497,216.9h1.6M1212.2,228.3h1.6M1415.4,228.3h3.2M1421.8,228.3h3.2M1426.6,228.3h4.8M1458.6,228.3h1.6M1474.6,228.3h1.6M1482.6,228.3h1.6M1489,228.3h1.6M1505,228.3h1.6M1508.2,228.3h3.2M1519.4,228.3h1.6M1396.2,239.7h1.6M1405.8,239.7h1.6M1418.6,239.7h1.6M1441,239.7h1.6M1436.2,251.1h1.6M1441,251.1h1.6M1447.4,251.1h1.6M1469.8,251.1h1.6M1484.2,251.1h1.6M1493.8,251.1h1.6M1498.6,251.1h1.6M1405.8,285.3h1.6M1417,285.3h1.6M1458.6,285.3h1.6M1485.8,285.3h1.6M1409,296.7h1.6M1425,296.7h1.6M1445.8,296.7h1.6M1452.2,296.7h1.6M1490.6,296.7h1.6M1505,296.7h1.6M1567.4,308.1h1.6M1593,308.1h3.2M1605.8,308.1h1.6M1633,308.1h3.2M1305,319.5h1.6M1529,319.5h1.6M1561,319.5h1.6M1565.8,319.5h1.6M1551.4,330.9h3.2M1580.2,330.9h1.6M1599.4,330.9h1.6M1529,342.3h1.6M1589.8,342.3h1.6M1604.2,342.3h1.6M1612.2,342.3h1.6M1634.6,342.3h1.6M1637.8,342.3h1.6M1578.6,353.7h1.6M1585,365.1h1.6M1613.8,365.1h1.6M1631.4,365.1h1.6M1133.8,376.5h1.6M1257,376.5h1.6M1557.8,376.5h1.6M1564.2,376.5h1.6M1415.4,387.9h1.6M1530.6,387.9h1.6M1580.2,387.9h1.6M1604.2,387.9h1.6M1677.8,387.9h1.6M1820.2,387.9h1.6M1573.8,399.3h1.6M1298.6,410.7h1.6M1591.4,410.7h1.6M1313,422.1h1.6M1641,422.1h1.6M1695.4,433.5h1.6M1759.4,433.5h1.6M1697,467.7h1.6M1738.6,467.7h1.6M1114.6,490.5h1.6M1404.2,501.9h1.6M1757.8,501.9h1.6M1783.4,501.9h1.6M1746.6,513.3h1.6M1802.6,513.3h1.6M1781.8,536.1h1.6M1791.4,536.1h1.6M1061.8,547.5h1.6M1764.2,547.5h1.6M1436.2,558.9h1.6M1601,558.9h1.6M1761,558.9h1.6M1789.8,558.9h1.6M1292.2,570.3h1.6M1421.8,570.3h1.6M1823.4,570.3h1.6M1084.2,581.7h1.6M1193,581.7h1.6M1804.2,593.1h1.6M1809,593.1h1.6M1818.6,593.1h1.6M1821.8,593.1h1.6M1807.4,604.5h1.6M1823.4,604.5h1.6M1834.6,604.5h1.6M1805.8,615.9h1.6M1820.2,615.9h3.2M1826.6,615.9h3.2M1834.6,615.9h1.6M1837.8,615.9h1.6M1807.4,627.3h1.6M1820.2,627.3h1.6M1833,627.3h1.6M1631.4,638.7h1.6M1813.8,638.7h1.6M1834.6,638.7h1.6M1521,661.5h1.6M1828.2,661.5h1.6M1813.8,672.9h1.6M1818.6,672.9h1.6M1826.6,672.9h1.6M1605.8,684.3h1.6M1805.8,684.3h3.2M1821.8,684.3h1.6M1559.4,695.7h3.2M1637.8,695.7h1.6M1725.8,695.7h1.6M1825,695.7h1.6M1831.4,695.7h1.6" stroke="#ff140a" stroke-width="11.7" fill="none"/>
<path d="M1065,91.5h1.6M1089,171.3h1.6M1389.8,194.1h1.6M1404.2,194.1h1.6M1413.8,194.1h1.6M1428.2,194.1h1.6M1431.4,194.1h1.6M1453.8,194.1h1.6M1481,194.1h1.6M1484.2,194.1h1.6M1493.8,194.1h1.6M1501.8,194.1h1.6M1505,194.1h1.6M1511.4,194.1h1.6M1391.4,205.5h1.6M1404.2,205.5h3.2M1412.2,205.5h1.6M1417,205.5h1.6M1428.2,205.5h1.6M1437.8,205.5h1.6M1506.6,205.5h1.6M1415.4,216.9h1.6M1481,216.9h1.6M1431.4,228.3h6.4M1457,228.3h1.6M1473,228.3h1.6M1479.4,228.3h3.2M1485.8,228.3h1.6M1493.8,228.3h1.6M1516.2,228.3h1.6M1426.6,239.7h1.6M1436.2,239.7h1.6M1458.6,239.7h1.6M1468.2,239.7h1.6M1474.6,239.7h1.6M1487.4,239.7h1.6M1493.8,239.7h1.6M1503.4,239.7h1.6M1513,239.7h1.6M1521,239.7h1.6M1421.8,251.1h1.6M1442.6,251.1h1.6M1474.6,251.1h1.6M1404.2,296.7h1.6M1420.2,296.7h1.6M1455.4,296.7h1.6M1519.4,296.7h1.6M1538.6,308.1h1.6M1541.8,308.1h1.6M1556.2,308.1h1.6M1577,308.1h1.6M1602.6,308.1h1.6M1607.4,308.1h1.6M1626.6,308.1h1.6M1631.4,308.1h1.6M1527.4,319.5h1.6M1583.4,319.5h1.6M1604.2,319.5h3.2M1615.4,319.5h1.6M1620.2,319.5h1.6M1625,319.5h1.6M1524.2,330.9h1.6M1586.6,330.9h1.6M1612.2,330.9h1.6M1626.6,330.9h1.6M1633,330.9h1.6M1636.2,330.9h1.6M1541.8,342.3h1.6M1577,342.3h1.6M1588.2,342.3h1.6M1593,342.3h1.6M1617,342.3h1.6M1553,353.7h1.6M1599.4,365.1h1.6M1623.4,365.1h1.6M1559.4,376.5h1.6M1573.8,376.5h1.6M1524.2,387.9h1.6M1535.4,387.9h1.6M1538.6,387.9h1.6M1730.6,433.5h1.6M1106.6,479.1h1.6M1748.2,501.9h1.6M1778.6,513.3h1.6M1793,513.3h1.6M1495.4,536.1h1.6M1764.2,536.1h1.6M1794.6,536.1h1.6M1788.2,547.5h1.6M1215.4,570.3h1.6M1253.8,581.7h1.6M1637.8,581.7h1.6M1756.2,581.7h1.6M1812.2,593.1h3.2M1817,593.1h1.6M1820.2,593.1h1.6M1823.4,593.1h1.6M1828.2,593.1h1.6M1831.4,593.1h3.2M1836.2,593.1h1.6M1804.2,604.5h3.2M1809,604.5h3.2M1818.6,604.5h4.8M1825,604.5h3.2M1829.8,604.5h1.6M1833,604.5h1.6M1836.2,604.5h1.6M1807.4,615.9h3.2M1812.2,615.9h1.6M1818.6,615.9h1.6M1823.4,615.9h1.6M1812.2,627.3h3.2M1823.4,627.3h1.6M1828.2,627.3h1.6M1834.6,627.3h3.2M1805.8,638.7h1.6M1818.6,638.7h1.6M1831.4,638.7h1.6M1810.6,650.1h1.6M1813.8,650.1h1.6M1820.2,650.1h1.6M1825,650.1h3.2M1836.2,650.1h1.6M1805.8,661.5h3.2M1810.6,661.5h4.8M1821.8,661.5h1.6M1825,661.5h1.6M1829.8,661.5h1.6M1833,661.5h1.6M1804.2,672.9h1.6M1807.4,672.9h1.6M1810.6,672.9h3.2M1821.8,672.9h1.6M1828.2,672.9h4.8M1834.6,672.9h1.6M1839.4,672.9h1.6M1810.6,684.3h1.6M1818.6,684.3h3.2M1837.8,684.3h1.6M1594.6,695.7h1.6M1821.8,695.7h1.6M1829.8,695.7h1.6" stroke="#ff0000" stroke-width="11.7" fill="none"/>
<rect x="1388.1" y="85.8" width="1.8" height="615.6" fill="#7f7f7f"/>
<rect x="1523.1" y="85.8" width="1.8" height="615.6" fill="#7f7f7f"/>
<rect x="1638.9" y="85.8" width="1.8" height="615.6" fill="#7f7f7f"/>
<rect x="1746.3" y="85.8" width="1.8" height="615.6" fill="#7f7f7f"/>
<rect x="1803.8" y="85.8" width="1.8" height="615.6" fill="#7f7f7f"/>
<rect x="1839.5" y="85.8" width="1.8" height="615.6" fill="#7f7f7f"/>
</g>
<defs><linearGradient id="gb" x1="0" y1="0" x2="0" y2="1"><stop offset="0" stop-color="#ff1e0a"/><stop offset="0.1" stop-color="#ff3c1e"/><stop offset="0.3" stop-color="#ff9670"/><stop offset="0.5" stop-color="#ffffff"/><stop offset="0.7" stop-color="#c8a5ff"/><stop offset="0.9" stop-color="#5a32ff"/><stop offset="1" stop-color="#1e14ff"/></linearGradient></defs>
<rect x="1913.5" y="160.0" width="40.2" height="215.8" fill="url(#gb)"/>
<line x1="1913.5" y1="181.5" x2="1922.0" y2="181.5" stroke="#fff" stroke-width="2"/>
<line x1="1945.2" y1="181.5" x2="1953.7" y2="181.5" stroke="#fff" stroke-width="2"/>
<line x1="1913.5" y1="225.2" x2="1922.0" y2="225.2" stroke="#fff" stroke-width="2"/>
<line x1="1945.2" y1="225.2" x2="1953.7" y2="225.2" stroke="#fff" stroke-width="2"/>
<line x1="1913.5" y1="312.8" x2="1922.0" y2="312.8" stroke="#fff" stroke-width="2"/>
<line x1="1945.2" y1="312.8" x2="1953.7" y2="312.8" stroke="#fff" stroke-width="2"/>
<line x1="1913.5" y1="356.7" x2="1922.0" y2="356.7" stroke="#fff" stroke-width="2"/>
<line x1="1945.2" y1="356.7" x2="1953.7" y2="356.7" stroke="#fff" stroke-width="2"/>
<text x="1971.5" y="175.8" font-size="39">2</text>
<text x="1969.5" y="221.4" font-size="39">1</text>
<text x="1969.8" y="275.1" font-size="39">0</text>
<text x="1958.5" y="324.1" font-size="39">-1</text>
<text x="1960.5" y="377.1" font-size="39">-2</text>
<text x="1900.5" y="258.4" font-size="42" text-anchor="middle" textLength="186.0" lengthAdjust="spacingAndGlyphs" transform="rotate(-90 1900.5 258.4)">expression</text>
<rect x="482.2" y="777.7" width="450.7" height="615.6" fill="#ebebeb"/>
<line x1="502.1" y1="777.7" x2="502.1" y2="1393.3" stroke="#fff" stroke-width="1.8"/>
<line x1="584.8" y1="777.7" x2="584.8" y2="1393.3" stroke="#fff" stroke-width="1.8"/>
<line x1="666.8" y1="777.7" x2="666.8" y2="1393.3" stroke="#fff" stroke-width="1.8"/>
<line x1="748.6" y1="777.7" x2="748.6" y2="1393.3" stroke="#fff" stroke-width="1.8"/>
<line x1="831.8" y1="777.7" x2="831.8" y2="1393.3" stroke="#fff" stroke-width="1.8"/>
<line x1="914.5" y1="777.7" x2="914.5" y2="1393.3" stroke="#fff" stroke-width="1.8"/>
<line x1="482.2" y1="809.8" x2="932.9" y2="809.8" stroke="#fff" stroke-width="1.8"/>
<line x1="474.8" y1="809.8" x2="482.2" y2="809.8" stroke="#333" stroke-width="1.6"/>
<line x1="482.2" y1="864.9" x2="932.9" y2="864.9" stroke="#fff" stroke-width="1.8"/>
<line x1="474.8" y1="864.9" x2="482.2" y2="864.9" stroke="#333" stroke-width="1.6"/>
<line x1="482.2" y1="920.0" x2="932.9" y2="920.0" stroke="#fff" stroke-width="1.8"/>
<line x1="474.8" y1="920.0" x2="482.2" y2="920.0" stroke="#333" stroke-width="1.6"/>
<line x1="482.2" y1="975.1" x2="932.9" y2="975.1" stroke="#fff" stroke-width="1.8"/>
<line x1="474.8" y1="975.1" x2="482.2" y2="975.1" stroke="#333" stroke-width="1.6"/>
<line x1="482.2" y1="1030.2" x2="932.9" y2="1030.2" stroke="#fff" stroke-width="1.8"/>
<line x1="474.8" y1="1030.2" x2="482.2" y2="1030.2" stroke="#333" stroke-width="1.6"/>
<line x1="482.2" y1="1085.9" x2="932.9" y2="1085.9" stroke="#fff" stroke-width="1.8"/>
<line x1="474.8" y1="1085.9" x2="482.2" y2="1085.9" stroke="#333" stroke-width="1.6"/>
<line x1="482.2" y1="1141.0" x2="932.9" y2="1141.0" stroke="#fff" stroke-width="1.8"/>
<line x1="474.8" y1="1141.0" x2="482.2" y2="1141.0" stroke="#333" stroke-width="1.6"/>
<line x1="482.2" y1="1195.5" x2="932.9" y2="1195.5" stroke="#fff" stroke-width="1.8"/>
<line x1="474.8" y1="1195.5" x2="482.2" y2="1195.5" stroke="#333" stroke-width="1.6"/>
<line x1="482.2" y1="1251.2" x2="932.9" y2="1251.2" stroke="#fff" stroke-width="1.8"/>
<line x1="474.8" y1="1251.2" x2="482.2" y2="1251.2" stroke="#333" stroke-width="1.6"/>
<line x1="482.2" y1="1306.3" x2="932.9" y2="1306.3" stroke="#fff" stroke-width="1.8"/>
<line x1="474.8" y1="1306.3" x2="482.2" y2="1306.3" stroke="#333" stroke-width="1.6"/>
<line x1="482.2" y1="1361.4" x2="932.9" y2="1361.4" stroke="#fff" stroke-width="1.8"/>
<line x1="474.8" y1="1361.4" x2="482.2" y2="1361.4" stroke="#333" stroke-width="1.6"/>
<line x1="502.1" y1="1393.3" x2="502.1" y2="1396.5" stroke="#333" stroke-width="1.4"/>
<line x1="584.8" y1="1393.3" x2="584.8" y2="1396.5" stroke="#333" stroke-width="1.4"/>
<line x1="666.8" y1="1393.3" x2="666.8" y2="1396.5" stroke="#333" stroke-width="1.4"/>
<line x1="748.6" y1="1393.3" x2="748.6" y2="1396.5" stroke="#333" stroke-width="1.4"/>
<line x1="831.8" y1="1393.3" x2="831.8" y2="1396.5" stroke="#333" stroke-width="1.4"/>
<line x1="914.5" y1="1393.3" x2="914.5" y2="1396.5" stroke="#333" stroke-width="1.4"/>
<text x="179.3" y="823.7" font-size="40" textLength="280.7" lengthAdjust="spacingAndGlyphs">cell proliferation</text>
<text x="105.3" y="882.6" font-size="40" textLength="355.2" lengthAdjust="spacingAndGlyphs">vessel development</text>
<text x="11.5" y="941.8" font-size="40" textLength="448.5" lengthAdjust="spacingAndGlyphs">vasculature development</text>
<text x="143.5" y="994.9" font-size="40" textLength="318.0" lengthAdjust="spacingAndGlyphs">ECM organization</text>
<text x="200.2" y="1051.5" font-size="40" textLength="261.3" lengthAdjust="spacingAndGlyphs">axon guidance</text>
<text x="71.0" y="1106.7" font-size="40" textLength="390.5" lengthAdjust="spacingAndGlyphs">RA metabolic process</text>
<text x="277.1" y="1162.7" font-size="40" textLength="184.4" lengthAdjust="spacingAndGlyphs">translation</text>
<text x="92.8" y="1220.2" font-size="40" textLength="368.7" lengthAdjust="spacingAndGlyphs">ribosome biogenesis</text>
<text x="18.2" y="1276.7" font-size="40" textLength="444.1" lengthAdjust="spacingAndGlyphs">epithelial morphogenesis</text>
<text x="155.2" y="1328.7" font-size="40" textLength="303.3" lengthAdjust="spacingAndGlyphs">rhythmic process</text>
<text x="27.5" y="1383.2" font-size="40" textLength="434.8" lengthAdjust="spacingAndGlyphs">regulation of chemotaxis</text>
<text x="355.5" y="1438.4" font-size="40" textLength="118.4" lengthAdjust="spacingAndGlyphs">cluster</text>
<text x="518.2" y="1438.0" font-size="38.6" text-anchor="middle">1</text>
<text x="595.4" y="1438.0" font-size="38.6" text-anchor="middle">2</text>
<text x="673.2" y="1438.0" font-size="38.6" text-anchor="middle">3</text>
<text x="761.5" y="1438.0" font-size="38.6" text-anchor="middle">4</text>
<text x="840.0" y="1438.0" font-size="38.6" text-anchor="middle">5</text>
<text x="917.2" y="1438.0" font-size="38.6" text-anchor="middle">6</text>
<ellipse cx="666.8" cy="809.8" rx="15.6" ry="15.0" fill="#2800f5"/>
<ellipse cx="502.1" cy="864.9" rx="12.7" ry="12.2" fill="#3200f0"/>
<ellipse cx="666.8" cy="864.9" rx="12.5" ry="12.2" fill="#2300fa"/>
<ellipse cx="914.5" cy="864.9" rx="13.3" ry="12.5" fill="#0a00ff"/>
<ellipse cx="502.1" cy="920.0" rx="13.8" ry="13.0" fill="#6400dc"/>
<ellipse cx="666.8" cy="920.0" rx="10.7" ry="10.0" fill="#1400ff"/>
<ellipse cx="502.1" cy="975.1" rx="16.9" ry="15.6" fill="#6400e1"/>
<ellipse cx="666.8" cy="975.1" rx="15.6" ry="14.7" fill="#3c00f0"/>
<ellipse cx="502.1" cy="1030.2" rx="16.0" ry="15.0" fill="#4b00eb"/>
<ellipse cx="748.6" cy="1030.2" rx="17.8" ry="16.9" fill="#1400ff"/>
<ellipse cx="584.8" cy="1085.9" rx="31.0" ry="28.6" fill="#5a00e6"/>
<ellipse cx="584.8" cy="1141.0" rx="17.1" ry="16.0" fill="#7800d7"/>
<ellipse cx="748.6" cy="1141.0" rx="28.3" ry="26.0" fill="#ff0000"/>
<ellipse cx="584.8" cy="1195.5" rx="14.2" ry="13.0" fill="#1e00fa"/>
<ellipse cx="748.6" cy="1195.5" rx="21.4" ry="19.9" fill="#7800d7"/>
<ellipse cx="831.8" cy="1251.2" rx="17.0" ry="15.8" fill="#0000ff"/>
<ellipse cx="831.8" cy="1306.3" rx="23.0" ry="21.0" fill="#2300fa"/>
<ellipse cx="914.5" cy="1361.4" rx="20.4" ry="19.9" fill="#3200f5"/>
<defs><linearGradient id="gc" x1="0" y1="0" x2="0" y2="1"><stop offset="0" stop-color="#ff0014"/><stop offset="0.35" stop-color="#e6005a"/><stop offset="0.6" stop-color="#c000a0"/><stop offset="0.82" stop-color="#8c00dc"/><stop offset="1" stop-color="#1e00ff"/></linearGradient></defs>
<rect x="1006.1" y="840.3" width="44.6" height="180.1" fill="url(#gc)"/>
<line x1="1006.1" y1="846.5" x2="1013.0" y2="846.5" stroke="#fff" stroke-width="1.8"/>
<line x1="1043.8" y1="846.5" x2="1050.7" y2="846.5" stroke="#fff" stroke-width="1.8"/>
<line x1="1006.1" y1="882.8" x2="1013.0" y2="882.8" stroke="#fff" stroke-width="1.8"/>
<line x1="1043.8" y1="882.8" x2="1050.7" y2="882.8" stroke="#fff" stroke-width="1.8"/>
<line x1="1006.1" y1="919.0" x2="1013.0" y2="919.0" stroke="#fff" stroke-width="1.8"/>
<line x1="1043.8" y1="919.0" x2="1050.7" y2="919.0" stroke="#fff" stroke-width="1.8"/>
<line x1="1006.1" y1="955.4" x2="1013.0" y2="955.4" stroke="#fff" stroke-width="1.8"/>
<line x1="1043.8" y1="955.4" x2="1050.7" y2="955.4" stroke="#fff" stroke-width="1.8"/>
<line x1="1006.1" y1="991.6" x2="1013.0" y2="991.6" stroke="#fff" stroke-width="1.8"/>
<line x1="1043.8" y1="991.6" x2="1050.7" y2="991.6" stroke="#fff" stroke-width="1.8"/>
<text x="1059.5" y="861.8" font-size="38">50</text>
<text x="1055.5" y="936.1" font-size="38">30</text>
<text x="1059.0" y="1011.4" font-size="38">10</text>
<text transform="translate(985.9,1072.6) rotate(-90)" font-size="40" textLength="287" lengthAdjust="spacingAndGlyphs">-1*log<tspan font-size="26" dy="8.5">10</tspan><tspan dy="-8.5">(pValue)</tspan></text>
<rect x="1006.0" y="1144.2" width="55.0" height="218.7" fill="#f2f2f2"/>
<ellipse cx="1034" cy="1175.8" rx="21.1" ry="24.5" fill="#000"/>
<ellipse cx="1034" cy="1239" rx="19.2" ry="22.3" fill="#000"/>
<ellipse cx="1034" cy="1294.8" rx="17.5" ry="20.6" fill="#000"/>
<ellipse cx="1034" cy="1341.8" rx="14.2" ry="16.4" fill="#000"/>
<text x="1068.5" y="1185.3" font-size="39.5">40</text>
<text x="1071.0" y="1241.1" font-size="39.5">30</text>
<text x="1071.0" y="1298.9" font-size="39.5">20</text>
<text x="1067.0" y="1352.7" font-size="39.5">10</text>
<text x="993.7" y="1258.0" font-size="40" text-anchor="middle" textLength="197.5" lengthAdjust="spacingAndGlyphs" transform="rotate(-90 993.7 1258.0)">enrichment</text>
<line x1="1311.6" y1="775.0" x2="1311.6" y2="1337.2" stroke="#000" stroke-width="2.6"/>
<line x1="1310.3" y1="1335.9" x2="1905.5" y2="1335.9" stroke="#000" stroke-width="2.6"/>
<line x1="1292.0" y1="818.0" x2="1311.6" y2="818.0" stroke="#000" stroke-width="2.8"/>
<line x1="1292.0" y1="953.3" x2="1311.6" y2="953.3" stroke="#000" stroke-width="2.8"/>
<line x1="1292.0" y1="1088.1" x2="1311.6" y2="1088.1" stroke="#000" stroke-width="2.8"/>
<line x1="1292.0" y1="1219.8" x2="1311.6" y2="1219.8" stroke="#000" stroke-width="2.8"/>
<line x1="1416.0" y1="1335.9" x2="1416.0" y2="1355.0" stroke="#000" stroke-width="2.8"/>
<line x1="1572.8" y1="1335.9" x2="1572.8" y2="1355.0" stroke="#000" stroke-width="2.8"/>
<line x1="1731.3" y1="1335.9" x2="1731.3" y2="1355.0" stroke="#000" stroke-width="2.8"/>
<line x1="1889.7" y1="1335.9" x2="1889.7" y2="1355.0" stroke="#000" stroke-width="2.8"/>
<path d="M1336.4,1015.6l3.4,-3.4 3.4,3.4 -3.4,3.4zM1336.4,1029.1l3.4,-3.4 3.4,3.4 -3.4,3.4zM1341.2,993.1l3.4,-3.4 3.4,3.4 -3.4,3.4zM1341.2,997.6l3.4,-3.4 3.4,3.4 -3.4,3.4zM1341.2,1011.1l3.4,-3.4 3.4,3.4 -3.4,3.4zM1341.2,1015.6l3.4,-3.4 3.4,3.4 -3.4,3.4zM1341.2,1024.6l3.4,-3.4 3.4,3.4 -3.4,3.4zM1341.2,1033.6l3.4,-3.4 3.4,3.4 -3.4,3.4zM1341.2,1038.1l3.4,-3.4 3.4,3.4 -3.4,3.4zM1341.2,1042.6l3.4,-3.4 3.4,3.4 -3.4,3.4zM1346.0,993.1l3.4,-3.4 3.4,3.4 -3.4,3.4zM1346.0,1011.1l3.4,-3.4 3.4,3.4 -3.4,3.4zM1346.0,1020.1l3.4,-3.4 3.4,3.4 -3.4,3.4zM1346.0,1024.6l3.4,-3.4 3.4,3.4 -3.4,3.4zM1346.0,1038.1l3.4,-3.4 3.4,3.4 -3.4,3.4zM1346.0,1047.1l3.4,-3.4 3.4,3.4 -3.4,3.4zM1346.0,1051.6l3.4,-3.4 3.4,3.4 -3.4,3.4zM1350.8,979.6l3.4,-3.4 3.4,3.4 -3.4,3.4zM1350.8,997.6l3.4,-3.4 3.4,3.4 -3.4,3.4zM1350.8,1015.6l3.4,-3.4 3.4,3.4 -3.4,3.4zM1350.8,1024.6l3.4,-3.4 3.4,3.4 -3.4,3.4zM1350.8,1033.6l3.4,-3.4 3.4,3.4 -3.4,3.4zM1350.8,1038.1l3.4,-3.4 3.4,3.4 -3.4,3.4zM1350.8,1042.6l3.4,-3.4 3.4,3.4 -3.4,3.4zM1350.8,1047.1l3.4,-3.4 3.4,3.4 -3.4,3.4zM1355.6,984.1l3.4,-3.4 3.4,3.4 -3.4,3.4zM1355.6,1006.6l3.4,-3.4 3.4,3.4 -3.4,3.4zM1355.6,1020.1l3.4,-3.4 3.4,3.4 -3.4,3.4zM1355.6,1029.1l3.4,-3.4 3.4,3.4 -3.4,3.4zM1355.6,1033.6l3.4,-3.4 3.4,3.4 -3.4,3.4zM1355.6,1051.6l3.4,-3.4 3.4,3.4 -3.4,3.4zM1360.3,970.6l3.4,-3.4 3.4,3.4 -3.4,3.4zM1360.3,988.6l3.4,-3.4 3.4,3.4 -3.4,3.4zM1360.3,1002.1l3.4,-3.4 3.4,3.4 -3.4,3.4zM1360.3,1015.6l3.4,-3.4 3.4,3.4 -3.4,3.4zM1360.3,1029.1l3.4,-3.4 3.4,3.4 -3.4,3.4zM1360.3,1038.1l3.4,-3.4 3.4,3.4 -3.4,3.4zM1360.3,1042.6l3.4,-3.4 3.4,3.4 -3.4,3.4zM1360.3,1047.1l3.4,-3.4 3.4,3.4 -3.4,3.4zM1365.1,997.6l3.4,-3.4 3.4,3.4 -3.4,3.4zM1365.1,1020.1l3.4,-3.4 3.4,3.4 -3.4,3.4zM1365.1,1024.6l3.4,-3.4 3.4,3.4 -3.4,3.4zM1365.1,1038.1l3.4,-3.4 3.4,3.4 -3.4,3.4zM1365.1,1047.1l3.4,-3.4 3.4,3.4 -3.4,3.4zM1369.9,970.6l3.4,-3.4 3.4,3.4 -3.4,3.4zM1369.9,975.1l3.4,-3.4 3.4,3.4 -3.4,3.4zM1369.9,988.6l3.4,-3.4 3.4,3.4 -3.4,3.4zM1369.9,997.6l3.4,-3.4 3.4,3.4 -3.4,3.4zM1369.9,1020.1l3.4,-3.4 3.4,3.4 -3.4,3.4zM1374.7,952.6l3.4,-3.4 3.4,3.4 -3.4,3.4zM1374.7,988.6l3.4,-3.4 3.4,3.4 -3.4,3.4zM1374.7,1024.6l3.4,-3.4 3.4,3.4 -3.4,3.4zM1374.7,1033.6l3.4,-3.4 3.4,3.4 -3.4,3.4zM1374.7,1038.1l3.4,-3.4 3.4,3.4 -3.4,3.4zM1374.7,1042.6l3.4,-3.4 3.4,3.4 -3.4,3.4zM1379.5,984.1l3.4,-3.4 3.4,3.4 -3.4,3.4zM1379.5,997.6l3.4,-3.4 3.4,3.4 -3.4,3.4zM1379.5,1002.1l3.4,-3.4 3.4,3.4 -3.4,3.4zM1384.3,975.1l3.4,-3.4 3.4,3.4 -3.4,3.4zM1384.3,1038.1l3.4,-3.4 3.4,3.4 -3.4,3.4zM1389.1,975.1l3.4,-3.4 3.4,3.4 -3.4,3.4zM1389.1,979.6l3.4,-3.4 3.4,3.4 -3.4,3.4zM1389.1,988.6l3.4,-3.4 3.4,3.4 -3.4,3.4zM1389.1,993.1l3.4,-3.4 3.4,3.4 -3.4,3.4zM1389.1,1020.1l3.4,-3.4 3.4,3.4 -3.4,3.4zM1389.1,1042.6l3.4,-3.4 3.4,3.4 -3.4,3.4zM1393.9,979.6l3.4,-3.4 3.4,3.4 -3.4,3.4zM1393.9,993.1l3.4,-3.4 3.4,3.4 -3.4,3.4zM1393.9,1002.1l3.4,-3.4 3.4,3.4 -3.4,3.4zM1398.7,979.6l3.4,-3.4 3.4,3.4 -3.4,3.4zM1398.7,997.6l3.4,-3.4 3.4,3.4 -3.4,3.4zM1398.7,1020.1l3.4,-3.4 3.4,3.4 -3.4,3.4zM1398.7,1042.6l3.4,-3.4 3.4,3.4 -3.4,3.4zM1403.5,966.1l3.4,-3.4 3.4,3.4 -3.4,3.4zM1403.5,984.1l3.4,-3.4 3.4,3.4 -3.4,3.4zM1403.5,993.1l3.4,-3.4 3.4,3.4 -3.4,3.4zM1403.5,1024.6l3.4,-3.4 3.4,3.4 -3.4,3.4zM1403.5,1038.1l3.4,-3.4 3.4,3.4 -3.4,3.4zM1403.5,1186.6l3.4,-3.4 3.4,3.4 -3.4,3.4zM1408.2,1006.6l3.4,-3.4 3.4,3.4 -3.4,3.4zM1408.2,1029.1l3.4,-3.4 3.4,3.4 -3.4,3.4zM1408.2,1033.6l3.4,-3.4 3.4,3.4 -3.4,3.4zM1408.2,1038.1l3.4,-3.4 3.4,3.4 -3.4,3.4zM1408.2,1042.6l3.4,-3.4 3.4,3.4 -3.4,3.4zM1413.0,975.1l3.4,-3.4 3.4,3.4 -3.4,3.4zM1413.0,984.1l3.4,-3.4 3.4,3.4 -3.4,3.4zM1413.0,988.6l3.4,-3.4 3.4,3.4 -3.4,3.4zM1413.0,1002.1l3.4,-3.4 3.4,3.4 -3.4,3.4zM1413.0,1020.1l3.4,-3.4 3.4,3.4 -3.4,3.4zM1413.0,1173.1l3.4,-3.4 3.4,3.4 -3.4,3.4zM1417.8,984.1l3.4,-3.4 3.4,3.4 -3.4,3.4zM1417.8,997.6l3.4,-3.4 3.4,3.4 -3.4,3.4zM1417.8,1006.6l3.4,-3.4 3.4,3.4 -3.4,3.4zM1417.8,1015.6l3.4,-3.4 3.4,3.4 -3.4,3.4zM1417.8,1024.6l3.4,-3.4 3.4,3.4 -3.4,3.4zM1417.8,1033.6l3.4,-3.4 3.4,3.4 -3.4,3.4zM1417.8,1195.6l3.4,-3.4 3.4,3.4 -3.4,3.4zM1422.6,970.6l3.4,-3.4 3.4,3.4 -3.4,3.4zM1422.6,1038.1l3.4,-3.4 3.4,3.4 -3.4,3.4zM1422.6,1159.6l3.4,-3.4 3.4,3.4 -3.4,3.4zM1422.6,1164.1l3.4,-3.4 3.4,3.4 -3.4,3.4zM1422.6,1168.6l3.4,-3.4 3.4,3.4 -3.4,3.4zM1422.6,1213.6l3.4,-3.4 3.4,3.4 -3.4,3.4zM1427.4,835.6l3.4,-3.4 3.4,3.4 -3.4,3.4zM1427.4,840.1l3.4,-3.4 3.4,3.4 -3.4,3.4zM1427.4,966.1l3.4,-3.4 3.4,3.4 -3.4,3.4zM1427.4,988.6l3.4,-3.4 3.4,3.4 -3.4,3.4zM1427.4,1011.1l3.4,-3.4 3.4,3.4 -3.4,3.4zM1427.4,1015.6l3.4,-3.4 3.4,3.4 -3.4,3.4zM1427.4,1024.6l3.4,-3.4 3.4,3.4 -3.4,3.4zM1427.4,1128.1l3.4,-3.4 3.4,3.4 -3.4,3.4zM1427.4,1159.6l3.4,-3.4 3.4,3.4 -3.4,3.4zM1432.2,826.6l3.4,-3.4 3.4,3.4 -3.4,3.4zM1432.2,835.6l3.4,-3.4 3.4,3.4 -3.4,3.4zM1432.2,984.1l3.4,-3.4 3.4,3.4 -3.4,3.4zM1432.2,997.6l3.4,-3.4 3.4,3.4 -3.4,3.4zM1432.2,1006.6l3.4,-3.4 3.4,3.4 -3.4,3.4zM1432.2,1119.1l3.4,-3.4 3.4,3.4 -3.4,3.4zM1437.0,822.1l3.4,-3.4 3.4,3.4 -3.4,3.4zM1437.0,849.1l3.4,-3.4 3.4,3.4 -3.4,3.4zM1437.0,979.6l3.4,-3.4 3.4,3.4 -3.4,3.4zM1437.0,1006.6l3.4,-3.4 3.4,3.4 -3.4,3.4zM1437.0,1150.6l3.4,-3.4 3.4,3.4 -3.4,3.4zM1437.0,1155.1l3.4,-3.4 3.4,3.4 -3.4,3.4zM1437.0,1173.1l3.4,-3.4 3.4,3.4 -3.4,3.4zM1437.0,1254.1l3.4,-3.4 3.4,3.4 -3.4,3.4zM1441.8,826.6l3.4,-3.4 3.4,3.4 -3.4,3.4zM1441.8,831.1l3.4,-3.4 3.4,3.4 -3.4,3.4zM1441.8,889.6l3.4,-3.4 3.4,3.4 -3.4,3.4zM1441.8,894.1l3.4,-3.4 3.4,3.4 -3.4,3.4zM1441.8,1123.6l3.4,-3.4 3.4,3.4 -3.4,3.4zM1446.6,862.6l3.4,-3.4 3.4,3.4 -3.4,3.4zM1446.6,898.6l3.4,-3.4 3.4,3.4 -3.4,3.4zM1446.6,979.6l3.4,-3.4 3.4,3.4 -3.4,3.4zM1446.6,1002.1l3.4,-3.4 3.4,3.4 -3.4,3.4zM1446.6,1204.6l3.4,-3.4 3.4,3.4 -3.4,3.4zM1446.6,1236.1l3.4,-3.4 3.4,3.4 -3.4,3.4zM1446.6,1258.6l3.4,-3.4 3.4,3.4 -3.4,3.4zM1451.4,840.1l3.4,-3.4 3.4,3.4 -3.4,3.4zM1451.4,844.6l3.4,-3.4 3.4,3.4 -3.4,3.4zM1451.4,907.6l3.4,-3.4 3.4,3.4 -3.4,3.4zM1451.4,1006.6l3.4,-3.4 3.4,3.4 -3.4,3.4zM1451.4,1038.1l3.4,-3.4 3.4,3.4 -3.4,3.4zM1451.4,1155.1l3.4,-3.4 3.4,3.4 -3.4,3.4zM1456.2,831.1l3.4,-3.4 3.4,3.4 -3.4,3.4zM1456.2,1123.6l3.4,-3.4 3.4,3.4 -3.4,3.4zM1456.2,1146.1l3.4,-3.4 3.4,3.4 -3.4,3.4zM1456.2,1168.6l3.4,-3.4 3.4,3.4 -3.4,3.4zM1460.9,831.1l3.4,-3.4 3.4,3.4 -3.4,3.4zM1460.9,993.1l3.4,-3.4 3.4,3.4 -3.4,3.4zM1460.9,1114.6l3.4,-3.4 3.4,3.4 -3.4,3.4zM1460.9,1254.1l3.4,-3.4 3.4,3.4 -3.4,3.4zM1465.7,844.6l3.4,-3.4 3.4,3.4 -3.4,3.4zM1465.7,849.1l3.4,-3.4 3.4,3.4 -3.4,3.4zM1465.7,853.6l3.4,-3.4 3.4,3.4 -3.4,3.4zM1465.7,984.1l3.4,-3.4 3.4,3.4 -3.4,3.4zM1465.7,1006.6l3.4,-3.4 3.4,3.4 -3.4,3.4zM1465.7,1060.6l3.4,-3.4 3.4,3.4 -3.4,3.4zM1465.7,1141.6l3.4,-3.4 3.4,3.4 -3.4,3.4zM1465.7,1245.1l3.4,-3.4 3.4,3.4 -3.4,3.4zM1470.5,984.1l3.4,-3.4 3.4,3.4 -3.4,3.4zM1470.5,997.6l3.4,-3.4 3.4,3.4 -3.4,3.4zM1470.5,1200.1l3.4,-3.4 3.4,3.4 -3.4,3.4zM1470.5,1240.6l3.4,-3.4 3.4,3.4 -3.4,3.4zM1475.3,984.1l3.4,-3.4 3.4,3.4 -3.4,3.4zM1475.3,1002.1l3.4,-3.4 3.4,3.4 -3.4,3.4zM1475.3,1051.6l3.4,-3.4 3.4,3.4 -3.4,3.4zM1475.3,1204.6l3.4,-3.4 3.4,3.4 -3.4,3.4zM1475.3,1227.1l3.4,-3.4 3.4,3.4 -3.4,3.4zM1480.1,1002.1l3.4,-3.4 3.4,3.4 -3.4,3.4zM1480.1,1146.1l3.4,-3.4 3.4,3.4 -3.4,3.4zM1480.1,1164.1l3.4,-3.4 3.4,3.4 -3.4,3.4zM1480.1,1168.6l3.4,-3.4 3.4,3.4 -3.4,3.4zM1480.1,1200.1l3.4,-3.4 3.4,3.4 -3.4,3.4zM1480.1,1249.6l3.4,-3.4 3.4,3.4 -3.4,3.4zM1484.9,880.6l3.4,-3.4 3.4,3.4 -3.4,3.4zM1484.9,1020.1l3.4,-3.4 3.4,3.4 -3.4,3.4zM1484.9,1191.1l3.4,-3.4 3.4,3.4 -3.4,3.4zM1484.9,1267.6l3.4,-3.4 3.4,3.4 -3.4,3.4zM1489.7,997.6l3.4,-3.4 3.4,3.4 -3.4,3.4zM1489.7,1015.6l3.4,-3.4 3.4,3.4 -3.4,3.4zM1489.7,1155.1l3.4,-3.4 3.4,3.4 -3.4,3.4zM1489.7,1177.6l3.4,-3.4 3.4,3.4 -3.4,3.4zM1489.7,1267.6l3.4,-3.4 3.4,3.4 -3.4,3.4zM1494.5,988.6l3.4,-3.4 3.4,3.4 -3.4,3.4zM1494.5,1020.1l3.4,-3.4 3.4,3.4 -3.4,3.4zM1494.5,1065.1l3.4,-3.4 3.4,3.4 -3.4,3.4zM1494.5,1069.6l3.4,-3.4 3.4,3.4 -3.4,3.4zM1494.5,1204.6l3.4,-3.4 3.4,3.4 -3.4,3.4zM1499.3,993.1l3.4,-3.4 3.4,3.4 -3.4,3.4zM1499.3,1047.1l3.4,-3.4 3.4,3.4 -3.4,3.4zM1499.3,1078.6l3.4,-3.4 3.4,3.4 -3.4,3.4zM1499.3,1083.1l3.4,-3.4 3.4,3.4 -3.4,3.4zM1499.3,1087.6l3.4,-3.4 3.4,3.4 -3.4,3.4zM1499.3,1168.6l3.4,-3.4 3.4,3.4 -3.4,3.4zM1499.3,1182.1l3.4,-3.4 3.4,3.4 -3.4,3.4zM1504.1,912.1l3.4,-3.4 3.4,3.4 -3.4,3.4zM1504.1,1038.1l3.4,-3.4 3.4,3.4 -3.4,3.4zM1504.1,1132.6l3.4,-3.4 3.4,3.4 -3.4,3.4zM1504.1,1155.1l3.4,-3.4 3.4,3.4 -3.4,3.4zM1504.1,1218.1l3.4,-3.4 3.4,3.4 -3.4,3.4zM1504.1,1263.1l3.4,-3.4 3.4,3.4 -3.4,3.4zM1504.1,1272.1l3.4,-3.4 3.4,3.4 -3.4,3.4zM1508.9,1011.1l3.4,-3.4 3.4,3.4 -3.4,3.4zM1508.9,1033.6l3.4,-3.4 3.4,3.4 -3.4,3.4zM1508.9,1065.1l3.4,-3.4 3.4,3.4 -3.4,3.4zM1508.9,1069.6l3.4,-3.4 3.4,3.4 -3.4,3.4zM1508.9,1083.1l3.4,-3.4 3.4,3.4 -3.4,3.4zM1508.9,1128.1l3.4,-3.4 3.4,3.4 -3.4,3.4zM1508.9,1159.6l3.4,-3.4 3.4,3.4 -3.4,3.4zM1508.9,1204.6l3.4,-3.4 3.4,3.4 -3.4,3.4zM1513.6,1047.1l3.4,-3.4 3.4,3.4 -3.4,3.4zM1513.6,1056.1l3.4,-3.4 3.4,3.4 -3.4,3.4zM1513.6,1069.6l3.4,-3.4 3.4,3.4 -3.4,3.4zM1513.6,1137.1l3.4,-3.4 3.4,3.4 -3.4,3.4zM1513.6,1150.6l3.4,-3.4 3.4,3.4 -3.4,3.4zM1513.6,1182.1l3.4,-3.4 3.4,3.4 -3.4,3.4zM1513.6,1200.1l3.4,-3.4 3.4,3.4 -3.4,3.4zM1513.6,1222.6l3.4,-3.4 3.4,3.4 -3.4,3.4zM1518.4,1033.6l3.4,-3.4 3.4,3.4 -3.4,3.4zM1518.4,1056.1l3.4,-3.4 3.4,3.4 -3.4,3.4zM1518.4,1087.6l3.4,-3.4 3.4,3.4 -3.4,3.4zM1518.4,1213.6l3.4,-3.4 3.4,3.4 -3.4,3.4zM1518.4,1272.1l3.4,-3.4 3.4,3.4 -3.4,3.4zM1523.2,1078.6l3.4,-3.4 3.4,3.4 -3.4,3.4zM1523.2,1083.1l3.4,-3.4 3.4,3.4 -3.4,3.4zM1523.2,1141.6l3.4,-3.4 3.4,3.4 -3.4,3.4zM1523.2,1164.1l3.4,-3.4 3.4,3.4 -3.4,3.4zM1528.0,1033.6l3.4,-3.4 3.4,3.4 -3.4,3.4zM1528.0,1056.1l3.4,-3.4 3.4,3.4 -3.4,3.4zM1528.0,1065.1l3.4,-3.4 3.4,3.4 -3.4,3.4zM1528.0,1195.6l3.4,-3.4 3.4,3.4 -3.4,3.4zM1532.8,979.6l3.4,-3.4 3.4,3.4 -3.4,3.4zM1532.8,1042.6l3.4,-3.4 3.4,3.4 -3.4,3.4zM1532.8,1056.1l3.4,-3.4 3.4,3.4 -3.4,3.4zM1532.8,1074.1l3.4,-3.4 3.4,3.4 -3.4,3.4zM1532.8,1092.1l3.4,-3.4 3.4,3.4 -3.4,3.4zM1532.8,1137.1l3.4,-3.4 3.4,3.4 -3.4,3.4zM1532.8,1209.1l3.4,-3.4 3.4,3.4 -3.4,3.4zM1537.6,925.6l3.4,-3.4 3.4,3.4 -3.4,3.4zM1537.6,952.6l3.4,-3.4 3.4,3.4 -3.4,3.4zM1537.6,979.6l3.4,-3.4 3.4,3.4 -3.4,3.4zM1537.6,1047.1l3.4,-3.4 3.4,3.4 -3.4,3.4zM1537.6,1074.1l3.4,-3.4 3.4,3.4 -3.4,3.4zM1537.6,1222.6l3.4,-3.4 3.4,3.4 -3.4,3.4zM1537.6,1267.6l3.4,-3.4 3.4,3.4 -3.4,3.4zM1542.4,916.6l3.4,-3.4 3.4,3.4 -3.4,3.4zM1542.4,957.1l3.4,-3.4 3.4,3.4 -3.4,3.4zM1542.4,975.1l3.4,-3.4 3.4,3.4 -3.4,3.4zM1542.4,1051.6l3.4,-3.4 3.4,3.4 -3.4,3.4zM1542.4,1078.6l3.4,-3.4 3.4,3.4 -3.4,3.4zM1542.4,1195.6l3.4,-3.4 3.4,3.4 -3.4,3.4zM1542.4,1245.1l3.4,-3.4 3.4,3.4 -3.4,3.4zM1542.4,1276.6l3.4,-3.4 3.4,3.4 -3.4,3.4zM1547.2,975.1l3.4,-3.4 3.4,3.4 -3.4,3.4zM1547.2,1083.1l3.4,-3.4 3.4,3.4 -3.4,3.4zM1547.2,1119.1l3.4,-3.4 3.4,3.4 -3.4,3.4zM1547.2,1191.1l3.4,-3.4 3.4,3.4 -3.4,3.4zM1552.0,930.1l3.4,-3.4 3.4,3.4 -3.4,3.4zM1552.0,979.6l3.4,-3.4 3.4,3.4 -3.4,3.4zM1552.0,1051.6l3.4,-3.4 3.4,3.4 -3.4,3.4zM1552.0,1065.1l3.4,-3.4 3.4,3.4 -3.4,3.4zM1552.0,1087.6l3.4,-3.4 3.4,3.4 -3.4,3.4zM1552.0,1218.1l3.4,-3.4 3.4,3.4 -3.4,3.4zM1552.0,1245.1l3.4,-3.4 3.4,3.4 -3.4,3.4zM1556.8,921.1l3.4,-3.4 3.4,3.4 -3.4,3.4zM1556.8,1038.1l3.4,-3.4 3.4,3.4 -3.4,3.4zM1556.8,1047.1l3.4,-3.4 3.4,3.4 -3.4,3.4zM1556.8,1083.1l3.4,-3.4 3.4,3.4 -3.4,3.4zM1561.6,1069.6l3.4,-3.4 3.4,3.4 -3.4,3.4zM1561.6,1078.6l3.4,-3.4 3.4,3.4 -3.4,3.4zM1561.6,1123.6l3.4,-3.4 3.4,3.4 -3.4,3.4zM1561.6,1182.1l3.4,-3.4 3.4,3.4 -3.4,3.4zM1561.6,1231.6l3.4,-3.4 3.4,3.4 -3.4,3.4zM1566.3,1042.6l3.4,-3.4 3.4,3.4 -3.4,3.4zM1566.3,1083.1l3.4,-3.4 3.4,3.4 -3.4,3.4zM1566.3,1123.6l3.4,-3.4 3.4,3.4 -3.4,3.4zM1566.3,1132.6l3.4,-3.4 3.4,3.4 -3.4,3.4zM1566.3,1141.6l3.4,-3.4 3.4,3.4 -3.4,3.4zM1566.3,1155.1l3.4,-3.4 3.4,3.4 -3.4,3.4zM1566.3,1164.1l3.4,-3.4 3.4,3.4 -3.4,3.4zM1566.3,1173.1l3.4,-3.4 3.4,3.4 -3.4,3.4zM1566.3,1276.6l3.4,-3.4 3.4,3.4 -3.4,3.4zM1571.1,1047.1l3.4,-3.4 3.4,3.4 -3.4,3.4zM1571.1,1056.1l3.4,-3.4 3.4,3.4 -3.4,3.4zM1571.1,1155.1l3.4,-3.4 3.4,3.4 -3.4,3.4zM1571.1,1263.1l3.4,-3.4 3.4,3.4 -3.4,3.4zM1575.9,1038.1l3.4,-3.4 3.4,3.4 -3.4,3.4zM1575.9,1042.6l3.4,-3.4 3.4,3.4 -3.4,3.4zM1575.9,1060.6l3.4,-3.4 3.4,3.4 -3.4,3.4zM1575.9,1074.1l3.4,-3.4 3.4,3.4 -3.4,3.4zM1575.9,1159.6l3.4,-3.4 3.4,3.4 -3.4,3.4zM1575.9,1177.6l3.4,-3.4 3.4,3.4 -3.4,3.4zM1575.9,1245.1l3.4,-3.4 3.4,3.4 -3.4,3.4zM1575.9,1254.1l3.4,-3.4 3.4,3.4 -3.4,3.4zM1580.7,1123.6l3.4,-3.4 3.4,3.4 -3.4,3.4zM1580.7,1150.6l3.4,-3.4 3.4,3.4 -3.4,3.4zM1580.7,1272.1l3.4,-3.4 3.4,3.4 -3.4,3.4zM1580.7,1276.6l3.4,-3.4 3.4,3.4 -3.4,3.4zM1585.5,903.1l3.4,-3.4 3.4,3.4 -3.4,3.4zM1585.5,912.1l3.4,-3.4 3.4,3.4 -3.4,3.4zM1585.5,925.6l3.4,-3.4 3.4,3.4 -3.4,3.4zM1585.5,934.6l3.4,-3.4 3.4,3.4 -3.4,3.4zM1585.5,939.1l3.4,-3.4 3.4,3.4 -3.4,3.4zM1585.5,1177.6l3.4,-3.4 3.4,3.4 -3.4,3.4zM1585.5,1191.1l3.4,-3.4 3.4,3.4 -3.4,3.4zM1585.5,1249.6l3.4,-3.4 3.4,3.4 -3.4,3.4zM1590.3,916.6l3.4,-3.4 3.4,3.4 -3.4,3.4zM1590.3,921.1l3.4,-3.4 3.4,3.4 -3.4,3.4zM1590.3,925.6l3.4,-3.4 3.4,3.4 -3.4,3.4zM1590.3,1056.1l3.4,-3.4 3.4,3.4 -3.4,3.4zM1590.3,1083.1l3.4,-3.4 3.4,3.4 -3.4,3.4zM1590.3,1146.1l3.4,-3.4 3.4,3.4 -3.4,3.4zM1595.1,912.1l3.4,-3.4 3.4,3.4 -3.4,3.4zM1595.1,957.1l3.4,-3.4 3.4,3.4 -3.4,3.4zM1595.1,1038.1l3.4,-3.4 3.4,3.4 -3.4,3.4zM1595.1,1047.1l3.4,-3.4 3.4,3.4 -3.4,3.4zM1595.1,1060.6l3.4,-3.4 3.4,3.4 -3.4,3.4zM1595.1,1078.6l3.4,-3.4 3.4,3.4 -3.4,3.4zM1595.1,1195.6l3.4,-3.4 3.4,3.4 -3.4,3.4zM1599.9,925.6l3.4,-3.4 3.4,3.4 -3.4,3.4zM1599.9,1042.6l3.4,-3.4 3.4,3.4 -3.4,3.4zM1599.9,1173.1l3.4,-3.4 3.4,3.4 -3.4,3.4zM1599.9,1204.6l3.4,-3.4 3.4,3.4 -3.4,3.4zM1599.9,1209.1l3.4,-3.4 3.4,3.4 -3.4,3.4zM1599.9,1231.6l3.4,-3.4 3.4,3.4 -3.4,3.4zM1599.9,1267.6l3.4,-3.4 3.4,3.4 -3.4,3.4zM1599.9,1276.6l3.4,-3.4 3.4,3.4 -3.4,3.4zM1604.7,916.6l3.4,-3.4 3.4,3.4 -3.4,3.4zM1604.7,930.1l3.4,-3.4 3.4,3.4 -3.4,3.4zM1604.7,1029.1l3.4,-3.4 3.4,3.4 -3.4,3.4zM1604.7,1051.6l3.4,-3.4 3.4,3.4 -3.4,3.4zM1604.7,1092.1l3.4,-3.4 3.4,3.4 -3.4,3.4zM1604.7,1173.1l3.4,-3.4 3.4,3.4 -3.4,3.4zM1604.7,1213.6l3.4,-3.4 3.4,3.4 -3.4,3.4zM1604.7,1222.6l3.4,-3.4 3.4,3.4 -3.4,3.4zM1604.7,1245.1l3.4,-3.4 3.4,3.4 -3.4,3.4zM1609.5,1065.1l3.4,-3.4 3.4,3.4 -3.4,3.4zM1609.5,1078.6l3.4,-3.4 3.4,3.4 -3.4,3.4zM1609.5,1150.6l3.4,-3.4 3.4,3.4 -3.4,3.4zM1609.5,1159.6l3.4,-3.4 3.4,3.4 -3.4,3.4zM1609.5,1168.6l3.4,-3.4 3.4,3.4 -3.4,3.4zM1614.2,948.1l3.4,-3.4 3.4,3.4 -3.4,3.4zM1614.2,961.6l3.4,-3.4 3.4,3.4 -3.4,3.4zM1614.2,966.1l3.4,-3.4 3.4,3.4 -3.4,3.4zM1614.2,1060.6l3.4,-3.4 3.4,3.4 -3.4,3.4zM1614.2,1177.6l3.4,-3.4 3.4,3.4 -3.4,3.4zM1619.0,930.1l3.4,-3.4 3.4,3.4 -3.4,3.4zM1619.0,1074.1l3.4,-3.4 3.4,3.4 -3.4,3.4zM1619.0,1150.6l3.4,-3.4 3.4,3.4 -3.4,3.4zM1619.0,1168.6l3.4,-3.4 3.4,3.4 -3.4,3.4zM1619.0,1204.6l3.4,-3.4 3.4,3.4 -3.4,3.4zM1623.8,1006.6l3.4,-3.4 3.4,3.4 -3.4,3.4zM1628.6,925.6l3.4,-3.4 3.4,3.4 -3.4,3.4zM1628.6,1056.1l3.4,-3.4 3.4,3.4 -3.4,3.4zM1628.6,1060.6l3.4,-3.4 3.4,3.4 -3.4,3.4zM1628.6,1074.1l3.4,-3.4 3.4,3.4 -3.4,3.4zM1633.4,925.6l3.4,-3.4 3.4,3.4 -3.4,3.4zM1633.4,957.1l3.4,-3.4 3.4,3.4 -3.4,3.4zM1633.4,961.6l3.4,-3.4 3.4,3.4 -3.4,3.4zM1633.4,997.6l3.4,-3.4 3.4,3.4 -3.4,3.4zM1633.4,1200.1l3.4,-3.4 3.4,3.4 -3.4,3.4zM1633.4,1213.6l3.4,-3.4 3.4,3.4 -3.4,3.4zM1633.4,1222.6l3.4,-3.4 3.4,3.4 -3.4,3.4zM1638.2,934.6l3.4,-3.4 3.4,3.4 -3.4,3.4zM1638.2,1065.1l3.4,-3.4 3.4,3.4 -3.4,3.4zM1638.2,1173.1l3.4,-3.4 3.4,3.4 -3.4,3.4zM1638.2,1182.1l3.4,-3.4 3.4,3.4 -3.4,3.4zM1638.2,1222.6l3.4,-3.4 3.4,3.4 -3.4,3.4zM1638.2,1254.1l3.4,-3.4 3.4,3.4 -3.4,3.4zM1643.0,934.6l3.4,-3.4 3.4,3.4 -3.4,3.4zM1643.0,1087.6l3.4,-3.4 3.4,3.4 -3.4,3.4zM1643.0,1195.6l3.4,-3.4 3.4,3.4 -3.4,3.4zM1647.8,943.6l3.4,-3.4 3.4,3.4 -3.4,3.4zM1647.8,957.1l3.4,-3.4 3.4,3.4 -3.4,3.4zM1647.8,1222.6l3.4,-3.4 3.4,3.4 -3.4,3.4zM1647.8,1240.6l3.4,-3.4 3.4,3.4 -3.4,3.4zM1652.6,930.1l3.4,-3.4 3.4,3.4 -3.4,3.4zM1652.6,1038.1l3.4,-3.4 3.4,3.4 -3.4,3.4zM1652.6,1141.6l3.4,-3.4 3.4,3.4 -3.4,3.4zM1652.6,1150.6l3.4,-3.4 3.4,3.4 -3.4,3.4zM1652.6,1173.1l3.4,-3.4 3.4,3.4 -3.4,3.4zM1657.4,934.6l3.4,-3.4 3.4,3.4 -3.4,3.4zM1657.4,943.6l3.4,-3.4 3.4,3.4 -3.4,3.4zM1657.4,1155.1l3.4,-3.4 3.4,3.4 -3.4,3.4zM1657.4,1182.1l3.4,-3.4 3.4,3.4 -3.4,3.4zM1662.2,1092.1l3.4,-3.4 3.4,3.4 -3.4,3.4zM1662.2,1105.6l3.4,-3.4 3.4,3.4 -3.4,3.4zM1662.2,1150.6l3.4,-3.4 3.4,3.4 -3.4,3.4zM1666.9,1002.1l3.4,-3.4 3.4,3.4 -3.4,3.4zM1666.9,1159.6l3.4,-3.4 3.4,3.4 -3.4,3.4zM1666.9,1168.6l3.4,-3.4 3.4,3.4 -3.4,3.4zM1671.7,1105.6l3.4,-3.4 3.4,3.4 -3.4,3.4zM1676.5,1092.1l3.4,-3.4 3.4,3.4 -3.4,3.4zM1681.3,1114.6l3.4,-3.4 3.4,3.4 -3.4,3.4zM1681.3,1132.6l3.4,-3.4 3.4,3.4 -3.4,3.4zM1681.3,1146.1l3.4,-3.4 3.4,3.4 -3.4,3.4zM1681.3,1164.1l3.4,-3.4 3.4,3.4 -3.4,3.4zM1686.1,1119.1l3.4,-3.4 3.4,3.4 -3.4,3.4zM1686.1,1137.1l3.4,-3.4 3.4,3.4 -3.4,3.4zM1686.1,1141.6l3.4,-3.4 3.4,3.4 -3.4,3.4zM1686.1,1159.6l3.4,-3.4 3.4,3.4 -3.4,3.4zM1690.9,1105.6l3.4,-3.4 3.4,3.4 -3.4,3.4zM1695.7,1110.1l3.4,-3.4 3.4,3.4 -3.4,3.4zM1695.7,1123.6l3.4,-3.4 3.4,3.4 -3.4,3.4zM1695.7,1132.6l3.4,-3.4 3.4,3.4 -3.4,3.4zM1700.5,1011.1l3.4,-3.4 3.4,3.4 -3.4,3.4zM1700.5,1132.6l3.4,-3.4 3.4,3.4 -3.4,3.4zM1700.5,1164.1l3.4,-3.4 3.4,3.4 -3.4,3.4zM1705.3,1002.1l3.4,-3.4 3.4,3.4 -3.4,3.4zM1705.3,1020.1l3.4,-3.4 3.4,3.4 -3.4,3.4zM1710.1,1015.6l3.4,-3.4 3.4,3.4 -3.4,3.4zM1714.9,993.1l3.4,-3.4 3.4,3.4 -3.4,3.4zM1714.9,1020.1l3.4,-3.4 3.4,3.4 -3.4,3.4zM1714.9,1105.6l3.4,-3.4 3.4,3.4 -3.4,3.4zM1714.9,1119.1l3.4,-3.4 3.4,3.4 -3.4,3.4zM1719.6,984.1l3.4,-3.4 3.4,3.4 -3.4,3.4zM1719.6,997.6l3.4,-3.4 3.4,3.4 -3.4,3.4zM1719.6,1015.6l3.4,-3.4 3.4,3.4 -3.4,3.4zM1719.6,1020.1l3.4,-3.4 3.4,3.4 -3.4,3.4zM1724.4,993.1l3.4,-3.4 3.4,3.4 -3.4,3.4zM1724.4,1011.1l3.4,-3.4 3.4,3.4 -3.4,3.4zM1734.0,988.6l3.4,-3.4 3.4,3.4 -3.4,3.4zM1734.0,1002.1l3.4,-3.4 3.4,3.4 -3.4,3.4zM1734.0,1011.1l3.4,-3.4 3.4,3.4 -3.4,3.4zM1734.0,1020.1l3.4,-3.4 3.4,3.4 -3.4,3.4zM1734.0,1038.1l3.4,-3.4 3.4,3.4 -3.4,3.4zM1738.8,1020.1l3.4,-3.4 3.4,3.4 -3.4,3.4zM1743.6,988.6l3.4,-3.4 3.4,3.4 -3.4,3.4zM1743.6,1042.6l3.4,-3.4 3.4,3.4 -3.4,3.4zM1753.2,984.1l3.4,-3.4 3.4,3.4 -3.4,3.4zM1753.2,993.1l3.4,-3.4 3.4,3.4 -3.4,3.4zM1753.2,1024.6l3.4,-3.4 3.4,3.4 -3.4,3.4zM1753.2,1042.6l3.4,-3.4 3.4,3.4 -3.4,3.4zM1758.0,988.6l3.4,-3.4 3.4,3.4 -3.4,3.4zM1762.8,1056.1l3.4,-3.4 3.4,3.4 -3.4,3.4zM1767.6,1047.1l3.4,-3.4 3.4,3.4 -3.4,3.4zM1772.3,1024.6l3.4,-3.4 3.4,3.4 -3.4,3.4zM1772.3,1042.6l3.4,-3.4 3.4,3.4 -3.4,3.4zM1772.3,1065.1l3.4,-3.4 3.4,3.4 -3.4,3.4zM1772.3,1078.6l3.4,-3.4 3.4,3.4 -3.4,3.4zM1772.3,1092.1l3.4,-3.4 3.4,3.4 -3.4,3.4zM1777.1,1002.1l3.4,-3.4 3.4,3.4 -3.4,3.4zM1777.1,1033.6l3.4,-3.4 3.4,3.4 -3.4,3.4zM1777.1,1047.1l3.4,-3.4 3.4,3.4 -3.4,3.4zM1777.1,1096.6l3.4,-3.4 3.4,3.4 -3.4,3.4zM1781.9,1006.6l3.4,-3.4 3.4,3.4 -3.4,3.4zM1781.9,1015.6l3.4,-3.4 3.4,3.4 -3.4,3.4zM1781.9,1038.1l3.4,-3.4 3.4,3.4 -3.4,3.4zM1781.9,1047.1l3.4,-3.4 3.4,3.4 -3.4,3.4zM1781.9,1056.1l3.4,-3.4 3.4,3.4 -3.4,3.4zM1781.9,1069.6l3.4,-3.4 3.4,3.4 -3.4,3.4zM1786.7,1020.1l3.4,-3.4 3.4,3.4 -3.4,3.4zM1786.7,1024.6l3.4,-3.4 3.4,3.4 -3.4,3.4zM1786.7,1033.6l3.4,-3.4 3.4,3.4 -3.4,3.4zM1786.7,1042.6l3.4,-3.4 3.4,3.4 -3.4,3.4zM1786.7,1096.6l3.4,-3.4 3.4,3.4 -3.4,3.4zM1786.7,1101.1l3.4,-3.4 3.4,3.4 -3.4,3.4zM1796.3,997.6l3.4,-3.4 3.4,3.4 -3.4,3.4zM1796.3,1002.1l3.4,-3.4 3.4,3.4 -3.4,3.4zM1796.3,1069.6l3.4,-3.4 3.4,3.4 -3.4,3.4zM1796.3,1092.1l3.4,-3.4 3.4,3.4 -3.4,3.4zM1796.3,1096.6l3.4,-3.4 3.4,3.4 -3.4,3.4zM1796.3,1105.6l3.4,-3.4 3.4,3.4 -3.4,3.4zM1801.1,988.6l3.4,-3.4 3.4,3.4 -3.4,3.4zM1801.1,1056.1l3.4,-3.4 3.4,3.4 -3.4,3.4zM1801.1,1060.6l3.4,-3.4 3.4,3.4 -3.4,3.4zM1801.1,1083.1l3.4,-3.4 3.4,3.4 -3.4,3.4zM1801.1,1096.6l3.4,-3.4 3.4,3.4 -3.4,3.4zM1801.1,1101.1l3.4,-3.4 3.4,3.4 -3.4,3.4zM1805.9,984.1l3.4,-3.4 3.4,3.4 -3.4,3.4zM1805.9,997.6l3.4,-3.4 3.4,3.4 -3.4,3.4zM1805.9,1006.6l3.4,-3.4 3.4,3.4 -3.4,3.4zM1805.9,1042.6l3.4,-3.4 3.4,3.4 -3.4,3.4zM1805.9,1051.6l3.4,-3.4 3.4,3.4 -3.4,3.4zM1805.9,1060.6l3.4,-3.4 3.4,3.4 -3.4,3.4zM1805.9,1074.1l3.4,-3.4 3.4,3.4 -3.4,3.4zM1805.9,1087.6l3.4,-3.4 3.4,3.4 -3.4,3.4zM1805.9,1092.1l3.4,-3.4 3.4,3.4 -3.4,3.4zM1810.7,1024.6l3.4,-3.4 3.4,3.4 -3.4,3.4zM1810.7,1110.1l3.4,-3.4 3.4,3.4 -3.4,3.4zM1810.7,1132.6l3.4,-3.4 3.4,3.4 -3.4,3.4zM1810.7,1141.6l3.4,-3.4 3.4,3.4 -3.4,3.4zM1815.5,979.6l3.4,-3.4 3.4,3.4 -3.4,3.4zM1815.5,1011.1l3.4,-3.4 3.4,3.4 -3.4,3.4zM1815.5,1038.1l3.4,-3.4 3.4,3.4 -3.4,3.4zM1815.5,1056.1l3.4,-3.4 3.4,3.4 -3.4,3.4zM1815.5,1060.6l3.4,-3.4 3.4,3.4 -3.4,3.4zM1815.5,1069.6l3.4,-3.4 3.4,3.4 -3.4,3.4zM1815.5,1078.6l3.4,-3.4 3.4,3.4 -3.4,3.4zM1815.5,1092.1l3.4,-3.4 3.4,3.4 -3.4,3.4zM1815.5,1119.1l3.4,-3.4 3.4,3.4 -3.4,3.4zM1815.5,1146.1l3.4,-3.4 3.4,3.4 -3.4,3.4zM1820.2,975.1l3.4,-3.4 3.4,3.4 -3.4,3.4zM1820.2,984.1l3.4,-3.4 3.4,3.4 -3.4,3.4zM1820.2,988.6l3.4,-3.4 3.4,3.4 -3.4,3.4zM1820.2,1002.1l3.4,-3.4 3.4,3.4 -3.4,3.4zM1820.2,1015.6l3.4,-3.4 3.4,3.4 -3.4,3.4zM1820.2,1033.6l3.4,-3.4 3.4,3.4 -3.4,3.4zM1820.2,1047.1l3.4,-3.4 3.4,3.4 -3.4,3.4zM1820.2,1074.1l3.4,-3.4 3.4,3.4 -3.4,3.4zM1820.2,1114.6l3.4,-3.4 3.4,3.4 -3.4,3.4zM1820.2,1119.1l3.4,-3.4 3.4,3.4 -3.4,3.4zM1820.2,1123.6l3.4,-3.4 3.4,3.4 -3.4,3.4zM1820.2,1128.1l3.4,-3.4 3.4,3.4 -3.4,3.4zM1820.2,1137.1l3.4,-3.4 3.4,3.4 -3.4,3.4zM1825.0,979.6l3.4,-3.4 3.4,3.4 -3.4,3.4zM1825.0,988.6l3.4,-3.4 3.4,3.4 -3.4,3.4zM1825.0,1002.1l3.4,-3.4 3.4,3.4 -3.4,3.4zM1825.0,1020.1l3.4,-3.4 3.4,3.4 -3.4,3.4zM1825.0,1029.1l3.4,-3.4 3.4,3.4 -3.4,3.4zM1825.0,1060.6l3.4,-3.4 3.4,3.4 -3.4,3.4zM1825.0,1065.1l3.4,-3.4 3.4,3.4 -3.4,3.4zM1825.0,1074.1l3.4,-3.4 3.4,3.4 -3.4,3.4zM1825.0,1083.1l3.4,-3.4 3.4,3.4 -3.4,3.4zM1825.0,1096.6l3.4,-3.4 3.4,3.4 -3.4,3.4zM1825.0,1114.6l3.4,-3.4 3.4,3.4 -3.4,3.4zM1825.0,1123.6l3.4,-3.4 3.4,3.4 -3.4,3.4zM1829.8,979.6l3.4,-3.4 3.4,3.4 -3.4,3.4zM1829.8,984.1l3.4,-3.4 3.4,3.4 -3.4,3.4zM1829.8,988.6l3.4,-3.4 3.4,3.4 -3.4,3.4zM1829.8,997.6l3.4,-3.4 3.4,3.4 -3.4,3.4zM1829.8,1083.1l3.4,-3.4 3.4,3.4 -3.4,3.4zM1829.8,1087.6l3.4,-3.4 3.4,3.4 -3.4,3.4zM1829.8,1092.1l3.4,-3.4 3.4,3.4 -3.4,3.4zM1829.8,1096.6l3.4,-3.4 3.4,3.4 -3.4,3.4zM1829.8,1101.1l3.4,-3.4 3.4,3.4 -3.4,3.4zM1829.8,1105.6l3.4,-3.4 3.4,3.4 -3.4,3.4zM1829.8,1123.6l3.4,-3.4 3.4,3.4 -3.4,3.4zM1829.8,1128.1l3.4,-3.4 3.4,3.4 -3.4,3.4zM1829.8,1132.6l3.4,-3.4 3.4,3.4 -3.4,3.4zM1834.6,979.6l3.4,-3.4 3.4,3.4 -3.4,3.4zM1834.6,988.6l3.4,-3.4 3.4,3.4 -3.4,3.4zM1834.6,993.1l3.4,-3.4 3.4,3.4 -3.4,3.4zM1834.6,1087.6l3.4,-3.4 3.4,3.4 -3.4,3.4zM1834.6,1114.6l3.4,-3.4 3.4,3.4 -3.4,3.4zM1834.6,1123.6l3.4,-3.4 3.4,3.4 -3.4,3.4zM1839.4,1083.1l3.4,-3.4 3.4,3.4 -3.4,3.4zM1839.4,1092.1l3.4,-3.4 3.4,3.4 -3.4,3.4zM1839.4,1096.6l3.4,-3.4 3.4,3.4 -3.4,3.4zM1839.4,1105.6l3.4,-3.4 3.4,3.4 -3.4,3.4zM1839.4,1114.6l3.4,-3.4 3.4,3.4 -3.4,3.4zM1839.4,1119.1l3.4,-3.4 3.4,3.4 -3.4,3.4zM1839.4,1128.1l3.4,-3.4 3.4,3.4 -3.4,3.4zM1839.4,1137.1l3.4,-3.4 3.4,3.4 -3.4,3.4zM1844.2,1087.6l3.4,-3.4 3.4,3.4 -3.4,3.4zM1844.2,1101.1l3.4,-3.4 3.4,3.4 -3.4,3.4zM1844.2,1105.6l3.4,-3.4 3.4,3.4 -3.4,3.4zM1844.2,1114.6l3.4,-3.4 3.4,3.4 -3.4,3.4z" fill="#d3d3d3" stroke="#d3d3d3" stroke-width="0.8" stroke-linejoin="round"/>
<path d="M1662.2,1101.1l3.4,-3.4 3.4,3.4 -3.4,3.4zM1552.0,1263.1l3.4,-3.4 3.4,3.4 -3.4,3.4zM1432.2,1209.1l3.4,-3.4 3.4,3.4 -3.4,3.4zM1815.5,1155.1l3.4,-3.4 3.4,3.4 -3.4,3.4zM1666.9,1119.1l3.4,-3.4 3.4,3.4 -3.4,3.4zM1528.0,1231.6l3.4,-3.4 3.4,3.4 -3.4,3.4zM1609.5,1186.6l3.4,-3.4 3.4,3.4 -3.4,3.4zM1643.0,930.1l3.4,-3.4 3.4,3.4 -3.4,3.4zM1561.6,1065.1l3.4,-3.4 3.4,3.4 -3.4,3.4zM1566.3,1146.1l3.4,-3.4 3.4,3.4 -3.4,3.4zM1552.0,1258.6l3.4,-3.4 3.4,3.4 -3.4,3.4zM1585.5,916.6l3.4,-3.4 3.4,3.4 -3.4,3.4zM1552.0,966.1l3.4,-3.4 3.4,3.4 -3.4,3.4zM1446.6,1092.1l3.4,-3.4 3.4,3.4 -3.4,3.4zM1456.2,1137.1l3.4,-3.4 3.4,3.4 -3.4,3.4zM1676.5,1105.6l3.4,-3.4 3.4,3.4 -3.4,3.4zM1480.1,1191.1l3.4,-3.4 3.4,3.4 -3.4,3.4zM1484.9,1173.1l3.4,-3.4 3.4,3.4 -3.4,3.4zM1413.0,1209.1l3.4,-3.4 3.4,3.4 -3.4,3.4zM1652.6,1240.6l3.4,-3.4 3.4,3.4 -3.4,3.4zM1389.1,961.6l3.4,-3.4 3.4,3.4 -3.4,3.4zM1552.0,1173.1l3.4,-3.4 3.4,3.4 -3.4,3.4zM1508.9,1038.1l3.4,-3.4 3.4,3.4 -3.4,3.4zM1475.3,1123.6l3.4,-3.4 3.4,3.4 -3.4,3.4zM1499.3,1119.1l3.4,-3.4 3.4,3.4 -3.4,3.4zM1460.9,1209.1l3.4,-3.4 3.4,3.4 -3.4,3.4zM1686.1,1123.6l3.4,-3.4 3.4,3.4 -3.4,3.4zM1609.5,1213.6l3.4,-3.4 3.4,3.4 -3.4,3.4zM1657.4,952.6l3.4,-3.4 3.4,3.4 -3.4,3.4zM1408.2,1020.1l3.4,-3.4 3.4,3.4 -3.4,3.4zM1566.3,1051.6l3.4,-3.4 3.4,3.4 -3.4,3.4zM1623.8,921.1l3.4,-3.4 3.4,3.4 -3.4,3.4zM1643.0,1155.1l3.4,-3.4 3.4,3.4 -3.4,3.4zM1604.7,1258.6l3.4,-3.4 3.4,3.4 -3.4,3.4zM1623.8,1087.6l3.4,-3.4 3.4,3.4 -3.4,3.4zM1413.0,1227.1l3.4,-3.4 3.4,3.4 -3.4,3.4zM1575.9,1276.6l3.4,-3.4 3.4,3.4 -3.4,3.4zM1676.5,1159.6l3.4,-3.4 3.4,3.4 -3.4,3.4zM1580.7,1137.1l3.4,-3.4 3.4,3.4 -3.4,3.4zM1480.1,1240.6l3.4,-3.4 3.4,3.4 -3.4,3.4zM1432.2,1236.1l3.4,-3.4 3.4,3.4 -3.4,3.4zM1494.5,1231.6l3.4,-3.4 3.4,3.4 -3.4,3.4zM1657.4,1164.1l3.4,-3.4 3.4,3.4 -3.4,3.4zM1408.2,1159.6l3.4,-3.4 3.4,3.4 -3.4,3.4zM1484.9,1258.6l3.4,-3.4 3.4,3.4 -3.4,3.4zM1403.5,1150.6l3.4,-3.4 3.4,3.4 -3.4,3.4zM1432.2,1200.1l3.4,-3.4 3.4,3.4 -3.4,3.4zM1647.8,1146.1l3.4,-3.4 3.4,3.4 -3.4,3.4zM1705.3,1114.6l3.4,-3.4 3.4,3.4 -3.4,3.4zM1590.3,1209.1l3.4,-3.4 3.4,3.4 -3.4,3.4zM1599.9,1083.1l3.4,-3.4 3.4,3.4 -3.4,3.4zM1580.7,1047.1l3.4,-3.4 3.4,3.4 -3.4,3.4zM1427.4,1177.6l3.4,-3.4 3.4,3.4 -3.4,3.4zM1432.2,1128.1l3.4,-3.4 3.4,3.4 -3.4,3.4zM1566.3,1200.1l3.4,-3.4 3.4,3.4 -3.4,3.4zM1633.4,1092.1l3.4,-3.4 3.4,3.4 -3.4,3.4zM1513.6,1258.6l3.4,-3.4 3.4,3.4 -3.4,3.4zM1619.0,1258.6l3.4,-3.4 3.4,3.4 -3.4,3.4zM1470.5,1173.1l3.4,-3.4 3.4,3.4 -3.4,3.4zM1614.2,921.1l3.4,-3.4 3.4,3.4 -3.4,3.4z" fill="#beb5d9" stroke="#beb5d9" stroke-width="0.8" stroke-linejoin="round"/>
<path d="M1408.2,1213.6l3.4,-3.4 3.4,3.4 -3.4,3.4zM1494.5,1087.6l3.4,-3.4 3.4,3.4 -3.4,3.4zM1609.5,925.6l3.4,-3.4 3.4,3.4 -3.4,3.4zM1676.5,1110.1l3.4,-3.4 3.4,3.4 -3.4,3.4zM1437.0,1141.6l3.4,-3.4 3.4,3.4 -3.4,3.4zM1528.0,1119.1l3.4,-3.4 3.4,3.4 -3.4,3.4zM1456.2,984.1l3.4,-3.4 3.4,3.4 -3.4,3.4zM1585.5,1240.6l3.4,-3.4 3.4,3.4 -3.4,3.4zM1499.3,1258.6l3.4,-3.4 3.4,3.4 -3.4,3.4zM1465.7,1249.6l3.4,-3.4 3.4,3.4 -3.4,3.4zM1422.6,1231.6l3.4,-3.4 3.4,3.4 -3.4,3.4zM1628.6,930.1l3.4,-3.4 3.4,3.4 -3.4,3.4zM1623.8,1245.1l3.4,-3.4 3.4,3.4 -3.4,3.4zM1408.2,1069.6l3.4,-3.4 3.4,3.4 -3.4,3.4zM1360.3,1024.6l3.4,-3.4 3.4,3.4 -3.4,3.4zM1575.9,916.6l3.4,-3.4 3.4,3.4 -3.4,3.4zM1365.1,979.6l3.4,-3.4 3.4,3.4 -3.4,3.4zM1614.2,1155.1l3.4,-3.4 3.4,3.4 -3.4,3.4zM1599.9,1150.6l3.4,-3.4 3.4,3.4 -3.4,3.4zM1690.9,1132.6l3.4,-3.4 3.4,3.4 -3.4,3.4zM1590.3,912.1l3.4,-3.4 3.4,3.4 -3.4,3.4zM1561.6,1056.1l3.4,-3.4 3.4,3.4 -3.4,3.4zM1508.9,1186.6l3.4,-3.4 3.4,3.4 -3.4,3.4zM1537.6,1078.6l3.4,-3.4 3.4,3.4 -3.4,3.4zM1518.4,1164.1l3.4,-3.4 3.4,3.4 -3.4,3.4zM1417.8,1141.6l3.4,-3.4 3.4,3.4 -3.4,3.4zM1652.6,939.1l3.4,-3.4 3.4,3.4 -3.4,3.4zM1499.3,1141.6l3.4,-3.4 3.4,3.4 -3.4,3.4zM1456.2,1042.6l3.4,-3.4 3.4,3.4 -3.4,3.4zM1595.1,1015.6l3.4,-3.4 3.4,3.4 -3.4,3.4zM1523.2,1038.1l3.4,-3.4 3.4,3.4 -3.4,3.4zM1484.9,1182.1l3.4,-3.4 3.4,3.4 -3.4,3.4zM1504.1,1042.6l3.4,-3.4 3.4,3.4 -3.4,3.4zM1700.5,1123.6l3.4,-3.4 3.4,3.4 -3.4,3.4zM1499.3,907.6l3.4,-3.4 3.4,3.4 -3.4,3.4zM1575.9,1168.6l3.4,-3.4 3.4,3.4 -3.4,3.4zM1441.8,1186.6l3.4,-3.4 3.4,3.4 -3.4,3.4zM1537.6,1083.1l3.4,-3.4 3.4,3.4 -3.4,3.4zM1686.1,1150.6l3.4,-3.4 3.4,3.4 -3.4,3.4zM1542.4,1056.1l3.4,-3.4 3.4,3.4 -3.4,3.4zM1451.4,1227.1l3.4,-3.4 3.4,3.4 -3.4,3.4zM1513.6,1276.6l3.4,-3.4 3.4,3.4 -3.4,3.4zM1647.8,1164.1l3.4,-3.4 3.4,3.4 -3.4,3.4zM1614.2,1245.1l3.4,-3.4 3.4,3.4 -3.4,3.4zM1638.2,1159.6l3.4,-3.4 3.4,3.4 -3.4,3.4zM1456.2,1177.6l3.4,-3.4 3.4,3.4 -3.4,3.4zM1561.6,1240.6l3.4,-3.4 3.4,3.4 -3.4,3.4zM1518.4,930.1l3.4,-3.4 3.4,3.4 -3.4,3.4zM1652.6,1195.6l3.4,-3.4 3.4,3.4 -3.4,3.4zM1504.1,1227.1l3.4,-3.4 3.4,3.4 -3.4,3.4zM1446.6,1249.6l3.4,-3.4 3.4,3.4 -3.4,3.4zM1556.8,1200.1l3.4,-3.4 3.4,3.4 -3.4,3.4zM1705.3,1128.1l3.4,-3.4 3.4,3.4 -3.4,3.4zM1379.5,1029.1l3.4,-3.4 3.4,3.4 -3.4,3.4zM1508.9,1101.1l3.4,-3.4 3.4,3.4 -3.4,3.4zM1556.8,1276.6l3.4,-3.4 3.4,3.4 -3.4,3.4zM1638.2,948.1l3.4,-3.4 3.4,3.4 -3.4,3.4zM1374.7,961.6l3.4,-3.4 3.4,3.4 -3.4,3.4zM1432.2,1177.6l3.4,-3.4 3.4,3.4 -3.4,3.4zM1494.5,1195.6l3.4,-3.4 3.4,3.4 -3.4,3.4z" fill="#b3a7dc" stroke="#b3a7dc" stroke-width="0.8" stroke-linejoin="round"/>
<path d="M1480.1,988.6l3.4,-3.4 3.4,3.4 -3.4,3.4zM1595.1,921.1l3.4,-3.4 3.4,3.4 -3.4,3.4zM1580.7,907.6l3.4,-3.4 3.4,3.4 -3.4,3.4zM1571.1,1272.1l3.4,-3.4 3.4,3.4 -3.4,3.4zM1566.3,939.1l3.4,-3.4 3.4,3.4 -3.4,3.4zM1437.0,1132.6l3.4,-3.4 3.4,3.4 -3.4,3.4zM1451.4,1024.6l3.4,-3.4 3.4,3.4 -3.4,3.4zM1417.8,1155.1l3.4,-3.4 3.4,3.4 -3.4,3.4zM1513.6,970.6l3.4,-3.4 3.4,3.4 -3.4,3.4zM1628.6,1069.6l3.4,-3.4 3.4,3.4 -3.4,3.4zM1580.7,1258.6l3.4,-3.4 3.4,3.4 -3.4,3.4zM1662.2,939.1l3.4,-3.4 3.4,3.4 -3.4,3.4zM1494.5,1249.6l3.4,-3.4 3.4,3.4 -3.4,3.4zM1484.9,1231.6l3.4,-3.4 3.4,3.4 -3.4,3.4zM1384.3,970.6l3.4,-3.4 3.4,3.4 -3.4,3.4zM1599.9,1074.1l3.4,-3.4 3.4,3.4 -3.4,3.4zM1623.8,1231.6l3.4,-3.4 3.4,3.4 -3.4,3.4zM1575.9,1231.6l3.4,-3.4 3.4,3.4 -3.4,3.4zM1451.4,925.6l3.4,-3.4 3.4,3.4 -3.4,3.4zM1638.2,1029.1l3.4,-3.4 3.4,3.4 -3.4,3.4zM1552.0,1092.1l3.4,-3.4 3.4,3.4 -3.4,3.4zM1580.7,1186.6l3.4,-3.4 3.4,3.4 -3.4,3.4zM1422.6,1236.1l3.4,-3.4 3.4,3.4 -3.4,3.4zM1422.6,1200.1l3.4,-3.4 3.4,3.4 -3.4,3.4zM1451.4,1258.6l3.4,-3.4 3.4,3.4 -3.4,3.4zM1585.5,1069.6l3.4,-3.4 3.4,3.4 -3.4,3.4zM1508.9,1150.6l3.4,-3.4 3.4,3.4 -3.4,3.4zM1547.2,1038.1l3.4,-3.4 3.4,3.4 -3.4,3.4zM1619.0,1155.1l3.4,-3.4 3.4,3.4 -3.4,3.4zM1475.3,1222.6l3.4,-3.4 3.4,3.4 -3.4,3.4zM1695.7,970.6l3.4,-3.4 3.4,3.4 -3.4,3.4zM1537.6,1168.6l3.4,-3.4 3.4,3.4 -3.4,3.4zM1518.4,1155.1l3.4,-3.4 3.4,3.4 -3.4,3.4zM1585.5,1281.1l3.4,-3.4 3.4,3.4 -3.4,3.4zM1446.6,1182.1l3.4,-3.4 3.4,3.4 -3.4,3.4zM1470.5,1218.1l3.4,-3.4 3.4,3.4 -3.4,3.4zM1451.4,1168.6l3.4,-3.4 3.4,3.4 -3.4,3.4zM1662.2,1123.6l3.4,-3.4 3.4,3.4 -3.4,3.4zM1810.7,975.1l3.4,-3.4 3.4,3.4 -3.4,3.4zM1676.5,1132.6l3.4,-3.4 3.4,3.4 -3.4,3.4zM1628.6,1209.1l3.4,-3.4 3.4,3.4 -3.4,3.4zM1465.7,1227.1l3.4,-3.4 3.4,3.4 -3.4,3.4zM1513.6,1173.1l3.4,-3.4 3.4,3.4 -3.4,3.4zM1662.2,948.1l3.4,-3.4 3.4,3.4 -3.4,3.4zM1437.0,970.6l3.4,-3.4 3.4,3.4 -3.4,3.4zM1547.2,1146.1l3.4,-3.4 3.4,3.4 -3.4,3.4zM1686.1,1128.1l3.4,-3.4 3.4,3.4 -3.4,3.4zM1561.6,1281.1l3.4,-3.4 3.4,3.4 -3.4,3.4zM1552.0,1096.6l3.4,-3.4 3.4,3.4 -3.4,3.4zM1494.5,1254.1l3.4,-3.4 3.4,3.4 -3.4,3.4z" fill="#a898df" stroke="#a898df" stroke-width="0.8" stroke-linejoin="round"/>
<path d="M1441.8,1141.6l3.4,-3.4 3.4,3.4 -3.4,3.4zM1662.2,1146.1l3.4,-3.4 3.4,3.4 -3.4,3.4zM1523.2,1078.6l3.4,-3.4 3.4,3.4 -3.4,3.4zM1590.3,1173.1l3.4,-3.4 3.4,3.4 -3.4,3.4zM1523.2,1060.6l3.4,-3.4 3.4,3.4 -3.4,3.4zM1528.0,1042.6l3.4,-3.4 3.4,3.4 -3.4,3.4zM1508.9,1074.1l3.4,-3.4 3.4,3.4 -3.4,3.4zM1542.4,1267.6l3.4,-3.4 3.4,3.4 -3.4,3.4zM1700.5,1141.6l3.4,-3.4 3.4,3.4 -3.4,3.4zM1623.8,1177.6l3.4,-3.4 3.4,3.4 -3.4,3.4zM1542.4,1155.1l3.4,-3.4 3.4,3.4 -3.4,3.4zM1623.8,1195.6l3.4,-3.4 3.4,3.4 -3.4,3.4zM1614.2,925.6l3.4,-3.4 3.4,3.4 -3.4,3.4zM1437.0,1110.1l3.4,-3.4 3.4,3.4 -3.4,3.4zM1643.0,1213.6l3.4,-3.4 3.4,3.4 -3.4,3.4zM1446.6,1191.1l3.4,-3.4 3.4,3.4 -3.4,3.4zM1643.0,1245.1l3.4,-3.4 3.4,3.4 -3.4,3.4zM1623.8,1056.1l3.4,-3.4 3.4,3.4 -3.4,3.4zM1580.7,1213.6l3.4,-3.4 3.4,3.4 -3.4,3.4zM1566.3,1254.1l3.4,-3.4 3.4,3.4 -3.4,3.4zM1643.0,1258.6l3.4,-3.4 3.4,3.4 -3.4,3.4zM1499.3,1231.6l3.4,-3.4 3.4,3.4 -3.4,3.4zM1413.0,1182.1l3.4,-3.4 3.4,3.4 -3.4,3.4zM1437.0,1240.6l3.4,-3.4 3.4,3.4 -3.4,3.4zM1408.2,1195.6l3.4,-3.4 3.4,3.4 -3.4,3.4zM1643.0,1186.6l3.4,-3.4 3.4,3.4 -3.4,3.4zM1647.8,948.1l3.4,-3.4 3.4,3.4 -3.4,3.4zM1638.2,1204.6l3.4,-3.4 3.4,3.4 -3.4,3.4z" fill="#9d88e2" stroke="#9d88e2" stroke-width="0.8" stroke-linejoin="round"/>
<path d="M1566.3,1186.6l3.4,-3.4 3.4,3.4 -3.4,3.4zM1633.4,1083.1l3.4,-3.4 3.4,3.4 -3.4,3.4zM1561.6,1195.6l3.4,-3.4 3.4,3.4 -3.4,3.4zM1604.7,1186.6l3.4,-3.4 3.4,3.4 -3.4,3.4zM1403.5,1168.6l3.4,-3.4 3.4,3.4 -3.4,3.4zM1532.8,1195.6l3.4,-3.4 3.4,3.4 -3.4,3.4zM1619.0,1191.1l3.4,-3.4 3.4,3.4 -3.4,3.4zM1480.1,1137.1l3.4,-3.4 3.4,3.4 -3.4,3.4zM1595.1,930.1l3.4,-3.4 3.4,3.4 -3.4,3.4zM1451.4,1177.6l3.4,-3.4 3.4,3.4 -3.4,3.4zM1652.6,952.6l3.4,-3.4 3.4,3.4 -3.4,3.4zM1456.2,1074.1l3.4,-3.4 3.4,3.4 -3.4,3.4zM1460.9,997.6l3.4,-3.4 3.4,3.4 -3.4,3.4zM1523.2,1182.1l3.4,-3.4 3.4,3.4 -3.4,3.4zM1580.7,1083.1l3.4,-3.4 3.4,3.4 -3.4,3.4zM1355.6,1047.1l3.4,-3.4 3.4,3.4 -3.4,3.4z" fill="#8c77e4" stroke="#8c77e4" stroke-width="0.8" stroke-linejoin="round"/>
<path d="M1465.7,1155.1l3.4,-3.4 3.4,3.4 -3.4,3.4zM1595.1,903.1l3.4,-3.4 3.4,3.4 -3.4,3.4zM1585.5,1173.1l3.4,-3.4 3.4,3.4 -3.4,3.4zM1489.7,1245.1l3.4,-3.4 3.4,3.4 -3.4,3.4zM1523.2,1101.1l3.4,-3.4 3.4,3.4 -3.4,3.4zM1513.6,1141.6l3.4,-3.4 3.4,3.4 -3.4,3.4zM1666.9,1114.6l3.4,-3.4 3.4,3.4 -3.4,3.4zM1647.8,1227.1l3.4,-3.4 3.4,3.4 -3.4,3.4zM1547.2,1227.1l3.4,-3.4 3.4,3.4 -3.4,3.4zM1374.7,984.1l3.4,-3.4 3.4,3.4 -3.4,3.4zM1561.6,1137.1l3.4,-3.4 3.4,3.4 -3.4,3.4zM1638.2,939.1l3.4,-3.4 3.4,3.4 -3.4,3.4zM1657.4,930.1l3.4,-3.4 3.4,3.4 -3.4,3.4zM1523.2,1195.6l3.4,-3.4 3.4,3.4 -3.4,3.4z" fill="#7c66e6" stroke="#7c66e6" stroke-width="0.8" stroke-linejoin="round"/>
<path d="M1547.2,1222.6l3.4,-3.4 3.4,3.4 -3.4,3.4zM1513.6,1164.1l3.4,-3.4 3.4,3.4 -3.4,3.4zM1580.7,921.1l3.4,-3.4 3.4,3.4 -3.4,3.4zM1446.6,1222.6l3.4,-3.4 3.4,3.4 -3.4,3.4zM1590.3,1042.6l3.4,-3.4 3.4,3.4 -3.4,3.4zM1575.9,1204.6l3.4,-3.4 3.4,3.4 -3.4,3.4zM1599.9,921.1l3.4,-3.4 3.4,3.4 -3.4,3.4zM1614.2,1083.1l3.4,-3.4 3.4,3.4 -3.4,3.4zM1547.2,961.6l3.4,-3.4 3.4,3.4 -3.4,3.4zM1690.9,1141.6l3.4,-3.4 3.4,3.4 -3.4,3.4zM1561.6,1038.1l3.4,-3.4 3.4,3.4 -3.4,3.4zM1623.8,1213.6l3.4,-3.4 3.4,3.4 -3.4,3.4zM1614.2,1200.1l3.4,-3.4 3.4,3.4 -3.4,3.4zM1647.8,939.1l3.4,-3.4 3.4,3.4 -3.4,3.4zM1690.9,1146.1l3.4,-3.4 3.4,3.4 -3.4,3.4zM1623.8,1186.6l3.4,-3.4 3.4,3.4 -3.4,3.4zM1623.8,1083.1l3.4,-3.4 3.4,3.4 -3.4,3.4z" fill="#6c54e9" stroke="#6c54e9" stroke-width="0.8" stroke-linejoin="round"/>
<path d="M1528.0,1051.6l3.4,-3.4 3.4,3.4 -3.4,3.4zM1633.4,1186.6l3.4,-3.4 3.4,3.4 -3.4,3.4zM1666.9,1137.1l3.4,-3.4 3.4,3.4 -3.4,3.4zM1494.5,1033.6l3.4,-3.4 3.4,3.4 -3.4,3.4zM1489.7,1029.1l3.4,-3.4 3.4,3.4 -3.4,3.4zM1393.9,1029.1l3.4,-3.4 3.4,3.4 -3.4,3.4z" fill="#5c43eb" stroke="#5c43eb" stroke-width="0.8" stroke-linejoin="round"/>
<path d="M1662.2,1155.1l3.4,-3.4 3.4,3.4 -3.4,3.4zM1484.9,943.6l3.4,-3.4 3.4,3.4 -3.4,3.4zM1575.9,1195.6l3.4,-3.4 3.4,3.4 -3.4,3.4zM1499.3,934.6l3.4,-3.4 3.4,3.4 -3.4,3.4zM1475.3,939.1l3.4,-3.4 3.4,3.4 -3.4,3.4zM1523.2,1177.6l3.4,-3.4 3.4,3.4 -3.4,3.4zM1499.3,939.1l3.4,-3.4 3.4,3.4 -3.4,3.4zM1604.7,1159.6l3.4,-3.4 3.4,3.4 -3.4,3.4zM1528.0,1087.6l3.4,-3.4 3.4,3.4 -3.4,3.4zM1566.3,1240.6l3.4,-3.4 3.4,3.4 -3.4,3.4zM1480.1,939.1l3.4,-3.4 3.4,3.4 -3.4,3.4zM1599.9,1218.1l3.4,-3.4 3.4,3.4 -3.4,3.4z" fill="#4b36ec" stroke="#4b36ec" stroke-width="0.8" stroke-linejoin="round"/>
<path d="M1480.1,934.6l3.4,-3.4 3.4,3.4 -3.4,3.4zM1671.7,1155.1l3.4,-3.4 3.4,3.4 -3.4,3.4zM1590.3,1254.1l3.4,-3.4 3.4,3.4 -3.4,3.4zM1504.1,939.1l3.4,-3.4 3.4,3.4 -3.4,3.4zM1585.5,1060.6l3.4,-3.4 3.4,3.4 -3.4,3.4z" fill="#3a28ee" stroke="#3a28ee" stroke-width="0.8" stroke-linejoin="round"/>
<path d="M1489.7,1141.6l3.4,-3.4 3.4,3.4 -3.4,3.4zM1638.2,975.1l3.4,-3.4 3.4,3.4 -3.4,3.4zM1484.9,930.1l3.4,-3.4 3.4,3.4 -3.4,3.4zM1528.0,1191.1l3.4,-3.4 3.4,3.4 -3.4,3.4z" fill="#281aef" stroke="#281aef" stroke-width="0.8" stroke-linejoin="round"/>
<path d="M1494.5,925.6l3.4,-3.4 3.4,3.4 -3.4,3.4zM1604.7,1087.6l3.4,-3.4 3.4,3.4 -3.4,3.4zM1451.4,1159.6l3.4,-3.4 3.4,3.4 -3.4,3.4zM1552.0,1123.6l3.4,-3.4 3.4,3.4 -3.4,3.4zM1623.8,1051.6l3.4,-3.4 3.4,3.4 -3.4,3.4zM1647.8,1200.1l3.4,-3.4 3.4,3.4 -3.4,3.4z" fill="#170df0" stroke="#170df0" stroke-width="0.8" stroke-linejoin="round"/>
<text x="1282.3" y="834.2" font-size="40" text-anchor="end">6</text>
<text x="1282.3" y="971.0" font-size="40" text-anchor="end">3</text>
<text x="1282.3" y="1104.5" font-size="40" text-anchor="end">0</text>
<text x="1282.3" y="1236.0" font-size="40" text-anchor="end">-3</text>
<text x="1416.3" y="1394.3" font-size="40" text-anchor="middle">-3</text>
<text x="1578.2" y="1394.3" font-size="40" text-anchor="middle">0</text>
<text x="1734.5" y="1394.3" font-size="40" text-anchor="middle">3</text>
<text x="1889.2" y="1394.3" font-size="40" text-anchor="middle">6</text>
<text x="1649.8" y="1436.8" font-size="40" text-anchor="middle">UMAP_1</text>
<text x="1241.8" y="1069.0" font-size="40" text-anchor="middle" transform="rotate(-90 1241.8 1069.0)">UMAP_2</text>
<text x="1516.5" y="818.0" font-size="39.5" font-style="italic" textLength="141.5" lengthAdjust="spacingAndGlyphs">hapln1a</text>
<defs><linearGradient id="gd" x1="0" y1="0" x2="0" y2="1"><stop offset="0" stop-color="#230fff"/><stop offset="0.2" stop-color="#5a37fa"/><stop offset="0.465" stop-color="#8764f0"/><stop offset="0.745" stop-color="#af96eb"/><stop offset="1" stop-color="#d3d3d7"/></linearGradient></defs>
<rect x="1918.2" y="952.0" width="41.1" height="211.0" fill="url(#gd)"/>
<line x1="1918.2" y1="993.9" x2="1924.5" y2="993.9" stroke="#fff" stroke-width="2"/>
<line x1="1953.0" y1="993.9" x2="1959.3" y2="993.9" stroke="#fff" stroke-width="2"/>
<line x1="1918.2" y1="1050.3" x2="1924.5" y2="1050.3" stroke="#fff" stroke-width="2"/>
<line x1="1953.0" y1="1050.3" x2="1959.3" y2="1050.3" stroke="#fff" stroke-width="2"/>
<line x1="1918.2" y1="1109.1" x2="1924.5" y2="1109.1" stroke="#fff" stroke-width="2"/>
<line x1="1953.0" y1="1109.1" x2="1959.3" y2="1109.1" stroke="#fff" stroke-width="2"/>
<text x="1967.0" y="986.7" font-size="38.5">3</text>
<text x="1967.0" y="1041.1" font-size="38.5">2</text>
<text x="1967.0" y="1099.6" font-size="38.5">1</text>
<text x="1967.0" y="1157.4" font-size="38.5">0</text>
<text x="1903.5" y="1061.0" font-size="42" text-anchor="middle" textLength="186.0" lengthAdjust="spacingAndGlyphs" transform="rotate(-90 1903.5 1061.0)">expression</text>
<rect x="516.6" y="1551.5" width="19.4" height="739.2" fill="#ebebeb"/>
<g shape-rendering="crispEdges">
<rect x="535.8" y="1555.3" width="195.4" height="46.5" fill="#ff0000"/>
<rect x="731.0" y="1555.3" width="198.6" height="46.5" fill="#0000ff"/>
<rect x="535.8" y="1601.2" width="195.4" height="46.5" fill="#e1cdff"/>
<rect x="731.0" y="1601.2" width="198.6" height="46.5" fill="#0000ff"/>
<rect x="535.8" y="1647.2" width="195.4" height="46.5" fill="#cdb4ff"/>
<rect x="731.0" y="1647.2" width="198.6" height="46.5" fill="#0000ff"/>
<rect x="535.8" y="1693.2" width="195.4" height="46.5" fill="#b996ff"/>
<rect x="731.0" y="1693.2" width="198.6" height="46.5" fill="#0000ff"/>
<rect x="535.8" y="1739.1" width="195.4" height="46.5" fill="#af8cff"/>
<rect x="731.0" y="1739.1" width="198.6" height="46.5" fill="#0000ff"/>
<rect x="535.8" y="1785.0" width="195.4" height="46.5" fill="#9669ff"/>
<rect x="731.0" y="1785.0" width="198.6" height="46.5" fill="#0000ff"/>
<rect x="535.8" y="1831.0" width="195.4" height="46.5" fill="#9164ff"/>
<rect x="731.0" y="1831.0" width="198.6" height="46.5" fill="#0000ff"/>
<rect x="535.8" y="1877.0" width="195.4" height="46.5" fill="#875aff"/>
<rect x="731.0" y="1877.0" width="198.6" height="46.5" fill="#0000ff"/>
<rect x="535.8" y="1922.9" width="195.4" height="46.5" fill="#0000ff"/>
<rect x="731.0" y="1922.9" width="198.6" height="46.5" fill="#d7beff"/>
<rect x="535.8" y="1968.8" width="195.4" height="46.5" fill="#0000ff"/>
<rect x="731.0" y="1968.8" width="198.6" height="46.5" fill="#c8aaff"/>
<rect x="535.8" y="2014.8" width="195.4" height="46.5" fill="#0000ff"/>
<rect x="731.0" y="2014.8" width="198.6" height="46.5" fill="#b996ff"/>
<rect x="535.8" y="2060.8" width="195.4" height="46.5" fill="#0000ff"/>
<rect x="731.0" y="2060.8" width="198.6" height="46.5" fill="#aa82ff"/>
<rect x="535.8" y="2106.7" width="195.4" height="46.5" fill="#0000ff"/>
<rect x="731.0" y="2106.7" width="198.6" height="46.5" fill="#aa82ff"/>
<rect x="535.8" y="2152.7" width="195.4" height="46.5" fill="#0000ff"/>
<rect x="731.0" y="2152.7" width="198.6" height="46.5" fill="#a880ff"/>
<rect x="535.8" y="2198.6" width="195.4" height="46.5" fill="#0000ff"/>
<rect x="731.0" y="2198.6" width="198.6" height="46.5" fill="#a073ff"/>
<rect x="535.8" y="2244.6" width="195.4" height="46.5" fill="#0000ff"/>
<rect x="731.0" y="2244.6" width="198.6" height="46.5" fill="#9b6eff"/>
</g>
<line x1="511.7" y1="1579.2" x2="516.2" y2="1579.2" stroke="#333" stroke-width="1.6"/>
<line x1="523.0" y1="1579.2" x2="535.8" y2="1579.2" stroke="#fff" stroke-width="1.8"/>
<line x1="511.7" y1="1625.9" x2="516.2" y2="1625.9" stroke="#333" stroke-width="1.6"/>
<line x1="523.0" y1="1625.9" x2="535.8" y2="1625.9" stroke="#fff" stroke-width="1.8"/>
<line x1="511.7" y1="1671.7" x2="516.2" y2="1671.7" stroke="#333" stroke-width="1.6"/>
<line x1="523.0" y1="1671.7" x2="535.8" y2="1671.7" stroke="#fff" stroke-width="1.8"/>
<line x1="511.7" y1="1717.8" x2="516.2" y2="1717.8" stroke="#333" stroke-width="1.6"/>
<line x1="523.0" y1="1717.8" x2="535.8" y2="1717.8" stroke="#fff" stroke-width="1.8"/>
<line x1="511.7" y1="1763.9" x2="516.2" y2="1763.9" stroke="#333" stroke-width="1.6"/>
<line x1="523.0" y1="1763.9" x2="535.8" y2="1763.9" stroke="#fff" stroke-width="1.8"/>
<line x1="511.7" y1="1810.3" x2="516.2" y2="1810.3" stroke="#333" stroke-width="1.6"/>
<line x1="523.0" y1="1810.3" x2="535.8" y2="1810.3" stroke="#fff" stroke-width="1.8"/>
<line x1="511.7" y1="1854.9" x2="516.2" y2="1854.9" stroke="#333" stroke-width="1.6"/>
<line x1="523.0" y1="1854.9" x2="535.8" y2="1854.9" stroke="#fff" stroke-width="1.8"/>
<line x1="511.7" y1="1900.1" x2="516.2" y2="1900.1" stroke="#333" stroke-width="1.6"/>
<line x1="523.0" y1="1900.1" x2="535.8" y2="1900.1" stroke="#fff" stroke-width="1.8"/>
<line x1="511.7" y1="1946.5" x2="516.2" y2="1946.5" stroke="#333" stroke-width="1.6"/>
<line x1="523.0" y1="1946.5" x2="535.8" y2="1946.5" stroke="#fff" stroke-width="1.8"/>
<line x1="511.7" y1="1992.9" x2="516.2" y2="1992.9" stroke="#333" stroke-width="1.6"/>
<line x1="523.0" y1="1992.9" x2="535.8" y2="1992.9" stroke="#fff" stroke-width="1.8"/>
<line x1="511.7" y1="2039.0" x2="516.2" y2="2039.0" stroke="#333" stroke-width="1.6"/>
<line x1="523.0" y1="2039.0" x2="535.8" y2="2039.0" stroke="#fff" stroke-width="1.8"/>
<line x1="511.7" y1="2085.1" x2="516.2" y2="2085.1" stroke="#333" stroke-width="1.6"/>
<line x1="523.0" y1="2085.1" x2="535.8" y2="2085.1" stroke="#fff" stroke-width="1.8"/>
<line x1="511.7" y1="2131.0" x2="516.2" y2="2131.0" stroke="#333" stroke-width="1.6"/>
<line x1="523.0" y1="2131.0" x2="535.8" y2="2131.0" stroke="#fff" stroke-width="1.8"/>
<line x1="511.7" y1="2176.8" x2="516.2" y2="2176.8" stroke="#333" stroke-width="1.6"/>
<line x1="523.0" y1="2176.8" x2="535.8" y2="2176.8" stroke="#fff" stroke-width="1.8"/>
<line x1="511.7" y1="2223.5" x2="516.2" y2="2223.5" stroke="#333" stroke-width="1.6"/>
<line x1="523.0" y1="2223.5" x2="535.8" y2="2223.5" stroke="#fff" stroke-width="1.8"/>
<line x1="511.7" y1="2269.0" x2="516.2" y2="2269.0" stroke="#333" stroke-width="1.6"/>
<line x1="523.0" y1="2269.0" x2="535.8" y2="2269.0" stroke="#fff" stroke-width="1.8"/>
<text x="179.3" y="1583.7" font-size="37" textLength="317.9" lengthAdjust="spacingAndGlyphs">ECM organization</text>
<text x="35.3" y="1631.9" font-size="37" textLength="463.4" lengthAdjust="spacingAndGlyphs">collagen fibril organization</text>
<text x="261.3" y="1681.0" font-size="37" textLength="236.8" lengthAdjust="spacingAndGlyphs">cell migration</text>
<text x="49.7" y="1727.4" font-size="37" textLength="448.4" lengthAdjust="spacingAndGlyphs">vasculature development</text>
<text x="238.1" y="1772.0" font-size="37" textLength="260.6" lengthAdjust="spacingAndGlyphs">axon guidance</text>
<text x="260.7" y="1816.3" font-size="37" textLength="236.5" lengthAdjust="spacingAndGlyphs">angiogenesis</text>
<text x="275.7" y="1860.3" font-size="37" textLength="224.5" lengthAdjust="spacingAndGlyphs">regeneration</text>
<text x="129.5" y="1908.5" font-size="37" textLength="370.7" lengthAdjust="spacingAndGlyphs">muscle development</text>
<text x="208.5" y="1957.7" font-size="37" textLength="287.2" lengthAdjust="spacingAndGlyphs">protein refolding</text>
<text x="102.5" y="2005.3" font-size="37" textLength="390.8" lengthAdjust="spacingAndGlyphs">RA metabolic process</text>
<text x="178.7" y="2050.2" font-size="37" textLength="316.4" lengthAdjust="spacingAndGlyphs">glycolytic process</text>
<text x="6.9" y="2097.8" font-size="37" textLength="488.8" lengthAdjust="spacingAndGlyphs">pyruvate metabolic process</text>
<text x="123.0" y="2141.5" font-size="37" textLength="372.7" lengthAdjust="spacingAndGlyphs">translation regulation</text>
<text x="262.2" y="2191.2" font-size="37" textLength="234.4" lengthAdjust="spacingAndGlyphs">detoxification</text>
<text x="110.9" y="2233.4" font-size="37" textLength="387.8" lengthAdjust="spacingAndGlyphs">calcium ion regulation</text>
<text x="33.2" y="2277.7" font-size="37" textLength="465.5" lengthAdjust="spacingAndGlyphs">peptide metabolic process</text>
<text x="553.5" y="1540.8" font-size="39" font-style="italic">hapln1a<tspan font-size="26" dy="-13" font-style="normal">+</tspan></text>
<text x="764.5" y="1540.8" font-size="39" font-style="italic">hapln1a<tspan font-size="26" dy="-13" font-style="normal">-</tspan></text>
<defs><linearGradient id="ge" x1="0" y1="0" x2="0" y2="1"><stop offset="0" stop-color="#f0140a"/><stop offset="0.035" stop-color="#ff3c1e"/><stop offset="0.23" stop-color="#ffa082"/><stop offset="0.425" stop-color="#ffe1d2"/><stop offset="0.5" stop-color="#ffffff"/><stop offset="0.62" stop-color="#e1cdff"/><stop offset="0.815" stop-color="#a073ff"/><stop offset="1" stop-color="#2814ff"/></linearGradient></defs>
<rect x="1011.6" y="1748.2" width="42.8" height="216.9" fill="url(#ge)"/>
<line x1="1011.6" y1="1755.2" x2="1018.5" y2="1755.2" stroke="#fff" stroke-width="1.8"/>
<line x1="1047.5" y1="1755.2" x2="1054.4" y2="1755.2" stroke="#fff" stroke-width="1.8"/>
<line x1="1011.6" y1="1798.3" x2="1018.5" y2="1798.3" stroke="#fff" stroke-width="1.8"/>
<line x1="1047.5" y1="1798.3" x2="1054.4" y2="1798.3" stroke="#fff" stroke-width="1.8"/>
<line x1="1011.6" y1="1840.7" x2="1018.5" y2="1840.7" stroke="#fff" stroke-width="1.8"/>
<line x1="1047.5" y1="1840.7" x2="1054.4" y2="1840.7" stroke="#fff" stroke-width="1.8"/>
<line x1="1011.6" y1="1882.7" x2="1018.5" y2="1882.7" stroke="#fff" stroke-width="1.8"/>
<line x1="1047.5" y1="1882.7" x2="1054.4" y2="1882.7" stroke="#fff" stroke-width="1.8"/>
<line x1="1011.6" y1="1925.0" x2="1018.5" y2="1925.0" stroke="#fff" stroke-width="1.8"/>
<line x1="1047.5" y1="1925.0" x2="1054.4" y2="1925.0" stroke="#fff" stroke-width="1.8"/>
<text x="1061.0" y="1787.8" font-size="39">12.5</text>
<text x="1072.6" y="1850.0" font-size="39">10</text>
<text x="1085.5" y="1907.6" font-size="39">5</text>
<text x="1081.0" y="1962.7" font-size="39">0</text>
<text transform="translate(979.0,2001.7) rotate(-90)" font-size="40" textLength="287" lengthAdjust="spacingAndGlyphs">-1*log<tspan font-size="26" dy="8.5">10</tspan><tspan dy="-8.5">(pValue)</tspan></text>
<line x1="1447.7" y1="1640.0" x2="1447.7" y2="2164.0" stroke="#ebebeb" stroke-width="2.2"/>
<line x1="1643.7" y1="1640.0" x2="1643.7" y2="2164.0" stroke="#ebebeb" stroke-width="2.2"/>
<line x1="1838.0" y1="1640.0" x2="1838.0" y2="2164.0" stroke="#ebebeb" stroke-width="2.2"/>
<line x1="1352.0" y1="1640.0" x2="1352.0" y2="2164.0" stroke="#f0f0f0" stroke-width="1.1"/>
<line x1="1546.0" y1="1640.0" x2="1546.0" y2="2164.0" stroke="#f0f0f0" stroke-width="1.1"/>
<line x1="1740.5" y1="1640.0" x2="1740.5" y2="2164.0" stroke="#f0f0f0" stroke-width="1.1"/>
<line x1="1324.0" y1="1650.8" x2="1842.0" y2="1650.8" stroke="#ebebeb" stroke-width="2.2"/>
<line x1="1324.0" y1="1814.6" x2="1842.0" y2="1814.6" stroke="#ebebeb" stroke-width="2.2"/>
<line x1="1324.0" y1="1978.3" x2="1842.0" y2="1978.3" stroke="#ebebeb" stroke-width="2.2"/>
<line x1="1324.0" y1="2142.0" x2="1842.0" y2="2142.0" stroke="#ebebeb" stroke-width="2.2"/>
<line x1="1324.0" y1="1732.7" x2="1842.0" y2="1732.7" stroke="#f0f0f0" stroke-width="1.1"/>
<line x1="1324.0" y1="1896.3" x2="1842.0" y2="1896.3" stroke="#f0f0f0" stroke-width="1.1"/>
<line x1="1324.0" y1="2060.0" x2="1842.0" y2="2060.0" stroke="#f0f0f0" stroke-width="1.1"/>
<defs><path id="pn" d="M-3.2,0L0,-2.6 3.2,0 0,2.6z" fill="#4d4d4d" fill-opacity=".6" stroke="#4d4d4d" stroke-opacity=".8" stroke-width=".9" stroke-linejoin="round"/><path id="pg" d="M-3.2,0L0,-2.6 3.2,0 0,2.6z" fill="#228b22" fill-opacity=".5" stroke="#228b22" stroke-opacity=".8" stroke-width=".9" stroke-linejoin="round"/><path id="pb" d="M-3.2,0L0,-2.6 3.2,0 0,2.6z" fill="#4169e1" fill-opacity=".5" stroke="#4169e1" stroke-opacity=".8" stroke-width=".9" stroke-linejoin="round"/><path id="pr" d="M-3.2,0L0,-2.6 3.2,0 0,2.6z" fill="#ee0000" fill-opacity=".5" stroke="#e00010" stroke-opacity=".8" stroke-width=".9" stroke-linejoin="round"/></defs>
<rect x="1627.0" y="2110.0" width="34.0" height="33.0" fill="#4d4d4d"/>
<use href="#pn" x="1647.7" y="2118.9"/><use href="#pn" x="1653.6" y="2112.7"/><use href="#pn" x="1651.7" y="2113.3"/><use href="#pn" x="1627.4" y="2127.5"/><use href="#pn" x="1658.6" y="2121.8"/><use href="#pn" x="1657.2" y="2138.5"/><use href="#pn" x="1642.4" y="2134.3"/><use href="#pn" x="1645.0" y="2124.1"/><use href="#pn" x="1626.9" y="2135.3"/><use href="#pn" x="1636.0" y="2113.5"/><use href="#pn" x="1652.6" y="2137.0"/><use href="#pn" x="1653.6" y="2137.7"/><use href="#pn" x="1647.5" y="2138.1"/><use href="#pn" x="1626.5" y="2114.9"/><use href="#pn" x="1633.6" y="2135.3"/><use href="#pn" x="1660.0" y="2114.9"/><use href="#pn" x="1636.3" y="2112.1"/><use href="#pn" x="1644.8" y="2120.9"/><use href="#pn" x="1633.4" y="2112.7"/><use href="#pn" x="1650.0" y="2111.9"/><use href="#pn" x="1656.9" y="2132.7"/><use href="#pn" x="1638.8" y="2136.8"/><use href="#pn" x="1631.4" y="2140.0"/><use href="#pn" x="1636.7" y="2123.2"/><use href="#pn" x="1626.5" y="2120.9"/><use href="#pn" x="1638.0" y="2132.4"/><use href="#pn" x="1654.4" y="2127.0"/><use href="#pn" x="1637.2" y="2127.0"/><use href="#pn" x="1650.5" y="2140.2"/><use href="#pn" x="1659.7" y="2141.3"/><use href="#pn" x="1652.0" y="2115.7"/><use href="#pn" x="1627.0" y="2117.5"/><use href="#pn" x="1638.9" y="2124.0"/><use href="#pn" x="1626.7" y="2140.5"/><use href="#pn" x="1632.6" y="2112.3"/><use href="#pn" x="1633.1" y="2118.5"/><use href="#pn" x="1658.1" y="2112.7"/><use href="#pn" x="1638.2" y="2131.0"/><use href="#pn" x="1644.3" y="2117.9"/><use href="#pn" x="1630.1" y="2118.7"/><use href="#pn" x="1653.6" y="2115.3"/><use href="#pn" x="1627.7" y="2112.6"/><use href="#pn" x="1629.5" y="2131.4"/><use href="#pn" x="1647.3" y="2113.4"/><use href="#pn" x="1638.0" y="2113.3"/><use href="#pn" x="1645.0" y="2132.3"/><use href="#pn" x="1637.2" y="2136.5"/><use href="#pn" x="1629.1" y="2137.4"/><use href="#pn" x="1649.9" y="2111.0"/><use href="#pn" x="1631.9" y="2140.5"/><use href="#pn" x="1660.1" y="2125.4"/><use href="#pn" x="1640.3" y="2134.6"/><use href="#pn" x="1646.7" y="2116.3"/><use href="#pn" x="1642.0" y="2128.9"/><use href="#pn" x="1628.3" y="2113.5"/><use href="#pn" x="1627.5" y="2126.6"/><use href="#pn" x="1655.0" y="2137.9"/><use href="#pn" x="1651.4" y="2112.5"/><use href="#pn" x="1647.9" y="2117.5"/><use href="#pn" x="1630.1" y="2128.5"/><use href="#pn" x="1631.5" y="2115.7"/><use href="#pn" x="1636.5" y="2127.9"/><use href="#pn" x="1660.5" y="2115.5"/><use href="#pn" x="1659.7" y="2127.9"/><use href="#pn" x="1643.1" y="2119.3"/><use href="#pn" x="1642.8" y="2132.9"/><use href="#pn" x="1640.2" y="2137.4"/><use href="#pn" x="1639.3" y="2111.3"/><use href="#pn" x="1659.2" y="2122.5"/><use href="#pn" x="1643.5" y="2131.5"/><use href="#pn" x="1629.5" y="2133.5"/><use href="#pn" x="1653.1" y="2115.0"/><use href="#pn" x="1638.8" y="2117.6"/><use href="#pn" x="1652.9" y="2120.4"/><use href="#pn" x="1649.1" y="2118.4"/><use href="#pn" x="1638.8" y="2120.1"/><use href="#pn" x="1636.0" y="2126.9"/><use href="#pn" x="1652.7" y="2120.5"/><use href="#pn" x="1636.5" y="2112.6"/><use href="#pn" x="1648.6" y="2123.9"/><use href="#pn" x="1626.8" y="2125.0"/><use href="#pn" x="1635.0" y="2121.1"/><use href="#pn" x="1642.2" y="2116.6"/><use href="#pn" x="1648.5" y="2117.2"/><use href="#pn" x="1638.3" y="2122.0"/><use href="#pn" x="1651.6" y="2116.2"/><use href="#pn" x="1638.4" y="2115.8"/><use href="#pn" x="1656.1" y="2120.6"/><use href="#pn" x="1659.7" y="2112.2"/><use href="#pn" x="1644.1" y="2125.5"/><use href="#pn" x="1632.1" y="2116.0"/><use href="#pn" x="1658.4" y="2127.2"/><use href="#pn" x="1650.0" y="2119.6"/><use href="#pn" x="1651.3" y="2136.7"/><use href="#pn" x="1653.1" y="2123.9"/><use href="#pn" x="1649.1" y="2128.9"/><use href="#pn" x="1647.7" y="2117.9"/><use href="#pn" x="1648.2" y="2119.6"/><use href="#pn" x="1627.4" y="2137.0"/><use href="#pn" x="1641.5" y="2121.8"/><use href="#pn" x="1633.9" y="2120.7"/><use href="#pn" x="1648.0" y="2140.7"/><use href="#pn" x="1642.5" y="2135.0"/><use href="#pn" x="1628.3" y="2137.8"/><use href="#pn" x="1637.3" y="2136.4"/><use href="#pn" x="1633.0" y="2140.9"/><use href="#pn" x="1642.3" y="2130.2"/><use href="#pn" x="1647.3" y="2123.6"/><use href="#pn" x="1634.5" y="2113.9"/><use href="#pn" x="1626.4" y="2129.4"/><use href="#pn" x="1635.9" y="2129.2"/><use href="#pn" x="1630.4" y="2116.1"/><use href="#pn" x="1639.2" y="2140.9"/><use href="#pn" x="1647.4" y="2139.1"/><use href="#pn" x="1645.0" y="2131.4"/><use href="#pn" x="1646.2" y="2112.2"/><use href="#pn" x="1654.4" y="2129.0"/><use href="#pn" x="1654.2" y="2122.0"/><use href="#pn" x="1639.0" y="2137.6"/><use href="#pn" x="1646.8" y="2124.5"/><use href="#pn" x="1659.1" y="2111.9"/><use href="#pn" x="1647.2" y="2131.1"/><use href="#pn" x="1656.9" y="2142.0"/><use href="#pn" x="1630.1" y="2124.4"/><use href="#pn" x="1647.4" y="2137.6"/><use href="#pn" x="1647.9" y="2114.3"/><use href="#pn" x="1639.3" y="2128.6"/><use href="#pn" x="1634.1" y="2132.9"/><use href="#pn" x="1659.6" y="2130.2"/><use href="#pn" x="1659.2" y="2113.6"/><use href="#pn" x="1646.8" y="2133.9"/><use href="#pn" x="1659.9" y="2126.6"/><use href="#pn" x="1640.6" y="2132.1"/><use href="#pn" x="1660.0" y="2126.7"/><use href="#pn" x="1636.2" y="2127.2"/><use href="#pn" x="1630.6" y="2122.7"/><use href="#pn" x="1641.6" y="2132.9"/><use href="#pn" x="1653.1" y="2116.3"/><use href="#pn" x="1626.9" y="2125.4"/><use href="#pn" x="1635.8" y="2112.9"/><use href="#pn" x="1653.1" y="2134.4"/><use href="#pn" x="1635.6" y="2137.2"/><use href="#pn" x="1660.2" y="2132.9"/><use href="#pn" x="1647.2" y="2127.2"/><use href="#pn" x="1648.4" y="2123.2"/><use href="#pn" x="1651.8" y="2138.3"/><use href="#pn" x="1652.4" y="2132.6"/><use href="#pn" x="1644.6" y="2131.5"/><use href="#pn" x="1636.6" y="2125.5"/><use href="#pn" x="1642.3" y="2130.8"/><use href="#pn" x="1651.8" y="2123.6"/><use href="#pn" x="1627.7" y="2134.1"/><use href="#pn" x="1642.0" y="2113.5"/><use href="#pn" x="1656.7" y="2125.0"/><use href="#pn" x="1626.9" y="2117.8"/><use href="#pn" x="1641.0" y="2124.1"/><use href="#pn" x="1650.6" y="2122.3"/><use href="#pn" x="1642.9" y="2113.6"/><use href="#pn" x="1639.6" y="2129.8"/><use href="#pn" x="1655.5" y="2135.9"/><use href="#pn" x="1636.5" y="2116.2"/><use href="#pn" x="1628.7" y="2116.0"/><use href="#pn" x="1650.1" y="2128.5"/><use href="#pn" x="1636.2" y="2117.7"/><use href="#pn" x="1657.5" y="2137.6"/><use href="#pn" x="1642.8" y="2124.9"/><use href="#pn" x="1643.4" y="2131.7"/><use href="#pn" x="1631.7" y="2123.8"/><use href="#pn" x="1654.1" y="2139.9"/><use href="#pn" x="1634.3" y="2116.5"/>
<use href="#pg" x="1606.7" y="2120.7"/><use href="#pg" x="1623.2" y="2118.9"/><use href="#pg" x="1582.2" y="2128.2"/><use href="#pg" x="1623.0" y="2115.2"/><use href="#pg" x="1620.8" y="2121.3"/><use href="#pg" x="1590.9" y="2119.2"/><use href="#pg" x="1621.9" y="2132.2"/><use href="#pg" x="1596.7" y="2136.7"/><use href="#pg" x="1613.4" y="2128.5"/><use href="#pg" x="1621.6" y="2122.0"/><use href="#pg" x="1623.0" y="2138.0"/><use href="#pg" x="1618.4" y="2139.1"/><use href="#pg" x="1622.9" y="2123.5"/><use href="#pg" x="1609.0" y="2114.0"/><use href="#pg" x="1622.0" y="2127.9"/><use href="#pg" x="1619.4" y="2122.7"/><use href="#pg" x="1616.3" y="2112.2"/><use href="#pg" x="1618.5" y="2139.6"/><use href="#pg" x="1610.7" y="2136.6"/><use href="#pg" x="1612.8" y="2125.6"/><use href="#pg" x="1597.6" y="2124.1"/><use href="#pg" x="1613.1" y="2133.2"/><use href="#pg" x="1614.9" y="2133.4"/><use href="#pg" x="1608.6" y="2125.3"/><use href="#pg" x="1622.0" y="2134.1"/><use href="#pg" x="1618.5" y="2118.4"/><use href="#pg" x="1621.4" y="2119.2"/><use href="#pg" x="1612.1" y="2138.7"/><use href="#pg" x="1611.7" y="2138.5"/><use href="#pg" x="1622.1" y="2122.9"/><use href="#pg" x="1620.6" y="2114.1"/><use href="#pg" x="1616.5" y="2131.3"/><use href="#pg" x="1606.4" y="2140.4"/><use href="#pg" x="1609.7" y="2139.7"/><use href="#pg" x="1621.7" y="2111.7"/><use href="#pg" x="1611.2" y="2134.4"/><use href="#pg" x="1622.2" y="2111.1"/><use href="#pg" x="1611.8" y="2115.8"/><use href="#pg" x="1621.9" y="2121.9"/><use href="#pg" x="1618.8" y="2134.0"/><use href="#pg" x="1619.2" y="2122.3"/><use href="#pg" x="1618.9" y="2129.3"/><use href="#pg" x="1621.9" y="2115.5"/><use href="#pg" x="1612.3" y="2116.3"/><use href="#pg" x="1617.4" y="2114.9"/><use href="#pg" x="1615.7" y="2122.9"/><use href="#pg" x="1614.4" y="2118.3"/><use href="#pg" x="1618.1" y="2138.3"/><use href="#pg" x="1623.1" y="2135.0"/><use href="#pg" x="1623.1" y="2113.7"/><use href="#pg" x="1616.5" y="2117.7"/><use href="#pg" x="1623.5" y="2126.7"/><use href="#pg" x="1599.8" y="2122.1"/><use href="#pg" x="1617.5" y="2126.9"/><use href="#pg" x="1622.4" y="2136.5"/><use href="#pg" x="1621.6" y="2129.7"/><use href="#pg" x="1618.3" y="2114.0"/><use href="#pg" x="1621.7" y="2133.4"/><use href="#pg" x="1620.0" y="2136.3"/><use href="#pg" x="1619.9" y="2134.0"/><use href="#pg" x="1616.4" y="2140.3"/><use href="#pg" x="1595.8" y="2129.9"/><use href="#pg" x="1593.7" y="2120.0"/><use href="#pg" x="1611.5" y="2126.7"/><use href="#pg" x="1592.3" y="2137.7"/><use href="#pg" x="1611.7" y="2132.3"/><use href="#pg" x="1611.5" y="2118.7"/><use href="#pg" x="1621.6" y="2135.1"/><use href="#pg" x="1623.2" y="2134.2"/><use href="#pg" x="1622.6" y="2128.9"/><use href="#pg" x="1584.5" y="2130.0"/><use href="#pg" x="1619.5" y="2126.8"/><use href="#pg" x="1619.9" y="2118.6"/><use href="#pg" x="1609.9" y="2136.3"/><use href="#pg" x="1620.5" y="2120.4"/><use href="#pg" x="1593.2" y="2121.3"/><use href="#pg" x="1617.5" y="2111.0"/><use href="#pg" x="1623.4" y="2139.5"/><use href="#pg" x="1607.3" y="2128.6"/><use href="#pg" x="1623.0" y="2124.3"/><use href="#pg" x="1574.5" y="2135.1"/><use href="#pg" x="1622.4" y="2139.1"/><use href="#pg" x="1598.9" y="2126.1"/><use href="#pg" x="1594.1" y="2139.7"/><use href="#pg" x="1620.5" y="2139.8"/><use href="#pg" x="1618.1" y="2139.5"/><use href="#pg" x="1620.3" y="2128.7"/><use href="#pg" x="1619.6" y="2139.7"/><use href="#pg" x="1623.1" y="2111.1"/><use href="#pg" x="1621.4" y="2125.5"/><use href="#pg" x="1618.0" y="2124.8"/><use href="#pg" x="1622.6" y="2131.6"/><use href="#pg" x="1622.3" y="2124.5"/><use href="#pg" x="1596.2" y="2122.7"/><use href="#pg" x="1602.7" y="2134.7"/><use href="#pg" x="1623.3" y="2124.6"/><use href="#pg" x="1616.4" y="2123.6"/><use href="#pg" x="1618.4" y="2121.9"/><use href="#pg" x="1609.6" y="2112.9"/><use href="#pg" x="1619.6" y="2127.4"/><use href="#pg" x="1604.7" y="2134.4"/><use href="#pg" x="1622.2" y="2131.6"/><use href="#pg" x="1622.5" y="2117.3"/><use href="#pg" x="1605.1" y="2131.6"/><use href="#pg" x="1622.0" y="2138.8"/><use href="#pg" x="1620.5" y="2138.7"/><use href="#pg" x="1617.5" y="2123.4"/><use href="#pg" x="1620.5" y="2139.4"/><use href="#pg" x="1610.6" y="2139.9"/><use href="#pg" x="1621.1" y="2132.4"/><use href="#pg" x="1618.5" y="2138.3"/><use href="#pg" x="1617.6" y="2131.6"/><use href="#pg" x="1608.5" y="2124.0"/><use href="#pg" x="1599.2" y="2121.0"/><use href="#pg" x="1608.2" y="2123.5"/><use href="#pg" x="1617.2" y="2115.9"/><use href="#pg" x="1612.1" y="2111.6"/><use href="#pg" x="1609.5" y="2119.5"/><use href="#pg" x="1620.2" y="2116.1"/><use href="#pg" x="1618.3" y="2137.3"/><use href="#pg" x="1622.8" y="2136.1"/><use href="#pg" x="1620.2" y="2120.3"/><use href="#pg" x="1619.9" y="2139.4"/><use href="#pg" x="1608.0" y="2124.0"/><use href="#pg" x="1623.2" y="2139.8"/><use href="#pg" x="1622.0" y="2130.2"/><use href="#pg" x="1602.4" y="2111.8"/><use href="#pg" x="1613.3" y="2134.2"/><use href="#pg" x="1617.5" y="2130.1"/><use href="#pg" x="1619.2" y="2141.0"/><use href="#pg" x="1614.1" y="2115.6"/><use href="#pg" x="1609.6" y="2138.4"/><use href="#pg" x="1615.4" y="2136.0"/><use href="#pg" x="1610.2" y="2127.5"/><use href="#pg" x="1593.6" y="2116.6"/><use href="#pg" x="1622.2" y="2131.5"/><use href="#pg" x="1597.1" y="2127.0"/><use href="#pg" x="1617.4" y="2127.6"/><use href="#pg" x="1607.9" y="2112.2"/><use href="#pg" x="1615.3" y="2111.2"/><use href="#pg" x="1613.8" y="2138.1"/><use href="#pg" x="1605.4" y="2128.3"/><use href="#pg" x="1622.9" y="2110.9"/><use href="#pg" x="1623.1" y="2123.4"/><use href="#pg" x="1616.4" y="2113.9"/><use href="#pg" x="1618.2" y="2134.6"/><use href="#pg" x="1620.0" y="2135.1"/><use href="#pg" x="1614.6" y="2130.2"/><use href="#pg" x="1608.6" y="2133.8"/><use href="#pg" x="1618.9" y="2133.6"/><use href="#pg" x="1580.2" y="2125.3"/><use href="#pg" x="1613.2" y="2128.9"/><use href="#pg" x="1621.8" y="2115.5"/><use href="#pg" x="1616.3" y="2140.2"/><use href="#pg" x="1621.5" y="2138.3"/><use href="#pg" x="1609.9" y="2113.3"/><use href="#pg" x="1621.1" y="2116.6"/><use href="#pg" x="1619.3" y="2120.1"/><use href="#pg" x="1602.2" y="2122.0"/><use href="#pg" x="1606.2" y="2129.6"/><use href="#pg" x="1623.4" y="2125.4"/><use href="#pg" x="1614.0" y="2135.6"/><use href="#pg" x="1618.2" y="2131.5"/><use href="#pg" x="1623.2" y="2131.6"/><use href="#pg" x="1618.3" y="2126.5"/><use href="#pg" x="1610.5" y="2128.9"/><use href="#pg" x="1580.2" y="2123.9"/><use href="#pg" x="1610.8" y="2120.5"/><use href="#pg" x="1615.2" y="2116.5"/><use href="#pg" x="1618.7" y="2122.9"/><use href="#pg" x="1611.3" y="2125.1"/><use href="#pg" x="1619.9" y="2138.9"/><use href="#pg" x="1622.5" y="2130.3"/><use href="#pg" x="1614.2" y="2117.7"/><use href="#pg" x="1610.1" y="2131.8"/><use href="#pg" x="1595.1" y="2132.8"/><use href="#pg" x="1610.0" y="2139.1"/><use href="#pg" x="1608.5" y="2120.5"/><use href="#pg" x="1589.8" y="2113.4"/><use href="#pg" x="1611.0" y="2115.3"/><use href="#pg" x="1609.1" y="2122.3"/><use href="#pg" x="1621.0" y="2125.3"/><use href="#pg" x="1599.2" y="2133.9"/><use href="#pg" x="1584.1" y="2134.3"/><use href="#pg" x="1623.5" y="2129.2"/><use href="#pg" x="1621.4" y="2121.0"/><use href="#pg" x="1598.9" y="2113.0"/><use href="#pg" x="1613.3" y="2129.3"/><use href="#pg" x="1622.3" y="2119.9"/><use href="#pg" x="1614.9" y="2119.1"/><use href="#pg" x="1665.2" y="2113.8"/><use href="#pg" x="1663.9" y="2131.8"/><use href="#pg" x="1664.3" y="2122.0"/><use href="#pg" x="1675.8" y="2136.1"/><use href="#pg" x="1668.4" y="2117.5"/><use href="#pg" x="1664.0" y="2139.4"/><use href="#pg" x="1667.4" y="2115.5"/><use href="#pg" x="1674.8" y="2118.7"/><use href="#pg" x="1665.7" y="2128.1"/><use href="#pg" x="1666.9" y="2113.2"/><use href="#pg" x="1664.6" y="2132.6"/><use href="#pg" x="1667.9" y="2111.3"/><use href="#pg" x="1663.7" y="2140.4"/><use href="#pg" x="1663.2" y="2123.8"/><use href="#pg" x="1667.9" y="2135.6"/><use href="#pg" x="1663.7" y="2122.9"/><use href="#pg" x="1668.6" y="2119.9"/><use href="#pg" x="1670.1" y="2139.4"/><use href="#pg" x="1666.4" y="2115.4"/><use href="#pg" x="1680.9" y="2131.4"/><use href="#pg" x="1673.6" y="2121.3"/><use href="#pg" x="1677.8" y="2134.2"/><use href="#pg" x="1669.5" y="2115.2"/><use href="#pg" x="1666.3" y="2138.2"/><use href="#pg" x="1663.8" y="2136.5"/><use href="#pg" x="1663.1" y="2136.6"/><use href="#pg" x="1668.1" y="2138.1"/><use href="#pg" x="1670.8" y="2118.4"/><use href="#pg" x="1672.4" y="2116.3"/><use href="#pg" x="1669.8" y="2112.6"/><use href="#pg" x="1680.9" y="2121.9"/><use href="#pg" x="1682.1" y="2138.1"/><use href="#pg" x="1663.1" y="2139.3"/><use href="#pg" x="1663.9" y="2129.7"/><use href="#pg" x="1666.1" y="2120.2"/><use href="#pg" x="1670.4" y="2138.7"/><use href="#pg" x="1665.5" y="2124.4"/><use href="#pg" x="1665.3" y="2137.7"/><use href="#pg" x="1667.8" y="2129.7"/><use href="#pg" x="1669.2" y="2125.9"/><use href="#pg" x="1681.7" y="2112.0"/><use href="#pg" x="1662.9" y="2117.7"/><use href="#pg" x="1670.0" y="2132.1"/><use href="#pg" x="1663.2" y="2126.4"/><use href="#pg" x="1665.1" y="2118.4"/><use href="#pg" x="1508.6" y="2129.9"/><use href="#pg" x="1516.7" y="2131.5"/><use href="#pg" x="1530.9" y="2127.4"/><use href="#pg" x="1542.6" y="2136.3"/><use href="#pg" x="1555.2" y="2114.4"/><use href="#pg" x="1561.1" y="2110.5"/><use href="#pg" x="1556.2" y="2121.2"/><use href="#pg" x="1570.8" y="2113.8"/><use href="#pg" x="1578.6" y="2117.3"/><use href="#pg" x="1559.1" y="2129.0"/><use href="#pg" x="1553.3" y="2131.9"/><use href="#pg" x="1564.0" y="2129.9"/><use href="#pg" x="1576.6" y="2129.9"/><use href="#pg" x="1690.0" y="2111.7"/><use href="#pg" x="1699.5" y="2114.0"/><use href="#pg" x="1715.6" y="2116.8"/><use href="#pg" x="1707.1" y="2119.7"/><use href="#pg" x="1731.7" y="2121.6"/><use href="#pg" x="1704.2" y="2126.3"/><use href="#pg" x="1681.4" y="2133.9"/><use href="#pg" x="1743.1" y="2135.8"/><use href="#pg" x="1673.9" y="2119.7"/><use href="#pg" x="1743.7" y="2135.3"/><use href="#pg" x="1731.4" y="2120.6"/>
<use href="#pb" x="1658.6" y="2087.6"/><use href="#pb" x="1643.4" y="2091.3"/><use href="#pb" x="1653.9" y="2077.2"/><use href="#pb" x="1636.1" y="2094.4"/><use href="#pb" x="1656.0" y="2105.7"/><use href="#pb" x="1640.6" y="2101.8"/><use href="#pb" x="1649.5" y="2106.1"/><use href="#pb" x="1635.2" y="2104.8"/><use href="#pb" x="1642.7" y="2084.2"/><use href="#pb" x="1645.0" y="2097.6"/><use href="#pb" x="1659.1" y="2083.7"/><use href="#pb" x="1654.7" y="2109.0"/><use href="#pb" x="1653.1" y="2090.0"/><use href="#pb" x="1626.0" y="2074.3"/><use href="#pb" x="1639.3" y="2091.1"/><use href="#pb" x="1627.4" y="2039.1"/><use href="#pb" x="1641.4" y="2095.5"/><use href="#pb" x="1628.5" y="2042.8"/><use href="#pb" x="1650.2" y="2086.3"/><use href="#pb" x="1627.4" y="2051.0"/><use href="#pb" x="1641.1" y="2091.5"/><use href="#pb" x="1658.0" y="2058.9"/><use href="#pb" x="1626.8" y="2054.5"/><use href="#pb" x="1640.4" y="2081.2"/><use href="#pb" x="1655.2" y="2076.0"/><use href="#pb" x="1661.5" y="2025.9"/><use href="#pb" x="1630.8" y="2076.8"/><use href="#pb" x="1660.5" y="2080.3"/><use href="#pb" x="1640.7" y="2100.8"/><use href="#pb" x="1642.4" y="2101.7"/><use href="#pb" x="1649.5" y="2103.9"/><use href="#pb" x="1631.6" y="2083.1"/><use href="#pb" x="1628.1" y="2044.2"/><use href="#pb" x="1657.4" y="2108.0"/><use href="#pb" x="1655.3" y="2051.2"/><use href="#pb" x="1630.4" y="2050.6"/><use href="#pb" x="1659.3" y="2096.1"/><use href="#pb" x="1640.9" y="2101.1"/><use href="#pb" x="1652.6" y="2089.8"/><use href="#pb" x="1653.4" y="2101.0"/><use href="#pb" x="1644.1" y="2082.1"/><use href="#pb" x="1650.8" y="2105.0"/><use href="#pb" x="1629.5" y="2081.1"/><use href="#pb" x="1638.8" y="2091.7"/><use href="#pb" x="1646.4" y="2076.1"/><use href="#pb" x="1634.1" y="2080.9"/><use href="#pb" x="1634.9" y="2083.3"/><use href="#pb" x="1651.8" y="2102.6"/><use href="#pb" x="1642.8" y="2091.5"/><use href="#pb" x="1625.7" y="2071.3"/><use href="#pb" x="1643.6" y="2093.2"/><use href="#pb" x="1654.1" y="2106.1"/><use href="#pb" x="1643.5" y="2108.3"/><use href="#pb" x="1639.4" y="2097.2"/><use href="#pb" x="1626.2" y="2074.8"/><use href="#pb" x="1649.1" y="2070.5"/><use href="#pb" x="1638.8" y="2089.9"/><use href="#pb" x="1651.2" y="2064.4"/><use href="#pb" x="1659.7" y="2072.2"/><use href="#pb" x="1631.5" y="2055.7"/><use href="#pb" x="1628.2" y="2055.1"/><use href="#pb" x="1644.5" y="2098.0"/><use href="#pb" x="1658.8" y="2068.6"/><use href="#pb" x="1655.4" y="2087.6"/><use href="#pb" x="1643.3" y="2094.9"/><use href="#pb" x="1632.9" y="2085.1"/><use href="#pb" x="1627.6" y="2085.5"/><use href="#pb" x="1630.6" y="2083.2"/><use href="#pb" x="1635.4" y="2073.0"/><use href="#pb" x="1652.2" y="2096.0"/><use href="#pb" x="1655.4" y="2081.6"/><use href="#pb" x="1648.1" y="2099.6"/><use href="#pb" x="1635.0" y="2067.6"/><use href="#pb" x="1641.3" y="2082.8"/><use href="#pb" x="1631.8" y="2101.5"/><use href="#pb" x="1627.3" y="2061.7"/><use href="#pb" x="1625.8" y="2048.1"/><use href="#pb" x="1643.3" y="2087.2"/><use href="#pb" x="1626.9" y="2099.8"/><use href="#pb" x="1651.5" y="2079.5"/><use href="#pb" x="1647.5" y="2101.0"/><use href="#pb" x="1659.7" y="2104.6"/><use href="#pb" x="1650.1" y="2105.1"/><use href="#pb" x="1627.9" y="2060.7"/><use href="#pb" x="1657.6" y="2103.6"/><use href="#pb" x="1648.7" y="2074.9"/><use href="#pb" x="1629.8" y="2089.0"/><use href="#pb" x="1636.2" y="2109.2"/><use href="#pb" x="1652.8" y="2082.2"/><use href="#pb" x="1658.0" y="2097.7"/><use href="#pb" x="1633.3" y="2095.5"/><use href="#pb" x="1659.6" y="2102.7"/><use href="#pb" x="1638.2" y="2106.2"/><use href="#pb" x="1640.8" y="2090.1"/><use href="#pb" x="1648.9" y="2102.0"/><use href="#pb" x="1630.5" y="2062.5"/><use href="#pb" x="1641.6" y="2092.9"/><use href="#pb" x="1658.4" y="2090.5"/><use href="#pb" x="1643.3" y="2095.7"/><use href="#pb" x="1657.9" y="2058.6"/><use href="#pb" x="1640.6" y="2084.6"/><use href="#pb" x="1655.6" y="2102.3"/><use href="#pb" x="1634.8" y="2092.1"/><use href="#pb" x="1657.5" y="2065.5"/><use href="#pb" x="1648.6" y="2070.6"/><use href="#pb" x="1629.7" y="2082.5"/><use href="#pb" x="1629.2" y="2045.5"/><use href="#pb" x="1646.5" y="2107.5"/><use href="#pb" x="1660.5" y="2058.3"/><use href="#pb" x="1651.6" y="2096.5"/><use href="#pb" x="1640.2" y="2098.5"/><use href="#pb" x="1628.9" y="2062.3"/><use href="#pb" x="1640.3" y="2081.1"/><use href="#pb" x="1627.7" y="2096.2"/><use href="#pb" x="1659.5" y="2029.0"/><use href="#pb" x="1643.7" y="2106.5"/><use href="#pb" x="1640.5" y="2102.1"/><use href="#pb" x="1626.4" y="2085.7"/><use href="#pb" x="1629.3" y="2042.3"/><use href="#pb" x="1659.6" y="2101.1"/><use href="#pb" x="1653.2" y="2103.1"/><use href="#pb" x="1644.8" y="2106.8"/><use href="#pb" x="1661.1" y="2072.0"/><use href="#pb" x="1635.3" y="2083.6"/><use href="#pb" x="1660.5" y="2092.3"/><use href="#pb" x="1644.0" y="2084.0"/><use href="#pb" x="1639.2" y="2086.9"/><use href="#pb" x="1658.6" y="2049.6"/><use href="#pb" x="1644.5" y="2105.2"/><use href="#pb" x="1627.4" y="2062.1"/><use href="#pb" x="1641.4" y="2082.6"/><use href="#pb" x="1646.2" y="2092.5"/><use href="#pb" x="1635.7" y="2075.5"/><use href="#pb" x="1634.7" y="2086.6"/><use href="#pb" x="1652.8" y="2077.5"/><use href="#pb" x="1630.3" y="2065.2"/><use href="#pb" x="1651.7" y="2104.2"/><use href="#pb" x="1661.4" y="2096.0"/><use href="#pb" x="1628.7" y="2064.5"/><use href="#pb" x="1656.4" y="2064.0"/><use href="#pb" x="1629.2" y="2090.7"/><use href="#pb" x="1638.3" y="2107.3"/><use href="#pb" x="1651.4" y="2103.3"/><use href="#pb" x="1653.0" y="2091.4"/><use href="#pb" x="1646.8" y="2086.6"/><use href="#pb" x="1643.1" y="2087.6"/><use href="#pb" x="1658.6" y="2084.9"/><use href="#pb" x="1657.1" y="2081.4"/><use href="#pb" x="1640.4" y="2078.1"/><use href="#pb" x="1630.1" y="2053.5"/><use href="#pb" x="1651.7" y="2109.2"/><use href="#pb" x="1659.5" y="2044.5"/><use href="#pb" x="1649.3" y="2091.4"/><use href="#pb" x="1655.7" y="2084.2"/><use href="#pb" x="1651.9" y="2084.1"/><use href="#pb" x="1651.1" y="2079.9"/><use href="#pb" x="1654.2" y="2100.3"/><use href="#pb" x="1643.3" y="2109.2"/><use href="#pb" x="1654.0" y="2066.1"/><use href="#pb" x="1655.6" y="2076.5"/><use href="#pb" x="1642.7" y="2106.2"/><use href="#pb" x="1632.8" y="2056.9"/><use href="#pb" x="1656.2" y="2055.1"/><use href="#pb" x="1648.9" y="2093.3"/><use href="#pb" x="1648.7" y="2099.9"/><use href="#pb" x="1635.3" y="2108.8"/><use href="#pb" x="1649.1" y="2084.8"/><use href="#pb" x="1652.3" y="2083.6"/><use href="#pb" x="1641.1" y="2100.1"/><use href="#pb" x="1652.0" y="2090.6"/><use href="#pb" x="1647.0" y="2082.1"/><use href="#pb" x="1641.5" y="2089.4"/><use href="#pb" x="1627.7" y="2048.9"/><use href="#pb" x="1630.8" y="2108.4"/><use href="#pb" x="1653.1" y="2103.6"/><use href="#pb" x="1642.0" y="2097.2"/><use href="#pb" x="1654.4" y="2082.0"/><use href="#pb" x="1644.3" y="2108.6"/><use href="#pb" x="1654.1" y="2066.0"/><use href="#pb" x="1647.9" y="2077.0"/><use href="#pb" x="1647.6" y="2082.3"/><use href="#pb" x="1656.1" y="2107.8"/><use href="#pb" x="1657.4" y="2085.5"/><use href="#pb" x="1627.8" y="2102.0"/><use href="#pb" x="1638.8" y="2106.0"/><use href="#pb" x="1633.4" y="2109.1"/><use href="#pb" x="1640.9" y="2100.1"/><use href="#pb" x="1651.7" y="2090.0"/><use href="#pb" x="1631.4" y="2054.4"/><use href="#pb" x="1657.7" y="2091.9"/><use href="#pb" x="1640.0" y="2094.3"/><use href="#pb" x="1640.2" y="2108.4"/><use href="#pb" x="1641.9" y="2088.0"/><use href="#pb" x="1650.5" y="2069.8"/><use href="#pb" x="1650.1" y="2075.1"/><use href="#pb" x="1656.9" y="2035.8"/><use href="#pb" x="1640.5" y="2088.3"/><use href="#pb" x="1649.2" y="2072.0"/><use href="#pb" x="1651.2" y="2088.0"/><use href="#pb" x="1632.3" y="2091.2"/><use href="#pb" x="1634.5" y="2075.9"/><use href="#pb" x="1653.2" y="2098.9"/><use href="#pb" x="1644.7" y="2084.6"/><use href="#pb" x="1638.6" y="2105.8"/><use href="#pb" x="1647.3" y="2095.9"/><use href="#pb" x="1630.6" y="2108.8"/><use href="#pb" x="1630.8" y="2102.4"/><use href="#pb" x="1625.7" y="2029.6"/><use href="#pb" x="1655.5" y="2049.3"/><use href="#pb" x="1628.3" y="2108.8"/><use href="#pb" x="1627.6" y="2049.3"/><use href="#pb" x="1642.7" y="2088.8"/><use href="#pb" x="1641.7" y="2083.4"/><use href="#pb" x="1647.4" y="2089.4"/><use href="#pb" x="1631.6" y="2084.9"/><use href="#pb" x="1641.3" y="2085.1"/><use href="#pb" x="1633.7" y="2094.2"/><use href="#pb" x="1654.9" y="2077.4"/><use href="#pb" x="1633.4" y="2074.6"/><use href="#pb" x="1646.9" y="2105.9"/><use href="#pb" x="1651.8" y="2089.0"/><use href="#pb" x="1637.0" y="2073.6"/><use href="#pb" x="1653.5" y="2092.3"/><use href="#pb" x="1649.9" y="2103.8"/><use href="#pb" x="1644.2" y="2107.0"/><use href="#pb" x="1648.6" y="2072.2"/><use href="#pb" x="1648.4" y="2107.6"/><use href="#pb" x="1644.0" y="2096.4"/><use href="#pb" x="1641.4" y="2104.9"/><use href="#pb" x="1635.5" y="2088.6"/><use href="#pb" x="1628.0" y="2089.7"/><use href="#pb" x="1635.9" y="2105.2"/><use href="#pb" x="1636.4" y="2068.8"/><use href="#pb" x="1636.0" y="2105.0"/><use href="#pb" x="1637.9" y="2072.4"/><use href="#pb" x="1628.6" y="2094.5"/><use href="#pb" x="1650.0" y="2088.6"/><use href="#pb" x="1629.0" y="2080.6"/><use href="#pb" x="1650.2" y="2088.8"/><use href="#pb" x="1656.9" y="2094.5"/><use href="#pb" x="1635.8" y="2097.3"/><use href="#pb" x="1655.1" y="2086.0"/><use href="#pb" x="1643.7" y="2086.7"/><use href="#pb" x="1646.0" y="2094.3"/><use href="#pb" x="1649.1" y="2083.4"/><use href="#pb" x="1640.1" y="2095.2"/><use href="#pb" x="1630.2" y="2049.7"/><use href="#pb" x="1636.5" y="2093.5"/><use href="#pb" x="1647.2" y="2087.7"/><use href="#pb" x="1631.8" y="2084.0"/><use href="#pb" x="1651.9" y="2107.2"/><use href="#pb" x="1629.4" y="2037.2"/><use href="#pb" x="1627.9" y="2066.2"/><use href="#pb" x="1635.7" y="2079.5"/><use href="#pb" x="1626.7" y="2096.6"/><use href="#pb" x="1637.4" y="2081.2"/><use href="#pb" x="1643.9" y="2086.2"/><use href="#pb" x="1655.8" y="2048.1"/><use href="#pb" x="1631.8" y="2082.5"/><use href="#pb" x="1637.0" y="2083.2"/><use href="#pb" x="1629.5" y="2076.7"/><use href="#pb" x="1653.7" y="2057.3"/><use href="#pb" x="1659.4" y="2043.3"/><use href="#pb" x="1661.4" y="2050.4"/><use href="#pb" x="1651.7" y="2086.7"/><use href="#pb" x="1635.5" y="2101.3"/><use href="#pb" x="1640.3" y="2079.2"/><use href="#pb" x="1640.0" y="2100.8"/><use href="#pb" x="1647.8" y="2092.5"/><use href="#pb" x="1647.6" y="2092.2"/><use href="#pb" x="1635.8" y="2107.7"/><use href="#pb" x="1655.0" y="2091.9"/><use href="#pb" x="1643.5" y="2094.2"/><use href="#pb" x="1643.6" y="2085.6"/><use href="#pb" x="1653.5" y="2092.5"/><use href="#pb" x="1637.7" y="2084.9"/><use href="#pb" x="1631.3" y="2055.1"/><use href="#pb" x="1627.1" y="2088.0"/><use href="#pb" x="1644.4" y="2108.0"/><use href="#pb" x="1633.5" y="2058.3"/><use href="#pb" x="1653.9" y="2097.0"/><use href="#pb" x="1641.9" y="2108.4"/><use href="#pb" x="1629.9" y="2045.7"/><use href="#pb" x="1636.7" y="2098.7"/><use href="#pb" x="1627.8" y="2040.3"/><use href="#pb" x="1652.2" y="2062.6"/><use href="#pb" x="1655.6" y="2089.4"/><use href="#pb" x="1631.6" y="2093.8"/><use href="#pb" x="1627.8" y="2058.8"/><use href="#pb" x="1643.2" y="2109.0"/><use href="#pb" x="1636.4" y="2072.5"/><use href="#pb" x="1656.1" y="2052.9"/><use href="#pb" x="1658.3" y="2079.5"/><use href="#pb" x="1646.1" y="2099.8"/><use href="#pb" x="1626.8" y="2075.2"/><use href="#pb" x="1629.8" y="2093.6"/><use href="#pb" x="1638.7" y="2074.1"/><use href="#pb" x="1643.0" y="2088.7"/><use href="#pb" x="1652.3" y="2079.0"/><use href="#pb" x="1637.1" y="2093.0"/><use href="#pb" x="1636.9" y="2082.6"/><use href="#pb" x="1656.3" y="2085.5"/><use href="#pb" x="1630.8" y="2074.6"/><use href="#pb" x="1633.7" y="2109.0"/><use href="#pb" x="1636.3" y="2099.3"/><use href="#pb" x="1632.9" y="2073.7"/><use href="#pb" x="1646.5" y="2099.5"/><use href="#pb" x="1651.8" y="2099.0"/><use href="#pb" x="1658.7" y="2067.4"/><use href="#pb" x="1650.9" y="2074.8"/><use href="#pb" x="1643.0" y="2087.8"/><use href="#pb" x="1648.1" y="2082.1"/><use href="#pb" x="1628.3" y="2077.2"/><use href="#pb" x="1645.1" y="2106.3"/><use href="#pb" x="1652.2" y="2091.6"/><use href="#pb" x="1642.6" y="2095.8"/><use href="#pb" x="1655.7" y="2072.9"/><use href="#pb" x="1647.3" y="2085.1"/><use href="#pb" x="1636.7" y="2097.4"/><use href="#pb" x="1642.4" y="2093.5"/><use href="#pb" x="1648.7" y="2103.8"/><use href="#pb" x="1641.5" y="2093.2"/><use href="#pb" x="1632.5" y="2103.7"/><use href="#pb" x="1659.0" y="2074.2"/><use href="#pb" x="1636.1" y="2107.9"/><use href="#pb" x="1635.2" y="2101.7"/><use href="#pb" x="1639.9" y="2078.8"/><use href="#pb" x="1628.3" y="2059.6"/><use href="#pb" x="1648.0" y="2108.5"/><use href="#pb" x="1633.7" y="2094.9"/><use href="#pb" x="1633.1" y="2011.5"/><use href="#pb" x="1660.6" y="2005.8"/><use href="#pb" x="1658.7" y="2010.6"/><use href="#pb" x="1627.4" y="2040.0"/><use href="#pb" x="1631.2" y="2048.5"/><use href="#pb" x="1649.2" y="2046.6"/><use href="#pb" x="1656.8" y="2034.3"/>
<use href="#pr" x="1687.6" y="2064.3"/><use href="#pr" x="1670.5" y="2080.4"/><use href="#pr" x="1675.3" y="2040.4"/><use href="#pr" x="1671.7" y="2024.6"/><use href="#pr" x="1673.7" y="2088.6"/><use href="#pr" x="1675.1" y="2064.7"/><use href="#pr" x="1668.4" y="2062.0"/><use href="#pr" x="1675.4" y="1980.4"/><use href="#pr" x="1676.7" y="2052.1"/><use href="#pr" x="1673.7" y="2070.5"/><use href="#pr" x="1678.5" y="2072.2"/><use href="#pr" x="1671.4" y="2038.5"/><use href="#pr" x="1670.2" y="1992.5"/><use href="#pr" x="1672.4" y="2027.4"/><use href="#pr" x="1697.1" y="2009.5"/><use href="#pr" x="1674.8" y="2047.0"/><use href="#pr" x="1684.6" y="2065.4"/><use href="#pr" x="1673.7" y="2027.8"/><use href="#pr" x="1680.9" y="2038.7"/><use href="#pr" x="1669.4" y="1996.3"/><use href="#pr" x="1678.6" y="2051.0"/><use href="#pr" x="1671.6" y="2048.6"/><use href="#pr" x="1685.0" y="1985.0"/><use href="#pr" x="1670.8" y="2065.9"/><use href="#pr" x="1672.3" y="2076.0"/><use href="#pr" x="1667.6" y="2082.5"/><use href="#pr" x="1665.7" y="2007.5"/><use href="#pr" x="1667.3" y="2043.0"/><use href="#pr" x="1675.3" y="2038.5"/><use href="#pr" x="1670.4" y="2087.6"/><use href="#pr" x="1668.3" y="2107.1"/><use href="#pr" x="1665.2" y="2090.1"/><use href="#pr" x="1694.0" y="2064.6"/><use href="#pr" x="1667.2" y="2065.3"/><use href="#pr" x="1664.8" y="2080.0"/><use href="#pr" x="1665.1" y="2050.7"/><use href="#pr" x="1669.7" y="2042.1"/><use href="#pr" x="1685.7" y="2017.4"/><use href="#pr" x="1664.0" y="2023.6"/><use href="#pr" x="1663.5" y="2097.8"/><use href="#pr" x="1677.0" y="2018.5"/><use href="#pr" x="1663.5" y="2095.3"/><use href="#pr" x="1689.2" y="2005.2"/><use href="#pr" x="1710.3" y="2026.1"/><use href="#pr" x="1664.4" y="2086.5"/><use href="#pr" x="1670.0" y="2072.6"/><use href="#pr" x="1670.4" y="2075.5"/><use href="#pr" x="1666.5" y="2087.4"/><use href="#pr" x="1666.4" y="2049.3"/><use href="#pr" x="1675.5" y="2044.2"/><use href="#pr" x="1668.4" y="2102.7"/><use href="#pr" x="1664.9" y="2089.6"/><use href="#pr" x="1675.5" y="2083.4"/><use href="#pr" x="1667.5" y="2080.6"/><use href="#pr" x="1684.0" y="2079.2"/><use href="#pr" x="1664.4" y="2024.0"/><use href="#pr" x="1667.2" y="2061.6"/><use href="#pr" x="1687.0" y="1947.6"/><use href="#pr" x="1664.0" y="2086.7"/><use href="#pr" x="1673.1" y="2092.1"/><use href="#pr" x="1664.2" y="2081.0"/><use href="#pr" x="1669.8" y="2003.1"/><use href="#pr" x="1670.7" y="2048.0"/><use href="#pr" x="1695.1" y="1977.3"/><use href="#pr" x="1686.8" y="2011.6"/><use href="#pr" x="1667.7" y="1999.1"/><use href="#pr" x="1692.7" y="2052.5"/><use href="#pr" x="1667.0" y="2057.3"/><use href="#pr" x="1675.7" y="2092.0"/><use href="#pr" x="1668.0" y="2098.4"/><use href="#pr" x="1671.3" y="2084.0"/><use href="#pr" x="1669.2" y="1985.9"/><use href="#pr" x="1678.4" y="2006.0"/><use href="#pr" x="1686.3" y="2089.0"/><use href="#pr" x="1677.9" y="2023.9"/><use href="#pr" x="1670.4" y="2050.1"/><use href="#pr" x="1665.8" y="2099.0"/><use href="#pr" x="1663.9" y="1993.5"/><use href="#pr" x="1668.1" y="2084.5"/><use href="#pr" x="1679.8" y="2073.5"/><use href="#pr" x="1686.6" y="2005.9"/><use href="#pr" x="1670.1" y="2084.3"/><use href="#pr" x="1668.2" y="2090.6"/><use href="#pr" x="1673.5" y="2064.9"/><use href="#pr" x="1675.7" y="2042.3"/><use href="#pr" x="1669.7" y="2028.9"/><use href="#pr" x="1673.9" y="2045.3"/><use href="#pr" x="1676.8" y="2080.6"/><use href="#pr" x="1665.3" y="2103.8"/><use href="#pr" x="1667.8" y="2097.8"/><use href="#pr" x="1663.7" y="2067.0"/><use href="#pr" x="1669.6" y="2046.2"/><use href="#pr" x="1676.4" y="2052.6"/><use href="#pr" x="1665.7" y="2071.4"/><use href="#pr" x="1667.1" y="2018.3"/><use href="#pr" x="1676.8" y="2062.8"/><use href="#pr" x="1667.1" y="2063.1"/><use href="#pr" x="1667.6" y="2092.6"/><use href="#pr" x="1704.5" y="1997.5"/><use href="#pr" x="1672.3" y="2060.5"/><use href="#pr" x="1664.3" y="2103.1"/><use href="#pr" x="1673.3" y="2011.5"/><use href="#pr" x="1709.9" y="2011.1"/><use href="#pr" x="1670.3" y="2072.6"/><use href="#pr" x="1672.7" y="2071.9"/><use href="#pr" x="1671.5" y="2041.0"/><use href="#pr" x="1673.0" y="2072.9"/><use href="#pr" x="1665.0" y="2057.9"/><use href="#pr" x="1665.0" y="2041.5"/><use href="#pr" x="1679.0" y="2083.3"/><use href="#pr" x="1678.8" y="2062.4"/><use href="#pr" x="1676.3" y="2097.1"/><use href="#pr" x="1673.0" y="2029.6"/><use href="#pr" x="1708.1" y="1979.0"/><use href="#pr" x="1669.6" y="2069.7"/><use href="#pr" x="1666.3" y="2073.0"/><use href="#pr" x="1689.2" y="2026.8"/><use href="#pr" x="1674.8" y="2055.0"/><use href="#pr" x="1666.8" y="2061.3"/><use href="#pr" x="1663.9" y="2101.7"/><use href="#pr" x="1675.9" y="2046.5"/><use href="#pr" x="1681.7" y="2070.8"/><use href="#pr" x="1678.4" y="2043.0"/><use href="#pr" x="1687.1" y="2061.5"/><use href="#pr" x="1684.4" y="2014.8"/><use href="#pr" x="1681.1" y="2019.6"/><use href="#pr" x="1667.7" y="2058.0"/><use href="#pr" x="1713.4" y="2021.8"/><use href="#pr" x="1664.9" y="2065.5"/><use href="#pr" x="1683.8" y="2089.0"/><use href="#pr" x="1695.6" y="1993.7"/><use href="#pr" x="1668.0" y="2092.6"/><use href="#pr" x="1707.0" y="1955.6"/><use href="#pr" x="1686.5" y="2043.7"/><use href="#pr" x="1677.5" y="1989.8"/><use href="#pr" x="1666.1" y="2064.4"/><use href="#pr" x="1673.1" y="2096.0"/><use href="#pr" x="1674.1" y="2107.4"/><use href="#pr" x="1668.5" y="2088.9"/><use href="#pr" x="1664.3" y="2076.3"/><use href="#pr" x="1667.6" y="2068.5"/><use href="#pr" x="1680.2" y="2037.6"/><use href="#pr" x="1672.4" y="2040.9"/><use href="#pr" x="1664.8" y="2029.7"/><use href="#pr" x="1663.6" y="2024.5"/><use href="#pr" x="1684.3" y="2034.9"/><use href="#pr" x="1664.8" y="2051.4"/><use href="#pr" x="1670.3" y="2088.2"/><use href="#pr" x="1693.0" y="2063.0"/><use href="#pr" x="1709.5" y="1934.9"/><use href="#pr" x="1665.8" y="2056.6"/><use href="#pr" x="1670.4" y="2058.9"/><use href="#pr" x="1673.2" y="2092.8"/><use href="#pr" x="1671.9" y="2060.3"/><use href="#pr" x="1665.1" y="2014.3"/><use href="#pr" x="1668.0" y="2099.8"/><use href="#pr" x="1705.9" y="1961.5"/><use href="#pr" x="1703.7" y="2037.1"/><use href="#pr" x="1669.5" y="2096.8"/><use href="#pr" x="1667.8" y="2091.4"/><use href="#pr" x="1671.4" y="2088.9"/><use href="#pr" x="1665.1" y="2102.0"/><use href="#pr" x="1664.3" y="2080.6"/><use href="#pr" x="1679.3" y="2047.4"/><use href="#pr" x="1694.6" y="1983.1"/><use href="#pr" x="1691.8" y="1992.5"/><use href="#pr" x="1670.2" y="2073.5"/><use href="#pr" x="1678.7" y="2042.4"/><use href="#pr" x="1676.7" y="2086.6"/><use href="#pr" x="1666.8" y="2084.3"/><use href="#pr" x="1672.8" y="2092.9"/><use href="#pr" x="1687.4" y="1933.2"/><use href="#pr" x="1675.9" y="2028.6"/><use href="#pr" x="1680.2" y="2055.4"/><use href="#pr" x="1693.6" y="2012.6"/><use href="#pr" x="1667.4" y="2061.1"/><use href="#pr" x="1694.3" y="2000.3"/><use href="#pr" x="1664.0" y="2105.8"/><use href="#pr" x="1682.3" y="2060.7"/><use href="#pr" x="1664.6" y="2097.9"/><use href="#pr" x="1665.1" y="2056.6"/><use href="#pr" x="1665.4" y="2071.9"/><use href="#pr" x="1682.7" y="2007.4"/><use href="#pr" x="1677.4" y="2046.2"/><use href="#pr" x="1669.4" y="2082.7"/><use href="#pr" x="1689.6" y="2010.6"/><use href="#pr" x="1674.2" y="2097.7"/><use href="#pr" x="1672.7" y="2042.7"/><use href="#pr" x="1666.6" y="2086.2"/><use href="#pr" x="1669.3" y="1998.6"/><use href="#pr" x="1667.0" y="2086.8"/><use href="#pr" x="1665.4" y="2090.1"/><use href="#pr" x="1674.9" y="1995.2"/><use href="#pr" x="1673.2" y="2070.8"/><use href="#pr" x="1672.2" y="2084.6"/><use href="#pr" x="1670.8" y="2088.9"/><use href="#pr" x="1682.9" y="2047.1"/><use href="#pr" x="1666.4" y="2065.8"/><use href="#pr" x="1667.3" y="2079.6"/><use href="#pr" x="1674.1" y="2015.4"/><use href="#pr" x="1671.8" y="2057.8"/><use href="#pr" x="1666.5" y="2088.4"/><use href="#pr" x="1665.2" y="2064.6"/><use href="#pr" x="1670.7" y="2080.3"/><use href="#pr" x="1665.6" y="1990.2"/><use href="#pr" x="1665.1" y="2056.4"/><use href="#pr" x="1665.8" y="2044.4"/><use href="#pr" x="1666.0" y="2059.4"/><use href="#pr" x="1728.8" y="1859.2"/><use href="#pr" x="1675.1" y="2084.9"/><use href="#pr" x="1676.6" y="2098.7"/><use href="#pr" x="1713.9" y="1891.2"/><use href="#pr" x="1664.2" y="2061.2"/><use href="#pr" x="1679.8" y="2035.4"/><use href="#pr" x="1674.2" y="1991.2"/><use href="#pr" x="1664.3" y="2100.4"/><use href="#pr" x="1676.7" y="1998.9"/><use href="#pr" x="1664.7" y="2064.1"/><use href="#pr" x="1670.1" y="2080.5"/><use href="#pr" x="1679.8" y="2034.6"/><use href="#pr" x="1670.7" y="2077.9"/><use href="#pr" x="1667.7" y="2070.4"/><use href="#pr" x="1680.8" y="2060.8"/><use href="#pr" x="1681.8" y="2033.0"/><use href="#pr" x="1693.7" y="2036.7"/><use href="#pr" x="1668.6" y="2075.2"/><use href="#pr" x="1684.5" y="2002.7"/><use href="#pr" x="1666.5" y="2044.8"/><use href="#pr" x="1665.6" y="2043.5"/><use href="#pr" x="1666.2" y="2020.0"/><use href="#pr" x="1675.5" y="2046.9"/><use href="#pr" x="1672.0" y="2079.9"/><use href="#pr" x="1699.7" y="2028.7"/><use href="#pr" x="1675.8" y="2056.5"/><use href="#pr" x="1675.4" y="2057.1"/><use href="#pr" x="1668.7" y="2038.0"/><use href="#pr" x="1665.5" y="2093.3"/><use href="#pr" x="1685.8" y="2081.7"/><use href="#pr" x="1686.4" y="2016.8"/><use href="#pr" x="1667.4" y="2081.4"/><use href="#pr" x="1666.0" y="2089.1"/><use href="#pr" x="1665.1" y="2072.5"/><use href="#pr" x="1690.0" y="1921.1"/><use href="#pr" x="1666.9" y="2051.3"/><use href="#pr" x="1685.4" y="2032.6"/><use href="#pr" x="1678.4" y="2022.2"/><use href="#pr" x="1668.0" y="2096.9"/><use href="#pr" x="1697.6" y="2072.3"/><use href="#pr" x="1667.4" y="2074.6"/><use href="#pr" x="1665.5" y="2105.0"/><use href="#pr" x="1667.9" y="2053.0"/><use href="#pr" x="1674.6" y="2067.4"/><use href="#pr" x="1669.1" y="2087.9"/><use href="#pr" x="1677.6" y="2094.8"/><use href="#pr" x="1679.9" y="2037.2"/><use href="#pr" x="1678.4" y="2057.9"/><use href="#pr" x="1665.9" y="2097.0"/><use href="#pr" x="1681.6" y="2069.9"/><use href="#pr" x="1677.7" y="2072.8"/><use href="#pr" x="1715.5" y="1922.6"/><use href="#pr" x="1686.9" y="2086.5"/><use href="#pr" x="1669.6" y="2081.1"/><use href="#pr" x="1672.6" y="2023.3"/><use href="#pr" x="1670.9" y="1988.4"/><use href="#pr" x="1666.2" y="2030.2"/><use href="#pr" x="1679.8" y="2039.4"/><use href="#pr" x="1678.4" y="2068.6"/><use href="#pr" x="1667.7" y="2003.7"/><use href="#pr" x="1663.8" y="2069.3"/><use href="#pr" x="1674.0" y="2066.0"/><use href="#pr" x="1674.2" y="2054.1"/><use href="#pr" x="1688.5" y="1954.8"/><use href="#pr" x="1677.3" y="2051.4"/><use href="#pr" x="1670.7" y="2092.1"/><use href="#pr" x="1695.6" y="2002.6"/><use href="#pr" x="1682.7" y="2088.0"/><use href="#pr" x="1665.6" y="2064.7"/><use href="#pr" x="1668.2" y="2072.0"/><use href="#pr" x="1675.0" y="2018.7"/><use href="#pr" x="1672.4" y="2077.1"/><use href="#pr" x="1666.8" y="2088.7"/><use href="#pr" x="1664.3" y="2044.8"/><use href="#pr" x="1676.0" y="2003.4"/><use href="#pr" x="1669.4" y="2069.1"/><use href="#pr" x="1696.5" y="2003.2"/><use href="#pr" x="1674.5" y="2065.1"/><use href="#pr" x="1666.9" y="2050.6"/><use href="#pr" x="1672.9" y="2075.6"/><use href="#pr" x="1697.0" y="2019.1"/><use href="#pr" x="1677.2" y="2076.8"/><use href="#pr" x="1668.0" y="2080.4"/><use href="#pr" x="1664.3" y="2087.1"/><use href="#pr" x="1665.5" y="2093.1"/><use href="#pr" x="1663.7" y="2006.9"/><use href="#pr" x="1669.3" y="2095.2"/><use href="#pr" x="1671.1" y="2091.9"/><use href="#pr" x="1663.6" y="2095.7"/><use href="#pr" x="1683.4" y="2071.9"/><use href="#pr" x="1695.1" y="2081.2"/><use href="#pr" x="1666.5" y="2029.8"/><use href="#pr" x="1675.2" y="1977.7"/><use href="#pr" x="1665.8" y="2081.7"/><use href="#pr" x="1670.5" y="2048.1"/><use href="#pr" x="1676.0" y="2045.0"/><use href="#pr" x="1671.1" y="2082.4"/><use href="#pr" x="1666.9" y="2095.4"/><use href="#pr" x="1670.6" y="2098.5"/><use href="#pr" x="1698.3" y="2035.1"/><use href="#pr" x="1670.0" y="2052.0"/><use href="#pr" x="1669.0" y="2070.9"/><use href="#pr" x="1675.8" y="2056.4"/><use href="#pr" x="1668.1" y="2067.6"/><use href="#pr" x="1670.6" y="2083.3"/><use href="#pr" x="1664.9" y="2081.9"/><use href="#pr" x="1681.4" y="1986.0"/><use href="#pr" x="1700.0" y="2080.7"/><use href="#pr" x="1665.1" y="2048.9"/><use href="#pr" x="1667.6" y="2089.9"/><use href="#pr" x="1666.0" y="2093.6"/><use href="#pr" x="1676.5" y="2079.9"/><use href="#pr" x="1671.6" y="2063.4"/><use href="#pr" x="1680.6" y="1989.7"/><use href="#pr" x="1667.8" y="2100.2"/><use href="#pr" x="1663.8" y="2070.6"/><use href="#pr" x="1678.2" y="2002.0"/><use href="#pr" x="1676.2" y="2060.0"/><use href="#pr" x="1674.4" y="2064.8"/><use href="#pr" x="1670.3" y="2075.7"/><use href="#pr" x="1682.6" y="2032.8"/><use href="#pr" x="1683.3" y="2038.9"/><use href="#pr" x="1670.2" y="2079.3"/><use href="#pr" x="1690.7" y="2104.6"/><use href="#pr" x="1670.3" y="2095.1"/><use href="#pr" x="1668.0" y="2086.0"/><use href="#pr" x="1672.8" y="2006.7"/><use href="#pr" x="1668.6" y="2058.5"/><use href="#pr" x="1669.5" y="2093.0"/><use href="#pr" x="1672.5" y="2012.5"/><use href="#pr" x="1682.7" y="2052.2"/><use href="#pr" x="1682.7" y="2032.5"/><use href="#pr" x="1665.7" y="2057.3"/><use href="#pr" x="1666.8" y="2090.0"/><use href="#pr" x="1674.6" y="1980.9"/><use href="#pr" x="1670.6" y="2024.4"/><use href="#pr" x="1673.0" y="2091.8"/><use href="#pr" x="1664.8" y="2104.7"/><use href="#pr" x="1669.2" y="2027.0"/><use href="#pr" x="1663.8" y="2095.2"/><use href="#pr" x="1666.8" y="2105.1"/><use href="#pr" x="1667.9" y="2077.8"/><use href="#pr" x="1708.4" y="2082.7"/><use href="#pr" x="1688.5" y="2046.6"/><use href="#pr" x="1667.4" y="2010.8"/><use href="#pr" x="1672.5" y="2093.1"/><use href="#pr" x="1676.5" y="2064.3"/><use href="#pr" x="1668.9" y="2098.8"/><use href="#pr" x="1682.1" y="2058.7"/><use href="#pr" x="1665.4" y="2059.3"/><use href="#pr" x="1668.7" y="2047.7"/><use href="#pr" x="1664.3" y="2068.2"/><use href="#pr" x="1664.1" y="2091.4"/><use href="#pr" x="1671.1" y="2085.9"/><use href="#pr" x="1667.1" y="2063.6"/><use href="#pr" x="1675.1" y="1961.5"/><use href="#pr" x="1664.2" y="2092.5"/><use href="#pr" x="1664.1" y="2103.9"/><use href="#pr" x="1687.7" y="2096.5"/><use href="#pr" x="1705.7" y="2055.3"/><use href="#pr" x="1666.2" y="2100.1"/><use href="#pr" x="1670.1" y="2051.2"/><use href="#pr" x="1670.7" y="2082.8"/><use href="#pr" x="1688.6" y="1981.4"/><use href="#pr" x="1665.1" y="2061.3"/><use href="#pr" x="1679.5" y="2043.1"/><use href="#pr" x="1667.1" y="2051.9"/><use href="#pr" x="1666.4" y="2079.2"/><use href="#pr" x="1665.3" y="2075.9"/><use href="#pr" x="1676.4" y="2064.3"/><use href="#pr" x="1665.8" y="2079.4"/><use href="#pr" x="1680.0" y="2083.5"/><use href="#pr" x="1664.3" y="2094.3"/><use href="#pr" x="1666.3" y="2095.2"/><use href="#pr" x="1667.5" y="2094.2"/><use href="#pr" x="1683.2" y="1991.8"/><use href="#pr" x="1671.9" y="2078.2"/><use href="#pr" x="1664.1" y="2064.1"/><use href="#pr" x="1690.0" y="1979.1"/><use href="#pr" x="1681.0" y="2060.0"/><use href="#pr" x="1665.4" y="2002.0"/><use href="#pr" x="1665.6" y="2084.9"/><use href="#pr" x="1683.5" y="2026.1"/><use href="#pr" x="1686.0" y="2071.8"/><use href="#pr" x="1672.5" y="2077.3"/><use href="#pr" x="1670.4" y="2097.6"/><use href="#pr" x="1665.4" y="2070.5"/><use href="#pr" x="1680.6" y="2002.4"/><use href="#pr" x="1680.8" y="2070.6"/><use href="#pr" x="1688.6" y="2040.2"/><use href="#pr" x="1672.5" y="2088.4"/><use href="#pr" x="1680.6" y="2000.1"/><use href="#pr" x="1688.0" y="2025.6"/><use href="#pr" x="1675.7" y="2026.4"/><use href="#pr" x="1673.0" y="2035.7"/><use href="#pr" x="1665.6" y="2049.6"/><use href="#pr" x="1666.2" y="2074.3"/><use href="#pr" x="1667.5" y="2035.4"/><use href="#pr" x="1679.7" y="2080.5"/><use href="#pr" x="1698.6" y="2090.1"/><use href="#pr" x="1663.8" y="2093.0"/><use href="#pr" x="1665.3" y="2001.0"/><use href="#pr" x="1676.9" y="2099.6"/><use href="#pr" x="1663.6" y="2104.1"/><use href="#pr" x="1670.0" y="2097.3"/><use href="#pr" x="1674.5" y="2087.6"/><use href="#pr" x="1669.6" y="2054.7"/><use href="#pr" x="1672.3" y="2083.1"/><use href="#pr" x="1663.9" y="2011.3"/><use href="#pr" x="1672.7" y="2071.6"/><use href="#pr" x="1678.3" y="2037.9"/><use href="#pr" x="1669.8" y="2073.3"/><use href="#pr" x="1665.6" y="2091.6"/><use href="#pr" x="1665.9" y="2031.5"/><use href="#pr" x="1677.8" y="2058.5"/><use href="#pr" x="1670.3" y="2055.3"/><use href="#pr" x="1673.4" y="2035.8"/><use href="#pr" x="1664.5" y="2088.1"/><use href="#pr" x="1678.9" y="2088.3"/><use href="#pr" x="1690.0" y="2088.0"/><use href="#pr" x="1685.2" y="2008.9"/><use href="#pr" x="1676.3" y="2017.3"/><use href="#pr" x="1665.7" y="2052.3"/><use href="#pr" x="1680.2" y="2057.2"/><use href="#pr" x="1705.2" y="2051.2"/><use href="#pr" x="1687.5" y="1986.5"/><use href="#pr" x="1665.0" y="2072.8"/><use href="#pr" x="1667.8" y="2069.5"/><use href="#pr" x="1674.6" y="2005.8"/><use href="#pr" x="1667.5" y="1988.4"/><use href="#pr" x="1668.1" y="2039.6"/><use href="#pr" x="1671.1" y="2026.3"/><use href="#pr" x="1667.5" y="2059.0"/><use href="#pr" x="1663.7" y="2103.6"/><use href="#pr" x="1672.4" y="2062.5"/><use href="#pr" x="1669.8" y="2095.5"/><use href="#pr" x="1678.8" y="2042.6"/><use href="#pr" x="1663.6" y="2077.4"/><use href="#pr" x="1680.2" y="1962.2"/><use href="#pr" x="1668.6" y="2044.9"/><use href="#pr" x="1672.7" y="2032.4"/><use href="#pr" x="1671.8" y="2074.2"/><use href="#pr" x="1664.7" y="2102.7"/><use href="#pr" x="1664.0" y="2030.7"/><use href="#pr" x="1670.2" y="2085.9"/><use href="#pr" x="1673.7" y="2080.4"/><use href="#pr" x="1702.2" y="2071.9"/><use href="#pr" x="1665.8" y="2104.9"/><use href="#pr" x="1697.7" y="1980.1"/><use href="#pr" x="1682.7" y="2062.0"/><use href="#pr" x="1686.4" y="2050.3"/><use href="#pr" x="1675.4" y="2053.6"/><use href="#pr" x="1665.2" y="2069.8"/><use href="#pr" x="1673.4" y="2057.4"/><use href="#pr" x="1677.3" y="2043.4"/><use href="#pr" x="1667.8" y="2025.9"/><use href="#pr" x="1664.6" y="2081.1"/><use href="#pr" x="1672.5" y="2069.6"/><use href="#pr" x="1671.7" y="2068.1"/><use href="#pr" x="1663.9" y="2012.4"/><use href="#pr" x="1666.7" y="2086.1"/><use href="#pr" x="1680.4" y="1935.5"/><use href="#pr" x="1704.6" y="1953.3"/><use href="#pr" x="1683.4" y="1977.6"/><use href="#pr" x="1671.1" y="2081.2"/><use href="#pr" x="1664.5" y="2074.3"/><use href="#pr" x="1665.5" y="2090.7"/><use href="#pr" x="1663.6" y="2089.9"/><use href="#pr" x="1677.1" y="2016.4"/><use href="#pr" x="1685.4" y="2048.6"/><use href="#pr" x="1676.1" y="2044.1"/><use href="#pr" x="1667.8" y="2068.4"/><use href="#pr" x="1690.0" y="2019.8"/><use href="#pr" x="1664.2" y="2020.6"/><use href="#pr" x="1699.4" y="1982.9"/><use href="#pr" x="1707.3" y="2093.0"/><use href="#pr" x="1675.2" y="2013.3"/><use href="#pr" x="1675.1" y="2078.9"/><use href="#pr" x="1671.1" y="2077.6"/><use href="#pr" x="1688.2" y="2043.4"/><use href="#pr" x="1673.9" y="2038.8"/><use href="#pr" x="1706.2" y="2017.7"/><use href="#pr" x="1669.3" y="2086.7"/><use href="#pr" x="1664.4" y="2040.8"/><use href="#pr" x="1674.5" y="1964.8"/><use href="#pr" x="1677.6" y="2043.5"/><use href="#pr" x="1671.3" y="2102.5"/><use href="#pr" x="1676.0" y="2068.2"/><use href="#pr" x="1683.5" y="2036.9"/><use href="#pr" x="1681.0" y="2027.0"/><use href="#pr" x="1673.5" y="2063.8"/><use href="#pr" x="1664.4" y="2100.5"/><use href="#pr" x="1679.9" y="2028.4"/><use href="#pr" x="1673.5" y="2067.6"/><use href="#pr" x="1666.8" y="2081.6"/><use href="#pr" x="1686.7" y="2094.2"/><use href="#pr" x="1684.9" y="2036.4"/><use href="#pr" x="1673.4" y="2041.2"/><use href="#pr" x="1665.3" y="2033.3"/><use href="#pr" x="1664.3" y="2094.4"/><use href="#pr" x="1680.9" y="2014.3"/><use href="#pr" x="1665.7" y="2086.5"/><use href="#pr" x="1673.1" y="2046.5"/><use href="#pr" x="1664.6" y="2048.6"/><use href="#pr" x="1664.3" y="2046.1"/><use href="#pr" x="1675.8" y="2059.0"/><use href="#pr" x="1664.5" y="2095.7"/><use href="#pr" x="1671.7" y="2040.8"/><use href="#pr" x="1673.9" y="2094.0"/><use href="#pr" x="1665.7" y="2103.5"/><use href="#pr" x="1663.9" y="2022.5"/><use href="#pr" x="1669.4" y="2076.9"/><use href="#pr" x="1694.5" y="1990.3"/><use href="#pr" x="1679.7" y="2028.4"/><use href="#pr" x="1709.8" y="1970.3"/><use href="#pr" x="1672.5" y="2055.4"/><use href="#pr" x="1706.0" y="1972.5"/><use href="#pr" x="1671.6" y="2058.4"/><use href="#pr" x="1687.2" y="2046.1"/><use href="#pr" x="1667.2" y="2054.0"/><use href="#pr" x="1731.2" y="1888.0"/><use href="#pr" x="1672.9" y="2083.9"/><use href="#pr" x="1664.7" y="2106.0"/><use href="#pr" x="1664.9" y="2099.0"/><use href="#pr" x="1665.0" y="2099.3"/><use href="#pr" x="1703.2" y="1997.8"/><use href="#pr" x="1671.8" y="2003.1"/><use href="#pr" x="1685.5" y="1987.6"/><use href="#pr" x="1667.8" y="2068.7"/><use href="#pr" x="1691.3" y="1994.7"/><use href="#pr" x="1666.4" y="2085.7"/><use href="#pr" x="1672.6" y="2095.9"/><use href="#pr" x="1685.9" y="2058.4"/><use href="#pr" x="1683.0" y="2049.9"/><use href="#pr" x="1665.4" y="2001.5"/><use href="#pr" x="1675.3" y="2059.4"/><use href="#pr" x="1668.6" y="2095.1"/><use href="#pr" x="1678.9" y="2005.0"/><use href="#pr" x="1675.0" y="1978.9"/><use href="#pr" x="1703.5" y="1969.4"/><use href="#pr" x="1678.4" y="2044.8"/><use href="#pr" x="1665.4" y="2108.4"/><use href="#pr" x="1687.2" y="2037.3"/><use href="#pr" x="1669.7" y="2012.8"/><use href="#pr" x="1668.5" y="2067.0"/><use href="#pr" x="1694.2" y="1999.2"/><use href="#pr" x="1671.7" y="2073.3"/><use href="#pr" x="1665.9" y="2064.3"/><use href="#pr" x="1665.0" y="2045.2"/><use href="#pr" x="1687.3" y="2010.5"/><use href="#pr" x="1665.3" y="2036.1"/><use href="#pr" x="1663.8" y="2094.4"/><use href="#pr" x="1696.9" y="2033.9"/><use href="#pr" x="1667.6" y="2065.4"/><use href="#pr" x="1708.0" y="1991.0"/><use href="#pr" x="1690.1" y="2014.3"/><use href="#pr" x="1709.5" y="1979.6"/><use href="#pr" x="1673.9" y="2095.7"/><use href="#pr" x="1706.7" y="2012.7"/><use href="#pr" x="1728.8" y="1951.4"/><use href="#pr" x="1690.0" y="2033.2"/><use href="#pr" x="1675.0" y="2063.6"/><use href="#pr" x="1678.9" y="2045.9"/><use href="#pr" x="1673.4" y="2049.6"/><use href="#pr" x="1725.6" y="1968.5"/><use href="#pr" x="1702.6" y="2013.2"/><use href="#pr" x="1684.6" y="2006.9"/><use href="#pr" x="1693.9" y="2052.3"/><use href="#pr" x="1667.8" y="2072.0"/><use href="#pr" x="1713.1" y="1969.7"/><use href="#pr" x="1690.3" y="2014.2"/><use href="#pr" x="1685.5" y="1968.8"/><use href="#pr" x="1715.0" y="1992.2"/><use href="#pr" x="1701.0" y="1955.5"/><use href="#pr" x="1681.3" y="2060.8"/><use href="#pr" x="1675.4" y="2053.0"/><use href="#pr" x="1691.5" y="2011.4"/><use href="#pr" x="1705.5" y="1985.1"/><use href="#pr" x="1688.1" y="2018.9"/><use href="#pr" x="1695.9" y="1966.6"/><use href="#pr" x="1719.3" y="1997.3"/><use href="#pr" x="1683.1" y="2032.0"/><use href="#pr" x="1704.1" y="2013.1"/><use href="#pr" x="1700.8" y="1995.7"/><use href="#pr" x="1683.3" y="2005.6"/><use href="#pr" x="1717.7" y="1953.8"/><use href="#pr" x="1678.5" y="2002.7"/><use href="#pr" x="1707.3" y="1961.1"/><use href="#pr" x="1682.6" y="2070.3"/><use href="#pr" x="1709.0" y="1980.6"/><use href="#pr" x="1684.9" y="1984.0"/><use href="#pr" x="1668.9" y="1981.9"/><use href="#pr" x="1675.1" y="2073.3"/><use href="#pr" x="1702.0" y="1972.6"/><use href="#pr" x="1698.3" y="1974.7"/><use href="#pr" x="1712.0" y="1926.4"/><use href="#pr" x="1678.1" y="2047.8"/><use href="#pr" x="1699.3" y="1990.7"/><use href="#pr" x="1707.4" y="1987.8"/><use href="#pr" x="1722.1" y="1969.2"/><use href="#pr" x="1724.4" y="1956.8"/><use href="#pr" x="1677.6" y="2053.7"/><use href="#pr" x="1712.7" y="1933.0"/><use href="#pr" x="1712.5" y="1954.5"/><use href="#pr" x="1667.7" y="2067.0"/><use href="#pr" x="1694.6" y="1997.3"/><use href="#pr" x="1721.1" y="1941.3"/><use href="#pr" x="1701.2" y="1990.4"/><use href="#pr" x="1726.4" y="1914.5"/><use href="#pr" x="1684.9" y="2073.0"/><use href="#pr" x="1726.4" y="1910.3"/><use href="#pr" x="1674.5" y="2086.8"/><use href="#pr" x="1673.0" y="2080.8"/><use href="#pr" x="1711.3" y="1950.8"/><use href="#pr" x="1728.7" y="1948.0"/><use href="#pr" x="1730.6" y="1953.8"/><use href="#pr" x="1726.5" y="1967.9"/><use href="#pr" x="1699.7" y="1990.1"/><use href="#pr" x="1673.2" y="2095.7"/><use href="#pr" x="1697.0" y="2045.4"/><use href="#pr" x="1704.0" y="1957.3"/><use href="#pr" x="1710.7" y="1997.8"/><use href="#pr" x="1723.2" y="1948.3"/><use href="#pr" x="1728.0" y="1965.9"/><use href="#pr" x="1727.3" y="1821.3"/><use href="#pr" x="1677.1" y="1994.6"/><use href="#pr" x="1723.0" y="1977.8"/><use href="#pr" x="1688.7" y="2069.2"/><use href="#pr" x="1684.8" y="2031.8"/><use href="#pr" x="1673.7" y="2052.1"/><use href="#pr" x="1677.3" y="2041.2"/><use href="#pr" x="1721.7" y="1982.0"/><use href="#pr" x="1729.9" y="1945.9"/><use href="#pr" x="1724.1" y="1936.2"/><use href="#pr" x="1674.4" y="2068.9"/><use href="#pr" x="1683.6" y="2049.1"/><use href="#pr" x="1722.1" y="1958.7"/><use href="#pr" x="1714.5" y="2014.4"/><use href="#pr" x="1675.4" y="2078.7"/><use href="#pr" x="1720.9" y="1978.8"/><use href="#pr" x="1718.8" y="1962.8"/><use href="#pr" x="1695.8" y="1967.8"/><use href="#pr" x="1668.7" y="2065.5"/><use href="#pr" x="1702.6" y="1989.1"/><use href="#pr" x="1693.4" y="1988.0"/><use href="#pr" x="1711.3" y="1991.8"/><use href="#pr" x="1681.1" y="2068.4"/><use href="#pr" x="1716.5" y="1925.7"/><use href="#pr" x="1713.2" y="1954.0"/><use href="#pr" x="1706.8" y="1972.9"/><use href="#pr" x="1707.7" y="1980.7"/><use href="#pr" x="1717.0" y="2017.2"/><use href="#pr" x="1711.5" y="2037.1"/><use href="#pr" x="1693.8" y="1995.7"/><use href="#pr" x="1673.6" y="2071.8"/><use href="#pr" x="1691.5" y="1984.7"/><use href="#pr" x="1700.7" y="1993.1"/><use href="#pr" x="1617.7" y="2071.2"/><use href="#pr" x="1608.6" y="2076.3"/><use href="#pr" x="1597.2" y="2088.2"/><use href="#pr" x="1601.1" y="2107.0"/><use href="#pr" x="1605.0" y="2082.6"/><use href="#pr" x="1617.5" y="2088.4"/><use href="#pr" x="1606.9" y="2099.4"/><use href="#pr" x="1620.6" y="2092.6"/><use href="#pr" x="1610.5" y="2069.3"/><use href="#pr" x="1589.9" y="2098.7"/><use href="#pr" x="1593.4" y="2089.7"/><use href="#pr" x="1607.2" y="2082.5"/><use href="#pr" x="1622.0" y="2057.0"/><use href="#pr" x="1595.5" y="2102.5"/><use href="#pr" x="1603.8" y="2106.8"/><use href="#pr" x="1591.8" y="2103.3"/><use href="#pr" x="1609.0" y="2100.8"/><use href="#pr" x="1594.3" y="2088.8"/><use href="#pr" x="1610.6" y="2084.2"/><use href="#pr" x="1614.6" y="2068.2"/><use href="#pr" x="1603.4" y="2076.5"/><use href="#pr" x="1622.2" y="2075.0"/><use href="#pr" x="1590.5" y="2109.1"/><use href="#pr" x="1603.2" y="2097.0"/><use href="#pr" x="1619.7" y="2092.0"/><use href="#pr" x="1590.8" y="2107.0"/><use href="#pr" x="1608.5" y="2067.0"/><use href="#pr" x="1619.9" y="2108.5"/><use href="#pr" x="1604.0" y="2085.9"/><use href="#pr" x="1621.8" y="2046.9"/><use href="#pr" x="1598.1" y="2093.5"/><use href="#pr" x="1616.0" y="2049.8"/><use href="#pr" x="1616.7" y="2042.5"/><use href="#pr" x="1605.8" y="2069.2"/><use href="#pr" x="1606.0" y="2084.4"/><use href="#pr" x="1591.6" y="2103.2"/><use href="#pr" x="1613.8" y="2050.7"/><use href="#pr" x="1589.6" y="2108.2"/><use href="#pr" x="1594.7" y="2093.0"/><use href="#pr" x="1617.0" y="2097.5"/><use href="#pr" x="1621.3" y="2047.8"/><use href="#pr" x="1620.7" y="2048.8"/><use href="#pr" x="1597.0" y="2082.5"/><use href="#pr" x="1619.8" y="2052.4"/><use href="#pr" x="1620.6" y="2103.9"/><use href="#pr" x="1595.2" y="2107.0"/><use href="#pr" x="1599.2" y="2078.2"/><use href="#pr" x="1608.2" y="2091.6"/><use href="#pr" x="1593.3" y="2097.8"/><use href="#pr" x="1590.0" y="2100.9"/><use href="#pr" x="1609.4" y="2108.0"/><use href="#pr" x="1593.4" y="2095.0"/><use href="#pr" x="1619.1" y="2063.3"/><use href="#pr" x="1615.2" y="2085.5"/><use href="#pr" x="1618.5" y="2105.7"/><use href="#pr" x="1608.7" y="2075.4"/><use href="#pr" x="1600.1" y="2081.7"/><use href="#pr" x="1592.7" y="2096.3"/><use href="#pr" x="1615.8" y="2061.4"/><use href="#pr" x="1599.3" y="2106.9"/><use href="#pr" x="1622.3" y="2039.4"/><use href="#pr" x="1618.1" y="2050.2"/><use href="#pr" x="1591.4" y="2103.7"/><use href="#pr" x="1606.6" y="2107.3"/><use href="#pr" x="1620.8" y="2047.4"/><use href="#pr" x="1603.3" y="2101.4"/><use href="#pr" x="1617.6" y="2106.1"/><use href="#pr" x="1598.1" y="2103.1"/><use href="#pr" x="1621.4" y="2048.9"/><use href="#pr" x="1613.8" y="2102.0"/><use href="#pr" x="1605.3" y="2096.1"/><use href="#pr" x="1606.7" y="2090.9"/><use href="#pr" x="1606.2" y="2099.9"/><use href="#pr" x="1607.5" y="2063.4"/><use href="#pr" x="1617.0" y="2085.5"/><use href="#pr" x="1608.9" y="2089.6"/><use href="#pr" x="1612.9" y="2075.5"/><use href="#pr" x="1591.9" y="2107.5"/><use href="#pr" x="1609.4" y="2058.4"/><use href="#pr" x="1622.5" y="2058.7"/><use href="#pr" x="1612.0" y="2083.9"/><use href="#pr" x="1599.6" y="2103.0"/><use href="#pr" x="1621.1" y="2065.0"/><use href="#pr" x="1589.9" y="2104.3"/><use href="#pr" x="1591.8" y="2101.7"/><use href="#pr" x="1601.3" y="2087.5"/><use href="#pr" x="1598.1" y="2091.7"/><use href="#pr" x="1601.0" y="2085.8"/><use href="#pr" x="1615.7" y="2053.4"/><use href="#pr" x="1603.8" y="2091.4"/><use href="#pr" x="1603.0" y="2098.3"/><use href="#pr" x="1616.1" y="2050.3"/><use href="#pr" x="1617.0" y="2089.6"/><use href="#pr" x="1604.4" y="2091.1"/><use href="#pr" x="1620.4" y="2093.7"/><use href="#pr" x="1598.1" y="2106.5"/><use href="#pr" x="1608.2" y="2105.7"/><use href="#pr" x="1620.8" y="2036.1"/><use href="#pr" x="1609.6" y="2088.1"/><use href="#pr" x="1620.9" y="2100.9"/><use href="#pr" x="1607.0" y="2065.8"/><use href="#pr" x="1591.7" y="2103.8"/><use href="#pr" x="1607.2" y="2101.5"/><use href="#pr" x="1595.6" y="2107.0"/><use href="#pr" x="1614.0" y="2100.8"/><use href="#pr" x="1599.1" y="2082.8"/><use href="#pr" x="1609.6" y="2095.3"/><use href="#pr" x="1592.5" y="2108.1"/><use href="#pr" x="1598.2" y="2101.8"/><use href="#pr" x="1592.9" y="2105.6"/><use href="#pr" x="1594.2" y="2091.5"/><use href="#pr" x="1613.8" y="2100.2"/><use href="#pr" x="1602.9" y="2107.5"/><use href="#pr" x="1604.9" y="2098.7"/><use href="#pr" x="1601.7" y="2106.8"/><use href="#pr" x="1600.9" y="2102.1"/><use href="#pr" x="1605.0" y="2080.0"/><use href="#pr" x="1618.3" y="2091.0"/><use href="#pr" x="1600.0" y="2088.0"/><use href="#pr" x="1593.5" y="2109.0"/><use href="#pr" x="1611.3" y="2093.4"/><use href="#pr" x="1593.7" y="2100.3"/><use href="#pr" x="1613.3" y="2102.6"/><use href="#pr" x="1609.5" y="2095.0"/><use href="#pr" x="1622.1" y="2064.6"/><use href="#pr" x="1593.6" y="2102.4"/><use href="#pr" x="1609.3" y="2064.8"/><use href="#pr" x="1591.1" y="2094.7"/><use href="#pr" x="1598.9" y="2105.2"/><use href="#pr" x="1612.2" y="2093.4"/><use href="#pr" x="1596.8" y="2089.2"/><use href="#pr" x="1596.2" y="2106.6"/><use href="#pr" x="1616.5" y="2043.3"/><use href="#pr" x="1612.9" y="2077.5"/><use href="#pr" x="1610.1" y="2073.4"/><use href="#pr" x="1622.4" y="2048.6"/><use href="#pr" x="1592.8" y="2097.2"/><use href="#pr" x="1612.6" y="2071.6"/><use href="#pr" x="1617.0" y="2060.0"/><use href="#pr" x="1596.9" y="2094.8"/><use href="#pr" x="1598.6" y="2089.7"/><use href="#pr" x="1598.0" y="2083.4"/><use href="#pr" x="1598.4" y="2082.5"/><use href="#pr" x="1600.1" y="2107.6"/><use href="#pr" x="1617.3" y="2048.4"/><use href="#pr" x="1620.5" y="2046.4"/><use href="#pr" x="1599.9" y="2106.1"/><use href="#pr" x="1593.7" y="2095.6"/><use href="#pr" x="1616.8" y="2090.7"/><use href="#pr" x="1601.3" y="2089.0"/><use href="#pr" x="1604.7" y="2074.0"/><use href="#pr" x="1613.6" y="2058.9"/><use href="#pr" x="1590.7" y="2097.4"/><use href="#pr" x="1609.7" y="2099.5"/><use href="#pr" x="1607.6" y="2093.3"/><use href="#pr" x="1601.7" y="2107.3"/><use href="#pr" x="1614.4" y="2105.7"/><use href="#pr" x="1619.6" y="2091.4"/><use href="#pr" x="1606.2" y="2074.8"/><use href="#pr" x="1611.8" y="2059.9"/><use href="#pr" x="1607.7" y="2063.1"/><use href="#pr" x="1613.1" y="2093.8"/><use href="#pr" x="1618.5" y="2056.2"/><use href="#pr" x="1604.4" y="2069.8"/><use href="#pr" x="1607.7" y="2073.9"/><use href="#pr" x="1618.4" y="2044.8"/><use href="#pr" x="1620.9" y="2099.1"/><use href="#pr" x="1589.8" y="2108.7"/><use href="#pr" x="1591.0" y="2094.4"/><use href="#pr" x="1621.1" y="2082.6"/><use href="#pr" x="1593.9" y="1998.5"/><use href="#pr" x="1579.8" y="2077.3"/><use href="#pr" x="1620.3" y="2077.7"/><use href="#pr" x="1599.0" y="2099.2"/><use href="#pr" x="1611.1" y="2098.9"/><use href="#pr" x="1621.4" y="2092.5"/><use href="#pr" x="1613.7" y="2078.5"/><use href="#pr" x="1610.0" y="2091.2"/><use href="#pr" x="1605.1" y="2067.5"/><use href="#pr" x="1619.2" y="2073.1"/><use href="#pr" x="1596.7" y="2084.3"/><use href="#pr" x="1614.2" y="2026.8"/><use href="#pr" x="1594.6" y="2041.7"/><use href="#pr" x="1582.3" y="2080.7"/><use href="#pr" x="1551.7" y="2025.1"/><use href="#pr" x="1601.5" y="2074.6"/><use href="#pr" x="1598.9" y="2096.3"/><use href="#pr" x="1592.8" y="2037.1"/><use href="#pr" x="1615.8" y="2080.7"/><use href="#pr" x="1584.8" y="2074.9"/><use href="#pr" x="1599.4" y="2057.6"/><use href="#pr" x="1613.4" y="2074.6"/><use href="#pr" x="1619.6" y="2099.8"/><use href="#pr" x="1608.9" y="2100.9"/><use href="#pr" x="1605.9" y="2099.4"/><use href="#pr" x="1594.5" y="2098.3"/><use href="#pr" x="1610.3" y="2036.6"/><use href="#pr" x="1604.7" y="2060.8"/><use href="#pr" x="1598.0" y="2064.9"/><use href="#pr" x="1611.0" y="2099.4"/><use href="#pr" x="1618.3" y="2076.3"/><use href="#pr" x="1604.5" y="2061.2"/><use href="#pr" x="1605.2" y="2057.0"/><use href="#pr" x="1618.2" y="2098.8"/><use href="#pr" x="1615.0" y="2074.0"/><use href="#pr" x="1617.5" y="2020.7"/><use href="#pr" x="1579.3" y="2090.1"/><use href="#pr" x="1620.3" y="2037.6"/><use href="#pr" x="1620.2" y="2082.2"/><use href="#pr" x="1620.9" y="2096.8"/><use href="#pr" x="1618.4" y="2095.0"/><use href="#pr" x="1609.2" y="2041.1"/><use href="#pr" x="1596.8" y="2059.1"/><use href="#pr" x="1619.7" y="2058.4"/><use href="#pr" x="1792.2" y="1659.8"/><use href="#pr" x="1796.8" y="1663.0"/><use href="#pr" x="1803.7" y="1673.1"/><use href="#pr" x="1796.4" y="1709.7"/><use href="#pr" x="1761.1" y="1737.6"/><use href="#pr" x="1757.9" y="1752.7"/><use href="#pr" x="1760.2" y="1784.3"/><use href="#pr" x="1719.0" y="1802.6"/><use href="#pr" x="1728.2" y="1801.2"/><use href="#pr" x="1741.9" y="1813.1"/><use href="#pr" x="1739.2" y="1820.9"/><use href="#pr" x="1755.2" y="1842.9"/><use href="#pr" x="1818.3" y="2037.3"/><use href="#pr" x="1777.1" y="2028.2"/><use href="#pr" x="1759.8" y="2061.1"/><use href="#pr" x="1751.1" y="1966.0"/><use href="#pr" x="1747.4" y="2097.7"/><use href="#pr" x="1761.1" y="1784.7"/><use href="#pr" x="1718.4" y="1802.8"/><use href="#pr" x="1727.9" y="1800.9"/><use href="#pr" x="1740.3" y="1814.2"/><use href="#pr" x="1727.0" y="1840.7"/><use href="#pr" x="1755.4" y="1842.6"/><use href="#pr" x="1730.8" y="1847.4"/><use href="#pr" x="1741.2" y="1846.4"/><use href="#pr" x="1732.7" y="1874.9"/><use href="#pr" x="1738.4" y="1878.7"/><use href="#pr" x="1689.0" y="1884.0"/><use href="#pr" x="1692.8" y="1886.3"/><use href="#pr" x="1696.6" y="1889.1"/><use href="#pr" x="1701.4" y="1892.9"/><use href="#pr" x="1738.4" y="1899.5"/><use href="#pr" x="1755.4" y="1898.6"/><use href="#pr" x="1670.1" y="1904.3"/><use href="#pr" x="1690.9" y="1904.3"/><use href="#pr" x="1705.2" y="1906.2"/><use href="#pr" x="1681.4" y="1911.9"/><use href="#pr" x="1728.9" y="1912.8"/><use href="#pr" x="1738.4" y="1910.9"/><use href="#pr" x="1734.6" y="1906.2"/><use href="#pr" x="1716.5" y="1922.3"/><use href="#pr" x="1676.7" y="1931.8"/><use href="#pr" x="1718.4" y="1932.8"/><use href="#pr" x="1725.1" y="1931.8"/><use href="#pr" x="1752.6" y="1935.6"/><use href="#pr" x="1702.3" y="1943.2"/><use href="#pr" x="1673.9" y="1947.0"/><use href="#pr" x="1683.3" y="1949.8"/><use href="#pr" x="1696.6" y="1952.7"/><use href="#pr" x="1730.8" y="1963.1"/><use href="#pr" x="1751.7" y="1965.0"/><use href="#pr" x="1721.3" y="1969.8"/><use href="#pr" x="1778.2" y="2028.6"/><use href="#pr" x="1759.2" y="2062.4"/><use href="#pr" x="1714.6" y="2013.4"/><use href="#pr" x="1715.6" y="2026.7"/><use href="#pr" x="1730.8" y="2000.5"/><use href="#pr" x="1746.0" y="2100.7"/><use href="#pr" x="1738.4" y="2107.3"/><use href="#pr" x="1727.0" y="2106.4"/><use href="#pr" x="1728.9" y="2091.2"/><use href="#pr" x="1733.6" y="2084.6"/><use href="#pr" x="1727.0" y="2077.0"/><use href="#pr" x="1692.8" y="2098.8"/><use href="#pr" x="1706.1" y="2100.7"/><use href="#pr" x="1696.6" y="2091.2"/><use href="#pr" x="1704.2" y="2087.4"/><use href="#pr" x="1486.8" y="1822.8"/><use href="#pr" x="1486.8" y="1873.7"/><use href="#pr" x="1476.5" y="1913.4"/><use href="#pr" x="1450.6" y="1921.1"/><use href="#pr" x="1406.5" y="1927.0"/><use href="#pr" x="1375.4" y="1935.5"/><use href="#pr" x="1382.2" y="1967.0"/><use href="#pr" x="1609.7" y="1914.1"/><use href="#pr" x="1585.4" y="1928.1"/><use href="#pr" x="1576.0" y="1932.8"/><use href="#pr" x="1507.2" y="1937.5"/><use href="#pr" x="1585.4" y="1960.8"/><use href="#pr" x="1584.0" y="1971.9"/><use href="#pr" x="1515.8" y="1972.5"/><use href="#pr" x="1572.3" y="1979.3"/><use href="#pr" x="1597.0" y="1981.2"/><use href="#pr" x="1614.5" y="1980.2"/><use href="#pr" x="1549.4" y="1990.0"/><use href="#pr" x="1590.8" y="1988.4"/><use href="#pr" x="1601.9" y="1990.9"/><use href="#pr" x="1611.6" y="1996.8"/><use href="#pr" x="1568.8" y="2000.6"/><use href="#pr" x="1580.5" y="2000.6"/><use href="#pr" x="1616.5" y="2004.5"/><use href="#pr" x="1477.5" y="2007.4"/><use href="#pr" x="1507.6" y="2018.1"/><use href="#pr" x="1595.7" y="2017.2"/><use href="#pr" x="1611.6" y="2016.2"/><use href="#pr" x="1619.4" y="2013.3"/><use href="#pr" x="1578.2" y="2026.9"/><use href="#pr" x="1593.5" y="2026.9"/><use href="#pr" x="1614.5" y="2026.9"/><use href="#pr" x="1530.9" y="2031.7"/><use href="#pr" x="1552.9" y="2038.0"/><use href="#pr" x="1585.4" y="2036.6"/><use href="#pr" x="1614.5" y="2036.6"/><use href="#pr" x="1504.1" y="2043.8"/><use href="#pr" x="1604.8" y="2048.7"/><use href="#pr" x="1512.1" y="2057.0"/><use href="#pr" x="1587.9" y="2056.0"/><use href="#pr" x="1557.6" y="2060.9"/><use href="#pr" x="1595.7" y="2061.9"/><use href="#pr" x="1603.8" y="2059.0"/><use href="#pr" x="1533.3" y="2066.7"/><use href="#pr" x="1561.1" y="2069.7"/><use href="#pr" x="1574.7" y="2069.7"/><use href="#pr" x="1585.4" y="2069.7"/><use href="#pr" x="1567.9" y="2078.4"/><use href="#pr" x="1581.5" y="2078.4"/><use href="#pr" x="1572.7" y="2082.3"/><use href="#pr" x="1585.4" y="2084.2"/><use href="#pr" x="1562.0" y="2090.1"/><use href="#pr" x="1456.1" y="2090.1"/><use href="#pr" x="1452.2" y="2092.4"/><use href="#pr" x="1455.5" y="2095.3"/><use href="#pr" x="1469.3" y="2102.7"/><use href="#pr" x="1517.9" y="2098.8"/><use href="#pr" x="1547.8" y="2103.7"/><use href="#pr" x="1578.2" y="2094.9"/>
<line x1="1623.3" y1="1641.0" x2="1623.3" y2="2164.0" stroke="#333" stroke-width="1.2" stroke-dasharray="5 3"/>
<line x1="1662.2" y1="1641.0" x2="1662.2" y2="2164.0" stroke="#333" stroke-width="1.2" stroke-dasharray="5 3"/>
<line x1="1324.0" y1="2108.5" x2="1840.0" y2="2108.5" stroke="#333" stroke-width="1.4" stroke-dasharray="7.5 4"/>
<line x1="1322.5" y1="1618.6" x2="1322.5" y2="2165.9" stroke="#000" stroke-width="3.1"/>
<line x1="1321.0" y1="2164.7" x2="1840.0" y2="2164.7" stroke="#000" stroke-width="2.4"/>
<line x1="1841.0" y1="2163.8" x2="1882.4" y2="2163.8" stroke="#000" stroke-width="2.2"/>
<line x1="1301.6" y1="1649.4" x2="1322.5" y2="1649.4" stroke="#000" stroke-width="2.5"/>
<line x1="1301.6" y1="1811.9" x2="1322.5" y2="1811.9" stroke="#000" stroke-width="2.5"/>
<line x1="1301.6" y1="1974.8" x2="1322.5" y2="1974.8" stroke="#000" stroke-width="2.5"/>
<line x1="1301.6" y1="2137.0" x2="1322.5" y2="2137.0" stroke="#000" stroke-width="2.5"/>
<line x1="1447.7" y1="2164.7" x2="1447.7" y2="2183.1" stroke="#000" stroke-width="2.5"/>
<line x1="1643.0" y1="2164.7" x2="1643.0" y2="2183.1" stroke="#000" stroke-width="2.5"/>
<line x1="1838.0" y1="2164.7" x2="1838.0" y2="2183.1" stroke="#000" stroke-width="2.5"/>
<text x="1295.0" y="1662.2" font-size="38.5" text-anchor="end">15</text>
<text x="1295.0" y="1823.6" font-size="38.5" text-anchor="end">10</text>
<text x="1295.0" y="1988.9" font-size="38.5" text-anchor="end">5</text>
<text x="1295.0" y="2150.9" font-size="38.5" text-anchor="end">0</text>
<text x="1441.0" y="2223.0" font-size="38.5" text-anchor="middle">-1</text>
<text x="1647.4" y="2223.0" font-size="38.5" text-anchor="middle">0</text>
<text x="1837.5" y="2223.0" font-size="38.5" text-anchor="middle">1</text>
<text x="1199" y="2271" font-size="40" textLength="728" lengthAdjust="spacingAndGlyphs" xml:space="preserve">Log<tspan font-size="26" dy="8">2</tspan><tspan dy="-8"> fold change.  Total = 4160 variables</tspan></text>
<text transform="translate(1240.4,1935.8) rotate(-90)" font-size="40" textLength="137.5" lengthAdjust="spacingAndGlyphs">-Log<tspan font-size="26" dy="8">10</tspan><tspan dy="-8" font-style="italic">P</tspan></text>
<circle cx="1366" cy="1535.4" r="10.6" fill="#999999" stroke="#000" stroke-opacity=".18" stroke-width="1"/>
<circle cx="1493.4" cy="1531.4" r="10.6" fill="#7ab97a" stroke="#000" stroke-opacity=".18" stroke-width="1"/>
<circle cx="1700.7" cy="1534.2" r="10.6" fill="#8da5ed" stroke="#000" stroke-opacity=".18" stroke-width="1"/>
<circle cx="1368.8" cy="1595.3" r="10.6" fill="#f57a7f" stroke="#000" stroke-opacity=".18" stroke-width="1"/>
<text x="1390.5" y="1543.4" font-size="38" textLength="56.0" lengthAdjust="spacingAndGlyphs">NS</text>
<text x="1515.5" y="1542.2" font-size="39" textLength="146" lengthAdjust="spacingAndGlyphs">Log<tspan font-size="25" dy="8">2</tspan><tspan dy="-8"> FC</tspan></text>
<text x="1726.0" y="1534.2" font-size="39" textLength="132.0" lengthAdjust="spacingAndGlyphs">p-value</text>
<text x="1391" y="1598.5" font-size="39" textLength="368" lengthAdjust="spacingAndGlyphs">p-value and Log<tspan font-size="25" dy="8">2</tspan><tspan dy="-8"> FC</tspan></text>
<text x="1727.5" y="1828.4" font-size="20.5" textLength="50.5" lengthAdjust="spacingAndGlyphs">fn1a</text>
<text x="1684.7" y="1859.7" font-size="20.5" textLength="38.5" lengthAdjust="spacingAndGlyphs">dcn</text>
<text x="1738.8" y="1863.5" font-size="20.5" textLength="89.7" lengthAdjust="spacingAndGlyphs">cxcl12a</text>
<text x="1705.5" y="1895.7" font-size="20.5" textLength="61.4" lengthAdjust="spacingAndGlyphs">fstl1b</text>
<text x="1707.5" y="1953.6" font-size="20.5" textLength="61.3" lengthAdjust="spacingAndGlyphs">mdka</text>
<text x="1625.0" y="1984.6" font-size="20.5" textLength="91.6" lengthAdjust="spacingAndGlyphs">vcam1b</text>
<text x="1731.2" y="1984.6" font-size="20.5" textLength="67.8" lengthAdjust="spacingAndGlyphs">rspo3</text>
<text x="1736.9" y="2022.9" font-size="20.5" textLength="54.6" lengthAdjust="spacingAndGlyphs">fgl2b</text>
<text x="1625.0" y="2031.4" font-size="20.5" textLength="71.7" lengthAdjust="spacingAndGlyphs">tgfb1a</text>
<text x="1709.5" y="2058.0" font-size="20.5" textLength="66.9" lengthAdjust="spacingAndGlyphs">loxl2a</text>
<text x="1611.7" y="2079.8" font-size="20.5" textLength="79.3" lengthAdjust="spacingAndGlyphs">efnb2a</text>
<text x="1609.2" y="2128.2" font-size="20.5" textLength="79.8" lengthAdjust="spacingAndGlyphs">vegfaa</text>
<path d="M1732.5,1837.5l3,-5.5 3,5.5z" fill="#fff" stroke="#000" stroke-width="1.3" stroke-linejoin="round"/>
<path d="M1724.0,1866.9l3,-5.5 3,5.5z" fill="#fff" stroke="#000" stroke-width="1.3" stroke-linejoin="round"/>
<path d="M1762.9,1870.7l3,-5.5 3,5.5z" fill="#fff" stroke="#000" stroke-width="1.3" stroke-linejoin="round"/>
<path d="M1750.5,1875.5l3,-5.5 3,5.5z" fill="#fff" stroke="#000" stroke-width="1.3" stroke-linejoin="round"/>
<path d="M1718.3,1961.8l3,-5.5 3,5.5z" fill="#fff" stroke="#000" stroke-width="1.3" stroke-linejoin="round"/>
<path d="M1722.1,1986.5l3,-5.5 3,5.5z" fill="#fff" stroke="#000" stroke-width="1.3" stroke-linejoin="round"/>
<path d="M1725.5,1990.3l3,-5.5 3,5.5z" fill="#fff" stroke="#000" stroke-width="1.3" stroke-linejoin="round"/>
<path d="M1743.9,2001.7l3,-5.5 3,5.5z" fill="#fff" stroke="#000" stroke-width="1.3" stroke-linejoin="round"/>
<path d="M1689.4,2011.7l3,-5.5 3,5.5z" fill="#fff" stroke="#000" stroke-width="1.3" stroke-linejoin="round"/>
<path d="M1723.0,2038.3l3,-5.5 3,5.5z" fill="#fff" stroke="#000" stroke-width="1.3" stroke-linejoin="round"/>
<path d="M1664.8,2059.5l3,-5.5 3,5.5z" fill="#fff" stroke="#000" stroke-width="1.3" stroke-linejoin="round"/>
<path d="M1663.8,2108.9l3,-5.5 3,5.5z" fill="#fff" stroke="#000" stroke-width="1.3" stroke-linejoin="round"/>
</svg>
</body></html>
